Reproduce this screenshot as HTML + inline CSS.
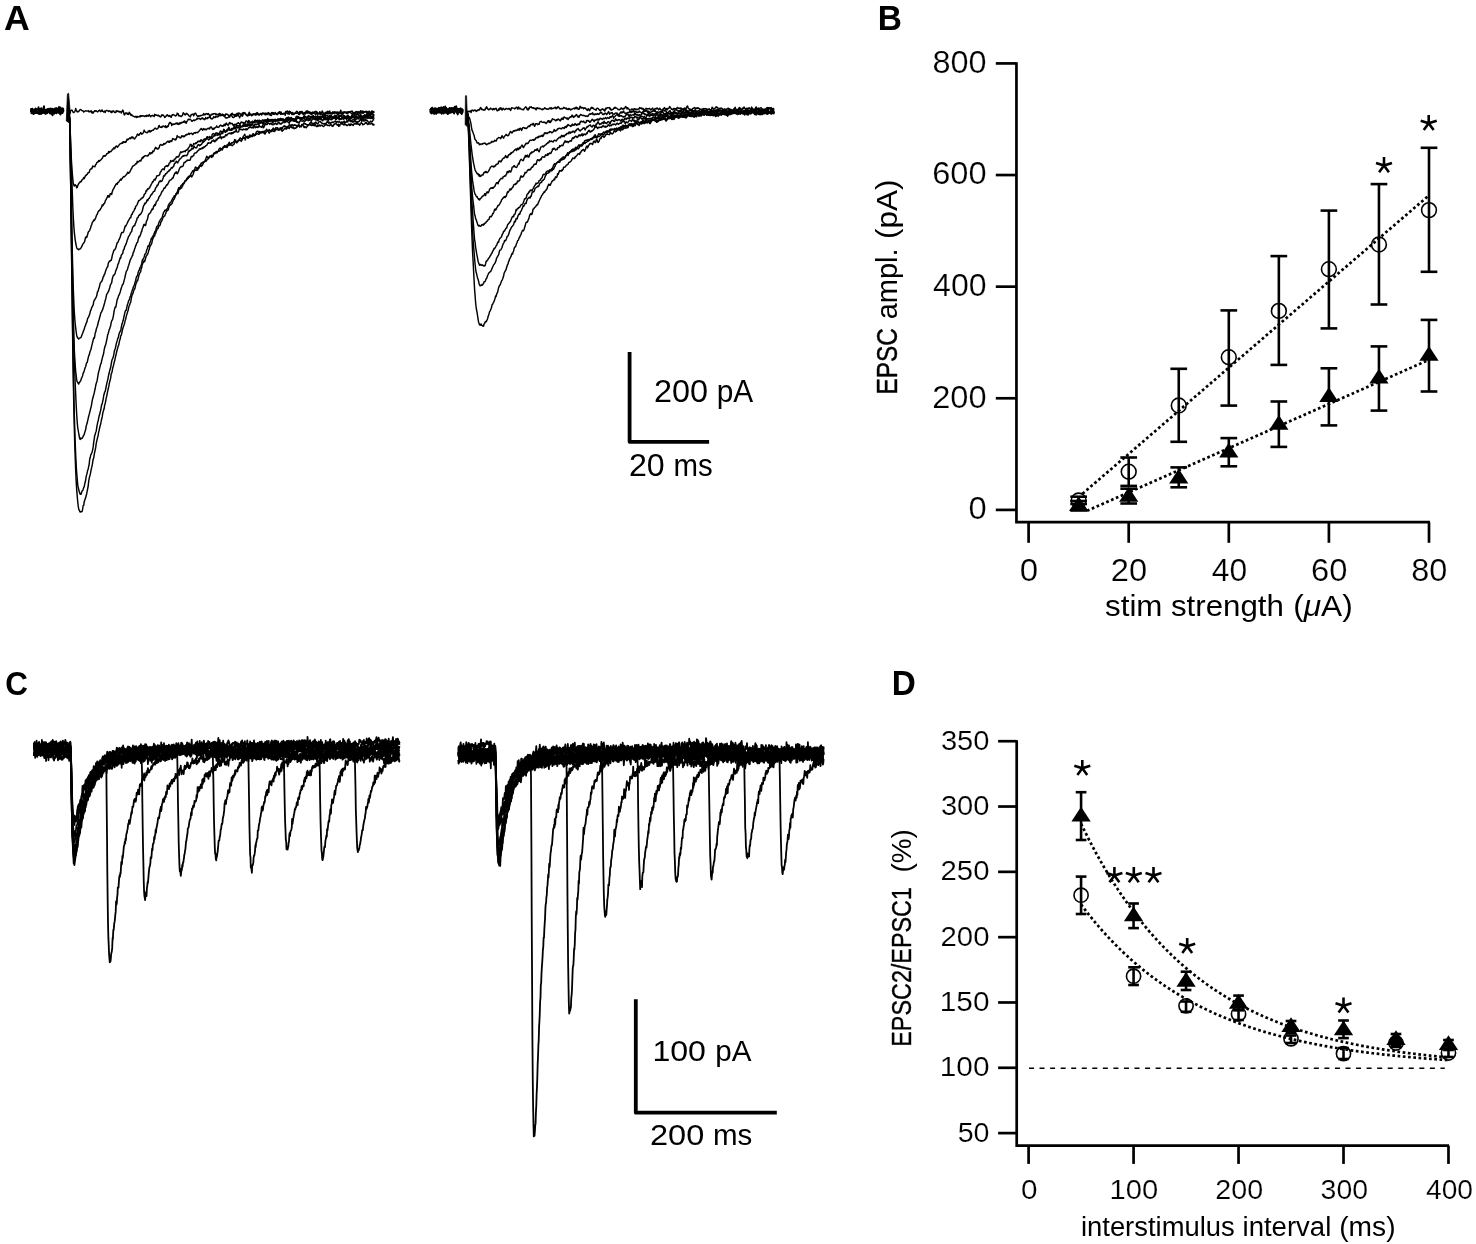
<!DOCTYPE html>
<html><head><meta charset="utf-8"><style>
html,body{margin:0;padding:0;background:#fff;}
svg{display:block;will-change:transform;}
text{font-family:"Liberation Sans",sans-serif;fill:#000;stroke:none;}.n{stroke:#fff;stroke-width:0.6px;stroke-linejoin:round;}.b{stroke:#000;stroke-width:1.4px;stroke-linejoin:round;}
</style></head><body>
<svg width="1476" height="1244" viewBox="0 0 1476 1244" stroke="#000" stroke-linecap="butt">
<text transform="matrix(0.35672,0,0,0.34909,4.108,29.900)" font-size="100" font-weight="bold">A</text>
<text transform="matrix(0.33443,0,0,0.34909,877.843,29.900)" font-size="100" font-weight="bold">B</text>
<text transform="matrix(0.31450,0,0,0.34064,5.142,694.659)" font-size="100" font-weight="bold">C</text>
<text transform="matrix(0.33306,0,0,0.34327,891.852,694.700)" font-size="100" font-weight="bold">D</text>
<path d="M629.6,351.9V441.8H709.1" fill="none" stroke-width="3.8" stroke-linejoin="round"/>
<text transform="matrix(0.32405,0,0,0.31378,653.980,402.086)" font-size="100">200</text>
<text transform="matrix(0.29870,0,0,0.31378,716.658,402.086)" font-size="100">pA</text>
<text transform="matrix(0.32176,0,0,0.31095,628.891,475.589)" font-size="100">20</text>
<text transform="matrix(0.29431,0,0,0.31095,673.613,475.589)" font-size="100">ms</text>
<path d="M635.8,999.3V1112.7H776.8" fill="none" stroke-width="3.8" stroke-linejoin="round"/>
<text transform="matrix(0.32090,0,0,0.30247,652.393,1060.598)" font-size="100">100</text>
<text transform="matrix(0.29610,0,0,0.30247,715.175,1060.598)" font-size="100">pA</text>
<text transform="matrix(0.32532,0,0,0.29399,649.973,1144.806)" font-size="100">200</text>
<text transform="matrix(0.29512,0,0,0.29399,713.008,1144.806)" font-size="100">ms</text>
<path d="M1016.45,62.3V522.2H1430.0" fill="none" stroke-width="2.7" stroke-linejoin="miter"/>
<line x1="995.80" y1="509.90" x2="1016.45" y2="509.90" stroke-width="2.7"/>
<text transform="matrix(0.32670,0,0,0.30671,968.393,519.143)" font-size="100" class="n">0</text>
<line x1="995.80" y1="398.28" x2="1016.45" y2="398.28" stroke-width="2.7"/>
<text transform="matrix(0.32595,0,0,0.30671,932.170,407.523)" font-size="100" class="n">200</text>
<line x1="995.80" y1="286.66" x2="1016.45" y2="286.66" stroke-width="2.7"/>
<text transform="matrix(0.32037,0,0,0.30671,933.079,295.903)" font-size="100" class="n">400</text>
<line x1="995.80" y1="175.04" x2="1016.45" y2="175.04" stroke-width="2.7"/>
<text transform="matrix(0.32595,0,0,0.30671,932.170,184.283)" font-size="100" class="n">600</text>
<line x1="995.80" y1="63.42" x2="1016.45" y2="63.42" stroke-width="2.7"/>
<text transform="matrix(0.32441,0,0,0.30671,932.421,72.663)" font-size="100" class="n">800</text>
<line x1="1028.60" y1="522.20" x2="1028.60" y2="542.80" stroke-width="2.7"/>
<text transform="matrix(0.33089,0,0,0.30954,1019.776,581.390)" font-size="100" class="n">0</text>
<line x1="1128.70" y1="522.20" x2="1128.70" y2="542.80" stroke-width="2.7"/>
<text transform="matrix(0.32665,0,0,0.30954,1110.767,581.390)" font-size="100" class="n">20</text>
<line x1="1228.80" y1="522.20" x2="1228.80" y2="542.80" stroke-width="2.7"/>
<text transform="matrix(0.31810,0,0,0.30954,1211.784,581.390)" font-size="100" class="n">40</text>
<line x1="1328.90" y1="522.20" x2="1328.90" y2="542.80" stroke-width="2.7"/>
<text transform="matrix(0.32665,0,0,0.30954,1310.967,581.390)" font-size="100" class="n">60</text>
<line x1="1429.00" y1="522.20" x2="1429.00" y2="542.80" stroke-width="2.7"/>
<text transform="matrix(0.32427,0,0,0.30954,1411.322,581.390)" font-size="100" class="n">80</text>
<text transform="matrix(0.31322,0,0,0.29763,1105.039,616.300)" font-size="100">stim</text>
<text transform="matrix(0.31278,0,0,0.29763,1170.940,616.300)" font-size="100">strength</text>
<text transform="matrix(0.31641,0,0,0.29763,1293.222,616.300)" font-size="100">(<tspan font-style="italic">μ</tspan>A)</text>
<text transform="matrix(0,-0.24385,0.29673,0,896.900,394.612)" font-size="100" class="b">EPSC</text>
<text transform="matrix(0,-0.29016,0.29673,0,896.900,319.333)" font-size="100">ampl.</text>
<text transform="matrix(0,-0.31489,0.29673,0,896.900,239.068)" font-size="100">(pA)</text>
<line x1="1082.5" y1="493.7" x2="1427.6" y2="196.5" stroke-width="2.7" stroke-dasharray="2.7 2.56"/>
<line x1="1087.0" y1="510.8" x2="1429.0" y2="359.8" stroke-width="2.7" stroke-dasharray="2.7 2.56"/>
<line x1="1078.65" y1="496.70" x2="1078.65" y2="504.00" stroke-width="2.6"/>
<line x1="1070.30" y1="496.70" x2="1087.00" y2="496.70" stroke-width="2.6"/>
<line x1="1070.30" y1="504.00" x2="1087.00" y2="504.00" stroke-width="2.6"/>
<circle cx="1078.65" cy="500.50" r="7.4" fill="none" stroke-width="1.6"/>
<line x1="1128.70" y1="457.50" x2="1128.70" y2="485.90" stroke-width="2.6"/>
<line x1="1120.35" y1="457.50" x2="1137.05" y2="457.50" stroke-width="2.6"/>
<line x1="1120.35" y1="485.90" x2="1137.05" y2="485.90" stroke-width="2.6"/>
<circle cx="1128.70" cy="471.70" r="7.4" fill="none" stroke-width="1.6"/>
<line x1="1178.75" y1="368.80" x2="1178.75" y2="441.80" stroke-width="2.6"/>
<line x1="1170.40" y1="368.80" x2="1187.10" y2="368.80" stroke-width="2.6"/>
<line x1="1170.40" y1="441.80" x2="1187.10" y2="441.80" stroke-width="2.6"/>
<circle cx="1178.75" cy="405.50" r="7.4" fill="none" stroke-width="1.6"/>
<line x1="1228.80" y1="310.40" x2="1228.80" y2="405.60" stroke-width="2.6"/>
<line x1="1220.45" y1="310.40" x2="1237.15" y2="310.40" stroke-width="2.6"/>
<line x1="1220.45" y1="405.60" x2="1237.15" y2="405.60" stroke-width="2.6"/>
<circle cx="1228.80" cy="357.20" r="7.4" fill="none" stroke-width="1.6"/>
<line x1="1278.85" y1="256.10" x2="1278.85" y2="364.90" stroke-width="2.6"/>
<line x1="1270.50" y1="256.10" x2="1287.20" y2="256.10" stroke-width="2.6"/>
<line x1="1270.50" y1="364.90" x2="1287.20" y2="364.90" stroke-width="2.6"/>
<circle cx="1278.85" cy="310.90" r="7.4" fill="none" stroke-width="1.6"/>
<line x1="1328.90" y1="210.60" x2="1328.90" y2="328.40" stroke-width="2.6"/>
<line x1="1320.55" y1="210.60" x2="1337.25" y2="210.60" stroke-width="2.6"/>
<line x1="1320.55" y1="328.40" x2="1337.25" y2="328.40" stroke-width="2.6"/>
<circle cx="1328.90" cy="269.20" r="7.4" fill="none" stroke-width="1.6"/>
<line x1="1378.95" y1="184.10" x2="1378.95" y2="304.50" stroke-width="2.6"/>
<line x1="1370.60" y1="184.10" x2="1387.30" y2="184.10" stroke-width="2.6"/>
<line x1="1370.60" y1="304.50" x2="1387.30" y2="304.50" stroke-width="2.6"/>
<circle cx="1378.95" cy="244.50" r="7.4" fill="none" stroke-width="1.6"/>
<line x1="1429.00" y1="147.80" x2="1429.00" y2="271.80" stroke-width="2.6"/>
<line x1="1420.65" y1="147.80" x2="1437.35" y2="147.80" stroke-width="2.6"/>
<line x1="1420.65" y1="271.80" x2="1437.35" y2="271.80" stroke-width="2.6"/>
<circle cx="1429.00" cy="210.10" r="7.4" fill="none" stroke-width="1.6"/>
<line x1="1078.65" y1="501.00" x2="1078.65" y2="510.50" stroke-width="2.6"/>
<line x1="1070.30" y1="501.00" x2="1087.00" y2="501.00" stroke-width="2.6"/>
<line x1="1070.30" y1="510.50" x2="1087.00" y2="510.50" stroke-width="2.6"/>
<path d="M1078.65,496.13L1088.25,510.93L1069.05,510.93Z" fill="#000" stroke="none"/>
<line x1="1128.70" y1="488.70" x2="1128.70" y2="503.50" stroke-width="2.6"/>
<line x1="1120.35" y1="488.70" x2="1137.05" y2="488.70" stroke-width="2.6"/>
<line x1="1120.35" y1="503.50" x2="1137.05" y2="503.50" stroke-width="2.6"/>
<path d="M1128.70,486.93L1138.30,501.73L1119.10,501.73Z" fill="#000" stroke="none"/>
<line x1="1178.75" y1="467.40" x2="1178.75" y2="487.30" stroke-width="2.6"/>
<line x1="1170.40" y1="467.40" x2="1187.10" y2="467.40" stroke-width="2.6"/>
<line x1="1170.40" y1="487.30" x2="1187.10" y2="487.30" stroke-width="2.6"/>
<path d="M1178.75,468.63L1188.35,483.43L1169.15,483.43Z" fill="#000" stroke="none"/>
<line x1="1228.80" y1="438.10" x2="1228.80" y2="466.30" stroke-width="2.6"/>
<line x1="1220.45" y1="438.10" x2="1237.15" y2="438.10" stroke-width="2.6"/>
<line x1="1220.45" y1="466.30" x2="1237.15" y2="466.30" stroke-width="2.6"/>
<path d="M1228.80,442.63L1238.40,457.43L1219.20,457.43Z" fill="#000" stroke="none"/>
<line x1="1278.85" y1="401.50" x2="1278.85" y2="446.90" stroke-width="2.6"/>
<line x1="1270.50" y1="401.50" x2="1287.20" y2="401.50" stroke-width="2.6"/>
<line x1="1270.50" y1="446.90" x2="1287.20" y2="446.90" stroke-width="2.6"/>
<path d="M1278.85,415.03L1288.45,429.83L1269.25,429.83Z" fill="#000" stroke="none"/>
<line x1="1328.90" y1="368.30" x2="1328.90" y2="425.40" stroke-width="2.6"/>
<line x1="1320.55" y1="368.30" x2="1337.25" y2="368.30" stroke-width="2.6"/>
<line x1="1320.55" y1="425.40" x2="1337.25" y2="425.40" stroke-width="2.6"/>
<path d="M1328.90,387.13L1338.50,401.93L1319.30,401.93Z" fill="#000" stroke="none"/>
<line x1="1378.95" y1="346.40" x2="1378.95" y2="410.60" stroke-width="2.6"/>
<line x1="1370.60" y1="346.40" x2="1387.30" y2="346.40" stroke-width="2.6"/>
<line x1="1370.60" y1="410.60" x2="1387.30" y2="410.60" stroke-width="2.6"/>
<path d="M1378.95,368.63L1388.55,383.43L1369.35,383.43Z" fill="#000" stroke="none"/>
<line x1="1429.00" y1="319.90" x2="1429.00" y2="391.50" stroke-width="2.6"/>
<line x1="1420.65" y1="319.90" x2="1437.35" y2="319.90" stroke-width="2.6"/>
<line x1="1420.65" y1="391.50" x2="1437.35" y2="391.50" stroke-width="2.6"/>
<path d="M1429.00,345.93L1438.60,360.73L1419.40,360.73Z" fill="#000" stroke="none"/>
<path d="M1384.00,165.50L1384.00,157.10M1384.00,165.50L1376.01,162.90M1384.00,165.50L1379.06,172.30M1384.00,165.50L1388.94,172.30M1384.00,165.50L1391.99,162.90" stroke-width="2.6" fill="none"/>
<path d="M1428.70,123.30L1428.70,114.90M1428.70,123.30L1420.71,120.70M1428.70,123.30L1423.76,130.10M1428.70,123.30L1433.64,130.10M1428.70,123.30L1436.69,120.70" stroke-width="2.6" fill="none"/>
<path d="M1016.7,740.2V1145.6H1449.0" fill="none" stroke-width="2.7"/>
<line x1="998.10" y1="1133.11" x2="1016.70" y2="1133.11" stroke-width="2.7"/>
<text transform="matrix(0.28668,0,0,0.27986,957.653,1141.628)" font-size="100" class="n">50</text>
<line x1="998.10" y1="1067.79" x2="1016.70" y2="1067.79" stroke-width="2.7"/>
<text transform="matrix(0.29839,0,0,0.27986,939.762,1076.312)" font-size="100" class="n">100</text>
<line x1="998.10" y1="1002.48" x2="1016.70" y2="1002.48" stroke-width="2.7"/>
<text transform="matrix(0.29839,0,0,0.27986,939.762,1010.996)" font-size="100" class="n">150</text>
<line x1="998.10" y1="937.16" x2="1016.70" y2="937.16" stroke-width="2.7"/>
<text transform="matrix(0.29367,0,0,0.27986,940.532,945.680)" font-size="100" class="n">200</text>
<line x1="998.10" y1="871.84" x2="1016.70" y2="871.84" stroke-width="2.7"/>
<text transform="matrix(0.29367,0,0,0.27986,940.532,880.364)" font-size="100" class="n">250</text>
<line x1="998.10" y1="806.53" x2="1016.70" y2="806.53" stroke-width="2.7"/>
<text transform="matrix(0.29137,0,0,0.27986,940.907,815.048)" font-size="100" class="n">300</text>
<line x1="998.10" y1="741.21" x2="1016.70" y2="741.21" stroke-width="2.7"/>
<text transform="matrix(0.29137,0,0,0.27986,940.907,749.732)" font-size="100" class="n">350</text>
<line x1="1028.60" y1="1145.60" x2="1028.60" y2="1163.90" stroke-width="2.7"/>
<text transform="matrix(0.29738,0,0,0.28127,1021.110,1199.319)" font-size="100" class="n">0</text>
<line x1="1133.57" y1="1145.60" x2="1133.57" y2="1163.90" stroke-width="2.7"/>
<text transform="matrix(0.29132,0,0,0.28127,1109.535,1199.319)" font-size="100" class="n">100</text>
<line x1="1238.54" y1="1145.60" x2="1238.54" y2="1163.90" stroke-width="2.7"/>
<text transform="matrix(0.28671,0,0,0.28127,1215.256,1199.319)" font-size="100" class="n">200</text>
<line x1="1343.51" y1="1145.60" x2="1343.51" y2="1163.90" stroke-width="2.7"/>
<text transform="matrix(0.28446,0,0,0.28127,1320.593,1199.319)" font-size="100" class="n">300</text>
<line x1="1448.48" y1="1145.60" x2="1448.48" y2="1163.90" stroke-width="2.7"/>
<text transform="matrix(0.28180,0,0,0.28127,1425.996,1199.319)" font-size="100" class="n">400</text>
<text transform="matrix(0.27405,0,0,0.26919,1080.950,1235.500)" font-size="100">interstimulus</text>
<text transform="matrix(0.27540,0,0,0.26919,1242.541,1235.500)" font-size="100">interval</text>
<text transform="matrix(0.28198,0,0,0.26919,1339.238,1235.500)" font-size="100">(ms)</text>
<text transform="matrix(0,-0.23371,0.27345,0,910.900,1046.728)" font-size="100" class="b">EPSC2/EPSC1</text>
<text transform="matrix(0,-0.27902,0.27345,0,910.900,872.544)" font-size="100">(%)</text>
<line x1="1029.0" y1="1068.2" x2="1444.8" y2="1068.2" stroke-width="1.5" stroke-dasharray="5.0 5.55"/>
<polyline points="1081.08,823.79 1082.92,827.58 1084.76,831.31 1086.60,834.98 1088.43,838.59 1090.27,842.15 1092.11,845.65 1093.94,849.10 1095.78,852.50 1097.62,855.84 1099.45,859.13 1101.29,862.37 1103.13,865.56 1104.97,868.70 1106.80,871.80 1108.64,874.84 1110.48,877.84 1112.31,880.79 1114.15,883.69 1115.99,886.55 1117.82,889.37 1119.66,892.14 1121.50,894.87 1123.34,897.55 1125.17,900.20 1127.01,902.80 1128.85,905.37 1130.68,907.89 1132.52,910.38 1134.36,912.82 1136.19,915.23 1138.03,917.60 1139.87,919.94 1141.71,922.23 1143.54,924.50 1145.38,926.72 1147.22,928.92 1149.05,931.07 1150.89,933.20 1152.73,935.29 1154.56,937.35 1156.40,939.38 1158.24,941.38 1160.07,943.34 1161.91,945.28 1163.75,947.18 1165.59,949.06 1167.42,950.90 1169.26,952.72 1171.10,954.51 1172.93,956.27 1174.77,958.01 1176.61,959.72 1178.44,961.40 1180.28,963.05 1182.12,964.68 1183.96,966.29 1185.79,967.87 1187.63,969.42 1189.47,970.95 1191.30,972.46 1193.14,973.94 1194.98,975.41 1196.81,976.84 1198.65,978.26 1200.49,979.65 1202.33,981.03 1204.16,982.38 1206.00,983.71 1207.84,985.02 1209.67,986.31 1211.51,987.58 1213.35,988.83 1215.18,990.06 1217.02,991.27 1218.86,992.46 1220.70,993.63 1222.53,994.79 1224.37,995.93 1226.21,997.05 1228.04,998.15 1229.88,999.24 1231.72,1000.30 1233.55,1001.36 1235.39,1002.39 1237.23,1003.41 1239.06,1004.42 1240.90,1005.41 1242.74,1006.38 1244.58,1007.34 1246.41,1008.28 1248.25,1009.21 1250.09,1010.12 1251.92,1011.02 1253.76,1011.91 1255.60,1012.78 1257.43,1013.64 1259.27,1014.49 1261.11,1015.32 1262.95,1016.14 1264.78,1016.95 1266.62,1017.74 1268.46,1018.52 1270.29,1019.29 1272.13,1020.05 1273.97,1020.80 1275.80,1021.53 1277.64,1022.25 1279.48,1022.97 1281.32,1023.67 1283.15,1024.36 1284.99,1025.04 1286.83,1025.71 1288.66,1026.36 1290.50,1027.01 1292.34,1027.65 1294.17,1028.28 1296.01,1028.90 1297.85,1029.51 1299.69,1030.11 1301.52,1030.70 1303.36,1031.28 1305.20,1031.85 1307.03,1032.41 1308.87,1032.97 1310.71,1033.52 1312.54,1034.05 1314.38,1034.58 1316.22,1035.10 1318.05,1035.62 1319.89,1036.12 1321.73,1036.62 1323.57,1037.11 1325.40,1037.59 1327.24,1038.06 1329.08,1038.53 1330.91,1038.99 1332.75,1039.44 1334.59,1039.89 1336.42,1040.33 1338.26,1040.76 1340.10,1041.19 1341.94,1041.60 1343.77,1042.02 1345.61,1042.42 1347.45,1042.82 1349.28,1043.22 1351.12,1043.60 1352.96,1043.98 1354.79,1044.36 1356.63,1044.73 1358.47,1045.09 1360.31,1045.45 1362.14,1045.80 1363.98,1046.15 1365.82,1046.49 1367.65,1046.83 1369.49,1047.16 1371.33,1047.49 1373.16,1047.81 1375.00,1048.12 1376.84,1048.43 1378.67,1048.74 1380.51,1049.04 1382.35,1049.34 1384.19,1049.63 1386.02,1049.92 1387.86,1050.20 1389.70,1050.48 1391.53,1050.76 1393.37,1051.03 1395.21,1051.29 1397.04,1051.55 1398.88,1051.81 1400.72,1052.07 1402.56,1052.32 1404.39,1052.56 1406.23,1052.81 1408.07,1053.04 1409.90,1053.28 1411.74,1053.51 1413.58,1053.74 1415.41,1053.96 1417.25,1054.18 1419.09,1054.40 1420.93,1054.61 1422.76,1054.82 1424.60,1055.03 1426.44,1055.24 1428.27,1055.44 1430.11,1055.63 1431.95,1055.83 1433.78,1056.02 1435.62,1056.21 1437.46,1056.40 1439.30,1056.58 1441.13,1056.76 1442.97,1056.94 1444.81,1057.11 1446.64,1057.28 1448.48,1057.45" fill="none" stroke-width="2.7" stroke-dasharray="2.7 2.56"/>
<polyline points="1081.08,904.50 1082.92,906.95 1084.76,909.36 1086.60,911.73 1088.43,914.07 1090.27,916.37 1092.11,918.64 1093.94,920.88 1095.78,923.08 1097.62,925.25 1099.45,927.38 1101.29,929.49 1103.13,931.56 1104.97,933.60 1106.80,935.61 1108.64,937.60 1110.48,939.55 1112.31,941.47 1114.15,943.36 1115.99,945.23 1117.82,947.07 1119.66,948.88 1121.50,950.66 1123.34,952.42 1125.17,954.15 1127.01,955.85 1128.85,957.53 1130.68,959.18 1132.52,960.81 1134.36,962.42 1136.19,964.00 1138.03,965.56 1139.87,967.09 1141.71,968.60 1143.54,970.09 1145.38,971.56 1147.22,973.00 1149.05,974.42 1150.89,975.82 1152.73,977.21 1154.56,978.56 1156.40,979.90 1158.24,981.22 1160.07,982.52 1161.91,983.80 1163.75,985.07 1165.59,986.31 1167.42,987.53 1169.26,988.74 1171.10,989.92 1172.93,991.09 1174.77,992.25 1176.61,993.38 1178.44,994.50 1180.28,995.60 1182.12,996.69 1183.96,997.76 1185.79,998.81 1187.63,999.84 1189.47,1000.87 1191.30,1001.87 1193.14,1002.86 1194.98,1003.84 1196.81,1004.80 1198.65,1005.75 1200.49,1006.68 1202.33,1007.60 1204.16,1008.51 1206.00,1009.40 1207.84,1010.28 1209.67,1011.14 1211.51,1012.00 1213.35,1012.84 1215.18,1013.66 1217.02,1014.48 1218.86,1015.28 1220.70,1016.07 1222.53,1016.85 1224.37,1017.62 1226.21,1018.38 1228.04,1019.12 1229.88,1019.85 1231.72,1020.58 1233.55,1021.29 1235.39,1021.99 1237.23,1022.68 1239.06,1023.36 1240.90,1024.03 1242.74,1024.69 1244.58,1025.34 1246.41,1025.98 1248.25,1026.61 1250.09,1027.23 1251.92,1027.84 1253.76,1028.45 1255.60,1029.04 1257.43,1029.63 1259.27,1030.20 1261.11,1030.77 1262.95,1031.33 1264.78,1031.88 1266.62,1032.42 1268.46,1032.96 1270.29,1033.49 1272.13,1034.00 1273.97,1034.52 1275.80,1035.02 1277.64,1035.52 1279.48,1036.00 1281.32,1036.48 1283.15,1036.96 1284.99,1037.43 1286.83,1037.89 1288.66,1038.34 1290.50,1038.78 1292.34,1039.22 1294.17,1039.66 1296.01,1040.08 1297.85,1040.50 1299.69,1040.92 1301.52,1041.33 1303.36,1041.73 1305.20,1042.12 1307.03,1042.51 1308.87,1042.90 1310.71,1043.27 1312.54,1043.65 1314.38,1044.01 1316.22,1044.38 1318.05,1044.73 1319.89,1045.08 1321.73,1045.43 1323.57,1045.77 1325.40,1046.10 1327.24,1046.43 1329.08,1046.76 1330.91,1047.08 1332.75,1047.39 1334.59,1047.71 1336.42,1048.01 1338.26,1048.31 1340.10,1048.61 1341.94,1048.90 1343.77,1049.19 1345.61,1049.48 1347.45,1049.76 1349.28,1050.03 1351.12,1050.30 1352.96,1050.57 1354.79,1050.83 1356.63,1051.09 1358.47,1051.35 1360.31,1051.60 1362.14,1051.85 1363.98,1052.09 1365.82,1052.33 1367.65,1052.57 1369.49,1052.80 1371.33,1053.03 1373.16,1053.26 1375.00,1053.48 1376.84,1053.70 1378.67,1053.92 1380.51,1054.13 1382.35,1054.34 1384.19,1054.55 1386.02,1054.76 1387.86,1054.96 1389.70,1055.15 1391.53,1055.35 1393.37,1055.54 1395.21,1055.73 1397.04,1055.92 1398.88,1056.10 1400.72,1056.28 1402.56,1056.46 1404.39,1056.64 1406.23,1056.81 1408.07,1056.98 1409.90,1057.15 1411.74,1057.31 1413.58,1057.47 1415.41,1057.63 1417.25,1057.79 1419.09,1057.95 1420.93,1058.10 1422.76,1058.25 1424.60,1058.40 1426.44,1058.55 1428.27,1058.69 1430.11,1058.83 1431.95,1058.97 1433.78,1059.11 1435.62,1059.25 1437.46,1059.38 1439.30,1059.51 1441.13,1059.64 1442.97,1059.77 1444.81,1059.90 1446.64,1060.02 1448.48,1060.14" fill="none" stroke-width="2.7" stroke-dasharray="2.7 2.56"/>
<line x1="1081.08" y1="876.60" x2="1081.08" y2="914.00" stroke-width="2.6"/>
<line x1="1075.73" y1="876.60" x2="1086.43" y2="876.60" stroke-width="2.6"/>
<line x1="1075.73" y1="914.00" x2="1086.43" y2="914.00" stroke-width="2.6"/>
<circle cx="1081.08" cy="895.20" r="7.1" fill="none" stroke-width="1.6"/>
<line x1="1133.57" y1="967.30" x2="1133.57" y2="985.00" stroke-width="2.6"/>
<line x1="1128.22" y1="967.30" x2="1138.92" y2="967.30" stroke-width="2.6"/>
<line x1="1128.22" y1="985.00" x2="1138.92" y2="985.00" stroke-width="2.6"/>
<circle cx="1133.57" cy="976.20" r="7.1" fill="none" stroke-width="1.6"/>
<line x1="1186.05" y1="1001.50" x2="1186.05" y2="1011.80" stroke-width="2.6"/>
<line x1="1180.70" y1="1001.50" x2="1191.40" y2="1001.50" stroke-width="2.6"/>
<line x1="1180.70" y1="1011.80" x2="1191.40" y2="1011.80" stroke-width="2.6"/>
<circle cx="1186.05" cy="1005.90" r="7.1" fill="none" stroke-width="1.6"/>
<line x1="1238.54" y1="1010.20" x2="1238.54" y2="1020.00" stroke-width="2.6"/>
<line x1="1233.19" y1="1010.20" x2="1243.89" y2="1010.20" stroke-width="2.6"/>
<line x1="1233.19" y1="1020.00" x2="1243.89" y2="1020.00" stroke-width="2.6"/>
<circle cx="1238.54" cy="1014.00" r="7.1" fill="none" stroke-width="1.6"/>
<line x1="1291.02" y1="1035.50" x2="1291.02" y2="1043.00" stroke-width="2.6"/>
<line x1="1285.67" y1="1035.50" x2="1296.37" y2="1035.50" stroke-width="2.6"/>
<line x1="1285.67" y1="1043.00" x2="1296.37" y2="1043.00" stroke-width="2.6"/>
<circle cx="1291.02" cy="1038.80" r="7.1" fill="none" stroke-width="1.6"/>
<line x1="1343.51" y1="1048.00" x2="1343.51" y2="1059.00" stroke-width="2.6"/>
<line x1="1338.16" y1="1048.00" x2="1348.86" y2="1048.00" stroke-width="2.6"/>
<line x1="1338.16" y1="1059.00" x2="1348.86" y2="1059.00" stroke-width="2.6"/>
<circle cx="1343.51" cy="1053.70" r="7.1" fill="none" stroke-width="1.6"/>
<line x1="1395.99" y1="1039.00" x2="1395.99" y2="1047.00" stroke-width="2.6"/>
<line x1="1390.64" y1="1039.00" x2="1401.34" y2="1039.00" stroke-width="2.6"/>
<line x1="1390.64" y1="1047.00" x2="1401.34" y2="1047.00" stroke-width="2.6"/>
<circle cx="1395.99" cy="1043.00" r="7.1" fill="none" stroke-width="1.6"/>
<line x1="1448.48" y1="1049.00" x2="1448.48" y2="1057.00" stroke-width="2.6"/>
<line x1="1443.13" y1="1049.00" x2="1453.83" y2="1049.00" stroke-width="2.6"/>
<line x1="1443.13" y1="1057.00" x2="1453.83" y2="1057.00" stroke-width="2.6"/>
<circle cx="1448.48" cy="1053.00" r="7.1" fill="none" stroke-width="1.6"/>
<line x1="1081.08" y1="792.20" x2="1081.08" y2="840.00" stroke-width="2.6"/>
<line x1="1075.73" y1="792.20" x2="1086.43" y2="792.20" stroke-width="2.6"/>
<line x1="1075.73" y1="840.00" x2="1086.43" y2="840.00" stroke-width="2.6"/>
<path d="M1081.08,806.80L1090.73,821.50L1071.43,821.50Z" fill="#000" stroke="none"/>
<line x1="1133.57" y1="903.50" x2="1133.57" y2="928.10" stroke-width="2.6"/>
<line x1="1128.22" y1="903.50" x2="1138.92" y2="903.50" stroke-width="2.6"/>
<line x1="1128.22" y1="928.10" x2="1138.92" y2="928.10" stroke-width="2.6"/>
<path d="M1133.57,906.60L1143.22,921.30L1123.92,921.30Z" fill="#000" stroke="none"/>
<line x1="1186.05" y1="971.70" x2="1186.05" y2="990.00" stroke-width="2.6"/>
<line x1="1180.70" y1="971.70" x2="1191.40" y2="971.70" stroke-width="2.6"/>
<line x1="1180.70" y1="990.00" x2="1191.40" y2="990.00" stroke-width="2.6"/>
<path d="M1186.05,972.10L1195.70,986.80L1176.40,986.80Z" fill="#000" stroke="none"/>
<line x1="1238.54" y1="995.60" x2="1238.54" y2="1010.00" stroke-width="2.6"/>
<line x1="1233.19" y1="995.60" x2="1243.89" y2="995.60" stroke-width="2.6"/>
<line x1="1233.19" y1="1010.00" x2="1243.89" y2="1010.00" stroke-width="2.6"/>
<path d="M1238.54,994.10L1248.19,1008.80L1228.89,1008.80Z" fill="#000" stroke="none"/>
<line x1="1291.02" y1="1021.00" x2="1291.02" y2="1033.00" stroke-width="2.6"/>
<line x1="1285.67" y1="1021.00" x2="1296.37" y2="1021.00" stroke-width="2.6"/>
<line x1="1285.67" y1="1033.00" x2="1296.37" y2="1033.00" stroke-width="2.6"/>
<path d="M1291.02,1017.20L1300.67,1031.90L1281.37,1031.90Z" fill="#000" stroke="none"/>
<line x1="1343.51" y1="1020.50" x2="1343.51" y2="1038.10" stroke-width="2.6"/>
<line x1="1338.16" y1="1020.50" x2="1348.86" y2="1020.50" stroke-width="2.6"/>
<line x1="1338.16" y1="1038.10" x2="1348.86" y2="1038.10" stroke-width="2.6"/>
<path d="M1343.51,1020.60L1353.16,1035.30L1333.86,1035.30Z" fill="#000" stroke="none"/>
<line x1="1395.99" y1="1034.00" x2="1395.99" y2="1046.00" stroke-width="2.6"/>
<line x1="1390.64" y1="1034.00" x2="1401.34" y2="1034.00" stroke-width="2.6"/>
<line x1="1390.64" y1="1046.00" x2="1401.34" y2="1046.00" stroke-width="2.6"/>
<path d="M1395.99,1030.20L1405.64,1044.90L1386.34,1044.90Z" fill="#000" stroke="none"/>
<line x1="1448.48" y1="1040.00" x2="1448.48" y2="1050.00" stroke-width="2.6"/>
<line x1="1443.13" y1="1040.00" x2="1453.83" y2="1040.00" stroke-width="2.6"/>
<line x1="1443.13" y1="1050.00" x2="1453.83" y2="1050.00" stroke-width="2.6"/>
<path d="M1448.48,1035.20L1458.13,1049.90L1438.83,1049.90Z" fill="#000" stroke="none"/>
<path d="M1082.30,768.30L1082.30,759.90M1082.30,768.30L1074.31,765.70M1082.30,768.30L1077.36,775.10M1082.30,768.30L1087.24,775.10M1082.30,768.30L1090.29,765.70" stroke-width="2.6" fill="none"/>
<path d="M1114.40,875.50L1114.40,867.10M1114.40,875.50L1106.41,872.90M1114.40,875.50L1109.46,882.30M1114.40,875.50L1119.34,882.30M1114.40,875.50L1122.39,872.90" stroke-width="2.6" fill="none"/>
<path d="M1133.80,875.50L1133.80,867.10M1133.80,875.50L1125.81,872.90M1133.80,875.50L1128.86,882.30M1133.80,875.50L1138.74,882.30M1133.80,875.50L1141.79,872.90" stroke-width="2.6" fill="none"/>
<path d="M1153.50,875.50L1153.50,867.10M1153.50,875.50L1145.51,872.90M1153.50,875.50L1148.56,882.30M1153.50,875.50L1158.44,882.30M1153.50,875.50L1161.49,872.90" stroke-width="2.6" fill="none"/>
<path d="M1187.20,946.30L1187.20,937.90M1187.20,946.30L1179.21,943.70M1187.20,946.30L1182.26,953.10M1187.20,946.30L1192.14,953.10M1187.20,946.30L1195.19,943.70" stroke-width="2.6" fill="none"/>
<path d="M1343.50,1005.80L1343.50,997.40M1343.50,1005.80L1335.51,1003.20M1343.50,1005.80L1338.56,1012.60M1343.50,1005.80L1348.44,1012.60M1343.50,1005.80L1351.49,1003.20" stroke-width="2.6" fill="none"/>
<path d="M31.0,108.2l.5,3.1 .5,-1.9 .5,.9 .5,.5 .5,-.5 .5,-.5 .5,2 .5,-.6 .5,-2.8 .5,4.5 .5,-1.8 .5,-1.9 .5,2.1 .5,-1.3 .5,.7 .5,1.3 .5,-1.7 .5,2.3 .5,1 .5,-.2 .5,-1.8 .5,1.5 .5,-2.9 .5,1.2 .5,.1 .5,-2.5 .5,1.1 .5,2 .5,1 .5,-2.2 .5,.1 .5,-1.7 .5,0 .5,-.4 .5,2 .5,.5 .5,-1 .5,-.2 .5,2.1 .5,.6 .5,-.4 .5,1.3 .5,-1.7 .5,.1 .5,-1 .5,1.3 .5,.9 .5,-2 .5,-.6 .5,.4 .5,.2 .5,.7 .5,.1 .5,-.1 .5,-1.7 .5,.9 .5,-2.6 .5,1.4 .5,-2 .5,1.6 .5,1.2 .5,-.5 .5,.6 .5,-2.3 .5,.7" fill="none" stroke-width="1.8" stroke-linejoin="round"/>
<path d="M68.9,115.0l.8,-2.6 .5,.7 .5,-2.4 .5,-.4 .5,-.1 .5,.1 .5,1 .5,1.3 .5,0 .5,-.4 .5,-.6 .5,-.7 .5,-2.4 .5,1.6 .5,.8 .5,1 .5,-.3 .5,.1 .5,-.1 .5,-.9 .5,-.6 .5,-.5 .5,-.1 .5,.4 .5,.5 .5,.4 .5,-.1 .5,.3 .5,1.1 .5,-.5 .5,-.4 .5,-.1 .5,-.4 .5,.2 .5,.2 .5,0 .5,-.2 .5,-.3 .5,1.2 .5,0 .5,-.1 .5,-.7 .5,.7 .5,-.9 .5,1.8 .5,.4 .5,-1.2 .5,1.2 .5,-1 .5,-.4 .5,-.9 .5,.5 .5,-.3 .5,-.2 .5,.5 .5,.4 .5,.3 .5,-.6 .5,-.7 .5,.1 .5,-.6 .5,.8 .5,.8 .5,-.4 .5,-1 .5,-.4 .5,1.5 .5,.1 .5,.5 .5,-.5 .5,-.4 .5,1.4 .5,-1.4 .5,-.7 .5,.1 .5,0 .5,.3 .5,.2 .5,.6 .5,-.8 .5,.3 .5,-.1 .5,.9 .5,.8 .5,-1.4 .5,.9 .5,-1.3 .5,.4 .5,-.4 .5,1.1 .5,.4 .5,.2 .5,-.1 .5,-1.8 .5,.9 .5,-.6 .5,-.1 .5,.5 .5,-.2 .5,1 .5,-.7 .5,0 .5,.3 .5,1.3 .5,-1 .5,-.9 .5,-1.1 .5,.6 .5,2.2 .5,1.8 .5,.3 .5,-1.9 .5,-.2 .5,0 .5,.1 .5,1.3 .5,-1 .5,1 .5,.1 .5,-2.1 .5,.8 .5,.3 .5,1.5 .5,.6 .5,-.9 .5,.9 .5,.4 .5,.2 .5,.4 .5,.2 .5,.2 .5,-.3 .5,-.3 .5,1.2 .5,.1 .5,-1.3 .5,.7 .5,-.2 .5,0 .5,-.1 .5,-.6 .5,.7 .5,-1.3 .5,.1 .5,.6 .5,-.5 .5,.3 .5,-.2 .5,.1 .5,.2 .5,.5 .5,-.7 .5,-.2 .5,.8 .5,-1.2 .5,0 .5,.7 .5,.2 .5,-.5 .5,-1.2 .5,1 .5,.7 .5,.5 .5,-.9 .5,0 .5,-.3 .5,-.2 .5,.7 .5,0 .5,.6 .5,-2.3 .5,.7 .5,-.3 .5,.5 .5,-.1 .5,.2 .5,.5 .5,-.7 .5,.7 .5,.4 .5,-.2 .5,1 .5,-.1 .5,-.8 .5,-1.2 .5,.7 .5,-.8 .5,.3 .5,.4 .5,.9 .5,1.1 .5,-.3 .5,-1 .5,-.2 .5,-.7 .5,-.5 .5,.2 .5,1.2 .5,-.2 .5,.4 .5,-1 .5,.6 .5,1 .5,.3 .5,-1.4 .5,-1.2 .5,.4 .5,-.6 .5,.3 .5,.2 .5,.1 .5,.6 .5,.4 .5,-.6 .5,-.4 .5,-2 .5,1 .5,-.4 .5,2.1 .5,-.4 .5,.6 .5,-.1 .5,.4 .5,.2 .5,-.5 .5,-.4 .5,-1 .5,-1.8 .5,.4 .5,.5 .5,.9 .5,.5 .5,-.8 .5,-.8 .5,-.2 .5,.9 .5,.1 .5,.4 .5,.9 .5,.5 .5,.2 .5,.6 .5,-.9 .5,-1.4 .5,.1 .5,-.4 .5,-.1 .5,-.1 .5,1.7 .5,-1.6 .5,-.7 .5,-.2 .5,0 .5,1.3 .5,.8 .5,.3 .5,1.1 .5,-.6 .5,-.4 .5,.1 .5,.3 .5,-.2 .5,-.5 .5,.1 .5,-.1 .5,-.3 .5,-.2 .5,-.2 .5,-1.4 .5,1.5 .5,-.4 .5,.2 .5,-.5 .5,-.7 .5,.4 .5,-.1 .5,.6 .5,-.8 .5,.5 .5,.6 .5,1.1 .5,.5 .5,-1.1 .5,-.8 .5,.3 .5,-.7 .5,.5 .5,-.8 .5,.2 .5,-.3 .5,0 .5,-.1 .5,1.2 .5,.1 .5,-.9 .5,1.1 .5,-.4 .5,-.1 .5,.7 .5,-1.7 .5,0 .5,.1 .5,2.1 .5,-.3 .5,-.1 .5,-1.2 .5,1.3 .5,-.8 .5,1.4 .5,.2 .5,-.5 .5,-.2 .5,-1.5 .5,.5 .5,-.4 .5,.1 .5,.6 .5,.2 .5,.2 .5,1 .5,.9 .5,-1.9 .5,-.3 .5,-1.2 .5,.6 .5,-1.1 .5,1.1 .5,.3 .5,0 .5,1 .5,-.3 .5,-1 .5,1.9 .5,-1.3 .5,-1 .5,-.7 .5,.6 .5,.5 .5,-1.3 .5,.7 .5,-.4 .5,.7 .5,0 .5,1.1 .5,-.3 .5,-1.5 .5,.5 .5,-1.2 .5,.2 .5,.8 .5,-.6 .5,1 .5,.4 .5,.5 .5,.7 .5,-.1 .5,.4 .5,-.2 .5,-1.8 .5,-1.7 .5,1.5 .5,.5 .5,0 .5,.2 .5,.3 .5,.1 .5,.2 .5,-.4 .5,-.5 .5,-.1 .5,.7 .5,.3 .5,.2 .5,-.5 .5,-.1 .5,-1 .5,.9 .5,.1 .5,-.3 .5,.6 .5,-.5 .5,-.1 .5,-.2 .5,-.2 .5,-.5 .5,.3 .5,-.7 .5,.1 .5,.5 .5,.3 .5,.2 .5,.8 .5,-.6 .5,-.7 .5,-.3 .5,.9 .5,-.8 .5,-.1 .5,-.2 .5,.5 .5,.6 .5,.3 .5,1 .5,.1 .5,-.8 .5,-1.7 .5,-.2 .5,-.1 .5,.5 .5,.3 .5,-.2 .5,-1 .5,.7 .5,.6 .5,-.1 .5,1.2 .5,-1.7 .5,.2 .5,.3 .5,-1.3 .5,.8 .5,.4 .5,.9 .5,-2.3 .5,1.7 .5,.4 .5,-.2 .5,-.5 .5,-.1 .5,.2 .5,.2 .5,1.5 .5,-1.8 .5,-.3 .5,-.3 .5,.3 .5,.6 .5,0 .5,.1 .5,.4 .5,-1 .5,-1.1 .5,.6 .5,-.3 .5,.7 .5,-.7 .5,.2 .5,.3 .5,1.3 .5,-.6 .5,-.3 .5,-.3 .5,.3 .5,0 .5,-.1 .5,-.3 .5,-.1 .5,.5 .5,1.1 .5,.1 .5,-.3 .5,-1.5 .5,.4 .5,-1.3 .5,-.5 .5,.3 .5,.8 .5,2 .5,.2 .5,-1.9 .5,-.3 .5,.1 .5,.3 .5,-2 .5,1.7 .5,.8 .5,-1.1 .5,-.3 .5,.9 .5,.6 .5,-.4 .5,-.3 .5,-.4 .5,0 .5,1.1 .5,.2 .5,.1 .5,-.4 .5,-.1 .5,-.5 .5,-.4 .5,1.9 .5,-.7 .5,.4 .5,-.6 .5,.5 .5,-.3 .5,0 .5,.4 .5,-1 .5,.7 .5,.7 .5,0 .5,-1.7 .5,.1 .5,-1.8 .5,.9 .5,1 .5,1.2 .5,.9 .5,.1 .5,-.7 .5,-1.1 .5,.5 .5,-.7 .5,0 .5,-1.9 .5,.7 .5,.4 .5,0 .5,-1.3 .5,1.6 .5,.6 .5,.7 .5,-.3 .5,.5 .5,-1.8 .5,.3 .5,.1 .5,.9 .5,.1 .5,-1 .5,-.4 .5,.3 .5,.6 .5,-.1 .5,-.2 .5,0 .5,1 .5,-.9 .5,-.7 .5,-.6 .5,-1.4 .5,1 .5,.9 .5,.1 .5,.6 .5,.6 .5,-.9 .5,-.3 .5,.5 .5,-.6 .5,0 .5,1.1 .5,.3 .5,-1.7 .5,.7 .5,-.1 .5,.1 .5,-.6 .5,0 .5,.6 .5,.1 .5,.5 .5,0 .5,1.5 .5,0 .5,-1 .5,-1.2 .5,1.6 .5,1.1 .5,-2.1 .5,-1.2 .5,.8 .5,-1.2 .5,.8 .5,.3 .5,-1 .5,1.2 .5,.7 .5,-1.4 .5,-.7 .5,-.7 .5,.7 .5,1.2 .5,-.3 .5,1 .5,.1 .5,-1 .5,-.4 .5,-.2 .5,-.3 .5,0 .5,.9 .5,.7 .5,.7 .5,.5 .5,.1 .5,-1.7 .5,.3 .5,.3 .5,.2 .5,-1.3 .5,.9 .5,-2 .5,0 .5,.3 .5,.5 .5,-.3 .5,.4" fill="none" stroke-width="1.45" stroke-linejoin="round"/>
<path d="M31.0,112.6l.5,.6 .5,-2.3 .5,2 .5,0 .5,1.2 .5,-.5 .5,-2.3 .5,-1 .5,-.9 .5,1.4 .5,1.4 .5,-1.4 .5,-.8 .5,.6 .5,.7 .5,-.9 .5,3.5 .5,-1.9 .5,-.6 .5,2.7 .5,-2.2 .5,1.5 .5,-1.5 .5,.5 .5,-1.5 .5,-.5 .5,.9 .5,0 .5,0 .5,-.8 .5,0 .5,.3 .5,.8 .5,-.9 .5,.4 .5,1.1 .5,-.2 .5,0 .5,-.8 .5,-.2 .5,1.6 .5,-1 .5,-1.5 .5,.1 .5,.8 .5,-.6 .5,1.2 .5,-1.6 .5,.8 .5,-.3 .5,-.1 .5,2.2 .5,-3.9 .5,2.7 .5,.6 .5,-.6 .5,-2 .5,2.4 .5,-2 .5,1 .5,2.2 .5,-2 .5,.7 .5,-2.6 .5,-.9" fill="none" stroke-width="1.8" stroke-linejoin="round"/>
<path d="M68.9,115.0l.8,2.8 .5,14.3 .5,13.3 .5,10.9 .5,9.1 .5,7 .5,5.7 .5,4.8 .5,1.6 .5,1.6 .5,-.8 .5,-.6 .5,.7 .5,.3 .5,2 .5,-.2 .5,-1.6 .5,-1.3 .5,-1 .5,-.7 .5,-.1 .5,-1.3 .5,.2 .5,.1 .5,-1.3 .5,-.8 .5,-.4 .5,-.4 .5,-1.4 .5,1.1 .5,-1.1 .5,-1.1 .5,-1.1 .5,.2 .5,-1 .5,0 .5,-1.3 .5,-.6 .5,.1 .5,-.5 .5,-1.6 .5,-1.3 .5,-.3 .5,-.5 .5,.4 .5,-1 .5,-2 .5,.6 .5,-.1 .5,.1 .5,.3 .5,-.8 .5,-1.5 .5,-.3 .5,-1.4 .5,-.5 .5,-.4 .5,.2 .5,-1.5 .5,.8 .5,-1 .5,.2 .5,-.5 .5,-.6 .5,-.7 .5,-.4 .5,-.8 .5,-1.5 .5,.1 .5,-.7 .5,.6 .5,.2 .5,-1 .5,-.3 .5,-1.2 .5,-.1 .5,-.4 .5,-.1 .5,-1.7 .5,1 .5,-.8 .5,-.3 .5,.4 .5,-.6 .5,-.6 .5,-1.1 .5,.2 .5,-1 .5,-.9 .5,.4 .5,.5 .5,-1.5 .5,-.8 .5,.2 .5,-.6 .5,1.3 .5,-.3 .5,-.9 .5,-.4 .5,-1 .5,-.5 .5,-.3 .5,-.2 .5,-.2 .5,-.3 .5,-.6 .5,.7 .5,-1.7 .5,.1 .5,.5 .5,.1 .5,-.7 .5,.8 .5,-.8 .5,-1.6 .5,-.9 .5,.8 .5,-.4 .5,-.4 .5,-.7 .5,-.5 .5,.1 .5,.7 .5,-1.2 .5,-.6 .5,1 .5,-1 .5,1 .5,.1 .5,1 .5,-.1 .5,-.9 .5,-.6 .5,-.8 .5,-.8 .5,-1.3 .5,-.5 .5,1 .5,.3 .5,-.2 .5,-1.3 .5,0 .5,-1.2 .5,.6 .5,1 .5,-.8 .5,.3 .5,-1 .5,-1.2 .5,-1.4 .5,1.6 .5,.2 .5,.4 .5,.2 .5,0 .5,.3 .5,-.2 .5,-1.6 .5,.5 .5,.1 .5,-1.2 .5,1.5 .5,-.9 .5,.3 .5,-.7 .5,-.3 .5,-.2 .5,.1 .5,-.6 .5,-.6 .5,-.7 .5,-.1 .5,.1 .5,.7 .5,-.1 .5,0 .5,-.2 .5,-.8 .5,-1.9 .5,-.6 .5,1.3 .5,.6 .5,-.1 .5,-.2 .5,.5 .5,-1.3 .5,.5 .5,-.6 .5,-.1 .5,.3 .5,.5 .5,.6 .5,-1.7 .5,1.1 .5,.7 .5,-.7 .5,-.8 .5,.4 .5,-2.1 .5,-.8 .5,-1.1 .5,0 .5,.8 .5,0 .5,2.3 .5,-1.4 .5,.5 .5,-.5 .5,.4 .5,-.5 .5,.2 .5,-.1 .5,-.5 .5,-.5 .5,.6 .5,-.8 .5,1.4 .5,.1 .5,-.5 .5,-1 .5,1.2 .5,-1.2 .5,.3 .5,-.9 .5,.7 .5,-.4 .5,-.4 .5,-.4 .5,.5 .5,-1.4 .5,.1 .5,1.6 .5,-.7 .5,1.4 .5,-1.4 .5,-.8 .5,-.8 .5,-1.1 .5,.2 .5,.3 .5,-.4 .5,0 .5,.5 .5,.4 .5,1 .5,0 .5,-.6 .5,-.2 .5,-.4 .5,.7 .5,-.6 .5,-.2 .5,0 .5,-.3 .5,-.8 .5,-.5 .5,.7 .5,-.3 .5,-.3 .5,.1 .5,0 .5,.9 .5,.1 .5,-1 .5,0 .5,-.7 .5,1 .5,-.1 .5,-.2 .5,1 .5,.2 .5,-.7 .5,-1.5 .5,1 .5,0 .5,.2 .5,-1.1 .5,.4 .5,-.5 .5,-.4 .5,-.7 .5,.8 .5,1.4 .5,.1 .5,-.3 .5,.5 .5,-.4 .5,-.7 .5,-1.2 .5,.8 .5,-.2 .5,.4 .5,-1.2 .5,.1 .5,.4 .5,.1 .5,-.1 .5,-.4 .5,-.2 .5,-.9 .5,-.1 .5,0 .5,0 .5,.3 .5,-.2 .5,-.1 .5,-.8 .5,.1 .5,.3 .5,.1 .5,.8 .5,1.8 .5,.2 .5,.3 .5,-.4 .5,.1 .5,0 .5,-.5 .5,-.2 .5,-1 .5,-.1 .5,-.7 .5,-.1 .5,.3 .5,0 .5,1.2 .5,.7 .5,.1 .5,-.2 .5,-.2 .5,-.8 .5,-.4 .5,-.4 .5,.5 .5,.2 .5,-1.2 .5,-.7 .5,.8 .5,1 .5,0 .5,1.7 .5,-1.9 .5,0 .5,-1.1 .5,.5 .5,1 .5,-.5 .5,-1.8 .5,-.4 .5,-.7 .5,-.3 .5,.7 .5,.4 .5,1 .5,.7 .5,.3 .5,-.3 .5,-1.2 .5,-.2 .5,.6 .5,.6 .5,-.5 .5,-.4 .5,.7 .5,.8 .5,-1.2 .5,.4 .5,-1.2 .5,.4 .5,-.2 .5,.2 .5,.1 .5,-.8 .5,.4 .5,-1 .5,-.3 .5,.5 .5,1.1 .5,.7 .5,-.2 .5,-.1 .5,-1.1 .5,.1 .5,0 .5,1.4 .5,-1.4 .5,-.2 .5,.2 .5,-.1 .5,.5 .5,-.6 .5,-.4 .5,1.1 .5,.3 .5,.3 .5,-.3 .5,-.7 .5,-1.1 .5,.4 .5,1.9 .5,-.3 .5,-.6 .5,0 .5,-.9 .5,-.6 .5,.4 .5,-.4 .5,1.7 .5,-.1 .5,.2 .5,-.9 .5,.2 .5,.1 .5,.4 .5,.4 .5,-.1 .5,-.2 .5,-.9 .5,-.6 .5,-.9 .5,.1 .5,0 .5,1.2 .5,0 .5,.9 .5,-.2 .5,-.1 .5,.1 .5,.2 .5,-.9 .5,0 .5,.4 .5,-1.9 .5,.3 .5,-.1 .5,-.9 .5,.7 .5,.9 .5,.5 .5,-1.7 .5,0 .5,.4 .5,.9 .5,.7 .5,.9 .5,.4 .5,-.8 .5,-.1 .5,.9 .5,-.7 .5,-.2 .5,-.8 .5,-.6 .5,0 .5,-1 .5,.1 .5,1 .5,.6 .5,-.2 .5,.1 .5,-1.3 .5,-.1 .5,.7 .5,-.1 .5,.4 .5,1.1 .5,-.7 .5,.7 .5,-.2 .5,.1 .5,.4 .5,.2 .5,-1 .5,-1.2 .5,-.4 .5,-.3 .5,-.3 .5,.6 .5,.4 .5,.7 .5,-.8 .5,.8 .5,1 .5,1.2 .5,-.5 .5,-1.1 .5,-1.3 .5,.4 .5,.1 .5,-.2 .5,-.2 .5,-.4 .5,-.3 .5,1.1 .5,-.8 .5,.7 .5,1.7 .5,-.6 .5,.1 .5,-.7 .5,-1.1 .5,.4 .5,.4 .5,.6 .5,.9 .5,.7 .5,-.4 .5,.2 .5,-.5 .5,-.5 .5,-.6 .5,.6 .5,-.8 .5,-.8 .5,1.1 .5,-.7 .5,1.6 .5,-.1 .5,-.1 .5,-.9 .5,-.6 .5,1.5 .5,0 .5,.1 .5,-1 .5,.1 .5,-1 .5,1.3 .5,-1.1 .5,.3 .5,-.6 .5,.8 .5,-.2 .5,-.4 .5,1.3 .5,-.5 .5,-.9 .5,.8 .5,-.5 .5,.9 .5,-.1 .5,-.4 .5,.8 .5,.1 .5,-.6 .5,.6 .5,-.8 .5,-.6 .5,.6 .5,-.9 .5,.4 .5,0 .5,.1 .5,.1 .5,-.3 .5,1.4 .5,-.1 .5,-.6 .5,-1.2 .5,0 .5,.3 .5,.5 .5,-.9 .5,-.3 .5,.1 .5,-.3 .5,1.3 .5,.3 .5,.2 .5,-.2 .5,.5 .5,-.3 .5,-.9 .5,.3 .5,-.3 .5,.7 .5,.9 .5,-.4 .5,-.8 .5,-.3 .5,.3 .5,.5 .5,0 .5,.3 .5,-.4 .5,-1.6 .5,.2 .5,0 .5,.2 .5,.9 .5,-.2 .5,-.6 .5,.1 .5,-.4 .5,.4 .5,1.1 .5,-1.2 .5,1 .5,-1.1 .5,-.3 .5,.2 .5,1.5 .5,.1 .5,.5 .5,0 .5,-1.6 .5,1.7 .5,-1.8 .5,.3 .5,.7" fill="none" stroke-width="1.45" stroke-linejoin="round"/>
<path d="M31.0,112.2l.5,-1.6 .5,-1.6 .5,.8 .5,.6 .5,.8 .5,-1 .5,-.3 .5,1.6 .5,-.4 .5,-.7 .5,-.7 .5,1.1 .5,1.2 .5,-2.1 .5,-.6 .5,2.3 .5,-2.6 .5,-.3 .5,1 .5,0 .5,.4 .5,-.1 .5,.1 .5,-.9 .5,-1 .5,-2 .5,5.3 .5,1 .5,.9 .5,-.8 .5,-1.7 .5,.8 .5,-.8 .5,-1.4 .5,2.5 .5,-2.8 .5,1.1 .5,2.7 .5,-2.4 .5,1.3 .5,.8 .5,-1.6 .5,-1.8 .5,.9 .5,.6 .5,-1.4 .5,3.5 .5,-1.1 .5,.4 .5,-.7 .5,0 .5,-1 .5,-1.6 .5,2.1 .5,-.6 .5,2.1 .5,-2.6 .5,1.4 .5,1.9 .5,-4.2 .5,.2 .5,1.9 .5,2.1 .5,-3 .5,1.4" fill="none" stroke-width="1.8" stroke-linejoin="round"/>
<path d="M68.9,115.0l.8,3.1 .5,11.7 .5,14.9 .5,15.2 .5,14.7 .5,14.6 .5,15.1 .5,11.2 .5,8.6 .5,6.9 .5,4.8 .5,4 .5,3.2 .5,2.5 .5,2.2 .5,1 .5,.4 .5,-.1 .5,.8 .5,-.7 .5,-.1 .5,-.1 .5,-.5 .5,-.7 .5,-1.2 .5,-.8 .5,-1.5 .5,-.6 .5,-.6 .5,-.6 .5,-1.1 .5,-2.6 .5,-1.4 .5,-.4 .5,.6 .5,-1.7 .5,-1.6 .5,-1.9 .5,-.9 .5,-.3 .5,-.8 .5,-1.5 .5,-1 .5,-2.4 .5,-.5 .5,-2.3 .5,-.5 .5,-.7 .5,-1.4 .5,.4 .5,-.5 .5,-1.2 .5,-.9 .5,-1.5 .5,-1.5 .5,-.2 .5,-1.8 .5,-1 .5,-1 .5,0 .5,-.8 .5,-.2 .5,-1.3 .5,-.7 .5,-.9 .5,-2 .5,.9 .5,-.7 .5,-1.3 .5,-.1 .5,-.6 .5,-2 .5,-1.1 .5,-.4 .5,-1.5 .5,-.6 .5,-1.8 .5,-.1 .5,1.5 .5,-.1 .5,-1.1 .5,-2.2 .5,.2 .5,-.4 .5,.9 .5,-2.5 .5,-1.5 .5,-1.2 .5,-.5 .5,-1.1 .5,-1 .5,-.9 .5,-.7 .5,-1.1 .5,-.1 .5,.5 .5,-1.8 .5,.1 .5,-.6 .5,-.7 .5,-1.1 .5,.1 .5,-1.2 .5,1 .5,-1.2 .5,-.4 .5,-.8 .5,-.7 .5,-.4 .5,.1 .5,0 .5,-.8 .5,-.7 .5,-.4 .5,-.2 .5,-1.3 .5,-1.1 .5,.3 .5,.8 .5,-.9 .5,-.2 .5,-1.1 .5,-1.1 .5,-1.1 .5,-.3 .5,-1.5 .5,-.9 .5,-.2 .5,-.4 .5,-.3 .5,-.2 .5,-.7 .5,-.6 .5,-.1 .5,0 .5,-2.5 .5,1.2 .5,-.6 .5,0 .5,-.7 .5,-.5 .5,-.2 .5,.7 .5,-1.2 .5,-.8 .5,-1.6 .5,.7 .5,-.6 .5,-1.2 .5,.3 .5,-.7 .5,-.4 .5,.3 .5,0 .5,0 .5,-.5 .5,.7 .5,-.5 .5,-.9 .5,-.6 .5,-1.4 .5,.3 .5,.9 .5,-1.1 .5,0 .5,.3 .5,-2 .5,.6 .5,-.1 .5,-1.4 .5,-1.1 .5,-.9 .5,-.9 .5,1.2 .5,-.5 .5,.8 .5,.3 .5,-.1 .5,-1 .5,-.1 .5,-2.4 .5,-.6 .5,-.5 .5,.4 .5,.4 .5,.1 .5,-.5 .5,.1 .5,-1.4 .5,0 .5,.7 .5,-.6 .5,-.2 .5,-.6 .5,-.4 .5,-.8 .5,-.4 .5,0 .5,1.1 .5,-1.2 .5,1.2 .5,-1.2 .5,0 .5,-.4 .5,.7 .5,-1.4 .5,-1.4 .5,.6 .5,-.2 .5,.1 .5,.6 .5,-.6 .5,.8 .5,-.7 .5,-1.4 .5,-2.2 .5,1.2 .5,0 .5,.3 .5,-.1 .5,.5 .5,.5 .5,-.1 .5,-1 .5,-1.2 .5,1 .5,-.8 .5,.3 .5,.5 .5,-.8 .5,.5 .5,-.8 .5,-.8 .5,.3 .5,-.8 .5,.5 .5,-.4 .5,-.2 .5,-1 .5,1.2 .5,-.9 .5,.1 .5,0 .5,-.4 .5,.1 .5,.6 .5,.7 .5,-.6 .5,-.8 .5,-.4 .5,0 .5,.5 .5,-.8 .5,0 .5,0 .5,0 .5,.2 .5,-.9 .5,-.3 .5,-.6 .5,-.5 .5,-.9 .5,-.2 .5,-.9 .5,1 .5,.2 .5,.6 .5,-1.4 .5,-.2 .5,.8 .5,.3 .5,-.7 .5,.7 .5,.2 .5,-.8 .5,-.2 .5,-.4 .5,-.3 .5,.5 .5,-.2 .5,.4 .5,-1.6 .5,-.1 .5,-.2 .5,.8 .5,1 .5,.6 .5,-1.2 .5,1.1 .5,-.8 .5,-.4 .5,-.6 .5,0 .5,-.5 .5,-1.1 .5,.7 .5,.6 .5,.1 .5,-.3 .5,-.1 .5,-1.2 .5,-.1 .5,-.5 .5,.4 .5,.6 .5,-.3 .5,.5 .5,-.7 .5,.3 .5,-1.6 .5,1.2 .5,.1 .5,-1.6 .5,-.9 .5,.3 .5,1.3 .5,0 .5,.6 .5,-.9 .5,-1.2 .5,-.8 .5,.6 .5,.8 .5,-.4 .5,.1 .5,0 .5,.8 .5,1.2 .5,-.7 .5,.4 .5,-.9 .5,.5 .5,-.5 .5,1.2 .5,-1.4 .5,-.8 .5,-.1 .5,-.5 .5,.3 .5,.6 .5,.1 .5,.4 .5,-1.1 .5,-1.1 .5,.7 .5,-.1 .5,-.2 .5,1 .5,-.8 .5,.9 .5,-.5 .5,-.1 .5,-1.7 .5,-.1 .5,0 .5,.3 .5,1.7 .5,.1 .5,-2.7 .5,.5 .5,1.4 .5,-.2 .5,.5 .5,.3 .5,-.6 .5,-1 .5,-.1 .5,1.6 .5,-1.1 .5,1 .5,-.6 .5,.3 .5,-.6 .5,-.2 .5,-.5 .5,1 .5,-1.8 .5,.3 .5,.4 .5,-.9 .5,.6 .5,.3 .5,1.8 .5,-.8 .5,-.7 .5,-1.3 .5,0 .5,-.1 .5,1.4 .5,-1.4 .5,.5 .5,-.7 .5,.8 .5,.1 .5,-.9 .5,0 .5,-1.2 .5,2.1 .5,.4 .5,-.1 .5,-.4 .5,.2 .5,-1.1 .5,1.4 .5,-1.5 .5,.5 .5,-.6 .5,1.3 .5,-1 .5,.9 .5,-.8 .5,-.6 .5,.6 .5,-.1 .5,.4 .5,.9 .5,-.5 .5,-.3 .5,0 .5,.4 .5,-.9 .5,-.4 .5,1 .5,-.6 .5,-.4 .5,-.2 .5,1 .5,-1.1 .5,.9 .5,-.5 .5,.5 .5,1.3 .5,-1.4 .5,-.3 .5,-.6 .5,-1.2 .5,.5 .5,-1.1 .5,1 .5,-.5 .5,2.3 .5,-.3 .5,.5 .5,-1.5 .5,.8 .5,-.4 .5,0 .5,.1 .5,1 .5,-.3 .5,-.3 .5,-.1 .5,-.1 .5,-.2 .5,-.2 .5,-.8 .5,-.3 .5,-1.1 .5,.8 .5,.6 .5,-.1 .5,1.5 .5,-.4 .5,.3 .5,.1 .5,-.5 .5,-.6 .5,.1 .5,-.9 .5,.7 .5,.9 .5,.6 .5,.6 .5,-.2 .5,-1.2 .5,-.4 .5,-.1 .5,-.1 .5,-.2 .5,.9 .5,-.7 .5,.6 .5,-.1 .5,-2.2 .5,.5 .5,-.5 .5,.9 .5,.5 .5,-.6 .5,.3 .5,.5 .5,0 .5,-.3 .5,.5 .5,1.5 .5,-1 .5,-1.1 .5,.2 .5,1.1 .5,-1.1 .5,-.2 .5,-1 .5,-.3 .5,-.4 .5,.8 .5,-.3 .5,-.1 .5,.8 .5,-.8 .5,1.6 .5,-.5 .5,-.4 .5,.7 .5,-.1 .5,-.3 .5,-.5 .5,1.4 .5,.3 .5,.5 .5,-1.1 .5,-.2 .5,-.1 .5,-.7 .5,0 .5,.7 .5,1.1 .5,-1.3 .5,0 .5,-1 .5,.3 .5,-1.2 .5,1.7 .5,2.2 .5,-.6 .5,-.4 .5,-.6 .5,.1 .5,.4 .5,-1.5 .5,.6 .5,.9 .5,.8 .5,-.7 .5,.6 .5,-.7 .5,-.3 .5,-1.2 .5,-.3 .5,.8 .5,.1 .5,-.3 .5,-.6 .5,1.8 .5,-.2 .5,1.5 .5,-1.6 .5,0 .5,-.4 .5,-1 .5,-.3 .5,.2 .5,.2 .5,-.1 .5,1.3 .5,-1.1 .5,.6 .5,-.1 .5,-.3 .5,-.5 .5,.5 .5,-.3 .5,-.1 .5,.5 .5,-1.1 .5,.3 .5,1 .5,1 .5,.5 .5,-.9 .5,-.4 .5,-1 .5,.7 .5,.7 .5,.2 .5,0 .5,-1.3 .5,-.3 .5,.5 .5,1.7 .5,-1.5 .5,.1 .5,-.8 .5,.1 .5,-.6 .5,1 .5,-.1 .5,-.2 .5,0 .5,.3 .5,.8 .5,-1 .5,.9 .5,-.8 .5,.8 .5,-.6 .5,1.3 .5,-1.1 .5,-.2 .5,-1.7 .5,.1" fill="none" stroke-width="1.45" stroke-linejoin="round"/>
<path d="M31.0,109.8l.5,2.5 .5,-1.3 .5,-2.3 .5,2.2 .5,.8 .5,.3 .5,-2.1 .5,.7 .5,2.6 .5,-2.2 .5,-1 .5,-.6 .5,1.3 .5,1.3 .5,-1 .5,3.1 .5,-2.6 .5,-2.1 .5,2 .5,-1.2 .5,-.2 .5,2 .5,-1.6 .5,1.7 .5,-1.4 .5,2.1 .5,-2.2 .5,-.3 .5,.7 .5,-.6 .5,.5 .5,-1.2 .5,.5 .5,-.6 .5,-.3 .5,1.8 .5,.6 .5,-1.1 .5,1 .5,-1.4 .5,2.3 .5,1.1 .5,1.7 .5,-2.7 .5,.3 .5,0 .5,-1.3 .5,-3.2 .5,1.2 .5,.6 .5,0 .5,.1 .5,-.7 .5,-.6 .5,2.8 .5,1.2 .5,-1.5 .5,1.3 .5,-1.2 .5,.3 .5,-.7 .5,1.4 .5,-2 .5,1.2 .5,.6" fill="none" stroke-width="1.8" stroke-linejoin="round"/>
<path d="M68.9,115.0l.8,4.5 .5,22.5 .5,26.7 .5,29.8 .5,25.9 .5,24.3 .5,19.8 .5,17.7 .5,12.5 .5,11.7 .5,7.4 .5,6 .5,4 .5,4.2 .5,3.4 .5,1.5 .5,1 .5,.5 .5,.6 .5,-.8 .5,-.1 .5,-.2 .5,-.4 .5,-.3 .5,-1.6 .5,-1.3 .5,-1.1 .5,-1.7 .5,-1.1 .5,-1.1 .5,-2 .5,-1.4 .5,-1 .5,-1.9 .5,-.5 .5,-2.1 .5,-2 .5,-.9 .5,-.6 .5,-1.7 .5,-.8 .5,-2.7 .5,-1.4 .5,-.9 .5,-2.1 .5,-.3 .5,-1.4 .5,-.7 .5,-3 .5,-1.6 .5,-.4 .5,-1.1 .5,-.8 .5,-.9 .5,-1.3 .5,-2.5 .5,-2 .5,-.2 .5,-2.5 .5,-.9 .5,-2.3 .5,-2.3 .5,-.4 .5,-1.1 .5,-.2 .5,-1 .5,-1.6 .5,-2.1 .5,-.2 .5,-2 .5,-.2 .5,-2.1 .5,-1.4 .5,-1.4 .5,-1.1 .5,-1.2 .5,-.2 .5,-3 .5,-1.8 .5,-.2 .5,-1 .5,.2 .5,-.9 .5,.1 .5,-1.8 .5,-2.6 .5,-2 .5,-1.4 .5,-1.8 .5,-.7 .5,-.2 .5,-.8 .5,-.9 .5,-1.9 .5,-1.6 .5,-1.9 .5,-.2 .5,-.6 .5,-1.8 .5,-.5 .5,-1.4 .5,-1.2 .5,-1.8 .5,-1.5 .5,-1.2 .5,-.1 .5,.1 .5,0 .5,-1.2 .5,-1.7 .5,-1.8 .5,-1.8 .5,.2 .5,-1.1 .5,-.8 .5,-1 .5,-1.2 .5,-1.1 .5,-.5 .5,-1.2 .5,-1 .5,-.5 .5,0 .5,-2.3 .5,-1.3 .5,0 .5,-1.8 .5,-.4 .5,-.8 .5,-1 .5,-1.6 .5,.1 .5,-2.4 .5,-.3 .5,-.8 .5,-.6 .5,-1.5 .5,-1.4 .5,-1.2 .5,.1 .5,-.4 .5,-.5 .5,-.7 .5,-.1 .5,-.1 .5,-1.3 .5,.3 .5,-.7 .5,-.7 .5,-1.9 .5,-.7 .5,-.2 .5,-1.1 .5,-2.1 .5,.7 .5,-1.4 .5,-.7 .5,-.5 .5,.4 .5,-.9 .5,-.3 .5,-1.5 .5,-.3 .5,-1.6 .5,-.7 .5,-.9 .5,-1.2 .5,.2 .5,-1.1 .5,-1.2 .5,-.1 .5,.6 .5,-1.4 .5,-.6 .5,-2 .5,-.1 .5,-.1 .5,-.1 .5,-.1 .5,-.4 .5,-.6 .5,-2.2 .5,-.4 .5,-.8 .5,-1.2 .5,-.2 .5,-.8 .5,0 .5,.2 .5,.7 .5,-2.4 .5,-.9 .5,-.3 .5,.1 .5,-.6 .5,-.2 .5,.9 .5,-.8 .5,-.6 .5,-1.8 .5,-.1 .5,-1 .5,-1.5 .5,.6 .5,.4 .5,-.6 .5,-.5 .5,.7 .5,0 .5,-1.9 .5,.3 .5,-1 .5,0 .5,-1.6 .5,.1 .5,-.6 .5,.5 .5,0 .5,-.2 .5,-1.6 .5,-1.1 .5,-1.3 .5,-1.1 .5,.8 .5,0 .5,-.3 .5,-.6 .5,.2 .5,-.3 .5,-.5 .5,.3 .5,.5 .5,-1.4 .5,-.1 .5,-.1 .5,-1 .5,.5 .5,-1.3 .5,-.8 .5,-.7 .5,-.2 .5,-2.4 .5,.6 .5,-.5 .5,2.1 .5,0 .5,-.9 .5,-.5 .5,-1.6 .5,.5 .5,-.1 .5,0 .5,-1.1 .5,.7 .5,-1 .5,.1 .5,-1 .5,-.6 .5,.5 .5,.1 .5,-.5 .5,.6 .5,-1.8 .5,-.1 .5,.7 .5,.8 .5,-.7 .5,-.6 .5,-.5 .5,-.4 .5,.2 .5,-.4 .5,.5 .5,-.6 .5,-1.5 .5,0 .5,-.6 .5,.4 .5,.2 .5,.5 .5,-1.3 .5,.6 .5,.4 .5,-.4 .5,-.5 .5,-2.2 .5,-.4 .5,-.5 .5,.4 .5,.1 .5,1.4 .5,-1.2 .5,-1.3 .5,.4 .5,-.4 .5,.3 .5,.4 .5,-.2 .5,.3 .5,-.1 .5,-.7 .5,-1.6 .5,-.4 .5,.8 .5,0 .5,.5 .5,-.7 .5,-.5 .5,-1.7 .5,.5 .5,.6 .5,.6 .5,.5 .5,-.5 .5,-.3 .5,-1.4 .5,0 .5,-.6 .5,-1.5 .5,.7 .5,.9 .5,1 .5,.1 .5,.4 .5,-1.8 .5,.4 .5,-.4 .5,-.5 .5,-.6 .5,-1.1 .5,1.3 .5,-.1 .5,-.7 .5,.3 .5,-1.7 .5,.4 .5,-.3 .5,.1 .5,.8 .5,-.1 .5,-1.6 .5,.4 .5,1 .5,.5 .5,-.3 .5,-.2 .5,.3 .5,-1.7 .5,-.3 .5,1.4 .5,-.6 .5,-.4 .5,-.9 .5,1.4 .5,.4 .5,-1.6 .5,.5 .5,0 .5,.8 .5,.5 .5,-.5 .5,-1.4 .5,-.1 .5,1.4 .5,-1 .5,-.3 .5,-.8 .5,-.6 .5,-.5 .5,-.4 .5,-1.3 .5,-.3 .5,.1 .5,1.2 .5,-.6 .5,1.2 .5,-.9 .5,2.4 .5,-1.4 .5,.1 .5,.2 .5,-1.4 .5,-.2 .5,.3 .5,.7 .5,.1 .5,1.3 .5,-.6 .5,-.9 .5,.6 .5,-.4 .5,-.3 .5,.1 .5,.3 .5,-.8 .5,.2 .5,-.6 .5,-1.4 .5,.6 .5,-.4 .5,.8 .5,-.1 .5,.3 .5,-.3 .5,-.3 .5,-.1 .5,2.9 .5,-2.5 .5,0 .5,-.7 .5,1.5 .5,.1 .5,.2 .5,-1.3 .5,.4 .5,-1 .5,1.2 .5,-.3 .5,-1.2 .5,.5 .5,-.9 .5,1.3 .5,-1.6 .5,.5 .5,.2 .5,-.1 .5,0 .5,.3 .5,.6 .5,.4 .5,.4 .5,-.4 .5,-1.6 .5,-.7 .5,-.4 .5,.5 .5,.3 .5,.5 .5,.6 .5,-.7 .5,.6 .5,-1.3 .5,-.4 .5,-.4 .5,1 .5,.1 .5,.8 .5,-.4 .5,-.2 .5,.5 .5,-.2 .5,.9 .5,-2 .5,-1.4 .5,.2 .5,-.5 .5,2.1 .5,.1 .5,0 .5,-.2 .5,-.8 .5,.9 .5,-.5 .5,0 .5,0 .5,.1 .5,.2 .5,-.6 .5,-1 .5,-.9 .5,.4 .5,1.2 .5,-.6 .5,.5 .5,.7 .5,.1 .5,.1 .5,-1.1 .5,-.3 .5,-.5 .5,.2 .5,.3 .5,.4 .5,.4 .5,-.9 .5,.5 .5,-1.1 .5,-.4 .5,.8 .5,.3 .5,.1 .5,.4 .5,-1.2 .5,1.3 .5,-.5 .5,-.1 .5,-.9 .5,1.3 .5,-.1 .5,-.1 .5,-.1 .5,-.7 .5,1.3 .5,-.1 .5,-.2 .5,-.2 .5,-2.3 .5,.2 .5,.5 .5,.2 .5,.9 .5,.4 .5,-1.6 .5,.8 .5,-.2 .5,-.2 .5,.1 .5,.9 .5,.1 .5,.4 .5,.6 .5,-1.5 .5,-.4 .5,-.3 .5,1.9 .5,.5 .5,-.2 .5,.6 .5,-1.5 .5,1.5 .5,-1.6 .5,-.6 .5,-.7 .5,1.4 .5,-.7 .5,-1.1 .5,-.4 .5,-.9 .5,1.4 .5,1.1 .5,.1 .5,.3 .5,-1.1 .5,.4 .5,-.8 .5,-.5 .5,.4 .5,0 .5,.5 .5,.8 .5,-.4 .5,1.9 .5,-.3 .5,-.3 .5,-.6 .5,-1 .5,.8 .5,.1 .5,1.2 .5,-.1 .5,.3 .5,-.4 .5,.2 .5,-.4 .5,-1.7 .5,0 .5,1.7 .5,-.2 .5,-.4 .5,-1.7 .5,.2 .5,-.3 .5,-.1 .5,.4 .5,-1.1 .5,-.7 .5,1.6 .5,0 .5,-.1 .5,1.4 .5,-.9 .5,-.2 .5,-1.2 .5,2.2 .5,-.1 .5,.9 .5,.5 .5,-1.8 .5,.7 .5,-.7 .5,.2 .5,-.6 .5,1.8 .5,-1.7 .5,-1 .5,-1.3 .5,1.2 .5,.6 .5,.8 .5,-1 .5,-.5 .5,.5 .5,-.5 .5,.7 .5,0 .5,0 .5,.1 .5,.1 .5,-.4 .5,-.4" fill="none" stroke-width="1.45" stroke-linejoin="round"/>
<path d="M31.0,111.1l.5,.4 .5,-1.2 .5,0 .5,2.2 .5,-1.7 .5,2.9 .5,-4.2 .5,.9 .5,-.3 .5,.7 .5,-1.1 .5,1.1 .5,1.5 .5,-3.1 .5,-2 .5,2.9 .5,-.3 .5,.4 .5,-1.5 .5,1.3 .5,.5 .5,-1.1 .5,1.2 .5,1.1 .5,.7 .5,-1 .5,.4 .5,1.6 .5,-.3 .5,-3.5 .5,3.7 .5,-2.6 .5,1.6 .5,-2.4 .5,1.4 .5,-.3 .5,1.5 .5,-1.1 .5,0 .5,0 .5,.2 .5,1 .5,-1.2 .5,-.7 .5,-.9 .5,-.3 .5,.4 .5,1 .5,.8 .5,-.9 .5,2.6 .5,-1 .5,-2 .5,-.5 .5,-1 .5,-2.1 .5,3.1 .5,-.7 .5,-1.9 .5,3.1 .5,-1.2 .5,.6 .5,-1.5 .5,1.9 .5,.6" fill="none" stroke-width="1.8" stroke-linejoin="round"/>
<path d="M68.9,115.0l.8,6.2 .5,27.8 .5,33.7 .5,33.3 .5,30.1 .5,27.6 .5,24 .5,20.1 .5,17.3 .5,12.3 .5,9.9 .5,7.7 .5,6.6 .5,4.1 .5,4.4 .5,1.6 .5,.7 .5,1 .5,.7 .5,-1.5 .5,-.3 .5,-1.1 .5,-.5 .5,-1.6 .5,-1.3 .5,-1.1 .5,-1.3 .5,-2.6 .5,-.3 .5,-1.6 .5,-1.9 .5,-1.5 .5,-1 .5,-2.4 .5,-1.3 .5,-.3 .5,-2.4 .5,-2.2 .5,-2.2 .5,-.7 .5,-2.2 .5,-1.7 .5,-1.1 .5,-1.4 .5,-2.7 .5,-1.8 .5,-2.3 .5,-1.7 .5,-2.1 .5,.3 .5,-1.8 .5,-3.5 .5,-.9 .5,-2.6 .5,-1.6 .5,-1.3 .5,-1.5 .5,-2.4 .5,-1.9 .5,-1.6 .5,-2 .5,-1.4 .5,-2.5 .5,-.9 .5,-.6 .5,-1.5 .5,-.8 .5,-1.9 .5,-1.4 .5,-2 .5,-1.5 .5,-2.3 .5,-1.5 .5,-2.3 .5,-2.4 .5,-.5 .5,-.8 .5,-1.2 .5,-.7 .5,-1.8 .5,-1.2 .5,-2.4 .5,-1.3 .5,-.7 .5,-1 .5,-3.4 .5,-1.8 .5,-1.6 .5,-.8 .5,.1 .5,-.8 .5,-1.4 .5,-2.1 .5,-.8 .5,-1.8 .5,-.4 .5,-2.7 .5,-1.3 .5,-.9 .5,-2 .5,-1.5 .5,-1.6 .5,.4 .5,-2.9 .5,-.5 .5,-.9 .5,-.2 .5,-3.1 .5,-.9 .5,-.7 .5,-2.7 .5,-.2 .5,-1.6 .5,-.8 .5,-1.6 .5,-2 .5,-.9 .5,-1.8 .5,-1 .5,-.7 .5,-1 .5,-1.3 .5,-.7 .5,-.8 .5,-.5 .5,-2.6 .5,-1.7 .5,-.4 .5,-.8 .5,-.3 .5,.2 .5,-2.1 .5,-.9 .5,-1.5 .5,-1.3 .5,-2 .5,-.2 .5,-.5 .5,-1.7 .5,-.3 .5,-.8 .5,.2 .5,-.7 .5,-.8 .5,-1 .5,-1 .5,-2 .5,-2.2 .5,-1.6 .5,-.2 .5,-2 .5,.6 .5,-.8 .5,-.5 .5,-1.4 .5,-1.4 .5,1.1 .5,-1.4 .5,-.9 .5,0 .5,-1.2 .5,-.7 .5,-1.4 .5,-.3 .5,-.3 .5,-1.2 .5,-.4 .5,-1.1 .5,-.5 .5,-.1 .5,-.3 .5,-1.9 .5,-1.2 .5,-.7 .5,-.3 .5,-1.9 .5,.5 .5,-1 .5,-1.7 .5,-1 .5,-.1 .5,-1.1 .5,.9 .5,-.5 .5,.4 .5,-.9 .5,-1.2 .5,-1.5 .5,-2 .5,-.3 .5,.4 .5,-1.4 .5,-.8 .5,0 .5,-.2 .5,-1.3 .5,-.6 .5,-.1 .5,0 .5,-1.4 .5,.3 .5,-.8 .5,-.8 .5,-.9 .5,-.5 .5,.7 .5,-.8 .5,-.6 .5,-.4 .5,-2 .5,-1.2 .5,0 .5,-.3 .5,-1.6 .5,.8 .5,.2 .5,.7 .5,-1.4 .5,-.5 .5,-1.1 .5,-.4 .5,-.8 .5,-.3 .5,-.4 .5,-1 .5,0 .5,-1 .5,-.3 .5,.5 .5,-.9 .5,.4 .5,-.1 .5,-.2 .5,0 .5,.4 .5,-1.1 .5,-.6 .5,-1.9 .5,-1.3 .5,.6 .5,-1 .5,-.4 .5,.3 .5,-.9 .5,-1.2 .5,.8 .5,-.8 .5,.4 .5,-1.7 .5,-.8 .5,.9 .5,.6 .5,.2 .5,-.2 .5,.1 .5,-1.5 .5,-1 .5,-.6 .5,-.1 .5,.6 .5,.5 .5,-.9 .5,.3 .5,-.5 .5,-.6 .5,-.9 .5,-1 .5,.3 .5,-1.1 .5,.1 .5,-.5 .5,-.8 .5,0 .5,-1.4 .5,-.5 .5,-1.4 .5,2.3 .5,.1 .5,.8 .5,-.8 .5,-.1 .5,-.8 .5,.1 .5,.3 .5,-1 .5,.5 .5,-.8 .5,-1 .5,-.6 .5,-.2 .5,.4 .5,-.8 .5,-.2 .5,-.1 .5,.2 .5,-.3 .5,.6 .5,-.8 .5,.1 .5,-.2 .5,.4 .5,.3 .5,-1.4 .5,.1 .5,-1.3 .5,.6 .5,.4 .5,-1.9 .5,-.1 .5,-1.5 .5,1.5 .5,.8 .5,-1.3 .5,.4 .5,.2 .5,-1.4 .5,.3 .5,-.7 .5,-.5 .5,0 .5,.8 .5,.1 .5,-.4 .5,-.5 .5,.5 .5,-.1 .5,0 .5,-1.4 .5,0 .5,-1 .5,1.3 .5,-.3 .5,.3 .5,-1.4 .5,-.7 .5,.4 .5,.9 .5,-.7 .5,.5 .5,.5 .5,-.6 .5,.3 .5,-1.8 .5,.4 .5,.4 .5,0 .5,-.8 .5,.1 .5,.2 .5,-.3 .5,-.3 .5,-.6 .5,1.2 .5,-.2 .5,-.6 .5,.8 .5,-.9 .5,-.2 .5,-1 .5,-.6 .5,.9 .5,1.4 .5,-.6 .5,-.3 .5,-.4 .5,.1 .5,.3 .5,-.1 .5,.7 .5,.2 .5,-1.5 .5,-.1 .5,-.3 .5,.9 .5,-.7 .5,-.2 .5,.1 .5,.5 .5,.2 .5,-1.4 .5,-.6 .5,-.8 .5,1.3 .5,-.9 .5,0 .5,.2 .5,.9 .5,1.1 .5,-.9 .5,.4 .5,-.2 .5,-.1 .5,-.1 .5,-.8 .5,-1 .5,.5 .5,-.6 .5,.1 .5,-1.2 .5,-.4 .5,1.1 .5,-.6 .5,0 .5,.1 .5,-.6 .5,.3 .5,.8 .5,.6 .5,-1.1 .5,0 .5,-.2 .5,-.2 .5,.8 .5,-.6 .5,-.3 .5,.2 .5,-1.6 .5,-.1 .5,1.2 .5,.4 .5,.1 .5,-.1 .5,-2 .5,1.1 .5,.4 .5,.8 .5,-.5 .5,.2 .5,-.3 .5,-.3 .5,0 .5,1.6 .5,0 .5,-.4 .5,-.6 .5,-.1 .5,-1.2 .5,.9 .5,.5 .5,-.7 .5,-.5 .5,0 .5,.4 .5,-.5 .5,0 .5,.7 .5,-.1 .5,.2 .5,.7 .5,-1 .5,0 .5,1 .5,-.3 .5,.3 .5,-2.3 .5,-.7 .5,-.1 .5,.1 .5,-.8 .5,1.4 .5,-.1 .5,.2 .5,.4 .5,0 .5,-.5 .5,.3 .5,-.5 .5,.8 .5,-1.4 .5,-.1 .5,.2 .5,.1 .5,0 .5,.2 .5,-.5 .5,.2 .5,-1.1 .5,-.8 .5,0 .5,.9 .5,.3 .5,-.3 .5,-.1 .5,.8 .5,.5 .5,-.8 .5,.2 .5,.7 .5,.9 .5,.2 .5,.4 .5,-.1 .5,-1.1 .5,-.7 .5,-.6 .5,-.1 .5,.6 .5,1.1 .5,-.4 .5,-.3 .5,-.5 .5,1.1 .5,-.8 .5,.6 .5,-.8 .5,.1 .5,-1.1 .5,.4 .5,.2 .5,.6 .5,1.7 .5,-.7 .5,.9 .5,-.6 .5,0 .5,-.3 .5,0 .5,-2 .5,-.4 .5,.5 .5,-1.5 .5,1.2 .5,-.2 .5,-.2 .5,1.5 .5,-.4 .5,.6 .5,-1.5 .5,1.3 .5,.6 .5,-1.8 .5,.8 .5,-.1 .5,-.2 .5,.6 .5,-.3 .5,-.3 .5,.1 .5,-.4 .5,-.1 .5,-1.2 .5,.5 .5,-.5 .5,.7 .5,.5 .5,.7 .5,.4 .5,-.7 .5,.1 .5,.6 .5,-.1 .5,0 .5,.4 .5,-.3 .5,.1 .5,-1.1 .5,-.5 .5,-.8 .5,1.4 .5,1.3 .5,-.2 .5,1.2 .5,-.4 .5,-1 .5,0 .5,-1 .5,-.6 .5,.5 .5,-.3 .5,.3 .5,1.8 .5,-.6 .5,-.1 .5,-1.4 .5,.1 .5,.4 .5,.7 .5,-.3 .5,0 .5,-.6 .5,.5 .5,.1 .5,-.6 .5,-.3 .5,.4 .5,1.2 .5,.7 .5,-2.3 .5,1.3 .5,-1.3 .5,-1.5 .5,.8 .5,.1 .5,1.1 .5,.2 .5,-1.9 .5,.5 .5,1 .5,.5 .5,-.8 .5,-.9 .5,.5 .5,-.1 .5,2 .5,-.3 .5,-.6 .5,-.6 .5,-.5 .5,-.5 .5,.3" fill="none" stroke-width="1.45" stroke-linejoin="round"/>
<path d="M31.0,110.1l.5,-.7 .5,1.3 .5,.6 .5,1.3 .5,-.8 .5,.5 .5,-.1 .5,-.1 .5,-.2 .5,-2.1 .5,2.3 .5,.9 .5,-.6 .5,1 .5,-1.2 .5,-1.1 .5,.9 .5,-1.4 .5,-.5 .5,2.1 .5,-2.2 .5,2.9 .5,-1.6 .5,-1.2 .5,2.6 .5,-1.1 .5,-.5 .5,-.6 .5,.4 .5,-.7 .5,-.4 .5,.5 .5,.8 .5,-.8 .5,1.2 .5,-2.8 .5,2.2 .5,.7 .5,1.8 .5,-1.4 .5,.8 .5,.1 .5,2 .5,-3.5 .5,.2 .5,-1.3 .5,3.1 .5,-2.9 .5,-.6 .5,-.1 .5,-1.7 .5,.7 .5,1.5 .5,0 .5,1.8 .5,-2.1 .5,2.8 .5,-1.9 .5,-1 .5,.7 .5,.3 .5,-.7 .5,1 .5,-.1 .5,-.4" fill="none" stroke-width="1.8" stroke-linejoin="round"/>
<path d="M68.9,115.0l.8,4 .5,19.7 .5,27.3 .5,28.7 .5,31.9 .5,31.1 .5,28.7 .5,26.3 .5,23.2 .5,19 .5,15.2 .5,13.5 .5,11.2 .5,10.7 .5,9 .5,7.5 .5,5.5 .5,3 .5,2.8 .5,2.7 .5,2.6 .5,.8 .5,-1.3 .5,.6 .5,-.2 .5,-.4 .5,-.7 .5,-1.2 .5,-.7 .5,-.9 .5,-2.2 .5,-1.4 .5,-1.4 .5,-3.7 .5,-1.4 .5,-1.7 .5,-2.2 .5,-2.2 .5,-2.2 .5,-1.8 .5,-2.1 .5,-1.7 .5,-2.4 .5,-1.6 .5,-2.8 .5,-3.2 .5,-2.1 .5,-1.4 .5,-2.4 .5,-1.5 .5,-2.6 .5,-2.1 .5,-2.9 .5,-2.1 .5,-1.5 .5,-1.8 .5,-3.1 .5,-3.1 .5,-2.4 .5,-1.6 .5,-2 .5,-2.1 .5,-2 .5,-.6 .5,-2.9 .5,-1.8 .5,-2.1 .5,-1.4 .5,-2.1 .5,-3.5 .5,-1.9 .5,-1.8 .5,-1.2 .5,-2.3 .5,-2.3 .5,-2.4 .5,-3 .5,-1.1 .5,-1.7 .5,-2.3 .5,-.6 .5,-2 .5,-1.2 .5,-3.2 .5,-1.6 .5,-.7 .5,-1.2 .5,-2.2 .5,-3 .5,-3.2 .5,-2 .5,-1.6 .5,.3 .5,-2.2 .5,-2.7 .5,-2.8 .5,-.9 .5,-1.6 .5,-1.5 .5,-1 .5,-1.2 .5,-1.5 .5,-1.7 .5,-2 .5,-1.3 .5,-1.6 .5,-.9 .5,-.4 .5,-1.9 .5,-2 .5,-1.7 .5,-2.4 .5,-2.2 .5,-2.1 .5,-1 .5,-.6 .5,-1.5 .5,-2 .5,-1.4 .5,-1.6 .5,-1.5 .5,-2 .5,-1.1 .5,-.8 .5,-.9 .5,-1.5 .5,-.4 .5,-3 .5,-.3 .5,-1.8 .5,-1.7 .5,-1.1 .5,-1.9 .5,-.5 .5,-2.2 .5,-.2 .5,-.6 .5,-2.8 .5,-1.2 .5,-1.9 .5,.6 .5,-1.5 .5,-1 .5,-2.3 .5,-.2 .5,-2.8 .5,-1 .5,-1.1 .5,-2.2 .5,-.4 .5,.5 .5,.9 .5,-.7 .5,-2.7 .5,-1.6 .5,-.9 .5,-1.5 .5,-2.8 .5,-1.3 .5,-.3 .5,-.3 .5,-1 .5,-.2 .5,-1.8 .5,-.4 .5,-1.4 .5,.7 .5,-1.3 .5,-2.3 .5,.1 .5,-1.5 .5,1.1 .5,-1.6 .5,-2 .5,-.6 .5,-.7 .5,-.1 .5,-1.4 .5,-1.1 .5,-1.6 .5,-.4 .5,-.8 .5,-.7 .5,-1.3 .5,-1.2 .5,-1.1 .5,0 .5,-1 .5,-1.2 .5,-.9 .5,.3 .5,-.6 .5,-1.1 .5,-.8 .5,-1 .5,.3 .5,-.7 .5,-1.2 .5,-.7 .5,-1.5 .5,-.3 .5,-.5 .5,-.1 .5,-.3 .5,-.5 .5,-1.1 .5,.2 .5,-.6 .5,-2 .5,-.7 .5,-1.7 .5,.1 .5,-.8 .5,-.8 .5,1.6 .5,.3 .5,-.6 .5,-1.2 .5,-.9 .5,-1.7 .5,-1.1 .5,-1 .5,.1 .5,-1 .5,.4 .5,-.1 .5,-.2 .5,-.7 .5,-2 .5,-1.4 .5,.2 .5,0 .5,-.9 .5,-.4 .5,-.2 .5,-.9 .5,.3 .5,-.2 .5,0 .5,.1 .5,0 .5,-.3 .5,-1.8 .5,-1.6 .5,0 .5,.2 .5,-.6 .5,-.6 .5,0 .5,-1.9 .5,-.5 .5,-.2 .5,-.2 .5,0 .5,-.3 .5,-1.2 .5,-.1 .5,-.7 .5,-.1 .5,-1.3 .5,-.3 .5,-.2 .5,.6 .5,-.3 .5,-.5 .5,-.6 .5,.8 .5,-1.3 .5,.4 .5,-.9 .5,.2 .5,-.5 .5,-.9 .5,-.1 .5,-.2 .5,-.9 .5,-1.1 .5,-.5 .5,.4 .5,-.3 .5,.1 .5,.2 .5,-.6 .5,.2 .5,-1.5 .5,-.6 .5,.4 .5,0 .5,-1.2 .5,1 .5,.9 .5,-.8 .5,.1 .5,-2 .5,1 .5,-.8 .5,-.5 .5,-1 .5,.5 .5,-.6 .5,-.2 .5,-1.3 .5,.4 .5,2.1 .5,-.6 .5,-1 .5,.5 .5,-.1 .5,-.8 .5,.3 .5,.1 .5,-1.4 .5,-1 .5,.1 .5,.9 .5,-1.3 .5,0 .5,-.7 .5,-.3 .5,0 .5,-.3 .5,.7 .5,-.4 .5,-.8 .5,1.3 .5,-1 .5,-.3 .5,.6 .5,-.8 .5,-1 .5,.8 .5,-.8 .5,.1 .5,-2.2 .5,2.3 .5,.4 .5,.1 .5,-.1 .5,-.3 .5,-2.4 .5,0 .5,0 .5,.2 .5,-.2 .5,.3 .5,.3 .5,.1 .5,-1 .5,.5 .5,0 .5,-.2 .5,-.2 .5,.7 .5,-1.1 .5,1.1 .5,-.2 .5,-.8 .5,-.3 .5,-1 .5,.2 .5,-.3 .5,-.6 .5,.3 .5,.7 .5,0 .5,-.9 .5,.6 .5,.6 .5,-1.5 .5,0 .5,-.5 .5,1.7 .5,-.9 .5,.2 .5,.2 .5,-.8 .5,1 .5,-.8 .5,.4 .5,-1.9 .5,1.3 .5,0 .5,.1 .5,.6 .5,0 .5,-.9 .5,-.9 .5,2.4 .5,-.3 .5,-1.1 .5,-1.2 .5,-.9 .5,.1 .5,.2 .5,-.1 .5,0 .5,-1.4 .5,.2 .5,0 .5,.4 .5,.7 .5,-1 .5,-.2 .5,-.1 .5,1.3 .5,-.2 .5,.6 .5,-1 .5,.9 .5,-.6 .5,-.7 .5,.3 .5,-.6 .5,.9 .5,.4 .5,-.4 .5,.1 .5,-2.1 .5,.7 .5,-.1 .5,.9 .5,.6 .5,-.7 .5,.5 .5,-.8 .5,-.2 .5,.1 .5,-1.1 .5,-.6 .5,.3 .5,1.1 .5,-.6 .5,0 .5,-.5 .5,-.2 .5,.3 .5,0 .5,.5 .5,.3 .5,.8 .5,-1.7 .5,0 .5,-.5 .5,-.9 .5,.3 .5,-.2 .5,.1 .5,.6 .5,-.1 .5,.3 .5,0 .5,-1.1 .5,1 .5,.7 .5,.4 .5,-.7 .5,1.1 .5,-.6 .5,.8 .5,.3 .5,-1.5 .5,-.8 .5,-.4 .5,.5 .5,.1 .5,-.1 .5,.4 .5,-.6 .5,0 .5,.5 .5,.3 .5,-.7 .5,-.8 .5,-.7 .5,-.5 .5,1.1 .5,.3 .5,.5 .5,-.8 .5,-.3 .5,.7 .5,-.5 .5,.1 .5,.4 .5,.1 .5,-.9 .5,-.3 .5,-.9 .5,.1 .5,.6 .5,.3 .5,-.7 .5,1.3 .5,-1.6 .5,.7 .5,.5 .5,1.2 .5,-.2 .5,-.9 .5,-1.7 .5,.9 .5,.5 .5,-.8 .5,1.2 .5,-.4 .5,1.2 .5,.3 .5,-.9 .5,-1.1 .5,.1 .5,.8 .5,-.4 .5,.3 .5,-1 .5,1.2 .5,-.1 .5,-.2 .5,1.5 .5,-1 .5,-.6 .5,-1.1 .5,.6 .5,.7 .5,.2 .5,-.2 .5,-.8 .5,-.7 .5,-.4 .5,.9 .5,-.2 .5,-.2 .5,-.8 .5,1.6 .5,.2 .5,-.6 .5,-.7 .5,-.3 .5,.5 .5,.5 .5,1.3 .5,-.8 .5,-.3 .5,0 .5,-.6 .5,-.3 .5,.7 .5,.3 .5,.1 .5,.3 .5,-.9 .5,0 .5,-.8 .5,.4 .5,.2 .5,.5 .5,-.4 .5,0 .5,-1 .5,1.6 .5,1.1 .5,-.2 .5,.2 .5,.1 .5,.7 .5,-.2 .5,-.6 .5,-.2 .5,-.1 .5,0 .5,-1.1 .5,0 .5,.3 .5,.9 .5,-.6 .5,-.6 .5,-.1 .5,-.5 .5,.2 .5,-.4 .5,.2 .5,-.7 .5,.2 .5,.5 .5,1 .5,.4 .5,.3 .5,-1 .5,0 .5,-.2 .5,1.2 .5,.3 .5,.2 .5,-.7 .5,-1.9 .5,0 .5,-.3 .5,1.2 .5,-.4 .5,-.4 .5,0 .5,-.2 .5,1.1 .5,-.9 .5,.5 .5,.1 .5,-.6 .5,-.4 .5,.5 .5,0 .5,1.1" fill="none" stroke-width="1.45" stroke-linejoin="round"/>
<path d="M31.0,110.9l.5,.8 .5,-1 .5,-.4 .5,.1 .5,1.1 .5,-1.7 .5,1.6 .5,1.2 .5,.1 .5,-.3 .5,-2.3 .5,2.5 .5,-.9 .5,1 .5,-2.1 .5,.3 .5,2 .5,-2.8 .5,1.8 .5,-.9 .5,-2.8 .5,2.6 .5,.1 .5,-.9 .5,-.4 .5,2.6 .5,-1 .5,.3 .5,-.5 .5,.6 .5,1 .5,.6 .5,-.4 .5,-1.2 .5,-.2 .5,.3 .5,.3 .5,-1.9 .5,-1.7 .5,1.5 .5,.1 .5,-1.3 .5,1.9 .5,-1.2 .5,1.3 .5,1.1 .5,1.7 .5,-3 .5,1.5 .5,-.1 .5,-1.1 .5,1.2 .5,-1.5 .5,.1 .5,.7 .5,.9 .5,-.7 .5,1.3 .5,-.8 .5,-1.9 .5,2.9 .5,-1.9 .5,-2.2 .5,-.3 .5,2.2" fill="none" stroke-width="1.8" stroke-linejoin="round"/>
<path d="M68.9,115.0l.8,5.9 .5,27.4 .5,35.2 .5,37.9 .5,38.6 .5,37.8 .5,35.1 .5,30.5 .5,25.7 .5,21.9 .5,17.1 .5,15.5 .5,11.1 .5,10.8 .5,7.5 .5,5.8 .5,5.7 .5,3.3 .5,1.5 .5,2.2 .5,1.5 .5,1.3 .5,-.7 .5,.4 .5,-2.1 .5,-1.1 .5,-.2 .5,-1.4 .5,-1.7 .5,-.6 .5,-2.8 .5,-2.1 .5,-2 .5,-3.6 .5,-1.7 .5,-2.1 .5,-2.4 .5,-1.3 .5,-2.5 .5,-2.3 .5,-5.1 .5,-1.2 .5,-2.7 .5,-1 .5,-1.2 .5,-1.2 .5,-2.1 .5,-2.7 .5,-4.6 .5,-3 .5,-3.9 .5,-.8 .5,-2.4 .5,-1 .5,-3.3 .5,-3 .5,-2.6 .5,-1.7 .5,-2.4 .5,-2.6 .5,-1.2 .5,-2.5 .5,-1.6 .5,-3.2 .5,-2.7 .5,-.5 .5,-2.6 .5,-2.4 .5,-3.2 .5,-1.9 .5,-1.8 .5,-.7 .5,-2.3 .5,-2.5 .5,-2.6 .5,-2.3 .5,-1.6 .5,-2.7 .5,-2.6 .5,-1.9 .5,-2.2 .5,-1.9 .5,-1.4 .5,-3.3 .5,-2.7 .5,-1.9 .5,-.8 .5,-1.6 .5,-1.7 .5,-3.3 .5,-2 .5,-1.2 .5,-2 .5,-2.7 .5,-1.9 .5,-1.5 .5,-2.1 .5,-.5 .5,-2.6 .5,-2.2 .5,-.8 .5,-1.6 .5,.2 .5,-3.3 .5,-2.7 .5,-1.5 .5,-1.7 .5,-1.6 .5,-2.3 .5,-2.4 .5,-2.2 .5,-2.1 .5,-.8 .5,-.2 .5,-2.3 .5,-2.6 .5,-1.4 .5,-1.7 .5,-1.7 .5,-.5 .5,-1.7 .5,-1.7 .5,-.8 .5,-2.6 .5,-1.1 .5,-1.8 .5,-1.4 .5,-1.6 .5,-1.3 .5,-.6 .5,-1.4 .5,-2.2 .5,-1.7 .5,-2.4 .5,-1.3 .5,-.6 .5,-1.1 .5,-2.6 .5,-1.4 .5,-.6 .5,-1.6 .5,-1.2 .5,-.9 .5,-1.1 .5,-1.9 .5,-2.7 .5,-1.5 .5,-.2 .5,-1 .5,-1.4 .5,-1.8 .5,-1 .5,-.4 .5,-1.3 .5,-2.3 .5,-.9 .5,-1.9 .5,-1.4 .5,.6 .5,-1.1 .5,-2 .5,-1.1 .5,-1.1 .5,-2.4 .5,.5 .5,-2 .5,-.4 .5,-1.3 .5,-.4 .5,-1.4 .5,-1.5 .5,-.9 .5,-.3 .5,-2.4 .5,-1.9 .5,-.3 .5,-.7 .5,-.4 .5,-2 .5,-1.4 .5,-.6 .5,-1.3 .5,-.2 .5,-1.2 .5,-.5 .5,-.6 .5,-2.1 .5,-1.7 .5,-1.5 .5,-.4 .5,-1.1 .5,-.5 .5,.5 .5,-.1 .5,-1.1 .5,-.9 .5,-.3 .5,-2.6 .5,-.5 .5,-1.5 .5,-.1 .5,-1.2 .5,.2 .5,-1 .5,-1.2 .5,-.6 .5,-1.4 .5,-.4 .5,-.8 .5,-1.3 .5,.5 .5,-.5 .5,-.8 .5,-1.2 .5,-.9 .5,-.7 .5,-1.5 .5,-1.4 .5,-1.5 .5,.9 .5,-1.1 .5,.3 .5,-1.7 .5,-.7 .5,-.6 .5,-.4 .5,-.6 .5,-.6 .5,.1 .5,-.4 .5,-1.5 .5,-.8 .5,-.2 .5,-.3 .5,-1.6 .5,-.7 .5,0 .5,-1.2 .5,-.4 .5,.6 .5,-.8 .5,-.3 .5,-1.5 .5,-.9 .5,-.7 .5,-1 .5,-.9 .5,.4 .5,-1 .5,-.1 .5,-.6 .5,-1.9 .5,-.5 .5,.4 .5,.9 .5,.7 .5,-1.3 .5,-.3 .5,0 .5,-1.6 .5,-.5 .5,.5 .5,-1.7 .5,-1.1 .5,.6 .5,-1.1 .5,-.4 .5,.1 .5,.1 .5,-.7 .5,-.6 .5,-.7 .5,-1.3 .5,-1.3 .5,-1.5 .5,.9 .5,-.1 .5,.9 .5,.1 .5,-1.1 .5,-.7 .5,-.5 .5,.3 .5,.7 .5,-1.5 .5,1 .5,.3 .5,-1.6 .5,-1 .5,-.6 .5,.4 .5,-.7 .5,-.6 .5,-.7 .5,-.4 .5,.8 .5,-.8 .5,0 .5,-1.3 .5,-1.3 .5,-.5 .5,-.3 .5,.5 .5,.8 .5,-.2 .5,-.8 .5,-.1 .5,-1.3 .5,-.2 .5,.1 .5,.4 .5,-.4 .5,-.3 .5,-1.1 .5,1.2 .5,-1.7 .5,.4 .5,-1.1 .5,-.7 .5,-1.3 .5,1.6 .5,.2 .5,-.4 .5,-.3 .5,-.6 .5,.3 .5,-.2 .5,-.6 .5,-.1 .5,-1.1 .5,-1.4 .5,.8 .5,-.4 .5,2.3 .5,.1 .5,-.8 .5,.4 .5,-1 .5,-.4 .5,-1 .5,-1 .5,-.8 .5,1 .5,-.1 .5,0 .5,1.1 .5,-1.3 .5,-2.1 .5,-.5 .5,-.6 .5,-1.1 .5,1.3 .5,.9 .5,0 .5,.9 .5,.6 .5,-1 .5,1.3 .5,-1.2 .5,-.9 .5,-1.2 .5,.3 .5,1.5 .5,-.6 .5,-.8 .5,-.3 .5,-1 .5,-.1 .5,-.2 .5,1.3 .5,.1 .5,.2 .5,-1.1 .5,-1.9 .5,-.6 .5,-.5 .5,-.1 .5,.3 .5,1.3 .5,-.8 .5,-.3 .5,1.4 .5,-.2 .5,0 .5,-.8 .5,-.6 .5,.4 .5,-.3 .5,.8 .5,-1.1 .5,.7 .5,-1.1 .5,-.2 .5,-.6 .5,-.8 .5,1 .5,.2 .5,.2 .5,.2 .5,-1.2 .5,.5 .5,.6 .5,.2 .5,0 .5,-1.1 .5,.7 .5,-1.4 .5,-1.1 .5,.8 .5,1.5 .5,-1.2 .5,.8 .5,-2.1 .5,.3 .5,-.3 .5,.1 .5,-.1 .5,1.7 .5,-.1 .5,-.2 .5,0 .5,-1.4 .5,.8 .5,-.4 .5,-.6 .5,1.2 .5,-1.4 .5,-.7 .5,-.3 .5,-.7 .5,.4 .5,.7 .5,-.5 .5,.4 .5,1 .5,-1 .5,.3 .5,-1 .5,.1 .5,-1.3 .5,-.2 .5,.4 .5,1.4 .5,-1 .5,-.7 .5,-.1 .5,.8 .5,.1 .5,-.5 .5,.3 .5,-.5 .5,.6 .5,-.4 .5,.3 .5,1.3 .5,-.2 .5,-1.1 .5,0 .5,-1 .5,.8 .5,1.9 .5,-.3 .5,.1 .5,.1 .5,-2.4 .5,.2 .5,.6 .5,-1.1 .5,-1 .5,-.3 .5,1 .5,-.2 .5,.7 .5,-.1 .5,.1 .5,.7 .5,-.2 .5,.3 .5,.2 .5,-.7 .5,-.9 .5,-1.4 .5,.4 .5,-1.2 .5,.6 .5,2.1 .5,.4 .5,-1 .5,-.4 .5,.8 .5,-1.4 .5,.1 .5,-.9 .5,.7 .5,.9 .5,0 .5,.6 .5,-.8 .5,-1.1 .5,-.8 .5,.1 .5,-.2 .5,.8 .5,.4 .5,.7 .5,-.1 .5,.2 .5,.6 .5,.1 .5,-.4 .5,-.2 .5,.2 .5,.7 .5,-1.2 .5,-1 .5,.3 .5,-1 .5,.9 .5,1 .5,-.7 .5,-.4 .5,1.1 .5,.7 .5,-1.2 .5,-.5 .5,.1 .5,-.3 .5,.4 .5,-.3 .5,-.5 .5,-.4 .5,-.3 .5,.8 .5,.1 .5,.6 .5,-1.1 .5,.3 .5,.2 .5,.3 .5,-.5 .5,.2 .5,.5 .5,.7 .5,-1.1 .5,.9 .5,-.9 .5,.7 .5,-.5 .5,-.4 .5,-.8 .5,2.2 .5,-.6 .5,-.3 .5,-.7 .5,.4 .5,-1.1 .5,1 .5,-1.4 .5,-.7 .5,.8 .5,.1 .5,.7 .5,.1 .5,.3 .5,-.8 .5,.2 .5,1.1 .5,-.2 .5,-.7 .5,-.3 .5,-1.1 .5,1.8 .5,-.6 .5,.6 .5,1.3 .5,-1.2 .5,-.4 .5,.5 .5,-.7 .5,.1 .5,-1.1 .5,-1.1 .5,1 .5,.2 .5,.9 .5,-.5 .5,-.7 .5,.3 .5,.7 .5,-.1 .5,-.1 .5,-.3 .5,-.9 .5,.5 .5,.6 .5,-.2 .5,.4 .5,1.1 .5,0 .5,.1 .5,.3 .5,-1 .5,-.4 .5,.8 .5,-.2 .5,-.2 .5,-.8 .5,-.9 .5,-.1 .5,-.1" fill="none" stroke-width="1.45" stroke-linejoin="round"/>
<path d="M31.0,109.1l.5,1.3 .5,.6 .5,1.4 .5,1 .5,-3.3 .5,1.1 .5,-.3 .5,.5 .5,-.2 .5,-.4 .5,-1 .5,-.3 .5,1 .5,1.5 .5,0 .5,1.1 .5,-1.5 .5,.1 .5,-2.9 .5,1.5 .5,-.5 .5,.4 .5,2.4 .5,-.9 .5,.6 .5,.6 .5,-1.5 .5,-.8 .5,3.3 .5,-2.4 .5,-.6 .5,-.3 .5,-1 .5,.6 .5,0 .5,1.9 .5,0 .5,1.4 .5,-.1 .5,-4.1 .5,1.4 .5,-1 .5,3.2 .5,-2.3 .5,.4 .5,-1.8 .5,2.3 .5,-1.7 .5,-.3 .5,-1.2 .5,2.7 .5,-.3 .5,.6 .5,-1.1 .5,1 .5,.2 .5,-1 .5,3.7 .5,.5 .5,-2.7 .5,-.9 .5,-.6 .5,.2 .5,-1 .5,1.8" fill="none" stroke-width="1.8" stroke-linejoin="round"/>
<path d="M68.9,115.0l.8,7.4 .5,28.5 .5,36 .5,40.4 .5,40.6 .5,37.7 .5,37.1 .5,30.7 .5,27.8 .5,21.6 .5,19.6 .5,15.2 .5,13 .5,11.2 .5,7.8 .5,6.4 .5,5.5 .5,4.4 .5,3.1 .5,1.2 .5,.9 .5,1 .5,-.4 .5,0 .5,0 .5,-.5 .5,-2.5 .5,-3.2 .5,-.1 .5,-3.6 .5,-1.2 .5,-2 .5,-.9 .5,-2.2 .5,-1.8 .5,-2.5 .5,-2.7 .5,-2.5 .5,-4.9 .5,-2.7 .5,-2.2 .5,-1.5 .5,-2.5 .5,-2.8 .5,-2 .5,-2.4 .5,-2.8 .5,-3.1 .5,-1.1 .5,-3.2 .5,-2.7 .5,-2 .5,-2.7 .5,-3.8 .5,-2.2 .5,-2.2 .5,-2.2 .5,-1.8 .5,-3.4 .5,-1.6 .5,-2.5 .5,-2.2 .5,-1.5 .5,-3 .5,-2 .5,-2.1 .5,-3.2 .5,-2.3 .5,-1.3 .5,-1.8 .5,-3.6 .5,-1.3 .5,-2.3 .5,-3.1 .5,-1.6 .5,-2.8 .5,-2.5 .5,-2.3 .5,-1.9 .5,-2.9 .5,-2.3 .5,-1.8 .5,-2 .5,-4 .5,-.8 .5,-2 .5,-3.2 .5,-1.5 .5,-1.9 .5,-2.4 .5,-1.3 .5,-2.7 .5,-2 .5,-2.3 .5,-2 .5,-2.1 .5,-1.5 .5,-2.1 .5,-1 .5,-2.5 .5,-2.6 .5,-.9 .5,-3.2 .5,-.6 .5,-1.7 .5,-2.5 .5,-2.2 .5,-1.6 .5,-1.5 .5,-1.3 .5,-1.8 .5,-2.4 .5,-1.1 .5,-2.6 .5,-1.8 .5,-1.5 .5,-1.8 .5,-1.2 .5,-2.9 .5,-1.6 .5,-.9 .5,-1.8 .5,-.9 .5,-3.1 .5,-2.4 .5,-2.2 .5,-.4 .5,-1.6 .5,-1.6 .5,-2.1 .5,.3 .5,-2.1 .5,-2.4 .5,-1.3 .5,-1.1 .5,-1.9 .5,.3 .5,-2.3 .5,-2.3 .5,-1.5 .5,-1.3 .5,-1 .5,-.5 .5,-3.3 .5,-.5 .5,-3.4 .5,-.7 .5,-2.1 .5,.6 .5,-1.9 .5,1.1 .5,-1.7 .5,-2 .5,-1.8 .5,-.3 .5,-1.3 .5,-.3 .5,-1.4 .5,-2.4 .5,-.8 .5,-2.5 .5,-.8 .5,-.8 .5,-1.2 .5,-.6 .5,-2.4 .5,-2.1 .5,-1.2 .5,-1 .5,-1 .5,0 .5,-2.3 .5,-.4 .5,-1.9 .5,-.9 .5,-1.4 .5,-1 .5,.4 .5,-1.8 .5,-.9 .5,-.1 .5,-.6 .5,-2.4 .5,-1 .5,-.6 .5,-1.2 .5,-1.4 .5,-1.6 .5,-.1 .5,-.5 .5,-.3 .5,-1.4 .5,-1.1 .5,-1.5 .5,-.6 .5,-.8 .5,-.6 .5,.1 .5,-1.9 .5,-1.5 .5,-1.1 .5,-.1 .5,-1 .5,.2 .5,-.7 .5,-.7 .5,-1.6 .5,-1.3 .5,-.8 .5,-.3 .5,-1.5 .5,-.8 .5,-1.6 .5,-1.9 .5,.3 .5,-.3 .5,.4 .5,-.9 .5,-2.6 .5,-1.7 .5,.7 .5,-.4 .5,-.5 .5,-.1 .5,-.4 .5,-2.2 .5,.3 .5,-2.5 .5,.5 .5,-1.2 .5,-.8 .5,-1 .5,-.2 .5,-.1 .5,-1.4 .5,.1 .5,-1 .5,0 .5,-.7 .5,-.8 .5,-.2 .5,-1.1 .5,0 .5,.1 .5,1.3 .5,-1 .5,-.8 .5,-.9 .5,-1.9 .5,-1 .5,-1.7 .5,.7 .5,-.3 .5,.2 .5,.1 .5,-1.1 .5,.8 .5,-1.5 .5,0 .5,-1.5 .5,-.7 .5,-1.5 .5,.3 .5,1.3 .5,-.9 .5,-.1 .5,-.7 .5,-1.5 .5,-.9 .5,-.9 .5,.2 .5,-.4 .5,-.2 .5,.1 .5,-.9 .5,-.9 .5,-.4 .5,0 .5,-1.4 .5,.2 .5,-1 .5,-.5 .5,.3 .5,.1 .5,.7 .5,-.6 .5,-.4 .5,-1.4 .5,-1.4 .5,-.8 .5,.7 .5,-.5 .5,-.8 .5,.5 .5,.4 .5,-.6 .5,-.8 .5,-.6 .5,0 .5,.1 .5,-.4 .5,-.3 .5,-.8 .5,.1 .5,-.2 .5,.4 .5,-1 .5,-1.2 .5,-1.2 .5,.4 .5,-1.4 .5,1.1 .5,-.1 .5,.7 .5,.1 .5,0 .5,-1.6 .5,-.7 .5,.3 .5,-.5 .5,-1.4 .5,1.7 .5,-1.3 .5,1 .5,.2 .5,.6 .5,-.4 .5,-.5 .5,-.4 .5,-.2 .5,-2.2 .5,-.3 .5,-.1 .5,.4 .5,.9 .5,-1.1 .5,-.5 .5,-1.1 .5,0 .5,.2 .5,-.4 .5,.3 .5,.1 .5,1 .5,-.9 .5,-1.2 .5,-.8 .5,-.8 .5,.6 .5,-.6 .5,-.1 .5,2.5 .5,-2.2 .5,-.2 .5,-.8 .5,0 .5,-.7 .5,0 .5,1 .5,.4 .5,-.7 .5,-1.2 .5,.4 .5,-.3 .5,.8 .5,0 .5,-1.2 .5,.5 .5,-.2 .5,.2 .5,-.8 .5,.2 .5,-1.1 .5,.2 .5,-.8 .5,-.2 .5,.5 .5,.3 .5,.1 .5,-.2 .5,-.9 .5,-1.2 .5,0 .5,.8 .5,-.6 .5,-.2 .5,.5 .5,.4 .5,-.8 .5,.7 .5,1.3 .5,-.3 .5,-1.4 .5,-.4 .5,-.6 .5,-.6 .5,.1 .5,.6 .5,1 .5,.7 .5,-.9 .5,-.8 .5,-.7 .5,.7 .5,.1 .5,-.9 .5,-.3 .5,.5 .5,.4 .5,.3 .5,-.2 .5,-1.1 .5,-.2 .5,-.7 .5,.1 .5,-.6 .5,.2 .5,1.1 .5,-.3 .5,0 .5,.2 .5,-.6 .5,.1 .5,-.2 .5,1 .5,.9 .5,-1.1 .5,.1 .5,-.6 .5,-.8 .5,-.5 .5,-.4 .5,.7 .5,.5 .5,-.3 .5,-.8 .5,-1.3 .5,1 .5,.3 .5,.4 .5,-1.6 .5,-.3 .5,-.4 .5,1.3 .5,-.6 .5,1.1 .5,-.8 .5,-.3 .5,1.3 .5,.5 .5,-.7 .5,0 .5,.3 .5,-.7 .5,-.3 .5,-.7 .5,.1 .5,-1.1 .5,.3 .5,.2 .5,.4 .5,-.3 .5,-.1 .5,.2 .5,-1.3 .5,-.6 .5,.6 .5,.8 .5,1.1 .5,.7 .5,-1 .5,.4 .5,0 .5,.8 .5,-.7 .5,-.5 .5,-1.7 .5,.5 .5,-.8 .5,-.3 .5,.2 .5,-.4 .5,1.1 .5,.3 .5,-.7 .5,.7 .5,-.9 .5,.1 .5,.7 .5,.4 .5,-.9 .5,-.9 .5,1.2 .5,1.3 .5,-.3 .5,.4 .5,-1.1 .5,.7 .5,-.2 .5,-1.1 .5,0 .5,1.2 .5,-.2 .5,-.6 .5,0 .5,0 .5,.8 .5,.2 .5,.2 .5,-.7 .5,-1 .5,.1 .5,.1 .5,0 .5,-.4 .5,.3 .5,.6 .5,-.1 .5,-.1 .5,.5 .5,-.2 .5,-.9 .5,.2 .5,0 .5,.3 .5,1.2 .5,-.8 .5,.5 .5,-1.2 .5,-1 .5,.3 .5,-.3 .5,-.6 .5,.5 .5,.4 .5,.9 .5,.1 .5,-1 .5,2.1 .5,-1.3 .5,.9 .5,-1.6 .5,-.3 .5,-.5 .5,.2 .5,.6 .5,-.7 .5,.2 .5,1.1 .5,0 .5,-1 .5,.6 .5,.3 .5,-.1 .5,.8 .5,.1 .5,-.4 .5,-.3 .5,-.8 .5,.2 .5,1.2 .5,-1.5 .5,1.3 .5,-1.2 .5,.1 .5,.5 .5,.1 .5,.7 .5,-1.1 .5,-.8 .5,-.2 .5,.6 .5,-.5 .5,.4 .5,.3 .5,-1.5 .5,.8 .5,.9 .5,-.5 .5,0 .5,1.4 .5,-1.1 .5,-.6 .5,-1 .5,.4 .5,.3 .5,1.5 .5,-.2 .5,-.3 .5,-.1 .5,-.3 .5,-.8 .5,-.5 .5,-.2 .5,1 .5,.4 .5,.8 .5,-.2 .5,-1.1 .5,.6 .5,.1 .5,.1 .5,-.4 .5,0 .5,-.5 .5,.2 .5,1.4 .5,-.7 .5,1 .5,-1.1" fill="none" stroke-width="1.45" stroke-linejoin="round"/>
<path d="M66.3,121.0L67.4,94.0L68.6,93.2L70.2,112.0L69.5,123.0Z" fill="#000" stroke-width="0.8"/>
<path d="M430.2,110.7l.5,-1.3 .5,1.7 .5,.1 .5,-.1 .5,1.5 .5,-.1 .5,1.2 .5,-1.8 .5,1.7 .5,-.7 .5,-3.2 .5,4.2 .5,-1.8 .5,-.5 .5,-.2 .5,.5 .5,-.3 .5,-.3 .5,-2.7 .5,0 .5,3.2 .5,-2.1 .5,4.2 .5,-2.1 .5,-1.1 .5,.6 .5,2.2 .5,-2.5 .5,-2.1 .5,2.5 .5,-.4 .5,-.9 .5,0 .5,0 .5,2.1 .5,.4 .5,.6 .5,-.2 .5,-.6 .5,-2.8 .5,.8 .5,1.1 .5,-.7 .5,.4 .5,-1 .5,.3 .5,1.1 .5,-.6 .5,-2.2 .5,1.1 .5,-.6 .5,-.3 .5,3.1 .5,-.8 .5,3.2 .5,-1.6 .5,-.2 .5,-1.6 .5,-.9 .5,1.1 .5,-1.8 .5,2.3 .5,-.5 .5,.1 .5,-1.1" fill="none" stroke-width="1.8" stroke-linejoin="round"/>
<path d="M466.8,114.5l.8,-3.1 .5,-.2 .5,0 .5,.5 .5,-.5 .5,.3 .5,-.7 .5,1.7 .5,-2.1 .5,-.5 .5,.6 .5,-.1 .5,.6 .5,-.8 .5,0 .5,-.2 .5,.4 .5,1.1 .5,-.6 .5,-.4 .5,.2 .5,-1.1 .5,.5 .5,-.1 .5,-.2 .5,-1.7 .5,-.6 .5,.8 .5,1.2 .5,-.4 .5,.6 .5,.3 .5,-.2 .5,.5 .5,-.7 .5,.1 .5,-1.7 .5,.2 .5,-1.4 .5,.9 .5,1.2 .5,.4 .5,.5 .5,-.7 .5,.5 .5,-.8 .5,-.7 .5,.6 .5,.4 .5,-.2 .5,1 .5,-.9 .5,-.5 .5,1 .5,0 .5,-.8 .5,-.3 .5,-.1 .5,1.6 .5,.8 .5,.1 .5,-.7 .5,-1.2 .5,1.2 .5,-.7 .5,-1.6 .5,1.2 .5,-1.1 .5,1.4 .5,.8 .5,-1.2 .5,-.6 .5,.6 .5,.4 .5,.4 .5,-.4 .5,0 .5,-1 .5,.4 .5,0 .5,.4 .5,0 .5,-.6 .5,.5 .5,-.5 .5,1.1 .5,.9 .5,-1.3 .5,-1.5 .5,.1 .5,.3 .5,0 .5,0 .5,.1 .5,.7 .5,-.3 .5,-.3 .5,-1 .5,.3 .5,-.3 .5,1.7 .5,-.6 .5,-1.5 .5,1.9 .5,-.6 .5,-.1 .5,.8 .5,.2 .5,.1 .5,.3 .5,.2 .5,-.2 .5,.3 .5,-1.2 .5,-.6 .5,-.5 .5,-.7 .5,.3 .5,.6 .5,1.8 .5,-.3 .5,.9 .5,-1.9 .5,.7 .5,-1.8 .5,.2 .5,.1 .5,-.7 .5,.9 .5,.2 .5,-.1 .5,.6 .5,-.6 .5,.9 .5,-.3 .5,-.1 .5,.9 .5,.8 .5,-2 .5,.8 .5,-.9 .5,.4 .5,0 .5,.5 .5,-.5 .5,.3 .5,.3 .5,.4 .5,0 .5,.5 .5,-.8 .5,.6 .5,-.3 .5,-.4 .5,-1.1 .5,.5 .5,.2 .5,.5 .5,-.1 .5,.3 .5,-.1 .5,.4 .5,-.6 .5,-.3 .5,-.6 .5,.9 .5,-.3 .5,-.9 .5,1.3 .5,-.6 .5,.3 .5,-.1 .5,-.4 .5,-.1 .5,0 .5,-.9 .5,0 .5,1.6 .5,-.2 .5,-1 .5,.3 .5,-1.2 .5,.6 .5,.6 .5,.5 .5,.7 .5,-.1 .5,-.5 .5,.2 .5,.4 .5,-.3 .5,-.6 .5,-.8 .5,.7 .5,-.2 .5,.6 .5,0 .5,-.5 .5,1.2 .5,.1 .5,.2 .5,-.9 .5,1 .5,-1 .5,.3 .5,.6 .5,.6 .5,-.8 .5,.2 .5,-.2 .5,-.3 .5,-.2 .5,-.4 .5,.3 .5,.3 .5,-1.2 .5,-.2 .5,1.3 .5,-1.5 .5,.4 .5,.3 .5,1.3 .5,.1 .5,-.1 .5,-1.6 .5,-1.4 .5,1.4 .5,-.4 .5,.8 .5,-.6 .5,.1 .5,.3 .5,.9 .5,-1 .5,.4 .5,-.2 .5,.1 .5,1.1 .5,.7 .5,.1 .5,.5 .5,-1.7 .5,.5 .5,.2 .5,1.2 .5,-1.5 .5,-.3 .5,-1.3 .5,-.3 .5,1 .5,-.7 .5,.5 .5,.6 .5,.5 .5,.3 .5,0 .5,.2 .5,.6 .5,-1.6 .5,-.5 .5,0 .5,.3 .5,.5 .5,.6 .5,.8 .5,-.5 .5,.3 .5,-.1 .5,-.5 .5,-.5 .5,-.3 .5,.7 .5,-.1 .5,1.1 .5,.6 .5,-.6 .5,-2.3 .5,.8 .5,-.5 .5,-.8 .5,.1 .5,-.1 .5,0 .5,.1 .5,-.3 .5,1.7 .5,-.6 .5,1.6 .5,-.3 .5,-.1 .5,-.3 .5,-.1 .5,-.9 .5,-.7 .5,.5 .5,-1.1 .5,.8 .5,-.1 .5,.2 .5,.5 .5,.2 .5,.9 .5,-.1 .5,-.1 .5,.3 .5,-.6 .5,-.3 .5,-1 .5,.3 .5,.7 .5,.3 .5,-.7 .5,.5 .5,-.8 .5,.4 .5,-1.2 .5,-.9 .5,.4 .5,.5 .5,1.7 .5,-1.3 .5,.8 .5,-.1 .5,1 .5,.7 .5,-.1 .5,-.1 .5,-.4 .5,-.5 .5,.3 .5,-.2 .5,-.2 .5,1.4 .5,-1.4 .5,-.3 .5,.2 .5,.7 .5,-.5 .5,.6 .5,-.5 .5,.4 .5,-.5 .5,-.2 .5,.2 .5,-1.5 .5,.8 .5,-.1 .5,-.5 .5,.9 .5,.4 .5,-.8 .5,.2 .5,1.6 .5,.7 .5,-.9 .5,-.8 .5,-.3 .5,-.6 .5,.8 .5,-.3 .5,.4 .5,-.3 .5,-.1 .5,0 .5,-.4 .5,1.1 .5,.7 .5,-.3 .5,-.8 .5,-.3 .5,-.6 .5,1.1 .5,.3 .5,.3 .5,-.7 .5,-.7 .5,.5 .5,-.2 .5,.3 .5,-1.2 .5,.7 .5,.5 .5,.9 .5,-.6 .5,-1 .5,.1 .5,1.3 .5,.3 .5,.1 .5,-.2 .5,.2 .5,-1.4 .5,0 .5,-.7 .5,-.4 .5,1.6 .5,.8 .5,-1.1 .5,-.3 .5,1.3 .5,-1 .5,-.6 .5,.2 .5,-.5 .5,-1.4 .5,.4 .5,.9 .5,.6 .5,.8 .5,-.2 .5,.7 .5,0 .5,-1.3 .5,.5 .5,-.4 .5,.4 .5,-.2 .5,.4 .5,-.3 .5,-1.4 .5,0 .5,.6 .5,.3 .5,-.1 .5,.1 .5,-.5 .5,.7 .5,-.6 .5,.8 .5,0 .5,.5 .5,-.4 .5,.4 .5,-.8 .5,-.5 .5,.5 .5,.6 .5,-.6 .5,-1.2 .5,-1.1 .5,-.2 .5,2 .5,.6 .5,.2 .5,.3 .5,.4 .5,-.2 .5,.1 .5,.5 .5,-.2 .5,-1.1 .5,-.3 .5,0 .5,-.4 .5,-.4 .5,.4 .5,1.3 .5,-1 .5,.2 .5,-.7 .5,.8 .5,-.3 .5,-.3 .5,.7 .5,0 .5,.9 .5,-.1 .5,-.2 .5,.2 .5,-.1 .5,-.3 .5,-.4 .5,1 .5,-1 .5,.2 .5,0 .5,-.2 .5,.1 .5,.9 .5,-.3 .5,-.1 .5,.1 .5,.5 .5,-1.1 .5,.7 .5,.4 .5,0 .5,.1 .5,-.7 .5,-2 .5,.4 .5,1.3 .5,.6 .5,-.6 .5,-.3 .5,-.5 .5,-.2 .5,-1.2 .5,.8 .5,-.3 .5,.9 .5,0 .5,0 .5,.7 .5,-.3 .5,-.2 .5,.2 .5,-.6 .5,.5 .5,.1 .5,1.7 .5,-.9 .5,.7 .5,-.8 .5,-.3 .5,0 .5,1 .5,.7 .5,-1 .5,-.9 .5,.3 .5,-.9 .5,.6 .5,.4 .5,-.1 .5,.6 .5,.2 .5,-.4 .5,.9 .5,-.2 .5,.1 .5,-.5 .5,0 .5,-1 .5,-.4 .5,-1.1 .5,1.8 .5,.4 .5,1.2 .5,-.5 .5,-.1 .5,0 .5,-1.7 .5,.2 .5,-1 .5,.9 .5,-.2 .5,1 .5,.2 .5,0 .5,-1.3 .5,.8 .5,-.9 .5,-1.1 .5,1.3 .5,.6 .5,.9 .5,-1.2 .5,-.2 .5,.1 .5,-.1 .5,.8 .5,-.7 .5,-.7 .5,.8 .5,.4 .5,1.2 .5,-1.7 .5,-1.3 .5,1.4 .5,-.2 .5,1.3 .5,-.2 .5,-.2 .5,.4 .5,-.6 .5,-1.1 .5,-1 .5,1.4 .5,.8 .5,-.2 .5,-.9 .5,1.7 .5,-1.2 .5,-.1 .5,-.3 .5,-.1 .5,-.3 .5,.5 .5,.7 .5,.3 .5,.4 .5,-.1 .5,-.3 .5,-.1 .5,.4 .5,-.5 .5,-.3 .5,-.9 .5,.3 .5,-.6 .5,.3 .5,-.1 .5,.8 .5,-.8 .5,.6 .5,-.3 .5,-.5 .5,1.2 .5,.8 .5,0 .5,-1.2 .5,.5 .5,.9" fill="none" stroke-width="1.45" stroke-linejoin="round"/>
<path d="M430.2,108.7l.5,.6 .5,-.1 .5,-.9 .5,-.7 .5,1.8 .5,1.5 .5,-2 .5,.6 .5,2.2 .5,-1.1 .5,-2.2 .5,3.8 .5,-1.7 .5,-.6 .5,.2 .5,.8 .5,-1.1 .5,2.5 .5,-1.6 .5,.1 .5,-.2 .5,-.5 .5,1 .5,1.7 .5,-2.5 .5,.4 .5,.1 .5,-2.2 .5,.8 .5,-2.9 .5,2 .5,-.4 .5,2.2 .5,.7 .5,3.1 .5,-4.3 .5,.9 .5,-1.2 .5,-1.5 .5,2.2 .5,-.3 .5,-1.2 .5,-.2 .5,1.6 .5,-.2 .5,-1.8 .5,2.1 .5,-.6 .5,.6 .5,-1.4 .5,1 .5,-.2 .5,.7 .5,.8 .5,1.7 .5,-3.2 .5,2.2 .5,-1.5 .5,-.5 .5,-.7 .5,1.2 .5,.2 .5,-1 .5,0 .5,0" fill="none" stroke-width="1.8" stroke-linejoin="round"/>
<path d="M466.8,114.5l.8,-1 .5,1.4 .5,1.9 .5,.6 .5,.9 .5,1.9 .5,2 .5,2.5 .5,3.2 .5,2.6 .5,.6 .5,1.7 .5,1.4 .5,1 .5,2.9 .5,1.4 .5,.5 .5,.5 .5,1.1 .5,1.3 .5,0 .5,.1 .5,-.2 .5,1.4 .5,.6 .5,-.9 .5,.5 .5,-.2 .5,-.3 .5,.4 .5,-.7 .5,.2 .5,-.4 .5,-.1 .5,-.3 .5,.2 .5,.9 .5,0 .5,.6 .5,-.5 .5,-.3 .5,0 .5,-.6 .5,-.1 .5,.4 .5,-.6 .5,-.1 .5,-.3 .5,-1.2 .5,.6 .5,-.5 .5,.1 .5,.2 .5,-.5 .5,-1.1 .5,.7 .5,-.2 .5,.4 .5,-.9 .5,-1.5 .5,-.3 .5,-.3 .5,-.5 .5,0 .5,.1 .5,.1 .5,.9 .5,-.8 .5,-1.4 .5,-.8 .5,1.2 .5,.5 .5,.8 .5,-1.4 .5,-.4 .5,-.9 .5,-.3 .5,-.9 .5,1 .5,-.1 .5,.6 .5,-.6 .5,.2 .5,-1.4 .5,-.9 .5,-1.2 .5,-.5 .5,.6 .5,.9 .5,.1 .5,-1 .5,-.5 .5,-.8 .5,.5 .5,-.5 .5,-.3 .5,.3 .5,-.6 .5,.5 .5,-.2 .5,-.8 .5,-.6 .5,.6 .5,.7 .5,-1.9 .5,.5 .5,-.6 .5,.6 .5,1.5 .5,-.9 .5,-1.4 .5,-.5 .5,-.1 .5,.2 .5,.7 .5,-.3 .5,-.1 .5,.6 .5,-.1 .5,-.9 .5,-.1 .5,-1.2 .5,-.2 .5,-.4 .5,.9 .5,-1 .5,-1 .5,-.2 .5,-.1 .5,.6 .5,-.8 .5,-.8 .5,.5 .5,1.8 .5,.7 .5,-.9 .5,-1.7 .5,.2 .5,-.2 .5,.1 .5,.9 .5,-.5 .5,-.1 .5,.1 .5,-1.8 .5,-.8 .5,0 .5,-.4 .5,.7 .5,.3 .5,.2 .5,.1 .5,-.4 .5,-.2 .5,.7 .5,-.2 .5,.2 .5,1 .5,-.7 .5,-.5 .5,-1.1 .5,-.6 .5,0 .5,1.5 .5,-1.2 .5,1.5 .5,-.1 .5,-1.7 .5,.2 .5,-1.7 .5,-.5 .5,.5 .5,.3 .5,0 .5,.1 .5,.7 .5,.6 .5,-.3 .5,-1 .5,.3 .5,.1 .5,-1.1 .5,.4 .5,.3 .5,.6 .5,.7 .5,-.5 .5,-1.4 .5,.4 .5,-1.5 .5,1.2 .5,.3 .5,-1.4 .5,-1.1 .5,.7 .5,-.1 .5,.3 .5,.2 .5,.8 .5,-.9 .5,1 .5,.7 .5,-1.4 .5,.1 .5,-1.1 .5,.2 .5,-.6 .5,.2 .5,-.8 .5,-1.1 .5,1.5 .5,-.3 .5,1.2 .5,-1.3 .5,.5 .5,-.5 .5,-1.1 .5,-.2 .5,-.3 .5,1.3 .5,.3 .5,1 .5,-1.1 .5,1.1 .5,-1.5 .5,-.5 .5,-.8 .5,.2 .5,.4 .5,.4 .5,.1 .5,-.2 .5,.1 .5,.4 .5,-.2 .5,.2 .5,.6 .5,-.2 .5,-.3 .5,.6 .5,-.6 .5,.3 .5,-1.1 .5,-.6 .5,-.6 .5,-.2 .5,.5 .5,-.2 .5,-.4 .5,.2 .5,-1 .5,1.8 .5,-.3 .5,-.1 .5,.5 .5,-.7 .5,-.1 .5,.5 .5,-.5 .5,0 .5,-.3 .5,.7 .5,-.2 .5,.2 .5,-1 .5,-.2 .5,-1.2 .5,.9 .5,-.4 .5,1.1 .5,.9 .5,.2 .5,-.6 .5,.4 .5,-1 .5,-.3 .5,.1 .5,.4 .5,1.1 .5,-.9 .5,-.2 .5,-1.4 .5,-.6 .5,1 .5,1.7 .5,-1 .5,-.3 .5,0 .5,.1 .5,-.5 .5,1.5 .5,0 .5,-.1 .5,.3 .5,-.6 .5,-.4 .5,-.3 .5,.1 .5,.1 .5,-.2 .5,1 .5,1.3 .5,-.8 .5,0 .5,-.8 .5,-.7 .5,-.6 .5,-.6 .5,1.1 .5,-.4 .5,.2 .5,-1.3 .5,-.4 .5,1.3 .5,.7 .5,-.1 .5,.9 .5,-.5 .5,-.4 .5,.3 .5,-.7 .5,.2 .5,0 .5,-.3 .5,-1 .5,.5 .5,-.3 .5,1 .5,-.6 .5,-1.2 .5,1.2 .5,0 .5,-.9 .5,0 .5,1.1 .5,-.2 .5,-.7 .5,.3 .5,.7 .5,-.2 .5,.4 .5,-.3 .5,.2 .5,-1.4 .5,.4 .5,.5 .5,.4 .5,.1 .5,1 .5,-.5 .5,-.6 .5,-1 .5,0 .5,-.2 .5,.3 .5,-.6 .5,.4 .5,-.2 .5,-.8 .5,1.6 .5,.6 .5,-1.4 .5,1.4 .5,-.8 .5,.6 .5,.3 .5,.3 .5,-.9 .5,-.3 .5,.2 .5,-.5 .5,-1.1 .5,.4 .5,.8 .5,-.3 .5,-.7 .5,1 .5,.2 .5,2.1 .5,-.9 .5,-1.1 .5,.4 .5,.3 .5,0 .5,-.6 .5,-.2 .5,-.1 .5,.7 .5,-.4 .5,-1.3 .5,-.4 .5,0 .5,0 .5,.4 .5,.5 .5,-.2 .5,.1 .5,0 .5,1.5 .5,-.1 .5,1.1 .5,-.9 .5,-.2 .5,-1 .5,-.4 .5,-.3 .5,1.4 .5,.1 .5,2 .5,-.3 .5,-.2 .5,-.9 .5,-.4 .5,-1.2 .5,-.8 .5,-.3 .5,-.7 .5,.7 .5,-.4 .5,.8 .5,.4 .5,.6 .5,-.2 .5,-.7 .5,.6 .5,-.7 .5,-.3 .5,-.5 .5,.9 .5,1 .5,-.2 .5,.1 .5,-1.8 .5,.4 .5,-.6 .5,1 .5,0 .5,-.6 .5,.2 .5,.8 .5,.2 .5,0 .5,1.2 .5,-1.1 .5,-1.8 .5,1.2 .5,-.1 .5,.6 .5,-.6 .5,.1 .5,.7 .5,-.6 .5,.6 .5,.1 .5,-.2 .5,-.1 .5,-.3 .5,0 .5,.9 .5,-.3 .5,-.1 .5,-.6 .5,.4 .5,.1 .5,-1 .5,2.2 .5,-.3 .5,-.7 .5,-.7 .5,2 .5,-.9 .5,-1 .5,-.8 .5,1.1 .5,-.7 .5,1.3 .5,-.5 .5,-1.3 .5,-.1 .5,.3 .5,1.3 .5,.3 .5,.4 .5,-1 .5,1.4 .5,-1.1 .5,-.7 .5,-1.1 .5,.8 .5,.1 .5,1.3 .5,-.8 .5,-.5 .5,.4 .5,.2 .5,-1.1 .5,.7 .5,-.6 .5,.4 .5,.5 .5,1.1 .5,-1.3 .5,-1.1 .5,1 .5,-.4 .5,0 .5,-.2 .5,.6 .5,.4 .5,-.5 .5,-.9 .5,.9 .5,.7 .5,-1.5 .5,1 .5,1.6 .5,-1.6 .5,.1 .5,-.1 .5,1.2 .5,-.7 .5,-.8 .5,-.2 .5,-.8 .5,-.4 .5,1.5 .5,-.4 .5,1.6 .5,0 .5,-.4 .5,.3 .5,-1 .5,-1.4 .5,-.1 .5,1 .5,0 .5,.9 .5,.1 .5,1 .5,-.5 .5,-.5 .5,-1.6 .5,-.1 .5,.7 .5,-.5 .5,0 .5,1 .5,.2 .5,-.5 .5,1.1 .5,.3 .5,-.5 .5,-.1 .5,0 .5,.3 .5,-1 .5,0 .5,-.8 .5,1.7 .5,-.1 .5,-1.7 .5,.8 .5,.4 .5,.6 .5,-.6 .5,-.6 .5,.7 .5,-.5 .5,-.9 .5,.2 .5,1.3 .5,-.2 .5,-.8 .5,0 .5,1.3 .5,-1.9 .5,.6 .5,.4 .5,-.5 .5,-.5 .5,-.6 .5,2 .5,.7 .5,.2 .5,-.5 .5,-.9 .5,.5 .5,-.5 .5,.2 .5,-.8 .5,.9 .5,-.1 .5,.3 .5,-.9 .5,.7 .5,.5 .5,.3 .5,-1.1 .5,.5 .5,1 .5,-.8 .5,-.5 .5,-1.5 .5,-.7 .5,.4 .5,.5 .5,.7 .5,.8 .5,-1 .5,.7 .5,.9 .5,-.2 .5,-.4 .5,-.4" fill="none" stroke-width="1.45" stroke-linejoin="round"/>
<path d="M430.2,110.8l.5,.1 .5,0 .5,.2 .5,-1.1 .5,1.5 .5,-.6 .5,.1 .5,.3 .5,2.2 .5,-1.9 .5,-2.4 .5,-.4 .5,2.3 .5,-1.1 .5,2.9 .5,-2.2 .5,1.4 .5,.5 .5,-3 .5,.9 .5,0 .5,1.7 .5,-.1 .5,-3.5 .5,2.7 .5,.1 .5,-.5 .5,.6 .5,-1.5 .5,.2 .5,.7 .5,-1.5 .5,1.7 .5,-.4 .5,1.4 .5,-3.3 .5,2.2 .5,-1.5 .5,-.2 .5,-.6 .5,0 .5,-.6 .5,.3 .5,3.1 .5,-3.4 .5,3.8 .5,-.9 .5,-.4 .5,.8 .5,-1 .5,.4 .5,.7 .5,-.6 .5,1.4 .5,.1 .5,-1 .5,.1 .5,-2 .5,.8 .5,-.5 .5,-1.4 .5,2.4 .5,1.1 .5,-1.7 .5,-.5" fill="none" stroke-width="1.8" stroke-linejoin="round"/>
<path d="M466.8,114.5l.8,-.4 .5,3.7 .5,3.9 .5,2.8 .5,6.2 .5,4.8 .5,5.6 .5,4.6 .5,4 .5,4.4 .5,3.3 .5,3.2 .5,2.8 .5,2.3 .5,2.3 .5,1.9 .5,1.3 .5,.7 .5,.7 .5,1.2 .5,-.3 .5,1.2 .5,-.6 .5,2 .5,-1.3 .5,1.7 .5,-.4 .5,0 .5,-.5 .5,-.8 .5,-.1 .5,.2 .5,-2 .5,-.2 .5,0 .5,-1.3 .5,1 .5,-.9 .5,.8 .5,.5 .5,-.7 .5,-.4 .5,-.6 .5,-1 .5,-1 .5,-1.1 .5,-.8 .5,-.5 .5,-.5 .5,.1 .5,0 .5,.3 .5,.5 .5,-1.2 .5,.8 .5,-.7 .5,-.4 .5,-1.2 .5,-.1 .5,-.1 .5,-.3 .5,-.1 .5,-2 .5,-.9 .5,.5 .5,.3 .5,-.6 .5,.6 .5,-1 .5,-.7 .5,-1.1 .5,-.4 .5,-.5 .5,.2 .5,-.9 .5,-.4 .5,-1.4 .5,1 .5,1.1 .5,-1 .5,1 .5,-1.7 .5,-1.1 .5,-.1 .5,-.6 .5,.5 .5,-.6 .5,-1.4 .5,.7 .5,-1 .5,-.2 .5,0 .5,-1.1 .5,-.3 .5,-.5 .5,-.7 .5,.1 .5,-.7 .5,1.6 .5,-.9 .5,-1.3 .5,.3 .5,1 .5,-1.2 .5,-1.1 .5,1 .5,-.8 .5,-1.3 .5,-.4 .5,-.8 .5,1.1 .5,1.1 .5,.4 .5,-1.4 .5,-.5 .5,-.7 .5,-1.1 .5,-.6 .5,-.1 .5,.5 .5,-.7 .5,.3 .5,-.7 .5,-1.1 .5,-.7 .5,-.7 .5,0 .5,.2 .5,.1 .5,-.2 .5,-.6 .5,0 .5,.6 .5,-.8 .5,.5 .5,-.4 .5,-1.6 .5,.2 .5,-.6 .5,.1 .5,.2 .5,-1.4 .5,1.2 .5,-1.4 .5,.3 .5,.2 .5,-.8 .5,.2 .5,-.5 .5,.9 .5,-1.4 .5,1.1 .5,-1 .5,-1.3 .5,-1.1 .5,.2 .5,.4 .5,-.6 .5,.7 .5,.1 .5,-.4 .5,-.8 .5,.2 .5,0 .5,-1 .5,.4 .5,-.3 .5,.3 .5,.8 .5,-.2 .5,-.1 .5,-.9 .5,-.3 .5,-1.7 .5,.3 .5,1.3 .5,-.5 .5,.1 .5,-.5 .5,-.4 .5,-1.1 .5,.2 .5,-.7 .5,.2 .5,-.3 .5,0 .5,.4 .5,.2 .5,.1 .5,-.9 .5,-.4 .5,.1 .5,.3 .5,.6 .5,-.7 .5,-1.5 .5,.7 .5,.5 .5,-1.6 .5,.5 .5,-1.5 .5,-.5 .5,.6 .5,.5 .5,-.2 .5,.3 .5,.7 .5,-.7 .5,.2 .5,-1.6 .5,-.3 .5,1.3 .5,-.3 .5,0 .5,.1 .5,-1.5 .5,.4 .5,.7 .5,.6 .5,-.8 .5,.3 .5,-.8 .5,.6 .5,-.9 .5,.5 .5,-2.1 .5,.2 .5,-1.2 .5,.5 .5,-.2 .5,.5 .5,.1 .5,-.9 .5,.7 .5,.9 .5,-.1 .5,.2 .5,-.4 .5,-1.9 .5,0 .5,.3 .5,-.4 .5,.8 .5,-.2 .5,1.3 .5,-.2 .5,-.3 .5,-1.3 .5,.1 .5,-1.4 .5,.9 .5,-.2 .5,.8 .5,1 .5,-1.6 .5,.5 .5,-.3 .5,-.7 .5,.1 .5,-.6 .5,.9 .5,-.9 .5,1 .5,-.3 .5,-.9 .5,-.7 .5,.5 .5,-.2 .5,.5 .5,.2 .5,.2 .5,-1.2 .5,.4 .5,-.4 .5,.6 .5,-.5 .5,-.7 .5,.7 .5,.4 .5,-.6 .5,-.6 .5,.2 .5,.5 .5,.1 .5,-.3 .5,-1.6 .5,.9 .5,.1 .5,-.9 .5,-.2 .5,-1 .5,.9 .5,2 .5,-.8 .5,-.6 .5,-.3 .5,-1 .5,-.3 .5,-.4 .5,-.4 .5,.6 .5,1 .5,-.6 .5,.8 .5,.2 .5,-.9 .5,.1 .5,.4 .5,-.3 .5,.4 .5,.3 .5,.8 .5,-.2 .5,-.7 .5,.5 .5,-.3 .5,-.6 .5,-1.1 .5,-.2 .5,-.7 .5,.9 .5,-.4 .5,.6 .5,2 .5,-.9 .5,-1.6 .5,1.2 .5,-.3 .5,-.3 .5,0 .5,-.2 .5,-.3 .5,-.1 .5,.9 .5,-2.1 .5,0 .5,1.1 .5,-.3 .5,1 .5,-.1 .5,-.4 .5,1.2 .5,-.2 .5,-.9 .5,.1 .5,.6 .5,-.2 .5,0 .5,-1 .5,-.5 .5,-.8 .5,-.4 .5,1.2 .5,-.4 .5,1.4 .5,0 .5,-.6 .5,.4 .5,.9 .5,.1 .5,-.9 .5,-.4 .5,-1.4 .5,.2 .5,.6 .5,.8 .5,.4 .5,-.5 .5,.6 .5,-1.2 .5,.6 .5,-.5 .5,.7 .5,.2 .5,-.3 .5,-1 .5,-.1 .5,-.2 .5,-.2 .5,.7 .5,.4 .5,0 .5,-.1 .5,.1 .5,-.1 .5,0 .5,-.6 .5,-.8 .5,-.4 .5,-.1 .5,-.7 .5,.9 .5,1.9 .5,-.1 .5,.3 .5,-1.1 .5,.9 .5,-.5 .5,.4 .5,-.2 .5,-.4 .5,-.7 .5,.4 .5,1.1 .5,-.8 .5,.2 .5,-1.2 .5,.8 .5,-.2 .5,.7 .5,-1.3 .5,-.3 .5,-.4 .5,-.1 .5,1.3 .5,.5 .5,.4 .5,-.5 .5,-.3 .5,.6 .5,-.1 .5,-.3 .5,-1.3 .5,-.2 .5,-.9 .5,.3 .5,.8 .5,.3 .5,-.3 .5,1.5 .5,-.6 .5,.2 .5,-1.8 .5,1.2 .5,.3 .5,-.4 .5,-.7 .5,-.9 .5,.1 .5,.7 .5,-.1 .5,.7 .5,.2 .5,.1 .5,.7 .5,-.2 .5,0 .5,-.3 .5,-1.3 .5,0 .5,1.9 .5,-.6 .5,-.6 .5,-.5 .5,-1.4 .5,1.8 .5,.6 .5,.8 .5,.4 .5,0 .5,-.2 .5,-.6 .5,0 .5,-.2 .5,-.2 .5,-.8 .5,1.6 .5,-.8 .5,.4 .5,-.6 .5,-1 .5,-1.3 .5,.8 .5,.8 .5,1.3 .5,0 .5,.8 .5,-.9 .5,-.5 .5,0 .5,.3 .5,0 .5,.1 .5,-.9 .5,-.6 .5,.3 .5,.9 .5,-.6 .5,-.4 .5,.6 .5,-.5 .5,.8 .5,-.1 .5,.6 .5,-.6 .5,-.3 .5,.3 .5,-1 .5,-1.3 .5,-.1 .5,0 .5,.7 .5,-.7 .5,-.1 .5,.5 .5,.9 .5,-.4 .5,-.1 .5,.3 .5,1.3 .5,-.2 .5,1.7 .5,-.2 .5,-.5 .5,.7 .5,-.1 .5,-1 .5,.5 .5,-1.7 .5,.1 .5,1.2 .5,.2 .5,.5 .5,-.3 .5,-.5 .5,-1.5 .5,-.4 .5,.6 .5,-.4 .5,.2 .5,0 .5,.7 .5,-.9 .5,.5 .5,.2 .5,-1.1 .5,-.2 .5,0 .5,-.9 .5,1.2 .5,-.2 .5,.8 .5,-.3 .5,.6 .5,.7 .5,.9 .5,-.5 .5,-.2 .5,-.9 .5,0 .5,-.4 .5,.5 .5,0 .5,-.9 .5,-.1 .5,.7 .5,.1 .5,.7 .5,.6 .5,-.8 .5,.9 .5,-.7 .5,.2 .5,0 .5,-.3 .5,-.6 .5,.7 .5,-.7 .5,.2 .5,-.2 .5,.6 .5,.1 .5,-.9 .5,-.3 .5,-.3 .5,-.4 .5,0 .5,-.1 .5,1 .5,0 .5,1.4 .5,-.8 .5,-.2 .5,.3 .5,.4 .5,.3 .5,-.9 .5,.5 .5,-.5 .5,.3 .5,-.3 .5,.5 .5,-.8 .5,-.8 .5,-.4 .5,.4 .5,-.2 .5,.4 .5,-.1 .5,-2.1 .5,.5 .5,1.3 .5,1 .5,.3 .5,.4 .5,.9 .5,-.6 .5,-.4 .5,.6 .5,-1.6 .5,.6 .5,-.5 .5,-1 .5,-.3" fill="none" stroke-width="1.45" stroke-linejoin="round"/>
<path d="M430.2,111.1l.5,-.2 .5,.3 .5,-.8 .5,.1 .5,1.2 .5,-1.9 .5,2.7 .5,-1.2 .5,-.9 .5,1.5 .5,-2 .5,.8 .5,-1.5 .5,2.8 .5,-.8 .5,-.2 .5,.9 .5,-1.5 .5,-1.6 .5,1.5 .5,2 .5,.8 .5,-3.3 .5,1.6 .5,-.7 .5,-2.9 .5,-.9 .5,3.7 .5,-1.3 .5,-.4 .5,1.2 .5,-2.3 .5,2.5 .5,-.1 .5,.1 .5,1.6 .5,-1.8 .5,-.8 .5,-.8 .5,0 .5,1.4 .5,2.1 .5,-3.8 .5,1.1 .5,.6 .5,1.4 .5,-1.9 .5,.8 .5,-3.6 .5,1.1 .5,2 .5,-3.5 .5,2.4 .5,1.1 .5,-.1 .5,1 .5,-1.4 .5,.2 .5,1.6 .5,-.7 .5,1.7 .5,-1.6 .5,-.4 .5,.3 .5,2.6" fill="none" stroke-width="1.8" stroke-linejoin="round"/>
<path d="M466.8,114.5l.8,-.7 .5,6.4 .5,7 .5,6.8 .5,6.7 .5,8.2 .5,7.8 .5,8.2 .5,6.4 .5,5.1 .5,4.5 .5,3.3 .5,2.8 .5,3.9 .5,1.8 .5,1.5 .5,.6 .5,1.2 .5,1 .5,-.4 .5,1.2 .5,.7 .5,1 .5,-.7 .5,1.2 .5,-1.1 .5,-.5 .5,-.4 .5,-.4 .5,-1 .5,-.7 .5,.1 .5,-.1 .5,-.6 .5,-1.5 .5,.1 .5,1.6 .5,-2.1 .5,-.4 .5,-1.3 .5,1.1 .5,0 .5,-.8 .5,-1 .5,-1.9 .5,-.3 .5,-.7 .5,-.4 .5,.6 .5,0 .5,-.8 .5,.8 .5,-1.1 .5,.1 .5,-1 .5,-.2 .5,-1.9 .5,-.5 .5,-1.1 .5,0 .5,.4 .5,.8 .5,-2.5 .5,0 .5,-.9 .5,-1 .5,-.2 .5,-.9 .5,.1 .5,.2 .5,0 .5,-1.8 .5,-.3 .5,-.2 .5,.1 .5,-.8 .5,.5 .5,-1.4 .5,-.7 .5,-2.3 .5,.7 .5,-1.1 .5,1.2 .5,-1.2 .5,-.5 .5,.5 .5,.8 .5,-1.1 .5,-1 .5,-2.6 .5,-.2 .5,-.6 .5,.1 .5,-1.1 .5,.3 .5,1.1 .5,.2 .5,.3 .5,-.1 .5,-.9 .5,-1.3 .5,-.6 .5,-1.3 .5,.8 .5,-2.2 .5,-1.3 .5,-.7 .5,-.6 .5,.3 .5,.4 .5,.3 .5,.4 .5,-.8 .5,-1.7 .5,-.7 .5,-1.3 .5,-.8 .5,1.5 .5,-.8 .5,-.8 .5,-.2 .5,2.1 .5,-.5 .5,.1 .5,-1.9 .5,-1.3 .5,-.6 .5,.5 .5,-1.5 .5,.6 .5,-.7 .5,0 .5,-.5 .5,.1 .5,-1 .5,-.8 .5,.4 .5,.3 .5,-.5 .5,-1.2 .5,.3 .5,1.6 .5,.5 .5,.7 .5,-1.4 .5,-.9 .5,-2.3 .5,-.1 .5,-.2 .5,-.3 .5,-.7 .5,.6 .5,.4 .5,-.8 .5,-.5 .5,-.5 .5,-.1 .5,-.4 .5,-.9 .5,-.2 .5,-.4 .5,-.8 .5,.4 .5,-.7 .5,-1.3 .5,.8 .5,0 .5,-.2 .5,-.4 .5,.7 .5,0 .5,.5 .5,-.9 .5,-.7 .5,-.3 .5,.3 .5,.1 .5,.5 .5,-.6 .5,-1 .5,-.6 .5,-.2 .5,-.5 .5,-.8 .5,.2 .5,-.5 .5,.6 .5,-1.4 .5,-1 .5,.3 .5,1 .5,-1.1 .5,.1 .5,1.2 .5,-1.2 .5,-.6 .5,-.5 .5,.4 .5,-1.1 .5,-.5 .5,.3 .5,.2 .5,-.9 .5,-1 .5,0 .5,1.5 .5,-1.3 .5,.5 .5,-.6 .5,.2 .5,-.6 .5,-.5 .5,.3 .5,.5 .5,.8 .5,-1.5 .5,-.7 .5,.3 .5,-1.3 .5,-.3 .5,-.2 .5,-.6 .5,1.3 .5,.1 .5,.9 .5,.3 .5,-.5 .5,-.7 .5,-.3 .5,-.2 .5,-.6 .5,-.7 .5,.2 .5,-.4 .5,1 .5,1.2 .5,-1.2 .5,-.8 .5,-.3 .5,-1.2 .5,.5 .5,-.4 .5,-.7 .5,-.4 .5,-.1 .5,-.5 .5,.3 .5,1.4 .5,0 .5,.5 .5,-.9 .5,-.8 .5,-.1 .5,.5 .5,.8 .5,-1.2 .5,1.5 .5,-3 .5,.4 .5,-.6 .5,-1.3 .5,-.6 .5,1.1 .5,.6 .5,1.1 .5,-.4 .5,-.2 .5,-.4 .5,.3 .5,-1.4 .5,0 .5,0 .5,1.1 .5,-2.4 .5,1 .5,.8 .5,-.3 .5,.6 .5,.3 .5,-.6 .5,-1 .5,-.4 .5,.2 .5,.1 .5,1.9 .5,-.1 .5,-1.5 .5,-.7 .5,-1.1 .5,.1 .5,.1 .5,-.4 .5,1.1 .5,.1 .5,.1 .5,-1.9 .5,-.8 .5,.6 .5,1 .5,.2 .5,0 .5,-1 .5,.1 .5,0 .5,-.1 .5,.6 .5,.9 .5,-.1 .5,-1.3 .5,-.3 .5,-.1 .5,1.2 .5,.1 .5,-.5 .5,-1.7 .5,-.1 .5,-.1 .5,1.4 .5,-.5 .5,-1.1 .5,.5 .5,-.4 .5,-.1 .5,.9 .5,-1.2 .5,.1 .5,0 .5,-.6 .5,0 .5,0 .5,1.6 .5,-.9 .5,-.2 .5,.2 .5,-1.3 .5,0 .5,-.2 .5,1.1 .5,.4 .5,-.8 .5,.8 .5,.1 .5,-.1 .5,-.2 .5,-.1 .5,-1.2 .5,-.3 .5,.6 .5,0 .5,-.4 .5,.2 .5,.5 .5,.4 .5,-.7 .5,.1 .5,1.1 .5,-.5 .5,.1 .5,-1 .5,-1.4 .5,-.1 .5,-.8 .5,1.1 .5,1 .5,-1.1 .5,.8 .5,-.4 .5,-.6 .5,-.4 .5,.7 .5,.4 .5,-.3 .5,-1.1 .5,.4 .5,.7 .5,-.8 .5,1.8 .5,-1.5 .5,-.3 .5,.1 .5,.5 .5,.5 .5,.8 .5,-.8 .5,-.3 .5,-1 .5,.7 .5,-.9 .5,0 .5,1.5 .5,-.9 .5,.6 .5,0 .5,-.2 .5,-1.3 .5,.3 .5,1.1 .5,0 .5,-.4 .5,-.1 .5,-.9 .5,-.2 .5,-.2 .5,.3 .5,-.1 .5,-.5 .5,1.1 .5,-.2 .5,.4 .5,.4 .5,-.9 .5,.2 .5,-1 .5,.1 .5,-.4 .5,-1 .5,.6 .5,0 .5,.8 .5,.8 .5,.2 .5,-.9 .5,-.9 .5,.1 .5,.6 .5,.1 .5,.8 .5,-.9 .5,1.2 .5,-.8 .5,0 .5,.4 .5,.1 .5,-.1 .5,.3 .5,-1.2 .5,.1 .5,-.8 .5,-.6 .5,1.1 .5,-.3 .5,.6 .5,-.8 .5,1.3 .5,-.1 .5,-.6 .5,.7 .5,-.1 .5,.5 .5,-1 .5,-1.9 .5,.2 .5,.6 .5,1 .5,.6 .5,.3 .5,-.5 .5,-.5 .5,-.6 .5,.1 .5,-.7 .5,.5 .5,0 .5,1 .5,.2 .5,.1 .5,-.3 .5,0 .5,-.9 .5,.6 .5,-.8 .5,.6 .5,-.4 .5,-.6 .5,.3 .5,.1 .5,-.1 .5,-.7 .5,-.5 .5,.3 .5,.3 .5,1.8 .5,-.7 .5,.6 .5,.4 .5,-1.7 .5,1.9 .5,.3 .5,-.4 .5,-.5 .5,-1.3 .5,.4 .5,-.6 .5,.4 .5,.2 .5,-.9 .5,-.8 .5,.4 .5,.9 .5,-.8 .5,-.1 .5,.2 .5,-.2 .5,.6 .5,-.6 .5,-.3 .5,.3 .5,0 .5,.6 .5,.4 .5,.7 .5,-.7 .5,-.3 .5,.7 .5,-.3 .5,-.7 .5,.2 .5,.6 .5,.8 .5,-1 .5,-.3 .5,.6 .5,.1 .5,-1.5 .5,-.1 .5,.5 .5,.4 .5,.1 .5,-.4 .5,1.2 .5,-1.1 .5,.3 .5,-.5 .5,.1 .5,-.7 .5,1.1 .5,-.4 .5,-.1 .5,0 .5,.2 .5,1 .5,.6 .5,-.2 .5,-.8 .5,-1 .5,.4 .5,-.4 .5,.1 .5,.3 .5,1.1 .5,-.5 .5,.1 .5,-.3 .5,-.9 .5,.4 .5,-.4 .5,.3 .5,-.8 .5,-.2 .5,1.5 .5,-1.1 .5,2.5 .5,.2 .5,0 .5,0 .5,0 .5,.2 .5,-1.7 .5,.1 .5,-.9 .5,-.3 .5,.4 .5,.2 .5,.3 .5,-.3 .5,-.1 .5,.8 .5,-.6 .5,-.4 .5,.3 .5,.4 .5,.2 .5,-1.2 .5,-.7 .5,.1 .5,-.5 .5,1.3 .5,.1 .5,-.1 .5,.6 .5,.1 .5,-.8 .5,-.4 .5,.7 .5,-.8 .5,-.6 .5,.6 .5,.4 .5,-.5 .5,-.9 .5,.9 .5,.3 .5,1.8 .5,-.9 .5,.9 .5,-1.2 .5,-.4 .5,.4 .5,1.3 .5,-.4 .5,1 .5,.4 .5,-.4 .5,-1.6" fill="none" stroke-width="1.45" stroke-linejoin="round"/>
<path d="M430.2,110.5l.5,-1 .5,-1.1 .5,1.1 .5,-.1 .5,1.9 .5,1.4 .5,-4 .5,.3 .5,3 .5,-.1 .5,-1.5 .5,1.2 .5,.3 .5,-1.8 .5,1.4 .5,-2.1 .5,.3 .5,.9 .5,-2.8 .5,2 .5,-.1 .5,1 .5,-2.6 .5,1.5 .5,-1.9 .5,2.1 .5,2 .5,.7 .5,-1.4 .5,-1.5 .5,-.2 .5,2.4 .5,-1.2 .5,1.1 .5,-.6 .5,-.3 .5,1.3 .5,-3.6 .5,1.6 .5,1.5 .5,1.1 .5,-2.8 .5,0 .5,1.1 .5,-1.1 .5,.5 .5,2.5 .5,-3.3 .5,-1.2 .5,.5 .5,.4 .5,-.9 .5,1.3 .5,1.4 .5,-.2 .5,-1.5 .5,1.2 .5,.6 .5,-.6 .5,-2.1 .5,3.5 .5,-1.6 .5,1.2 .5,-2.1 .5,-.6" fill="none" stroke-width="1.8" stroke-linejoin="round"/>
<path d="M466.8,114.5l.8,-1.4 .5,6.1 .5,8 .5,8.8 .5,10.2 .5,10.2 .5,10.3 .5,9 .5,8.5 .5,7.6 .5,5.3 .5,4.4 .5,3.8 .5,4.9 .5,4.4 .5,1.1 .5,3 .5,.8 .5,1.5 .5,1.4 .5,2 .5,.9 .5,.7 .5,-.7 .5,.6 .5,.4 .5,-.1 .5,-.2 .5,-1.1 .5,-.3 .5,.3 .5,.4 .5,-1.3 .5,.5 .5,-.9 .5,-.5 .5,0 .5,-.9 .5,-1 .5,.1 .5,-.7 .5,-1 .5,-.1 .5,-.1 .5,-2.3 .5,-.7 .5,.3 .5,.1 .5,-.9 .5,-.5 .5,-1.8 .5,.1 .5,-1.1 .5,-1.4 .5,-1.8 .5,-.5 .5,1.2 .5,-.5 .5,-1.5 .5,-.7 .5,-1 .5,-1.1 .5,.2 .5,-.5 .5,-1 .5,-.7 .5,-1.2 .5,-.6 .5,-1.7 .5,-.4 .5,-.7 .5,-.7 .5,-.2 .5,-1.1 .5,-.1 .5,1 .5,-1.3 .5,.1 .5,-1.4 .5,-2 .5,-1.3 .5,.8 .5,-.9 .5,-.8 .5,-1.1 .5,-1 .5,1.3 .5,-.5 .5,-.6 .5,-1 .5,-.6 .5,-.1 .5,-2.3 .5,-.1 .5,-.4 .5,-.5 .5,.5 .5,-1.2 .5,.3 .5,-.8 .5,-1.8 .5,.5 .5,-.4 .5,-.2 .5,-.2 .5,-2.3 .5,-1.4 .5,-1.1 .5,1.1 .5,-.5 .5,.7 .5,-.8 .5,0 .5,-1.5 .5,-.8 .5,-1.7 .5,.7 .5,-.4 .5,-.3 .5,-1 .5,-1.2 .5,.2 .5,-.8 .5,0 .5,.6 .5,-.8 .5,.2 .5,-1.2 .5,-.9 .5,-.5 .5,.3 .5,-1.1 .5,-.5 .5,-1.3 .5,.3 .5,-.7 .5,.3 .5,0 .5,-1.6 .5,-2.2 .5,-.6 .5,-.1 .5,.7 .5,-.3 .5,.6 .5,-.9 .5,-.9 .5,.8 .5,-1.6 .5,-1 .5,-.4 .5,.2 .5,.1 .5,.3 .5,-.3 .5,-1.2 .5,-1 .5,.7 .5,-.3 .5,.2 .5,-1.6 .5,1.2 .5,-1.2 .5,.2 .5,-1.1 .5,.3 .5,.2 .5,-.5 .5,-1.3 .5,-.8 .5,-2 .5,.3 .5,.1 .5,-1.1 .5,.6 .5,.7 .5,.6 .5,-.7 .5,.2 .5,.1 .5,-1.8 .5,0 .5,-.3 .5,0 .5,-1.9 .5,.9 .5,-.4 .5,-.5 .5,-.4 .5,.1 .5,.5 .5,-.6 .5,-1.6 .5,-.9 .5,-.5 .5,-1.5 .5,1 .5,.5 .5,-.7 .5,-.1 .5,.3 .5,1 .5,-.7 .5,-.6 .5,0 .5,-.7 .5,0 .5,.6 .5,-1.2 .5,-1.3 .5,-.8 .5,-.4 .5,.9 .5,-.6 .5,-1.2 .5,.1 .5,-.7 .5,.3 .5,.3 .5,.8 .5,-.3 .5,-.9 .5,-.8 .5,-.7 .5,.4 .5,.8 .5,-1 .5,.4 .5,-1.4 .5,0 .5,1.8 .5,-1.7 .5,1.1 .5,-1.2 .5,.1 .5,.1 .5,.5 .5,-.5 .5,-1.1 .5,.4 .5,-1.4 .5,-.5 .5,-1 .5,-.4 .5,1 .5,1 .5,-.6 .5,-.5 .5,.5 .5,-1 .5,.1 .5,-.8 .5,0 .5,-1.2 .5,-.7 .5,-1.2 .5,-.5 .5,-.3 .5,1.2 .5,.5 .5,.9 .5,-1.2 .5,-.2 .5,.5 .5,-.2 .5,-.3 .5,.1 .5,-.2 .5,.5 .5,-1.2 .5,-.3 .5,-.5 .5,1 .5,-.1 .5,.4 .5,-.8 .5,1.2 .5,-.8 .5,.2 .5,-.3 .5,-.1 .5,-1.6 .5,.3 .5,.3 .5,.6 .5,-.7 .5,.3 .5,.3 .5,-.9 .5,-.5 .5,-.2 .5,.6 .5,-.7 .5,.2 .5,-.2 .5,.3 .5,.6 .5,-.7 .5,-.4 .5,-.7 .5,.1 .5,.9 .5,.3 .5,-.9 .5,-.2 .5,-.4 .5,.1 .5,.3 .5,-1.5 .5,.1 .5,-.2 .5,-1 .5,.9 .5,0 .5,.1 .5,1.7 .5,-.4 .5,-1.1 .5,0 .5,.5 .5,.2 .5,-.6 .5,-.7 .5,-.9 .5,-.4 .5,.6 .5,.2 .5,.3 .5,.2 .5,-1.3 .5,-.6 .5,.7 .5,.1 .5,1.3 .5,-1.3 .5,1.1 .5,-.6 .5,.2 .5,.4 .5,-.9 .5,-1.6 .5,.1 .5,1 .5,-.9 .5,-.7 .5,-.8 .5,.3 .5,.3 .5,.3 .5,.8 .5,-.4 .5,-.5 .5,.7 .5,-.8 .5,.3 .5,.6 .5,.2 .5,-1 .5,.3 .5,.1 .5,-.1 .5,.3 .5,-.5 .5,-.1 .5,.3 .5,-.3 .5,0 .5,-.1 .5,.6 .5,-1 .5,-.5 .5,.3 .5,-.9 .5,.3 .5,.1 .5,-.1 .5,.3 .5,.6 .5,.5 .5,-.6 .5,-.4 .5,-.9 .5,.6 .5,.1 .5,-.1 .5,-1.1 .5,-.4 .5,.4 .5,.2 .5,.3 .5,.3 .5,.2 .5,-.3 .5,-.6 .5,.2 .5,-.6 .5,.5 .5,-.7 .5,.1 .5,-.7 .5,.1 .5,.4 .5,1.5 .5,-.2 .5,.5 .5,-1 .5,-.6 .5,-.8 .5,.2 .5,.3 .5,.6 .5,-.9 .5,1.1 .5,-1.4 .5,2.9 .5,-1.8 .5,0 .5,-.8 .5,.3 .5,-.4 .5,-.6 .5,.6 .5,.4 .5,1 .5,-1 .5,-.5 .5,0 .5,.6 .5,.8 .5,-.4 .5,-.8 .5,.4 .5,.3 .5,.4 .5,0 .5,-.9 .5,-.6 .5,.7 .5,-1.3 .5,.7 .5,-1.9 .5,1.3 .5,.6 .5,.2 .5,-.3 .5,-.6 .5,-1 .5,.5 .5,1 .5,-1.4 .5,.7 .5,-.3 .5,.2 .5,.5 .5,-.8 .5,.5 .5,-1.6 .5,-.4 .5,1.8 .5,.4 .5,.4 .5,.3 .5,.5 .5,-.2 .5,-1.1 .5,.7 .5,-.3 .5,-.8 .5,-.5 .5,-.1 .5,1 .5,.2 .5,-.3 .5,.6 .5,-1 .5,-.1 .5,0 .5,-1.1 .5,.8 .5,.3 .5,.9 .5,.3 .5,-.5 .5,.3 .5,-.6 .5,.5 .5,.1 .5,.2 .5,.4 .5,-.2 .5,-.6 .5,0 .5,-.6 .5,.6 .5,0 .5,0 .5,.5 .5,-1.6 .5,-.9 .5,-.1 .5,1.5 .5,-.2 .5,.8 .5,-.8 .5,.6 .5,-.3 .5,-.1 .5,-.7 .5,.1 .5,-.6 .5,-1.1 .5,-1.1 .5,1.9 .5,.3 .5,.1 .5,.3 .5,-1.1 .5,1.1 .5,-1.1 .5,.6 .5,-.1 .5,.1 .5,.9 .5,.2 .5,0 .5,.3 .5,-.2 .5,-.7 .5,-.1 .5,.8 .5,-.2 .5,.1 .5,-.3 .5,-.5 .5,.1 .5,.8 .5,-.7 .5,-1.3 .5,-.2 .5,-.3 .5,.4 .5,-.1 .5,1.1 .5,.1 .5,.8 .5,-.5 .5,0 .5,-1.1 .5,-.1 .5,.4 .5,.5 .5,.6 .5,-1.3 .5,.9 .5,-.2 .5,-.7 .5,.2 .5,-1 .5,-.4 .5,1.4 .5,0 .5,-.9 .5,1.2 .5,-.2 .5,.9 .5,.6 .5,-1.1 .5,.1 .5,.4 .5,-.6 .5,-.3 .5,-.1 .5,-.7 .5,.1 .5,1.6 .5,-.9 .5,0 .5,-.1 .5,-.6 .5,.7 .5,.7 .5,1.4 .5,.1 .5,-.9 .5,1.1 .5,-1.1 .5,-2.4 .5,-.8 .5,-.3 .5,.7 .5,.9 .5,.5 .5,.5 .5,.2 .5,.2 .5,-.6 .5,.4 .5,-.1 .5,1 .5,-.2 .5,-.4 .5,-1.3 .5,0 .5,1.4 .5,-.7 .5,-.6 .5,1.1 .5,1.3 .5,-.5 .5,-1.4 .5,-.4 .5,-.7 .5,.5 .5,1.3" fill="none" stroke-width="1.45" stroke-linejoin="round"/>
<path d="M430.2,112.7l.5,-2.2 .5,2.6 .5,-1.5 .5,.1 .5,-1.4 .5,-.8 .5,.2 .5,1.7 .5,-1 .5,-.1 .5,.2 .5,-1.3 .5,3.1 .5,-1.7 .5,-2 .5,1.3 .5,.7 .5,-.9 .5,-.1 .5,-.5 .5,0 .5,-.5 .5,1.2 .5,.4 .5,-.6 .5,.2 .5,-.4 .5,1.6 .5,1.3 .5,-1.2 .5,.7 .5,1.3 .5,-1.4 .5,.9 .5,.7 .5,-1.6 .5,.1 .5,-1.4 .5,2.2 .5,-.9 .5,-1.2 .5,-1 .5,2 .5,-1.9 .5,-.2 .5,-.6 .5,-.5 .5,3.1 .5,-1.5 .5,.5 .5,-1.1 .5,0 .5,1 .5,-.1 .5,1.7 .5,-.4 .5,-.4 .5,1 .5,-1.9 .5,-1.3 .5,1.5 .5,.8 .5,-1.8 .5,2.5 .5,-.2" fill="none" stroke-width="1.8" stroke-linejoin="round"/>
<path d="M466.8,114.5l.8,-2.2 .5,7.4 .5,9.2 .5,9.9 .5,10.5 .5,11.3 .5,12.4 .5,13.6 .5,9.2 .5,9.3 .5,6.8 .5,8.3 .5,6.7 .5,7.2 .5,5.7 .5,2.6 .5,4.7 .5,3 .5,3.3 .5,2.5 .5,2.4 .5,3.1 .5,1.3 .5,1.6 .5,1 .5,-.6 .5,-.3 .5,.8 .5,.1 .5,-.3 .5,-.2 .5,.8 .5,.3 .5,-.3 .5,.4 .5,-.4 .5,-1.7 .5,-2.6 .5,.2 .5,-1.1 .5,-.2 .5,-1.1 .5,-.9 .5,-.3 .5,-.7 .5,-1.3 .5,-.4 .5,-1.3 .5,-.7 .5,-.5 .5,-1.8 .5,-.5 .5,-1.2 .5,-1.2 .5,.4 .5,-1 .5,-.6 .5,-1.3 .5,-.4 .5,-1.3 .5,-1.3 .5,-1.1 .5,.5 .5,-2.2 .5,-1 .5,-.9 .5,-.3 .5,-.6 .5,-.6 .5,-1.9 .5,-.9 .5,-.7 .5,-1.9 .5,0 .5,-.1 .5,-1.4 .5,-.7 .5,-.9 .5,0 .5,-1.6 .5,-1.7 .5,-.6 .5,-.7 .5,-.3 .5,-1.3 .5,.1 .5,-.9 .5,-1.4 .5,-1.3 .5,-1.1 .5,-.8 .5,-.2 .5,.4 .5,-2.2 .5,.1 .5,-.8 .5,-1.7 .5,-2.5 .5,.8 .5,-1.3 .5,-.7 .5,.1 .5,-.8 .5,-.3 .5,.1 .5,-1 .5,-.9 .5,-.7 .5,-.4 .5,-.1 .5,-.4 .5,-.6 .5,-1.7 .5,-1.4 .5,-1.6 .5,.1 .5,-.1 .5,-.7 .5,-1.8 .5,-2 .5,-.4 .5,0 .5,-1.3 .5,-.8 .5,.2 .5,-1.7 .5,-.1 .5,.3 .5,-.3 .5,.7 .5,-1.3 .5,-.9 .5,-1 .5,-1.1 .5,-.7 .5,-.8 .5,-.4 .5,-1.5 .5,.7 .5,-.6 .5,.1 .5,-.3 .5,-.9 .5,-1.5 .5,0 .5,-.2 .5,-1.5 .5,0 .5,-.9 .5,-.3 .5,-1.6 .5,-1.5 .5,-.4 .5,.4 .5,-.2 .5,-.4 .5,-.6 .5,-1.1 .5,-.6 .5,-.6 .5,-.2 .5,0 .5,.5 .5,-.6 .5,-.9 .5,.5 .5,.1 .5,-.7 .5,-1 .5,-.1 .5,-1.1 .5,-1.1 .5,-1.5 .5,-.2 .5,-1.2 .5,.6 .5,0 .5,-.2 .5,-1.1 .5,-.4 .5,-.6 .5,-.1 .5,-.3 .5,-.6 .5,-1 .5,.2 .5,-.1 .5,-1.4 .5,0 .5,-.5 .5,-.7 .5,-.4 .5,0 .5,.7 .5,-.5 .5,-.3 .5,-.5 .5,-.9 .5,-.7 .5,-.6 .5,-1.4 .5,.7 .5,-.3 .5,-.9 .5,.3 .5,-1.2 .5,-.1 .5,-.5 .5,-.5 .5,-.8 .5,.1 .5,-.5 .5,.5 .5,-.5 .5,1.8 .5,-.9 .5,-.8 .5,.6 .5,-1.7 .5,.1 .5,-1.4 .5,-.6 .5,-1.1 .5,-.4 .5,.9 .5,-.1 .5,-.1 .5,.1 .5,.6 .5,-.4 .5,-1 .5,-.1 .5,-1.8 .5,-.6 .5,-1.5 .5,.1 .5,-.3 .5,-.6 .5,.5 .5,.2 .5,-.5 .5,-.7 .5,1.5 .5,-.5 .5,-.5 .5,-.7 .5,.3 .5,-.8 .5,.7 .5,-.9 .5,.5 .5,-1.4 .5,-.3 .5,.4 .5,-.6 .5,-.1 .5,0 .5,.9 .5,-1.5 .5,.2 .5,0 .5,-.2 .5,.3 .5,-.1 .5,-.4 .5,-.3 .5,-1.4 .5,.3 .5,-.6 .5,.5 .5,-.8 .5,.5 .5,.6 .5,-.6 .5,-1.4 .5,-.5 .5,-.4 .5,-.8 .5,-.4 .5,.5 .5,-.6 .5,-.1 .5,.8 .5,.2 .5,.6 .5,-1.4 .5,-.6 .5,-1.2 .5,.5 .5,-.6 .5,.3 .5,0 .5,.5 .5,-.7 .5,-.7 .5,.7 .5,.1 .5,-.3 .5,1 .5,-1.5 .5,.1 .5,1.2 .5,-.2 .5,-.2 .5,-1.3 .5,.4 .5,-.1 .5,.1 .5,-.8 .5,-.1 .5,-1 .5,.2 .5,.5 .5,-.9 .5,-.6 .5,.2 .5,-.9 .5,1.4 .5,-.2 .5,.1 .5,-.5 .5,.2 .5,-.4 .5,-1.3 .5,.1 .5,.3 .5,.6 .5,-.6 .5,-1.1 .5,1.3 .5,.1 .5,.2 .5,-.8 .5,-1.1 .5,-.3 .5,.1 .5,-.4 .5,.6 .5,-.1 .5,0 .5,0 .5,-.3 .5,0 .5,.1 .5,-.5 .5,-.3 .5,-.3 .5,1.2 .5,-.4 .5,0 .5,-2 .5,1.2 .5,.9 .5,.9 .5,-.6 .5,-1.2 .5,-1.2 .5,-1.2 .5,1.5 .5,.1 .5,.5 .5,.4 .5,-.4 .5,.6 .5,1.3 .5,0 .5,-.6 .5,-1.9 .5,-1.5 .5,.1 .5,-.6 .5,1.3 .5,-.2 .5,.1 .5,-1.3 .5,.9 .5,-.7 .5,.7 .5,1.6 .5,0 .5,-1.3 .5,0 .5,-.2 .5,-.3 .5,.1 .5,-1.3 .5,-.2 .5,-.9 .5,1.4 .5,-.1 .5,.5 .5,0 .5,-.6 .5,0 .5,-.1 .5,.8 .5,-1.1 .5,1.4 .5,.2 .5,-.9 .5,0 .5,-1.5 .5,.4 .5,-.9 .5,-.5 .5,0 .5,.8 .5,.5 .5,-.1 .5,-.2 .5,.3 .5,-.1 .5,.3 .5,1.5 .5,-1.3 .5,-.5 .5,-.9 .5,-.3 .5,.9 .5,.2 .5,-.3 .5,.7 .5,.5 .5,-.3 .5,-.7 .5,.1 .5,-.8 .5,-.6 .5,.6 .5,.2 .5,-.3 .5,-.9 .5,0 .5,-.8 .5,1.1 .5,.2 .5,0 .5,.1 .5,-.8 .5,-.4 .5,-.3 .5,.8 .5,.3 .5,.1 .5,.4 .5,-.7 .5,.5 .5,-1.2 .5,.3 .5,.4 .5,.2 .5,.1 .5,-.7 .5,-.3 .5,1.4 .5,.4 .5,-.8 .5,.3 .5,-.6 .5,-1 .5,-.3 .5,-1 .5,.1 .5,.2 .5,2.1 .5,-.2 .5,-.3 .5,-.7 .5,0 .5,-.4 .5,-.2 .5,-.2 .5,-.1 .5,-1 .5,-.5 .5,1.3 .5,-.1 .5,.3 .5,-.4 .5,.2 .5,.4 .5,.6 .5,.9 .5,-.8 .5,-.3 .5,1.4 .5,-.2 .5,0 .5,-.3 .5,-.5 .5,.6 .5,-.2 .5,-.6 .5,.8 .5,-.3 .5,.8 .5,.8 .5,-.1 .5,-.7 .5,-.6 .5,.6 .5,.5 .5,-.4 .5,-.6 .5,-.3 .5,-.6 .5,-.5 .5,1.5 .5,-.5 .5,-1.2 .5,.8 .5,.1 .5,-.5 .5,-.9 .5,-.5 .5,.7 .5,.1 .5,1.7 .5,.2 .5,-.4 .5,1.3 .5,-.8 .5,-.4 .5,-1 .5,0 .5,-.4 .5,-.7 .5,0 .5,-1 .5,.3 .5,.9 .5,0 .5,-.2 .5,.2 .5,-1.3 .5,.1 .5,1.1 .5,0 .5,.5 .5,-1.2 .5,.2 .5,.1 .5,.4 .5,1.1 .5,-.7 .5,-.3 .5,-.6 .5,.1 .5,.6 .5,.1 .5,-.8 .5,.2 .5,.4 .5,.6 .5,1.3 .5,-.6 .5,-.6 .5,-.8 .5,1.1 .5,-.1 .5,-.6 .5,-.4 .5,-.3 .5,-.2 .5,1.1 .5,-.1 .5,-.2 .5,.1 .5,-1.5 .5,-.1 .5,.2 .5,.2 .5,.7 .5,-.6 .5,1 .5,.3 .5,.3 .5,-.8 .5,-.7 .5,-.3 .5,1 .5,-.4 .5,-.9 .5,1.2 .5,-.9 .5,.2 .5,-.2 .5,1.4 .5,.3 .5,.9 .5,-1.8 .5,1 .5,-.8 .5,.4 .5,-.5 .5,-.8 .5,1.3 .5,-.7 .5,.6 .5,-.8 .5,.7 .5,.2 .5,-.4 .5,-.4 .5,-.7 .5,.8 .5,-.4 .5,.3 .5,-1.3 .5,1.8 .5,-.5 .5,.8 .5,-.8 .5,1.6" fill="none" stroke-width="1.45" stroke-linejoin="round"/>
<path d="M430.2,110.5l.5,.8 .5,-.4 .5,2.6 .5,-1.7 .5,-1.5 .5,0 .5,-.5 .5,1.7 .5,-2.7 .5,.8 .5,.2 .5,.3 .5,-1.1 .5,-.1 .5,1.8 .5,.5 .5,-3.3 .5,.4 .5,.1 .5,.1 .5,2.1 .5,-3.4 .5,1 .5,1.4 .5,1.1 .5,.3 .5,.4 .5,.3 .5,-.6 .5,0 .5,.1 .5,-.1 .5,-.5 .5,-1.3 .5,0 .5,1.9 .5,-1 .5,1 .5,-1.1 .5,.1 .5,1.4 .5,-2.1 .5,2.5 .5,-1.8 .5,-.4 .5,.4 .5,-1.4 .5,.5 .5,2 .5,-3 .5,1.8 .5,-.5 .5,2.8 .5,.8 .5,-4.5 .5,2.2 .5,-.3 .5,.8 .5,.9 .5,-.1 .5,.8 .5,-1.4 .5,2.5 .5,-1.9 .5,-2.7" fill="none" stroke-width="1.8" stroke-linejoin="round"/>
<path d="M466.8,114.5l.8,-.3 .5,8.4 .5,9.9 .5,11.8 .5,14.6 .5,13.5 .5,14.2 .5,13.3 .5,11.3 .5,11.5 .5,8.4 .5,8.7 .5,6.7 .5,5.9 .5,6.6 .5,5.2 .5,4.5 .5,3.6 .5,1.3 .5,2.4 .5,2 .5,1.5 .5,1.7 .5,2.7 .5,1 .5,1 .5,-.4 .5,-.3 .5,.2 .5,-1.1 .5,.6 .5,-.7 .5,-.9 .5,-1.5 .5,-.1 .5,-.2 .5,-1.2 .5,-1.7 .5,0 .5,-1.6 .5,-1.5 .5,-1 .5,-1.2 .5,-.4 .5,-.8 .5,-.3 .5,-.2 .5,-.9 .5,-1.3 .5,-1 .5,-1.3 .5,-1 .5,-1.3 .5,-.3 .5,-1 .5,-.5 .5,-1.4 .5,-1.2 .5,-2.5 .5,-.5 .5,-1 .5,-.6 .5,-1 .5,-2.2 .5,-2.3 .5,-.2 .5,-.1 .5,-.6 .5,-1.2 .5,-.9 .5,-1.9 .5,-1.4 .5,-.8 .5,-.9 .5,-1.8 .5,.1 .5,.2 .5,-1.4 .5,-.9 .5,-2 .5,-.2 .5,-.7 .5,-1 .5,-1.8 .5,-1.5 .5,-1.5 .5,-.5 .5,-1.4 .5,-.8 .5,-.5 .5,-.7 .5,-.6 .5,-.6 .5,-2.1 .5,-1.4 .5,.8 .5,-1.2 .5,-2.3 .5,.2 .5,.3 .5,-1.8 .5,-1.7 .5,-.9 .5,-.8 .5,.6 .5,-1.5 .5,-1.6 .5,-.2 .5,-1 .5,-1.5 .5,-1 .5,-1.8 .5,.5 .5,-.8 .5,-.9 .5,-1.3 .5,-.3 .5,.5 .5,-2.4 .5,-1.2 .5,-1 .5,-.6 .5,0 .5,-1 .5,.5 .5,.2 .5,-1.7 .5,.1 .5,-2 .5,-1.7 .5,-.8 .5,-.2 .5,.3 .5,-.6 .5,-1.5 .5,-1.6 .5,-.4 .5,-.2 .5,-.3 .5,-.6 .5,-.7 .5,.2 .5,.3 .5,-1.4 .5,-1.3 .5,-.8 .5,-.7 .5,.2 .5,-.4 .5,-1.5 .5,-.5 .5,.3 .5,-.9 .5,-.2 .5,-1.2 .5,-1.5 .5,-1.4 .5,-.4 .5,-1.2 .5,-.6 .5,.1 .5,-.1 .5,-.3 .5,-.9 .5,.3 .5,-1.9 .5,-.6 .5,1 .5,.2 .5,-.4 .5,-.6 .5,-1.4 .5,.7 .5,-1.2 .5,-1.2 .5,-.6 .5,-1.8 .5,-.7 .5,-.5 .5,-.5 .5,-.6 .5,-.2 .5,.4 .5,0 .5,-.1 .5,-.5 .5,-2.3 .5,.8 .5,-1.1 .5,.8 .5,-.7 .5,-.5 .5,.6 .5,-.3 .5,-1.1 .5,.2 .5,-1.7 .5,-.9 .5,-.5 .5,-.3 .5,.1 .5,.7 .5,-1.7 .5,-.2 .5,-.8 .5,-.6 .5,-.4 .5,-.6 .5,.6 .5,-1.1 .5,.7 .5,0 .5,-1.3 .5,.5 .5,-1.5 .5,-.8 .5,-1.1 .5,.7 .5,-.5 .5,.5 .5,.5 .5,.6 .5,-.8 .5,-.2 .5,-1.7 .5,.1 .5,-1.3 .5,-.4 .5,.8 .5,-1.2 .5,-.9 .5,-.7 .5,.3 .5,.2 .5,-.3 .5,.6 .5,-1.1 .5,-.1 .5,-.1 .5,-.6 .5,-1 .5,.3 .5,-.6 .5,0 .5,-.9 .5,.1 .5,-.4 .5,-.2 .5,-.5 .5,-.4 .5,-.6 .5,.1 .5,-.6 .5,-1 .5,.3 .5,-1.6 .5,1.1 .5,1.3 .5,-.1 .5,.8 .5,-1.9 .5,-.7 .5,-1.3 .5,.4 .5,-.2 .5,.3 .5,.3 .5,-.9 .5,.5 .5,-.1 .5,-.8 .5,-.7 .5,-.6 .5,.3 .5,0 .5,.5 .5,0 .5,-.6 .5,-.4 .5,.6 .5,-.6 .5,.3 .5,-.6 .5,-.7 .5,-1.2 .5,-.4 .5,.5 .5,-.3 .5,.7 .5,-.5 .5,.1 .5,-.3 .5,.1 .5,.4 .5,-.5 .5,.5 .5,-.7 .5,-.6 .5,-.5 .5,.6 .5,.9 .5,.4 .5,-1.3 .5,-1.3 .5,.2 .5,-.1 .5,-.7 .5,-.2 .5,.4 .5,-1 .5,.4 .5,-1.3 .5,1 .5,.5 .5,-.2 .5,0 .5,-1.1 .5,.8 .5,-.3 .5,.9 .5,-1 .5,-.5 .5,-.8 .5,-.3 .5,-.4 .5,.4 .5,-.2 .5,.4 .5,.3 .5,-.8 .5,.3 .5,.2 .5,1.3 .5,-1.8 .5,-.1 .5,-1 .5,-.3 .5,-.5 .5,.6 .5,-1.1 .5,0 .5,.3 .5,.3 .5,.6 .5,.6 .5,-.3 .5,.2 .5,-.7 .5,-.7 .5,.5 .5,-1.7 .5,.4 .5,-.1 .5,1 .5,.3 .5,-.3 .5,-2.5 .5,-.8 .5,.6 .5,.8 .5,.1 .5,0 .5,.4 .5,-.3 .5,-.1 .5,.2 .5,-.3 .5,-.3 .5,-.9 .5,.4 .5,-.5 .5,1.4 .5,.2 .5,-.2 .5,-.1 .5,-.7 .5,-.3 .5,-.8 .5,.6 .5,-.8 .5,.6 .5,.2 .5,0 .5,-.7 .5,.2 .5,1.1 .5,.1 .5,-.8 .5,.2 .5,-.8 .5,0 .5,1.3 .5,0 .5,-1.5 .5,-1 .5,.2 .5,-.6 .5,-.1 .5,.2 .5,-.2 .5,.7 .5,0 .5,1.1 .5,.6 .5,-.8 .5,-1.8 .5,.9 .5,-.8 .5,.4 .5,-.8 .5,1.7 .5,-.2 .5,-.5 .5,-.2 .5,.6 .5,-1.2 .5,1 .5,-.4 .5,-.7 .5,1 .5,-.1 .5,-.6 .5,-.5 .5,-.4 .5,-.3 .5,.2 .5,0 .5,.9 .5,-.3 .5,.4 .5,1 .5,-.6 .5,-2 .5,-.1 .5,.5 .5,.7 .5,-.5 .5,-.5 .5,0 .5,-.4 .5,1.8 .5,-1.4 .5,-.3 .5,-1.1 .5,.3 .5,.5 .5,1.2 .5,.6 .5,.6 .5,-.8 .5,-1.1 .5,1.3 .5,-.3 .5,1.6 .5,-1.6 .5,-1.2 .5,-.5 .5,1.3 .5,1.6 .5,-1.5 .5,-.7 .5,-.8 .5,-1 .5,-.1 .5,.2 .5,.1 .5,1 .5,-.1 .5,-.5 .5,.1 .5,-.4 .5,0 .5,1.9 .5,-1.8 .5,.8 .5,.3 .5,-.7 .5,0 .5,1.4 .5,.3 .5,-.6 .5,-2.3 .5,.8 .5,1.1 .5,.8 .5,-.6 .5,-1.4 .5,0 .5,-.5 .5,.5 .5,1.2 .5,1.5 .5,-.5 .5,.3 .5,-1 .5,-.4 .5,-.4 .5,-.5 .5,.5 .5,-.1 .5,-1.8 .5,1.1 .5,.6 .5,.2 .5,.1 .5,-.8 .5,.5 .5,-.4 .5,1.5 .5,-.5 .5,-1.1 .5,-.9 .5,.5 .5,1.1 .5,-.6 .5,.5 .5,-.1 .5,-.5 .5,.9 .5,-.8 .5,0 .5,-.5 .5,.8 .5,.8 .5,-.7 .5,.9 .5,-.5 .5,-1.9 .5,1.8 .5,-.6 .5,-1.2 .5,1.2 .5,.1 .5,-.5 .5,-.2 .5,.2 .5,.4 .5,.2 .5,.3 .5,.3 .5,.4 .5,-.5 .5,-.6 .5,-1.1 .5,-.3 .5,-.6 .5,1.3 .5,.2 .5,-.7 .5,.1 .5,1.2 .5,-.3 .5,.5 .5,.5 .5,-1.2 .5,-.8 .5,.5 .5,-.4 .5,-.2 .5,.1 .5,.1 .5,.5 .5,-.6 .5,.9 .5,-.1 .5,.1 .5,-1.2 .5,1.2 .5,0 .5,-.9 .5,.1 .5,-.8 .5,.5 .5,-.9 .5,.7 .5,.6 .5,-.1 .5,.5 .5,.2 .5,-.1 .5,.8 .5,.3 .5,-.7 .5,.4 .5,-.3 .5,.5 .5,.3 .5,-.9 .5,.3 .5,-1.5 .5,.3 .5,.8 .5,.3 .5,.2 .5,-.5 .5,0 .5,-1.2 .5,.7 .5,-1.2 .5,-.1 .5,.6 .5,.2 .5,.7 .5,-.6 .5,-.3 .5,.6 .5,.1 .5,-.7 .5,-1.1 .5,.6 .5,-.1 .5,.4 .5,.1 .5,.5" fill="none" stroke-width="1.45" stroke-linejoin="round"/>
<path d="M430.2,112.6l.5,0 .5,-2.1 .5,0 .5,1.6 .5,-1.2 .5,-.6 .5,.5 .5,-.9 .5,-1.7 .5,1.9 .5,-1.5 .5,1.9 .5,-.9 .5,-.5 .5,-.2 .5,1.8 .5,.8 .5,-1.1 .5,1.8 .5,.4 .5,-1.2 .5,-2.3 .5,.5 .5,-1.4 .5,2 .5,-.6 .5,.6 .5,-1.1 .5,-.9 .5,2.1 .5,-1.2 .5,.9 .5,1.9 .5,-1.2 .5,3.5 .5,-1.4 .5,-.2 .5,0 .5,-4.2 .5,2.4 .5,-.2 .5,.7 .5,1.1 .5,-.8 .5,-.5 .5,.8 .5,.1 .5,1.6 .5,-2.8 .5,.8 .5,-.6 .5,-.1 .5,-1.3 .5,.5 .5,-1.2 .5,1.9 .5,-1.9 .5,1.7 .5,0 .5,.4 .5,.4 .5,1.2 .5,.9 .5,-1.7 .5,-2.6" fill="none" stroke-width="1.8" stroke-linejoin="round"/>
<path d="M466.8,114.5l.8,-.4 .5,8.9 .5,12.2 .5,13.6 .5,16.2 .5,15.8 .5,16.3 .5,16 .5,13.8 .5,13.3 .5,12.4 .5,8.7 .5,9.8 .5,9.5 .5,8.9 .5,6.1 .5,6.9 .5,4.4 .5,3.2 .5,2.5 .5,3.4 .5,3.3 .5,2.9 .5,1.3 .5,1.4 .5,-.6 .5,.9 .5,-1.2 .5,1.3 .5,.1 .5,.7 .5,-.6 .5,.7 .5,-2.3 .5,-.3 .5,-1.5 .5,-.7 .5,.4 .5,-.7 .5,-1.3 .5,-1.1 .5,-2.2 .5,-1.1 .5,-1.8 .5,-2 .5,-.6 .5,-1.2 .5,-1.2 .5,-1.3 .5,-2.6 .5,-.3 .5,-1.3 .5,-.8 .5,-.9 .5,-1.6 .5,-1.6 .5,-2.3 .5,.5 .5,-2.1 .5,-1.3 .5,-.7 .5,-2.5 .5,-2.1 .5,-1.3 .5,-1 .5,-.5 .5,-1.4 .5,-1.2 .5,-1.5 .5,-.7 .5,-1.1 .5,-1.5 .5,-1.4 .5,-2.8 .5,-1.1 .5,-1.1 .5,-.6 .5,-1.1 .5,-1.9 .5,-1.5 .5,-1.4 .5,-.8 .5,-2.4 .5,-.6 .5,-2 .5,-.7 .5,-1 .5,-.9 .5,-1.8 .5,-1 .5,.7 .5,-2.3 .5,-.7 .5,-2.6 .5,-1.3 .5,-.2 .5,-.1 .5,-2.1 .5,-1.3 .5,-.9 .5,-2 .5,-.2 .5,-.8 .5,-1.8 .5,-.4 .5,-1.5 .5,-.6 .5,-1 .5,-2 .5,-1 .5,-1.1 .5,.7 .5,-.3 .5,-1.3 .5,-1.8 .5,-1.4 .5,-2.1 .5,-1.6 .5,-.2 .5,.1 .5,-.8 .5,-1.3 .5,-1.3 .5,-1.2 .5,-2.2 .5,-1.3 .5,0 .5,-.8 .5,1.2 .5,-.5 .5,-2.5 .5,-2.5 .5,0 .5,-.7 .5,-1 .5,-.2 .5,-.4 .5,-.9 .5,-1 .5,-.1 .5,.1 .5,-1.6 .5,-1.2 .5,-1.1 .5,-1 .5,-1.2 .5,-.9 .5,-.8 .5,-1.6 .5,-.3 .5,-.8 .5,-1 .5,-.4 .5,-1.2 .5,.5 .5,-1.1 .5,-1 .5,.1 .5,-1.1 .5,-.3 .5,-2.4 .5,-.6 .5,-1.6 .5,.9 .5,-.8 .5,1 .5,-.9 .5,-1.4 .5,-.8 .5,-1.3 .5,.1 .5,-.7 .5,-.2 .5,-1.2 .5,.7 .5,-1.8 .5,-1.1 .5,.8 .5,-.2 .5,-1.1 .5,-2.6 .5,.7 .5,-1.3 .5,-1.2 .5,-1.3 .5,.2 .5,-.1 .5,.5 .5,-1.1 .5,.6 .5,-.9 .5,-.6 .5,-2 .5,.1 .5,-.2 .5,0 .5,-.7 .5,-.9 .5,-.5 .5,-.1 .5,-.5 .5,-.1 .5,-1.6 .5,-.4 .5,-.1 .5,-.1 .5,-.7 .5,-.5 .5,-.6 .5,-1.1 .5,-1.1 .5,.5 .5,-.4 .5,0 .5,.4 .5,-1.8 .5,.2 .5,-.8 .5,-.3 .5,-.6 .5,-1 .5,-.5 .5,.3 .5,-.3 .5,.7 .5,-2.1 .5,.4 .5,-1.4 .5,-.8 .5,.2 .5,-1 .5,0 .5,-.4 .5,1.1 .5,.8 .5,-1.1 .5,-.9 .5,-2.1 .5,-1 .5,-.1 .5,1.8 .5,-1.3 .5,-1.2 .5,-.4 .5,-1.1 .5,-.6 .5,.4 .5,-.1 .5,-.1 .5,.7 .5,.4 .5,-1.8 .5,-1.5 .5,-.3 .5,.6 .5,1 .5,-.1 .5,-2.3 .5,-1.1 .5,.8 .5,1.8 .5,.8 .5,-.7 .5,-.6 .5,-1.8 .5,-.6 .5,-.9 .5,.5 .5,-1.5 .5,-.8 .5,-.1 .5,.5 .5,.5 .5,.4 .5,-.9 .5,-.4 .5,-1.2 .5,-.4 .5,0 .5,-1 .5,.6 .5,.3 .5,0 .5,.3 .5,-.3 .5,-.7 .5,-1.2 .5,.9 .5,.1 .5,.5 .5,-.4 .5,-.4 .5,-1.2 .5,-.4 .5,-.8 .5,.7 .5,.4 .5,-1 .5,.4 .5,-1.4 .5,-.9 .5,-.3 .5,-.6 .5,1 .5,1.2 .5,0 .5,.6 .5,-2 .5,.3 .5,.4 .5,.1 .5,-1.7 .5,.9 .5,-.9 .5,0 .5,.2 .5,-.6 .5,.4 .5,0 .5,-.1 .5,-.8 .5,.4 .5,-2.3 .5,-.2 .5,.4 .5,-.9 .5,1.3 .5,0 .5,-.3 .5,0 .5,1.1 .5,-.9 .5,.5 .5,-1.1 .5,.4 .5,.2 .5,-1.2 .5,-.3 .5,-1.8 .5,1.2 .5,.7 .5,.5 .5,0 .5,.8 .5,-1.3 .5,-.3 .5,-1 .5,1 .5,0 .5,-.3 .5,-.7 .5,-.2 .5,-.2 .5,-.8 .5,-.5 .5,1.4 .5,-.9 .5,1.1 .5,-1.1 .5,.7 .5,.4 .5,-1.7 .5,-.3 .5,.4 .5,1 .5,-1.7 .5,1.4 .5,-.3 .5,-.4 .5,-.8 .5,-.8 .5,.2 .5,0 .5,-.1 .5,-1.2 .5,2.6 .5,.1 .5,.1 .5,.9 .5,-.5 .5,.3 .5,-1.7 .5,.8 .5,-1.1 .5,.3 .5,0 .5,-.1 .5,-.8 .5,-.5 .5,.9 .5,-1.9 .5,.2 .5,-.9 .5,1.4 .5,.4 .5,.7 .5,.3 .5,1.1 .5,-.8 .5,-.7 .5,-.1 .5,-1.4 .5,-.1 .5,-.7 .5,.4 .5,.7 .5,-.7 .5,-.1 .5,1.7 .5,-.9 .5,.6 .5,.4 .5,-.5 .5,-.6 .5,-.4 .5,-.6 .5,-.2 .5,-.9 .5,.2 .5,-1 .5,.6 .5,.2 .5,1.4 .5,-1.6 .5,1.2 .5,-.8 .5,.1 .5,-.6 .5,.9 .5,-.9 .5,.9 .5,.3 .5,0 .5,-1.2 .5,1 .5,.7 .5,-.9 .5,1.1 .5,-.4 .5,-1.8 .5,.2 .5,-.7 .5,-.5 .5,.6 .5,.2 .5,.9 .5,-.5 .5,-.6 .5,-.7 .5,1.1 .5,-.1 .5,1.1 .5,-.9 .5,-.5 .5,-.2 .5,-.1 .5,-.2 .5,-.4 .5,0 .5,.7 .5,.1 .5,.7 .5,-1 .5,1.2 .5,-1.2 .5,.2 .5,.8 .5,.1 .5,-.7 .5,-.2 .5,-.4 .5,-1 .5,.2 .5,1 .5,.3 .5,-.9 .5,-.4 .5,0 .5,1.1 .5,-1.2 .5,.2 .5,-.8 .5,0 .5,.6 .5,-.1 .5,.5 .5,.2 .5,-.3 .5,.1 .5,-.5 .5,-.8 .5,-.4 .5,.2 .5,.8 .5,.4 .5,1.1 .5,.5 .5,-.5 .5,.1 .5,-1.1 .5,-.3 .5,-.1 .5,.1 .5,-.7 .5,.4 .5,-.4 .5,-.3 .5,.4 .5,-.5 .5,-.9 .5,.8 .5,-.1 .5,1 .5,.5 .5,.7 .5,.3 .5,-1 .5,-.5 .5,-.4 .5,1.2 .5,-.2 .5,.5 .5,-1.5 .5,1.4 .5,-.5 .5,.7 .5,-.2 .5,-.7 .5,.3 .5,-.3 .5,-.3 .5,-.4 .5,.2 .5,-.6 .5,-.8 .5,.7 .5,.5 .5,.7 .5,-.2 .5,-.2 .5,.1 .5,.8 .5,-1 .5,-.1 .5,.4 .5,-.5 .5,1.2 .5,-1.4 .5,.4 .5,-.7 .5,1.3 .5,-.3 .5,-.2 .5,.1 .5,-.5 .5,-1.1 .5,1 .5,.4 .5,1.3 .5,.2 .5,-.4 .5,.8 .5,-1.3 .5,-.8 .5,-.3 .5,.9 .5,-.5 .5,.5 .5,-.2 .5,-1.4 .5,-.1 .5,-.7 .5,1.3 .5,.9 .5,.9 .5,.2 .5,.1 .5,.5 .5,-2.3 .5,-.6 .5,.1 .5,1 .5,-1.4 .5,1 .5,1.2 .5,-.4 .5,1 .5,-1.4 .5,.1 .5,-.4 .5,0 .5,-1.6 .5,.4 .5,-.2 .5,.1 .5,1.1 .5,0 .5,-.3 .5,1.3 .5,.2 .5,.2 .5,-.6 .5,-.8 .5,.1 .5,-1.1 .5,-.3 .5,1.5 .5,-.1 .5,-.8 .5,.3 .5,-.3 .5,.2 .5,.1 .5,-.6" fill="none" stroke-width="1.45" stroke-linejoin="round"/>
<path d="M465.1,124.5L465.4,95.7L466.6,95.7L467.3,114.5L466.9,126.5Z" fill="#000" stroke-width="0.6"/>
<path d="M33.8,742.5l.4,3.6 .3,-1.8 .3,-2.3 .4,2.2 .4,1 .3,.1 .4,1 .3,-2 .4,0 .3,1.6 .4,-.1 .3,-1.6 .4,1.1 .3,2.2 .4,-.8 .3,-1.9 .4,1.4 .3,-.1 .4,-1.6 .3,2.2 .4,-3 .3,2.8 .4,-1.2 .3,-3.1 .4,2.1 .3,-2.4 .4,.8 .3,3.2 .4,-.7 .3,.2 .4,-.2 .3,1.2 .4,-3.5 .3,2.6 .4,-3.2 .3,3 .4,1.1 .3,-1.7 .4,-.8 .3,0 .4,1.3 .3,-1.7 .4,.4 .3,.9 .4,-.4 .3,.4 .4,-1.9 .3,1 .4,-.5 .3,-1.9 .4,.2 .3,-.4 .4,1.6 .3,-2.2 .4,.7 .3,2.2 .4,.6 .3,-.1 .4,.3 .3,-2.8 .4,1.3 .3,-.4 .4,1 .3,-2.4 .4,2.1 .3,2.6 .4,.6 .3,-.7 .4,.3 .3,-2.8 .4,.2 .3,1.7 .4,-2.8 .3,1.5 .4,0 .3,4.1 .4,-6.5 .3,1.4 .4,3.5 .3,-1 .4,-.8 .3,1.5 .4,2.1 .3,-2.4 .4,-1.9 .3,-1.1 .4,-.5 .3,-.2 .4,1.4 .3,-3.6 .4,1.6 .3,2.6 .4,1.2 .3,-1.2 .4,-1.4 .3,2.5 .4,1 .3,-.6 .4,-1 .3,.3 .4,0 .3,-.4 .4,-.9 .3,-1.9 .4,1.2 .3,9.2 .4,26.8 .3,19.4 .4,19 .3,17.3 .4,8.8 .3,7.5 .4,6.8 .3,5.9 .4,-1.9 .3,3.6 .4,-3.3 .3,-1.8 .4,-3.2 .3,-1.6 .4,-5.1 .3,1.7 .4,-3 .3,-5.6 .4,4 .3,-5.3 .4,-1.4 .3,-3.9 .4,-2.6 .3,1.7 .4,-4.4 .3,1.9 .4,-4.7 .3,-2.7 .4,-3.6 .3,.2 .4,-5.2 .3,-.9 .4,2.8 .3,-4.6 .4,-4.2 .3,4.2 .4,-3.2 .3,-2.8 .4,1.7 .3,-1.7 .4,-4 .3,-1.8 .4,-.8 .3,-2 .4,-1.5 .3,-3.2 .4,-2.4 .3,4.9 .4,-2.1 .3,-.3 .4,-5.1 .3,-.4 .4,-5.8 .3,1.8 .4,-2.9 .3,.9 .4,1.3 .3,.9 .4,1 .3,-2.8 .4,-3.6 .3,1.5 .4,-3.1 .3,-1.6 .4,-3.9 .3,0 .4,-3.9 .3,6.7 .4,-1.6 .3,-2.4 .4,2.4 .3,-1.6 .4,1.9 .3,-3.4 .4,-.1 .3,-2 .4,1.2 .3,0 .4,-6.7 .3,.2 .4,-.5 .3,-.1 .4,.9 .3,1.6 .4,-1 .3,3.4 .4,-2.8 .3,0 .4,-1.6 .3,-2.6 .4,-.5 .3,-1.2 .4,3.4 .3,-5 .4,2.8 .3,-3.8 .4,-.1 .3,3.4 .4,1.7 .3,-2.6 .4,3.4 .3,33.9 .4,37.5 .3,35.9 .4,31.6 .3,20.9 .4,15.5 .3,6 .4,10.1 .3,3.5 .4,4.4 .3,-1.2 .4,.2 .3,-2.8 .4,-4.9 .3,-.8 .4,-2.1 .3,-2.9 .4,-9.9 .3,1.1 .4,-9.1 .3,.3 .4,-3.6 .3,-3.8 .4,-1.5 .3,-3.2 .4,-4.4 .3,-1.9 .4,-10.7 .3,3.6 .4,-1.6 .3,-5.8 .4,-2.8 .3,-7.2 .4,.1 .3,.1 .4,-6 .3,-4 .4,-2.2 .3,1.4 .4,-4 .3,1.2 .4,-6.9 .3,-5.1 .4,2.7 .3,-1.6 .4,-7.3 .3,2.4 .4,-3.6 .3,-2.9 .4,-4.7 .3,-1.6 .4,-.8 .3,-2.9 .4,1.6 .3,-4.7 .4,1.5 .3,-4.8 .4,-2.1 .3,-.3 .4,-2.9 .3,-.8 .4,-3.8 .3,-1.7 .4,.2 .3,-3.7 .4,1.5 .3,2.2 .4,-2.8 .3,-2.1 .4,-2.6 .3,-1.9 .4,-2.5 .3,1.6 .4,-4.4 .3,-2.6 .4,0 .3,.1 .4,-2.9 .3,-2.8 .4,-1.3 .3,-.7 .4,2.7 .3,-2.8 .4,2.6 .3,-1.3 .4,-4.4 .3,-3.2 .4,1.4 .3,.6 .4,-1.4 .3,-3.5 .4,1.3 .3,-.8 .4,4.2 .3,-5.9 .4,-4.1 .3,-.1 .4,1.9 .3,-1.3 .4,-1.7 .3,2.2 .4,-6.1 .3,0 .4,.5 .3,-3.8 .4,1.6 .3,1.1 .4,-5.2 .3,7 .4,-4.3 .3,.8 .4,.3 .3,-1 .4,-3.6 .3,-.6 .4,2.9 .3,-4.3 .4,-.1 .3,-2.4 .4,2.3 .3,2 .4,-.9 .3,.7 .4,-1.9 .3,-.4 .4,-.5 .3,.4 .4,-2.7 .3,-1 .4,2.7 .3,-2 .4,-1.6 .3,.6 .4,-2.2 .3,.2 .4,.3 .3,-1.5 .4,1.9 .3,-2.5 .4,2.4 .3,-3.6 .4,1.3 .3,.8 .4,-4.3 .3,4.3 .4,-1.1 .3,-2.3 .4,1.3 .3,1.4 .4,-2.3 .3,-.7 .4,-1 .3,-.1 .4,.9 .3,2.3 .4,-.4 .3,-6.1 .4,3.9 .3,-2.8 .4,3.7 .3,-2.7 .4,1.6 .3,-4 .4,.9 .3,.8 .4,.3 .3,-1.3 .4,5.7 .3,-4.6 .4,-2.8 .3,-.2 .4,2.5 .3,4.2 .4,-3.1 .3,-2.8 .4,.9 .3,2.5 .4,-2.8 .3,-1.6 .4,.4 .3,-.9 .4,-.9 .3,3.8 .4,-1.1 .3,-.4 .4,-2.8 .3,-.6 .4,5.7 .3,-3.4 .4,-4.6 .3,-3 .4,5.2 .3,-1.5 .4,2.2 .3,-1 .4,-2 .3,2.7 .4,-2.1 .3,2.6 .4,2.3 .3,-1.3 .4,-5.1 .3,3.7 .4,-.8 .3,3.9 .4,-4.8 .3,2.6 .4,.4 .3,-2.5 .4,1.1 .3,-2 .4,.9 .3,2.6 .4,-1.8 .3,-2 .4,-3.2 .3,2.4 .4,.9 .3,-.7 .4,2.7 .3,-3.5 .4,6.2 .3,-4.4 .4,2 .3,.7 .4,-5.7 .3,1 .4,-.6 .3,.6 .4,-1.2 .3,2.6 .4,-.9 .3,-4.2 .4,3.8 .3,2.6 .4,-2.9 .3,-.2 .4,2.2 .3,-1.6 .4,1.7 .3,-1.3 .4,-1.4 .3,1.8 .4,.8 .3,.7 .4,-2.9 .3,.4 .4,3.1 .3,-4.2 .4,2 .3,-1.5 .4,-1.5 .3,4.2 .4,-1.8 .3,-3.4 .4,3.7 .3,-3.8 .4,5.5 .3,-1.7 .4,1.4 .3,1.1 .4,-2.5 .3,.2 .4,-.3 .3,-3.3 .4,-.2 .3,2.3 .4,-.4 .3,-1.2 .4,.4 .3,2.7 .4,-1 .3,-1.2 .4,1.7 .3,-.9 .4,.1 .3,-3.4 .4,.2 .3,-2.8 .4,4.9 .3,-.5 .4,-.1 .3,3.3 .4,-1.4 .3,-1.2 .4,.6 .3,3.8 .4,-6 .3,1.9 .4,-.7 .3,-4.2 .4,1.5 .3,1.6 .4,-2.3 .3,.2 .4,5 .3,-3.3 .4,.6 .3,1.9 .4,-.8 .3,-2.4 .4,1.3 .3,2.9 .4,-3.1 .3,.3 .4,-1.8 .3,-.6 .4,1.9 .3,-.5 .4,-1.7 .3,2.8 .4,1.9 .3,-4.1 .4,3 .3,-1.8 .4,1.4 .3,-2.6 .4,3.1 .3,-.6 .4,-6.8 .3,5.8 .4,-2.1 .3,5.6 .4,-7.2 .3,7.9 .4,-2.5 .3,-2.3 .4,1.9 .3,-.2 .4,-.7 .3,-1.6 .4,4.3 .3,-1.4 .4,-4.8 .3,3.6 .4,1.1 .3,1.4 .4,-1.2 .3,.6 .4,.2 .3,.5 .4,2.2 .3,-4.7 .4,4.6 .3,-4.3 .4,-2.3 .3,1.1 .4,-2.3 .3,-.9 .4,2.4 .3,-.9 .4,3.9 .3,-.3 .4,3.1 .3,-.7 .4,-2.9 .3,1.2 .4,-2 .3,-.4 .4,1.3 .3,-1.6 .4,-.5 .3,.4 .4,-.5 .3,.2 .4,-.3 .3,3.3 .4,-4.3 .3,3.5 .4,-1.9 .3,-.8 .4,1.5 .3,-1.5 .4,6.3 .3,-1.3 .4,-3.1 .3,.8 .4,-1.9 .3,.8 .4,6.6 .3,-3.8 .4,-1.8 .3,-1 .4,2.5 .3,-5 .4,2.6 .3,-1.2 .4,-2.7 .3,2.2 .4,.6 .3,.5 .4,0 .3,-.6 .4,1.5 .3,0 .4,-3.4 .3,5.8 .4,-3.3 .3,.6 .4,.3 .3,-.6 .4,-.8 .3,-2.8 .4,7.1 .3,-3.7 .4,1.2 .3,0 .4,-.5 .3,4.7 .4,.4 .3,-3.6 .4,.3 .3,.7 .4,2.2 .3,-6.1 .4,7.7 .3,-7.7 .4,1.1 .3,-.9 .4,-.1 .3,.2 .4,-2.9 .3,5.5 .4,3.6 .3,-.5 .4,1.4 .3,.5 .4,-1.6 .3,-2.3 .4,-.1 .3,-.7 .4,.7 .3,.8 .4,.2 .3,-3.1 .4,-.2 .3,1.1 .4,-.2 .3,.8 .4,1.8 .3,-2.2 .4,3 .3,-6.1 .4,1.2 .3,0 .4,1 .3,-.4 .4,.8 .3,-1.2 .4,2.3 .3,-.8 .4,-2.5 .3,1.1 .4,-2.4 .3,5.1 .4,-3.2 .3,2.9 .4,-.4 .3,-1.1 .4,.5 .3,-1.5 .4,3.4 .3,1.1 .4,.2 .3,-2.4 .4,-.3 .3,-.8 .4,-.4 .3,1.4 .4,-1.1 .3,-3.4 .4,3 .3,1.3 .4,-.5 .3,1.3 .4,-2.4 .3,-3.4 .4,3.7 .3,.1 .4,1 .3,.7 .4,-3.7 .3,.2 .4,-.3 .3,1.3 .4,1.9 .3,-5.1 .4,5.1 .3,.7 .4,-2.1 .3,1.4 .4,-.7 .3,1.1 .4,1.4 .3,-3.7 .4,.9 .3,3.4 .4,-2.3 .3,-2.7 .4,-1.4 .3,2.7 .4,-3.4 .3,2 .4,2.2 .3,-3 .4,3.1 .3,-1.7 .4,1.4 .3,-.4 .4,3.2 .3,-2.8 .4,-1.2 .3,1.3 .4,-.7 .3,1.7 .4,-5.6 .3,1.2 .4,2.9 .3,-4.2 .4,5.2 .3,-2 .4,0 .3,-.5 .4,2.5 .3,-3.5 .4,2.6 .3,-.2 .4,-4.2 .3,1.3 .4,2.1 .3,-1.7 .4,.7 .3,2.4 .4,-1.5 .3,-3.7 .4,4 .3,-3.2 .4,3.2 .3,-.6 .4,-1.9 .3,1.9 .4,0 .3,-.4 .4,1.9 .3,-4.2 .4,1.9 .3,-.5 .4,4.7 .3,-2.2 .4,-.4 .3,-4.1 .4,2.6 .3,-2.4 .4,2.6 .3,.6 .4,-.2 .3,-1.7 .4,-.1 .3,-1.6 .4,3.3 .3,.1 .4,-3.4 .3,5.3 .4,-3 .3,.2 .4,2.7 .3,-4.5 .4,1.8 .3,-1.9 .4,.5 .3,1.3 .4,.4 .3,-.5 .4,1.3 .3,-7 .4,4.1 .3,3.2 .4,.5 .3,-.8 .4,-1.5 .3,-.3 .4,-1.9 .3,1.1 .4,1.2 .3,1.9 .4,-.2 .3,-.9 .4,1.7 .3,-.5 .4,-2.9 .3,2 .4,4.2 .3,-3.7 .4,1.1 .3,-4.5 .4,-1.1 .3,5.9 .4,.2 .3,-4.2 .4,1.5 .3,.9 .4,1.6 .3,2 .4,.8 .3,-3.3 .4,-.6 .3,-2.9 .4,.6 .3,2.4 .4,0 .3,1.5 .4,-2.3 .3,-3.8 .4,3.8 .3,1.1 .4,-1.2 .3,-1.3 .4,3.5 .3,2.6 .4,-1.7 .3,-.6 .4,.5 .3,-2 .4,1 .3,-1.5 .4,3.5 .3,-6.9 .4,3.8 .3,1.8 .4,-2.1 .3,-1.1 .4,-.2 .3,-.7 .4,.1 .3,1.2 .4,-.1 .3,-.7 .4,3.1 .3,-5.9 .4,-.6 .3,5.1 .4,-.7 .3,1.9 .4,-3.1 .3,2.6 .4,-.2 .3,.8 .4,-4.4 .3,1.8 .4,.4 .3,-2.1 .4,3.7 .3,-.6 .4,.6 .3,2.5 .4,-.7 .3,.1 .4,3 .3,-6.2 .4,.6 .3,-1.4 .4,3.7 .3,-1.2 .4,-3.3 .3,-.4 .4,1.2 .3,2.9 .4,-4.8 .3,2.9 .4,.8 .3,-.3 .4,2.5 .3,-4 .4,3.2 .3,-2 .4,-1.7 .3,-3.5 .4,1.9 .3,1 .4,-1.1 .3,1.5 .4,.7 .3,-.6 .4,3.3 .3,-.4 .4,-.7 .3,.8 .4,1.5 .3,-3.5 .4,-3.1 .3,1.9 .4,2.4 .3,-5.3 .4,2.6 .3,2.7 .4,-3 .3,6.1 .4,-4 .3,.4 .4,.1 .3,1 .4,-.3 .3,-1.3 .4,.4 .3,1.8 .4,-1.4 .3,-2 .4,1.6 .3,.7 .4,-1.2 .3,-2.2 .4,1.2 .3,2 .4,.3 .3,.6 .4,-1.4 .3,.7 .4,-.4 .3,.1 .4,.4 .3,-.2 .4,-1.5 .3,-3.3 .4,.5 .3,-.2 .4,1.7 .3,-1 .4,1.8 .3,0 .4,.7 .3,.4 .4,.8 .3,-3.2 .4,1.8 .3,-.6 .4,-2.6 .3,7.4 .4,-3.5 .3,-2 .4,1.4 .3,-1 .4,.1 .3,1.3 .4,-5.1 .3,1.8 .4,1.3 .3,.1 .4,4.1 .3,-1.9 .4,-4.9 .3,-.7 .4,2 .3,-.9 .4,7.3 .3,-1.1 .4,-5.3 .3,.9 .4,5.1 .3,-4.6 .4,.4 .3,.7 .4,.8 .3,.5 .4,-.1 .3,-2.6 .4,.7 .3,-1.3 .4,.3 .3,1.6 .4,-3 .3,-.5 .4,-1.9 .3,2.8 .4,4.6 .3,-4 .4,1 .3,-2 .4,-1.9 .3,3 .4,-1.3 .3,.3 .4,1 .3,3.5 .4,-.2 .3,-2.4 .4,1.2 .3,4 .4,-7 .3,2 .4,-.5 .3,2.4 .4,-2.6 .3,-.8 .4,1.5 .3,0 .4,3 .3,-5.7 .4,2.9 .3,-2.6 .4,3.2 .3,1 .4,.3 .3,.8 .4,-1.6 .3,-2.5 .4,1.9 .3,-3.8 .4,4.8 .3,-1.5 .4,4 .3,-4.1 .4,-.4 .3,-.2 .4,4.3 .3,-2.2 .4,-1.1 .3,-1.9 .4,.3 .3,-3.5 .4,3.8 .3,1.7 .4,1.8 .3,-.3 .4,1.2 .3,-4.5 .4,3.3 .3,-3.3 .4,-2 .3,2.3 .4,.2 .3,.2 .4,-.9 .3,-2 .4,2 .3,1 .4,-.2 .3,2.4 .4,1" fill="none" stroke-width="1.8" stroke-linejoin="round"/>
<path d="M33.8,749.0l.4,-2.1 .3,2.4 .3,-.9 .4,2 .4,0 .3,-.9 .4,.6 .3,-1.1 .4,3.3 .3,-.8 .4,-.6 .3,-1.2 .4,-.2 .3,-1.3 .4,1.4 .3,2.7 .4,-2.9 .3,.2 .4,-2 .3,4.3 .4,-3.1 .3,.7 .4,-3.7 .3,4.6 .4,.7 .3,-1.4 .4,0 .3,2.5 .4,-1.3 .3,2.8 .4,-4.5 .3,-.5 .4,.5 .3,.8 .4,-1.6 .3,1.1 .4,-1.3 .3,1.4 .4,-.1 .3,.8 .4,1.2 .3,1.8 .4,-2.1 .3,-.2 .4,-.6 .3,-.2 .4,-3.5 .3,3.6 .4,-2.2 .3,2.8 .4,1.3 .3,-1.7 .4,2.4 .3,-.1 .4,3 .3,-3.1 .4,-4 .3,4.2 .4,-.5 .3,2.1 .4,-1.5 .3,-1.1 .4,1.4 .3,-.7 .4,.4 .3,.5 .4,-.5 .3,2.8 .4,-3.3 .3,-.7 .4,-.6 .3,-.5 .4,-2.6 .3,1 .4,2.1 .3,4.7 .4,-4.6 .3,-.9 .4,3.9 .3,.5 .4,0 .3,-1.1 .4,-2.4 .3,3.2 .4,-.2 .3,2.8 .4,-3.8 .3,4.1 .4,-2.1 .3,.7 .4,-3.7 .3,.7 .4,-1.2 .3,-.3 .4,-.4 .3,1.7 .4,-2.1 .3,2.4 .4,-3.2 .3,2 .4,1.6 .3,3.2 .4,-.8 .3,-1.9 .4,-.7 .3,6.3 .4,17.2 .3,15.7 .4,17.7 .3,14.3 .4,7.9 .3,4.7 .4,2.4 .3,-.4 .4,2.4 .3,0 .4,1.2 .3,-5.6 .4,-1.6 .3,2.3 .4,-3.3 .3,.3 .4,-1.4 .3,-.7 .4,.7 .3,-6.2 .4,-.2 .3,-6.1 .4,1.2 .3,2.4 .4,-1.8 .3,-.9 .4,-3.8 .3,-4.8 .4,1.6 .3,-4 .4,3 .3,-.9 .4,-6.1 .3,3 .4,-4.2 .3,.7 .4,-1.1 .3,1.1 .4,-8 .3,2.4 .4,-1.1 .3,-1.7 .4,3.1 .3,-2.1 .4,-4.6 .3,2.1 .4,-.4 .3,-1.6 .4,5.3 .3,-7.4 .4,1.8 .3,-.8 .4,-2 .3,-3.9 .4,-2.5 .3,2.3 .4,-2.8 .3,-2.9 .4,1 .3,1 .4,-3.1 .3,1.3 .4,.1 .3,-3 .4,-.1 .3,.3 .4,-1.9 .3,-.1 .4,.4 .3,1.7 .4,-2.2 .3,1.4 .4,-1.1 .3,-1.9 .4,.6 .3,.5 .4,.2 .3,-3.2 .4,3.2 .3,-3.4 .4,1.9 .3,-3.2 .4,-2 .3,1.5 .4,4 .3,1 .4,-3.7 .3,-.6 .4,1.4 .3,-1.7 .4,-1.4 .3,1 .4,1.5 .3,-5.1 .4,2.8 .3,-2.2 .4,.3 .3,-.9 .4,1.3 .3,-1.2 .4,.7 .3,-2.7 .4,2.7 .3,-3.1 .4,-.8 .3,.3 .4,.4 .3,-1.6 .4,2.4 .3,2.6 .4,-2.7 .3,-3.9 .4,.5 .3,1.5 .4,-3 .3,.5 .4,-1 .3,-.8 .4,.3 .3,2.8 .4,.2 .3,2.3 .4,-.9 .3,-1.6 .4,4.3 .3,-5 .4,2 .3,1 .4,-1.8 .3,1.7 .4,-2.2 .3,-.6 .4,-.2 .3,-1.2 .4,2.4 .3,1.1 .4,-2.9 .3,-2.7 .4,3.3 .3,-.6 .4,2.1 .3,-5.2 .4,2 .3,0 .4,7.3 .3,-9.5 .4,1.2 .3,3.2 .4,.3 .3,1.2 .4,-6.5 .3,2.1 .4,.7 .3,-1.1 .4,1.4 .3,-2.4 .4,.7 .3,3.4 .4,-5 .3,1.9 .4,2 .3,.8 .4,-3.8 .3,-.2 .4,-1.1 .3,1.7 .4,.9 .3,.6 .4,-1.4 .3,-2.4 .4,1.3 .3,1.7 .4,-4.2 .3,5 .4,-2.4 .3,4.7 .4,-.8 .3,-5.6 .4,2.5 .3,3.1 .4,.3 .3,1.5 .4,-2.7 .3,.8 .4,-4.8 .3,-1.1 .4,-.5 .3,3.7 .4,-3.7 .3,2.9 .4,-2.5 .3,.3 .4,-2.7 .3,2.3 .4,2.9 .3,2.5 .4,-3.1 .3,.4 .4,.6 .3,4.2 .4,-8.9 .3,3.8 .4,12.4 .3,27.4 .4,28.6 .3,19.3 .4,18.1 .3,16 .4,11.9 .3,4.3 .4,1.8 .3,2.4 .4,-6.4 .3,0 .4,-2 .3,4.3 .4,-8.1 .3,-1.4 .4,-4.5 .3,1.1 .4,-4.3 .3,-3.9 .4,-4.1 .3,-2.8 .4,-1.8 .3,-.6 .4,-2.9 .3,-5.7 .4,.9 .3,0 .4,-5.8 .3,-3.6 .4,1.6 .3,-5 .4,-1.7 .3,0 .4,-2.1 .3,-4.6 .4,2.3 .3,-3.6 .4,-.8 .3,-4.7 .4,2.6 .3,-3.8 .4,-1.8 .3,-1.5 .4,-2 .3,-2.2 .4,-3.1 .3,-.8 .4,.6 .3,.4 .4,-3.4 .3,-1.9 .4,-3.8 .3,-.2 .4,-2.5 .3,4.4 .4,-2.7 .3,-3.6 .4,-1.3 .3,-.9 .4,-3.3 .3,.8 .4,.3 .3,1.5 .4,-4.5 .3,2 .4,-2.5 .3,-1.1 .4,1.4 .3,-5.2 .4,1 .3,1.3 .4,-4.6 .3,-4.3 .4,3.3 .3,-.9 .4,-.8 .3,2.3 .4,-2 .3,-3.5 .4,2.8 .3,-.5 .4,-3.7 .3,-.4 .4,.1 .3,-2 .4,3.7 .3,-1 .4,-1 .3,-1.3 .4,-1.6 .3,1.9 .4,.4 .3,-2 .4,-2.3 .3,1.5 .4,-4.4 .3,4.2 .4,-.8 .3,-.5 .4,-.6 .3,-2.2 .4,-1.2 .3,-.8 .4,.5 .3,-2.4 .4,5.1 .3,-5.5 .4,-.6 .3,-.8 .4,-.5 .3,-2.1 .4,5.6 .3,3 .4,-2.8 .3,.4 .4,-1.5 .3,.5 .4,1.1 .3,2.1 .4,-3 .3,-3.1 .4,-2.3 .3,1.3 .4,2 .3,-1.1 .4,0 .3,-2.5 .4,1.7 .3,-4.8 .4,0 .3,.8 .4,2.6 .3,1.2 .4,1.3 .3,-2.4 .4,2.5 .3,-2.9 .4,1.5 .3,-2 .4,-1.9 .3,-.5 .4,.9 .3,-1.6 .4,-3.4 .3,4.4 .4,-2.5 .3,3.2 .4,-2.3 .3,0 .4,2 .3,-2.5 .4,-1 .3,.5 .4,-1.7 .3,2.6 .4,3.3 .3,-3.6 .4,.8 .3,1.7 .4,-2.8 .3,1.2 .4,-2.7 .3,2.9 .4,-1.8 .3,-2.2 .4,.7 .3,-.4 .4,-3.9 .3,4.2 .4,-2.8 .3,1.1 .4,.5 .3,2 .4,-2.3 .3,4.6 .4,-5.9 .3,3.7 .4,3 .3,-3.7 .4,.9 .3,1.1 .4,-1.4 .3,.6 .4,-2.6 .3,-.2 .4,3.1 .3,-3.5 .4,-3.2 .3,5.9 .4,-3.5 .3,2.1 .4,.1 .3,.5 .4,-1.4 .3,-.9 .4,-2.2 .3,1 .4,.1 .3,-1.9 .4,2.6 .3,-2 .4,1.3 .3,-1.8 .4,2.4 .3,-1.9 .4,-1.3 .3,4.5 .4,-2.1 .3,1.2 .4,1.3 .3,-.4 .4,.9 .3,2.9 .4,-3.5 .3,.4 .4,.2 .3,-1.9 .4,7.1 .3,-5.7 .4,-3.7 .3,-.4 .4,3.8 .3,-2.4 .4,-1.4 .3,-.1 .4,.5 .3,5.2 .4,-1.6 .3,-2.6 .4,1.9 .3,-6 .4,2.7 .3,2.1 .4,-2.5 .3,6 .4,.1 .3,-2.9 .4,-.4 .3,-.8 .4,1.5 .3,-2.3 .4,2 .3,-5.8 .4,2.7 .3,2 .4,-1.2 .3,-3.8 .4,.7 .3,4.5 .4,0 .3,-1.3 .4,2.7 .3,.1 .4,-3.5 .3,.7 .4,-.9 .3,2.4 .4,-.4 .3,-.3 .4,-.3 .3,-1.3 .4,-1.8 .3,5.1 .4,-.7 .3,-.5 .4,.2 .3,-.5 .4,2.9 .3,-3.2 .4,-1.4 .3,-.1 .4,.1 .3,.7 .4,-.5 .3,3.7 .4,.9 .3,-5 .4,-.6 .3,-2.8 .4,4.7 .3,-2.2 .4,2.2 .3,-.9 .4,3.5 .3,-3.2 .4,2.5 .3,-.7 .4,-3.3 .3,2.2 .4,1 .3,-.8 .4,-.4 .3,-1.8 .4,2.1 .3,-1.4 .4,2.4 .3,1.2 .4,-2.9 .3,2.8 .4,-.9 .3,-2.5 .4,4.1 .3,1 .4,.5 .3,-.4 .4,-2.6 .3,1.9 .4,-4.1 .3,4.9 .4,-7.9 .3,6.5 .4,-1.1 .3,-3.4 .4,6 .3,-4.5 .4,0 .3,-1.6 .4,-1.4 .3,-2.1 .4,5.5 .3,-.4 .4,-.1 .3,-.6 .4,3.1 .3,-6.2 .4,2.1 .3,-1.3 .4,1.3 .3,1.8 .4,.4 .3,-2.2 .4,1.3 .3,0 .4,.2 .3,1.8 .4,-1.7 .3,-.9 .4,.8 .3,.9 .4,2.6 .3,-2.4 .4,-3.4 .3,1.9 .4,1.9 .3,-.8 .4,-3.7 .3,5.3 .4,-2.1 .3,-1 .4,1.1 .3,0 .4,-1 .3,2.8 .4,-3.3 .3,2.6 .4,-.8 .3,-1.5 .4,2.6 .3,-.3 .4,-.6 .3,2.6 .4,-3.6 .3,.7 .4,1.3 .3,.6 .4,-.1 .3,1.7 .4,-2.3 .3,1.5 .4,-3 .3,-.3 .4,-.7 .3,-2.8 .4,3.6 .3,-1.1 .4,.3 .3,-.2 .4,.9 .3,-.2 .4,-1.8 .3,-1.3 .4,-.1 .3,2.6 .4,-.5 .3,-2.4 .4,4.5 .3,1.6 .4,-2.8 .3,.8 .4,3.9 .3,-6 .4,.6 .3,.1 .4,2.2 .3,1.8 .4,-2.7 .3,-.3 .4,.1 .3,-3.4 .4,3.3 .3,-.6 .4,1.6 .3,3.2 .4,.9 .3,-2.9 .4,-3.1 .3,-.4 .4,1.2 .3,2.8 .4,-3.1 .3,1.2 .4,1.2 .3,1.3 .4,-1.3 .3,-.6 .4,-4 .3,2.3 .4,6.1 .3,-1.8 .4,-5.4 .3,1.8 .4,-1.3 .3,.8 .4,1.9 .3,-1.9 .4,-.2 .3,.2 .4,-3.1 .3,1.7 .4,4.5 .3,-5.3 .4,-2.8 .3,6.5 .4,-1.6 .3,.5 .4,.6 .3,1.3 .4,-2 .3,.8 .4,2.1 .3,-2.4 .4,-1.9 .3,-.8 .4,-1 .3,5.9 .4,.5 .3,2 .4,2.1 .3,-2.2 .4,-2 .3,-2.9 .4,2.6 .3,1.5 .4,4.4 .3,-8.7 .4,2 .3,-2.2 .4,-2 .3,-.2 .4,3.5 .3,-.6 .4,-1.4 .3,2.2 .4,-2.6 .3,3.5 .4,-3 .3,-1.1 .4,3.2 .3,1.4 .4,-2.1 .3,.1 .4,1.2 .3,2.9 .4,-3.9 .3,.9 .4,-1.2 .3,-3.1 .4,.6 .3,-.5 .4,1.7 .3,.4 .4,-.6 .3,1.1 .4,-1.4 .3,-4.1 .4,3.1 .3,2.4 .4,-.2 .3,-.5 .4,1.2 .3,-.6 .4,-.4 .3,-3.6 .4,3.3 .3,1 .4,-.1 .3,-.9 .4,-4 .3,-1.5 .4,0 .3,2.4 .4,.8 .3,1 .4,2.5 .3,-2.7 .4,.6 .3,2.9 .4,-2.3 .3,-1 .4,.4 .3,2.7 .4,-2.6 .3,3.2 .4,.8 .3,-3.8 .4,4.3 .3,-1.1 .4,-.8 .3,-1 .4,-.6 .3,-1.2 .4,4.2 .3,-2.7 .4,-1.2 .3,-.6 .4,-3.6 .3,2.8 .4,2.1 .3,-3 .4,4 .3,-4.3 .4,.3 .3,2.4 .4,-.5 .3,-2.6 .4,2.1 .3,-.7 .4,-1.4 .3,5.4 .4,-5.3 .3,2.8 .4,2.5 .3,-2.6 .4,.3 .3,-2.8 .4,2.6 .3,-3.1 .4,2.6 .3,1.4 .4,-.2 .3,1.7 .4,.3 .3,-.8 .4,-.8 .3,.8 .4,-1 .3,.8 .4,2.2 .3,-1.4 .4,-2.3 .3,1.8 .4,-3.6 .3,3.2 .4,1.5 .3,-.6 .4,2.2 .3,-9 .4,3.3 .3,.3 .4,-.7 .3,.8 .4,3.3 .3,-.6 .4,1.2 .3,.7 .4,-3 .3,3.4 .4,-6 .3,1.9 .4,2.7 .3,-4.5 .4,3 .3,-1.4 .4,-3.2 .3,2 .4,4.9 .3,-1.6 .4,-2.8 .3,2.9 .4,.2 .3,-2.6 .4,-1 .3,.4 .4,-2.5 .3,5.2 .4,2.4 .3,-.9 .4,.1 .3,-.8 .4,-.5 .3,2 .4,1.1 .3,-1.8 .4,-.9 .3,-1.2 .4,-1.6 .3,-1.3 .4,.9 .3,4.8 .4,-3.7 .3,2 .4,-3.2 .3,2.2 .4,-2.3 .3,3.8 .4,-6.1 .3,.6 .4,3.1 .3,5 .4,-4.9 .3,1.6 .4,-2.1 .3,.3 .4,-.7 .3,-2.8 .4,5.9 .3,-.4 .4,1 .3,-4.1 .4,1.8 .3,.4 .4,1.5 .3,-2.6 .4,1.1 .3,-3.4 .4,1.6 .3,-.5 .4,1.2 .3,.4 .4,-5 .3,-.8 .4,6.3 .3,-.8 .4,2.7 .3,-3.2 .4,1.6 .3,-4.1 .4,4.1 .3,.2 .4,.3 .3,-2.3 .4,.4 .3,.1 .4,.9 .3,-3.9 .4,1.6 .3,0 .4,.9 .3,.7 .4,-3.3 .3,2.1 .4,2.6 .3,-1 .4,-.4 .3,.5 .4,.7 .3,-2.8 .4,4.4 .3,-2 .4,.7 .3,1.5 .4,-3.4 .3,0 .4,-.7 .3,3.6 .4,-2.4 .3,-1.4 .4,.4 .3,-2.6 .4,.3 .3,-.3 .4,2.9 .3,.3 .4,1.6 .3,1.2 .4,-1.7 .3,-2 .4,2 .3,-2.4 .4,4 .3,-4.1 .4,3.1 .3,-4.2 .4,-1.3 .3,7 .4,-1.9 .3,.3 .4,-1.2 .3,1.5 .4,2.7 .3,-3 .4,1.5 .3,.2 .4,-3.6 .3,1.7 .4,2.1 .3,-.4 .4,-1.9 .3,1.7 .4,.4 .3,-3.6 .4,-.2 .3,-2.4 .4,1.5 .3,1.9 .4,-4 .3,1.9 .4,1.3 .3,-.5 .4,-1.2 .3,4.7 .4,-2 .3,.7 .4,1.7 .3,-3.2 .4,1.7 .3,.3 .4,-1.4 .3,3.9 .4,-1.5 .3,-.2 .4,1.4 .3,-2.8 .4,.3 .3,-.2 .4,-1.1" fill="none" stroke-width="1.8" stroke-linejoin="round"/>
<path d="M33.8,756.0l.4,-4 .3,2.7 .3,-1.3 .4,4.5 .4,-4 .3,-2.5 .4,5 .3,-5.5 .4,3.3 .3,2.6 .4,-3.6 .3,-1.1 .4,-.4 .3,.5 .4,-.3 .3,1.7 .4,.2 .3,.2 .4,2.2 .3,-2.2 .4,1.7 .3,-2.2 .4,-.6 .3,-3.6 .4,5.4 .3,1 .4,-.3 .3,-2.4 .4,2.5 .3,2.7 .4,-5.4 .3,.4 .4,2.7 .3,-1.6 .4,6.7 .3,-5 .4,-4.2 .3,2.6 .4,.7 .3,2 .4,-4.2 .3,7.4 .4,-6 .3,2 .4,-1.4 .3,1.9 .4,.3 .3,-.7 .4,1.1 .3,-4.3 .4,.8 .3,2.1 .4,.2 .3,-.8 .4,2.3 .3,1.3 .4,.8 .3,.6 .4,-3.3 .3,1.5 .4,-1 .3,-2 .4,-4 .3,5 .4,-.4 .3,.7 .4,-.4 .3,1 .4,2.8 .3,-4.2 .4,.7 .3,.8 .4,1.3 .3,-5.3 .4,.7 .3,-2.1 .4,2.9 .3,4.1 .4,.4 .3,-2.2 .4,-.4 .3,2.6 .4,-2 .3,-1.4 .4,2.1 .3,-.7 .4,-1.8 .3,-.4 .4,1.5 .3,-1.3 .4,.1 .3,-.7 .4,-2.9 .3,5.3 .4,-3 .3,2.5 .4,0 .3,1.6 .4,-2.5 .3,-.7 .4,5.5 .3,-3.3 .4,-.2 .3,-1.6 .4,-3.5 .3,13.9 .4,17 .3,15.2 .4,22.1 .3,13.2 .4,5.3 .3,6.6 .4,4.5 .3,-1.7 .4,5.5 .3,2.2 .4,-4.3 .3,.4 .4,-1.7 .3,-3.5 .4,-2.5 .3,.6 .4,-2.3 .3,-3.2 .4,-.5 .3,-3 .4,-.1 .3,-2.9 .4,-1.2 .3,-2.3 .4,-2.4 .3,-.6 .4,-2.9 .3,-4.4 .4,-.4 .3,1.2 .4,-1.8 .3,-3.6 .4,-.8 .3,3.8 .4,-6.3 .3,.2 .4,.2 .3,-2.5 .4,.9 .3,-1.5 .4,-2.4 .3,1 .4,-3.5 .3,-2.2 .4,-3.1 .3,1.6 .4,.2 .3,.2 .4,-5.7 .3,1.1 .4,-1 .3,1 .4,.5 .3,-6.3 .4,4.9 .3,-6.5 .4,-1 .3,-1.9 .4,-1.4 .3,-.6 .4,4.9 .3,-.4 .4,-1.5 .3,-3.7 .4,3.2 .3,-.6 .4,-3.6 .3,3.2 .4,-2.6 .3,-.5 .4,-.5 .3,-4.8 .4,.6 .3,-2.4 .4,4 .3,-2.9 .4,-.7 .3,-3.8 .4,1.3 .3,6.5 .4,-4.3 .3,-.4 .4,-.4 .3,1.1 .4,-.8 .3,-4.4 .4,7.4 .3,-6.4 .4,5.1 .3,-1.9 .4,-3.1 .3,-.2 .4,.1 .3,0 .4,-2.9 .3,-1 .4,3.6 .3,-2 .4,-.5 .3,2.7 .4,-6.5 .3,8.6 .4,-4.7 .3,-.7 .4,.1 .3,-1.6 .4,-.4 .3,1.4 .4,-.3 .3,-1.6 .4,.6 .3,-.6 .4,3.1 .3,-1.4 .4,.9 .3,.8 .4,.2 .3,-.3 .4,-3.7 .3,-.5 .4,-1.1 .3,1.8 .4,-.3 .3,-3.9 .4,1.9 .3,.7 .4,-2 .3,2.6 .4,-.1 .3,.6 .4,1.3 .3,-.4 .4,-.5 .3,-4.4 .4,3.3 .3,-1.5 .4,-2.7 .3,.6 .4,.9 .3,-2.1 .4,.9 .3,2.8 .4,-1.7 .3,.6 .4,1.2 .3,-1.1 .4,2.2 .3,-4.3 .4,.6 .3,-.9 .4,-1.4 .3,1.9 .4,.5 .3,1 .4,-1.3 .3,2.7 .4,-2.7 .3,-2.1 .4,4.8 .3,-.3 .4,-.9 .3,.8 .4,-.5 .3,-.8 .4,-.4 .3,-.4 .4,.2 .3,-.1 .4,.8 .3,-.5 .4,.4 .3,-1.2 .4,-1.5 .3,-.8 .4,.1 .3,.2 .4,-.8 .3,.2 .4,1.8 .3,3.3 .4,-7 .3,5.1 .4,-4.1 .3,5.1 .4,.1 .3,-4.2 .4,1 .3,1.1 .4,-.9 .3,-.4 .4,-.5 .3,2.3 .4,-2.9 .3,1.3 .4,1.8 .3,-4.6 .4,.7 .3,-.1 .4,.4 .3,3.1 .4,2.5 .3,-2.2 .4,-5.5 .3,5.6 .4,-1.4 .3,-.7 .4,3.8 .3,-3.3 .4,-.6 .3,-.4 .4,3.4 .3,-4.1 .4,-.9 .3,2.6 .4,-1.4 .3,1.5 .4,-.6 .3,.4 .4,-.8 .3,6.6 .4,-4.9 .3,2 .4,-1.3 .3,-1.4 .4,-.9 .3,-2.8 .4,0 .3,4.8 .4,1.5 .3,-4.5 .4,6 .3,-3.6 .4,.2 .3,-.4 .4,-1.5 .3,-5 .4,6.3 .3,-3.1 .4,3.1 .3,.4 .4,-.9 .3,3.6 .4,-1.2 .3,-4.4 .4,2.6 .3,-2.7 .4,2.1 .3,1.2 .4,-.3 .3,.2 .4,1 .3,-.9 .4,.9 .3,-5.4 .4,.6 .3,1.7 .4,-.3 .3,-1.1 .4,3.1 .3,-3.9 .4,-.7 .3,-.1 .4,-.8 .3,2.5 .4,4.1 .3,-5.5 .4,2.9 .3,.1 .4,-.6 .3,2.9 .4,-2.8 .3,1.1 .4,-1.4 .3,-.4 .4,-1 .3,2.3 .4,-2.3 .3,4.2 .4,-3.1 .3,2.5 .4,-1.4 .3,1.5 .4,-2 .3,-1 .4,-.1 .3,.7 .4,.3 .3,-.7 .4,3.1 .3,-2.7 .4,.4 .3,1.1 .4,-7.8 .3,.3 .4,2.3 .3,2.8 .4,2.2 .3,-.3 .4,-1.1 .3,-1.9 .4,1.5 .3,-1.3 .4,-2.8 .3,6.7 .4,22.7 .3,22.6 .4,20.2 .3,18.6 .4,12.1 .3,9.1 .4,7.3 .3,-3 .4,4.7 .3,2.9 .4,-4.1 .3,-2.6 .4,.7 .3,-5 .4,1.9 .3,-4.1 .4,.1 .3,-2.7 .4,-2.1 .3,-3.4 .4,-.6 .3,-3.1 .4,-1.6 .3,-3.8 .4,-4.3 .3,-.4 .4,-3.2 .3,-2.1 .4,-2 .3,-4.8 .4,-.8 .3,-.3 .4,-2.1 .3,-2.6 .4,-2 .3,-1.3 .4,-.5 .3,-1 .4,-4.9 .3,-1.1 .4,3 .3,-6.8 .4,1.2 .3,-1 .4,-2.9 .3,1.5 .4,-.1 .3,-1.5 .4,-4.7 .3,2 .4,-1.7 .3,.1 .4,.1 .3,-1.3 .4,-5 .3,2.9 .4,-3.6 .3,-7.1 .4,4.9 .3,-5 .4,2.8 .3,.9 .4,-.1 .3,-3.7 .4,-.4 .3,1.5 .4,-3.8 .3,.6 .4,-.1 .3,3.4 .4,-7.8 .3,-1.1 .4,4.6 .3,-5.2 .4,3 .3,-.6 .4,.5 .3,-6.6 .4,.1 .3,-.1 .4,-1.7 .3,.7 .4,2.7 .3,-.6 .4,-3.1 .3,1.4 .4,0 .3,2.9 .4,1.5 .3,-6.2 .4,-1.2 .3,1 .4,3.7 .3,-1.9 .4,-3.2 .3,1 .4,-1.1 .3,-3.1 .4,2.6 .3,-.7 .4,1.4 .3,1.9 .4,-2.6 .3,-.8 .4,.9 .3,-3.4 .4,.4 .3,2.3 .4,-4.5 .3,4.9 .4,-5.3 .3,-.6 .4,1.1 .3,1.7 .4,-3.1 .3,-.7 .4,-3.9 .3,.2 .4,-.9 .3,5.6 .4,1.8 .3,-5.3 .4,-.5 .3,2.7 .4,2.7 .3,-2.9 .4,-1.1 .3,.6 .4,-5.2 .3,2.5 .4,1.7 .3,.3 .4,-1.3 .3,-1.2 .4,4.2 .3,1.2 .4,.1 .3,-1.3 .4,-1.7 .3,3.3 .4,-2.6 .3,1 .4,-3 .3,-.8 .4,2.5 .3,3.8 .4,-4.1 .3,-1.3 .4,-.2 .3,-2.9 .4,1 .3,-.8 .4,-.2 .3,-.6 .4,.1 .3,.8 .4,-.9 .3,3.5 .4,-1.7 .3,.5 .4,-1.9 .3,1 .4,-4.1 .3,3.1 .4,2 .3,.3 .4,-3.2 .3,1.4 .4,-3.3 .3,3.1 .4,-.1 .3,-3.1 .4,5.2 .3,.1 .4,-2 .3,1.6 .4,-1 .3,-.3 .4,.2 .3,-2.3 .4,-.9 .3,1.7 .4,-1 .3,3.4 .4,-4.7 .3,5.7 .4,-.1 .3,-3 .4,4.2 .3,-4.8 .4,1.4 .3,2.5 .4,-2.3 .3,-2.8 .4,1.7 .3,-.9 .4,-1.7 .3,-.2 .4,1.3 .3,1.4 .4,-.9 .3,3.5 .4,2.3 .3,-5.3 .4,-1.4 .3,-.8 .4,3.4 .3,-1.1 .4,-2.4 .3,-.9 .4,4.4 .3,-.9 .4,-1.1 .3,5.7 .4,-1.2 .3,-4.1 .4,2.5 .3,-2.2 .4,2.3 .3,-4 .4,1.1 .3,2.5 .4,.9 .3,-2.8 .4,2.4 .3,1.4 .4,-.7 .3,-4.9 .4,2.3 .3,-4.6 .4,7.2 .3,-2.9 .4,.9 .3,1.1 .4,1 .3,.2 .4,-1.3 .3,-1.5 .4,1.2 .3,1.2 .4,-1.9 .3,-1.2 .4,.6 .3,-.9 .4,-.5 .3,.7 .4,-1.2 .3,4.8 .4,.6 .3,-6.4 .4,3.8 .3,-2.5 .4,.9 .3,-.5 .4,1.6 .3,-4.1 .4,4.8 .3,-.8 .4,-2.6 .3,4.5 .4,-.5 .3,-2.7 .4,-2.2 .3,1.4 .4,-3 .3,1.1 .4,4.1 .3,-.6 .4,3.2 .3,-5.1 .4,-.7 .3,2.6 .4,3.1 .3,-3.6 .4,2 .3,1.9 .4,-2.2 .3,.5 .4,-1.5 .3,2.2 .4,1 .3,-.5 .4,1.5 .3,-2.2 .4,1.3 .3,-5.1 .4,5.1 .3,-5.9 .4,5.3 .3,-5.4 .4,1.2 .3,1.2 .4,-1.3 .3,-2.7 .4,6.8 .3,-.2 .4,.1 .3,.1 .4,.3 .3,-1.1 .4,1.6 .3,-4.2 .4,.6 .3,-.4 .4,-1.8 .3,-1.4 .4,3.7 .3,-1.5 .4,1.5 .3,.6 .4,-5.6 .3,3.1 .4,3.1 .3,-3.2 .4,-.6 .3,2.4 .4,-3.8 .3,4.5 .4,-.1 .3,.3 .4,1.3 .3,-2.3 .4,2.2 .3,-1.1 .4,.3 .3,3.2 .4,-4.7 .3,-1.8 .4,.1 .3,4.8 .4,-.9 .3,-1.7 .4,1.6 .3,1 .4,-1.1 .3,-1.4 .4,0 .3,2 .4,-4.6 .3,3.3 .4,-1.4 .3,0 .4,0 .3,.3 .4,.7 .3,-1.5 .4,4.6 .3,-4.1 .4,4.8 .3,-2.6 .4,-1.6 .3,.9 .4,-1.1 .3,2.7 .4,0 .3,-1.2 .4,2 .3,-.6 .4,-3.7 .3,-3.3 .4,2.4 .3,.5 .4,3.7 .3,-.2 .4,-.2 .3,-.6 .4,.6 .3,1.4 .4,-2.5 .3,2.8 .4,.2 .3,-1 .4,-1.5 .3,-.7 .4,-1.6 .3,3 .4,-2.9 .3,4.6 .4,-5.9 .3,2.7 .4,-1.5 .3,3.3 .4,-1.7 .3,2.2 .4,-4.3 .3,3.2 .4,-1.3 .3,1.1 .4,1.5 .3,-4.2 .4,-3.2 .3,6.4 .4,-5.9 .3,5 .4,1.3 .3,-1.8 .4,2.1 .3,-3.9 .4,6.2 .3,.2 .4,-4.9 .3,.8 .4,-2 .3,2.1 .4,-2.2 .3,2.7 .4,-3.4 .3,3.2 .4,-.3 .3,5.7 .4,-9 .3,5.2 .4,-.7 .3,-3.6 .4,2.5 .3,-.6 .4,-2 .3,4.3 .4,3.7 .3,-5.9 .4,-.9 .3,-1.4 .4,-.4 .3,5 .4,-1.9 .3,1.5 .4,-5.1 .3,3.2 .4,-4.8 .3,3.7 .4,-3.4 .3,4.6 .4,-3.4 .3,2.5 .4,-1 .3,3.8 .4,-1.1 .3,-4.2 .4,.3 .3,-.7 .4,2.1 .3,1.4 .4,1 .3,-2.5 .4,-2.7 .3,6.1 .4,-5 .3,.4 .4,.4 .3,1.5 .4,-3.5 .3,6.8 .4,-1.3 .3,-3.7 .4,4.1 .3,-.3 .4,-3.7 .3,3.5 .4,-5.2 .3,2.5 .4,-.1 .3,.7 .4,.5 .3,-1.3 .4,.5 .3,2.6 .4,-1.1 .3,-.4 .4,.8 .3,.1 .4,-4.2 .3,6 .4,-1.2 .3,-4.8 .4,5.3 .3,-2.2 .4,1.4 .3,-2 .4,-2.8 .3,-1.5 .4,2.7 .3,1.8 .4,-.7 .3,2 .4,-1.7 .3,.5 .4,1.3 .3,-3 .4,3.3 .3,-2.5 .4,.7 .3,2.2 .4,-1.7 .3,2.5 .4,-.3 .3,-1.7 .4,1.1 .3,.4 .4,.3 .3,-.7 .4,-3.6 .3,4.6 .4,2.3 .3,-1.6 .4,-.9 .3,-.3 .4,-2.6 .3,3.3 .4,-3.7 .3,1.7 .4,4 .3,-2.5 .4,.5 .3,3 .4,-6 .3,2.8 .4,1.3 .3,-1 .4,-1.6 .3,-1.2 .4,0 .3,.5 .4,-3.1 .3,6.6 .4,-4 .3,.9 .4,1.1 .3,-.2 .4,-2.6 .3,4 .4,.4 .3,.4 .4,1.9 .3,-2.1 .4,-.3 .3,-3.6 .4,-3.1 .3,5.3 .4,-2.9 .3,2.5 .4,.3 .3,-2.1 .4,.7 .3,-.8 .4,1 .3,-1.9 .4,-.8 .3,1.5 .4,.1 .3,5.2 .4,-2.7 .3,-.8 .4,2.3 .3,-1.8 .4,-.7 .3,-1.5 .4,2 .3,-.8 .4,3.9 .3,-.7 .4,-3.5 .3,.6 .4,-3 .3,2.1 .4,-3.9 .3,3.4 .4,-.2 .3,.2 .4,2.2 .3,.8 .4,-1.8 .3,-2.3 .4,1.3 .3,-1.1 .4,.1 .3,-.5 .4,4.7 .3,-1.5 .4,-2 .3,1.3 .4,0 .3,-2.9 .4,4 .3,-3 .4,.1 .3,1.8 .4,1.4 .3,.6 .4,.3 .3,1 .4,2.9 .3,-5.7 .4,2.1 .3,-2.4 .4,-.3 .3,-1.3 .4,.7 .3,1.4 .4,2.1 .3,1.5 .4,-1.8 .3,-2.1 .4,.6 .3,-3.7 .4,1.5 .3,0 .4,2 .3,-1.6 .4,1 .3,1.5 .4,.8 .3,1.6 .4,-3.2 .3,.4 .4,-1.6 .3,-.3 .4,-3.1 .3,3.1 .4,.6 .3,-2.1 .4,-.3 .3,2.4 .4,.6 .3,-2 .4,4.3 .3,-2.1 .4,-.4 .3,-1 .4,-.7 .3,1.9 .4,-.6 .3,.1 .4,1.3 .3,2.5 .4,-1.5" fill="none" stroke-width="1.8" stroke-linejoin="round"/>
<path d="M33.8,745.8l.4,1.1 .3,2.6 .3,-2.9 .4,3.8 .4,-1.6 .3,0 .4,-2 .3,1 .4,-3.8 .3,.3 .4,2.5 .3,1.8 .4,1.6 .3,-.9 .4,2.8 .3,-5.5 .4,.9 .3,1.5 .4,-2.5 .3,.1 .4,.1 .3,.8 .4,-2.3 .3,2.3 .4,-.3 .3,.5 .4,-1 .3,-2.1 .4,3.9 .3,.3 .4,-.7 .3,-1.5 .4,-1.6 .3,-2.6 .4,10.2 .3,.5 .4,-1 .3,0 .4,-4 .3,-2.4 .4,.8 .3,-1.5 .4,5.1 .3,-1 .4,-1.2 .3,-2.6 .4,2.6 .3,-2.1 .4,1.9 .3,-.1 .4,-.7 .3,.2 .4,1.9 .3,-1.3 .4,2.6 .3,-1.3 .4,-1.5 .3,1 .4,1.4 .3,1.6 .4,-5.2 .3,2.2 .4,-.6 .3,-.7 .4,1.4 .3,.2 .4,1.1 .3,.6 .4,-2.1 .3,1.9 .4,-1.2 .3,.7 .4,2.7 .3,-1.5 .4,-2.8 .3,.4 .4,5 .3,-1.7 .4,.8 .3,.1 .4,-1.5 .3,-2.4 .4,.7 .3,-1.9 .4,2.8 .3,-1.6 .4,.9 .3,-1.9 .4,1.9 .3,-2.7 .4,3 .3,-.8 .4,3.9 .3,-1.4 .4,-1.9 .3,-1.2 .4,-5.9 .3,3.3 .4,4.6 .3,-3.4 .4,3.3 .3,-1.8 .4,2.5 .3,.4 .4,-4.9 .3,7.6 .4,12.6 .3,15.4 .4,15.8 .3,8.4 .4,7.2 .3,4.2 .4,3.4 .3,1.1 .4,1.5 .3,1 .4,-4.6 .3,-.4 .4,-.3 .3,2 .4,-5.4 .3,4.8 .4,-1.6 .3,-1.1 .4,-2.9 .3,-1.1 .4,-3.8 .3,-1.4 .4,-2.5 .3,-1.3 .4,-1.7 .3,1.1 .4,-4 .3,.2 .4,2.6 .3,-4.5 .4,-2.1 .3,-3.1 .4,2.7 .3,-4.2 .4,1.8 .3,-6.2 .4,-2.3 .3,-1 .4,1.6 .3,-.8 .4,4.1 .3,-7.3 .4,3.4 .3,.2 .4,-2.3 .3,-4.8 .4,2.7 .3,-.1 .4,-3.2 .3,.3 .4,-2.3 .3,.1 .4,-.8 .3,1.7 .4,-1.8 .3,-3.3 .4,3.5 .3,-1.7 .4,-2.6 .3,1.9 .4,-2.9 .3,2.4 .4,-.7 .3,-.4 .4,-5.4 .3,3 .4,.1 .3,-2.4 .4,-.3 .3,-.2 .4,.5 .3,-4 .4,.7 .3,3.3 .4,-3.3 .3,1.8 .4,-1.6 .3,.9 .4,-2.1 .3,-.1 .4,-1.2 .3,1.4 .4,-1.3 .3,-.2 .4,1.6 .3,-1.5 .4,.2 .3,.2 .4,2.2 .3,.4 .4,-8 .3,1.2 .4,-1.1 .3,2.7 .4,.3 .3,.6 .4,-1.7 .3,-1.4 .4,0 .3,-1.3 .4,3.6 .3,-4.2 .4,1 .3,-1.9 .4,1.2 .3,-1.3 .4,.1 .3,2.5 .4,-4.2 .3,-.4 .4,2.4 .3,-2.2 .4,.9 .3,-.3 .4,-.2 .3,1.6 .4,3.3 .3,-.3 .4,-6.4 .3,1.3 .4,-1.3 .3,1.7 .4,1.5 .3,-2.7 .4,2.6 .3,2.2 .4,-4.4 .3,1.6 .4,-2.4 .3,-.6 .4,-2.6 .3,4.1 .4,1 .3,-2.4 .4,-1.3 .3,3.2 .4,-1.2 .3,2.6 .4,-5.8 .3,.9 .4,-.2 .3,3.4 .4,-1.3 .3,2.2 .4,-5.4 .3,.4 .4,-.3 .3,-.3 .4,2.3 .3,-2.1 .4,4.1 .3,1 .4,-3.9 .3,.5 .4,3.4 .3,-2.4 .4,-.5 .3,.3 .4,1.4 .3,.8 .4,.6 .3,-1.4 .4,-.8 .3,-1.2 .4,-2.6 .3,5.6 .4,-5.3 .3,5.1 .4,-2.2 .3,-1.6 .4,3.3 .3,-1.5 .4,-.6 .3,-.4 .4,0 .3,.3 .4,-.4 .3,-2.5 .4,1.2 .3,1.8 .4,-3.3 .3,2.8 .4,1.4 .3,.6 .4,-.6 .3,-4 .4,-.2 .3,2.1 .4,.9 .3,1.2 .4,-.4 .3,-.1 .4,-2.9 .3,-.1 .4,1.1 .3,-2.1 .4,3 .3,-.2 .4,-1.2 .3,-3.5 .4,2.3 .3,3.3 .4,2.4 .3,-3.6 .4,1.7 .3,-.1 .4,1 .3,-1.8 .4,-1.3 .3,3.1 .4,-2.4 .3,2.7 .4,-3 .3,-.6 .4,-1.2 .3,2.4 .4,1.1 .3,.7 .4,-.1 .3,.6 .4,-1.9 .3,-1.5 .4,-.3 .3,2.9 .4,-3.2 .3,1.1 .4,4 .3,-3 .4,-.2 .3,.1 .4,-1.3 .3,-.9 .4,5.3 .3,-4.3 .4,4 .3,-2.3 .4,4.1 .3,-4.5 .4,-2.6 .3,-.3 .4,2.2 .3,.5 .4,.2 .3,4.9 .4,-2 .3,-.7 .4,-1.8 .3,1.2 .4,.2 .3,-2.1 .4,.8 .3,-2.5 .4,3.1 .3,1 .4,-1.2 .3,-1.7 .4,2.6 .3,-.4 .4,2.2 .3,-1.5 .4,-1.4 .3,1.2 .4,2.3 .3,-4.1 .4,.7 .3,-1.8 .4,3.2 .3,-1.4 .4,-2.5 .3,.1 .4,4.6 .3,-.8 .4,2.1 .3,.1 .4,-2.1 .3,-2.5 .4,2.1 .3,-4.1 .4,1.6 .3,1.1 .4,-1 .3,3.2 .4,-1.4 .3,-1.3 .4,-1.9 .3,5 .4,-6.5 .3,2.1 .4,-3.5 .3,2.7 .4,2 .3,-3 .4,.5 .3,-2.3 .4,1.1 .3,1 .4,1.2 .3,-.9 .4,3.3 .3,-3 .4,-4 .3,.6 .4,1.8 .3,3.3 .4,3.8 .3,-1.1 .4,-.9 .3,1.1 .4,-2.1 .3,1.9 .4,1.3 .3,-1.2 .4,-1.1 .3,-3.2 .4,0 .3,2 .4,-5.1 .3,-1.2 .4,2.9 .3,-1 .4,2.4 .3,-1.1 .4,2.5 .3,-.3 .4,-1.1 .3,-.7 .4,.8 .3,-2.1 .4,2.5 .3,.9 .4,-4 .3,-2.5 .4,3.4 .3,1.8 .4,-.7 .3,3 .4,-4.8 .3,3.6 .4,2.3 .3,1.1 .4,-7.2 .3,2.3 .4,-.9 .3,.2 .4,-6.8 .3,7.7 .4,1.3 .3,-.2 .4,-1.5 .3,.5 .4,-1.5 .3,-.6 .4,3 .3,0 .4,.7 .3,.2 .4,-1.7 .3,1.3 .4,-.6 .3,-.2 .4,-3.8 .3,5 .4,-1.3 .3,-2.4 .4,-1.8 .3,2.7 .4,.5 .3,-6 .4,6.5 .3,1.8 .4,-4.1 .3,3.2 .4,-4.8 .3,-1.4 .4,7.4 .3,-.3 .4,-4.8 .3,1.3 .4,.8 .3,2.4 .4,-1.1 .3,-3 .4,3.4 .3,-3.7 .4,3.6 .3,-1.9 .4,1.5 .3,-.9 .4,1.6 .3,2.4 .4,-2.3 .3,.5 .4,-.2 .3,-1.4 .4,-.7 .3,-.9 .4,.4 .3,2.6 .4,-3.7 .3,.6 .4,-1.1 .3,1.8 .4,-2.7 .3,3 .4,-1.4 .3,18.8 .4,17.4 .3,21.8 .4,20.8 .3,10.1 .4,12.9 .3,6.5 .4,-.2 .3,5.4 .4,1.6 .3,-3.1 .4,-.3 .3,-2.6 .4,-2.3 .3,-3 .4,-4.3 .3,-4.1 .4,-.3 .3,.1 .4,-3.6 .3,-.4 .4,-3.7 .3,-3.3 .4,-.3 .3,-3 .4,-2.5 .3,.5 .4,-1.8 .3,-3.8 .4,-1.8 .3,-1 .4,-3.1 .3,-2.3 .4,-7.2 .3,0 .4,-2.7 .3,2.5 .4,1 .3,-4.4 .4,-.2 .3,-2.2 .4,-.5 .3,-3.4 .4,-3.1 .3,3.1 .4,-2.6 .3,-.7 .4,2.3 .3,-6.1 .4,-3.4 .3,0 .4,.4 .3,2.4 .4,-8.1 .3,-.2 .4,3.5 .3,-1.5 .4,-3.6 .3,.7 .4,.8 .3,-1 .4,-2.2 .3,1.4 .4,-4.9 .3,3.3 .4,-3.6 .3,.6 .4,.3 .3,-.2 .4,-.9 .3,1.5 .4,-4.1 .3,1.2 .4,-2.4 .3,1.3 .4,-.6 .3,-4.1 .4,2.6 .3,-1.3 .4,-1.5 .3,3 .4,-3.2 .3,-2.6 .4,1.8 .3,-1.5 .4,1.4 .3,1.4 .4,-1.2 .3,-2.2 .4,2.1 .3,-5.9 .4,4.3 .3,-4.6 .4,3.1 .3,-1.2 .4,3.2 .3,-1.8 .4,-2.6 .3,-2.5 .4,3.2 .3,0 .4,-2.3 .3,0 .4,2.7 .3,-1.9 .4,-1.9 .3,1.5 .4,2.4 .3,-4.3 .4,2.7 .3,-1.4 .4,.3 .3,1.1 .4,-4.1 .3,1.7 .4,-.4 .3,1.7 .4,0 .3,-.8 .4,-.3 .3,-2.5 .4,.9 .3,.6 .4,.4 .3,-2.2 .4,3.8 .3,.8 .4,-3.1 .3,.3 .4,-.9 .3,.8 .4,1.8 .3,-2.9 .4,-5.2 .3,5.2 .4,-3.7 .3,.4 .4,1 .3,2.2 .4,-1.5 .3,2.7 .4,-4.4 .3,1.4 .4,-2 .3,-.6 .4,.1 .3,1.5 .4,3.3 .3,-4.5 .4,1.9 .3,.3 .4,0 .3,-.1 .4,-3.6 .3,1.4 .4,3.4 .3,-1.9 .4,3.8 .3,-3 .4,.2 .3,-2.4 .4,1.2 .3,3.1 .4,3.4 .3,-7.2 .4,-1.1 .3,2.8 .4,-.3 .3,-.1 .4,-7 .3,7 .4,.5 .3,.1 .4,-2.9 .3,-.5 .4,0 .3,1.3 .4,-2 .3,-.2 .4,4.3 .3,.3 .4,1.8 .3,-4.1 .4,-2.3 .3,5.1 .4,-4.3 .3,3.5 .4,-2.9 .3,.1 .4,-1.4 .3,2 .4,-2.4 .3,1 .4,3.1 .3,-2.3 .4,-3.5 .3,5.1 .4,-4.8 .3,6.6 .4,-2.2 .3,.3 .4,4.4 .3,-2.7 .4,-2.9 .3,3.4 .4,-1.7 .3,.8 .4,-2.4 .3,.8 .4,-.5 .3,4.3 .4,-2.9 .3,3.8 .4,-1 .3,-4.2 .4,0 .3,-1.2 .4,-.1 .3,2 .4,-3.3 .3,3 .4,-1.9 .3,4.1 .4,-6.9 .3,4.2 .4,1.4 .3,.6 .4,-.7 .3,-1.9 .4,-2.2 .3,2.2 .4,-2.8 .3,1.7 .4,2.8 .3,.9 .4,-1.1 .3,-1.5 .4,2 .3,-4.3 .4,2.3 .3,2.3 .4,-1.1 .3,.8 .4,-2.2 .3,-2.1 .4,4.2 .3,-5.3 .4,-.4 .3,-.5 .4,2.2 .3,4.8 .4,-1.5 .3,-2.3 .4,2.2 .3,.1 .4,-.9 .3,3.1 .4,-3.2 .3,1 .4,.2 .3,-4.4 .4,4.2 .3,1.7 .4,-.4 .3,-4.3 .4,1.2 .3,-2.4 .4,2.2 .3,-2.1 .4,2.8 .3,-1.5 .4,1.9 .3,3.4 .4,-1.6 .3,2.3 .4,-4 .3,-.4 .4,.9 .3,.5 .4,-.6 .3,1.1 .4,-4.9 .3,2.3 .4,3.7 .3,-3.5 .4,-2.2 .3,3.4 .4,-2.4 .3,1.3 .4,-3.7 .3,3.3 .4,1.2 .3,.9 .4,-1.2 .3,1.3 .4,-.2 .3,1.4 .4,-5.1 .3,3 .4,1.1 .3,-.1 .4,.2 .3,-2.5 .4,-2.9 .3,4.6 .4,-2.8 .3,1.1 .4,-.2 .3,2.9 .4,-1.6 .3,.1 .4,-3.9 .3,5.4 .4,1.6 .3,-.3 .4,-3.2 .3,-.6 .4,2.3 .3,-3.1 .4,1.2 .3,2.7 .4,-1.6 .3,0 .4,1.5 .3,-2.9 .4,1.3 .3,-3.1 .4,-.7 .3,2.1 .4,.7 .3,-1.4 .4,3.2 .3,-1.3 .4,1.4 .3,-2 .4,-3.2 .3,2 .4,1.6 .3,3.1 .4,-.8 .3,-3.8 .4,5.6 .3,-4.3 .4,1.9 .3,-1.5 .4,1.1 .3,1.1 .4,-6.7 .3,8.9 .4,-5 .3,.4 .4,-1 .3,.5 .4,3.5 .3,-6.7 .4,2 .3,4.5 .4,-1.8 .3,.6 .4,-2.4 .3,3.7 .4,-.1 .3,-1.4 .4,-.4 .3,-.2 .4,-.7 .3,-2.2 .4,1.9 .3,1 .4,-4.8 .3,.6 .4,-.9 .3,3.6 .4,.7 .3,2 .4,.1 .3,-1.1 .4,-1.6 .3,.5 .4,-1.3 .3,3.3 .4,.9 .3,-5.4 .4,1.2 .3,2.6 .4,2.8 .3,-.6 .4,-1.9 .3,-1.9 .4,-.8 .3,1.3 .4,4.6 .3,-4.3 .4,.4 .3,2.3 .4,0 .3,-.9 .4,2.4 .3,-7.4 .4,2.1 .3,.2 .4,.5 .3,-1.4 .4,2.2 .3,2.1 .4,1.6 .3,-4.4 .4,6.3 .3,-9.9 .4,1.4 .3,-1.7 .4,3.1 .3,0 .4,-.7 .3,3 .4,3.5 .3,.9 .4,-5.6 .3,1.6 .4,-.3 .3,1 .4,-1.4 .3,-1.5 .4,-2.4 .3,3.2 .4,2.5 .3,1.7 .4,-5.2 .3,4.9 .4,-4.3 .3,-.8 .4,1.3 .3,-1.5 .4,2.3 .3,-1.9 .4,-1.1 .3,3.9 .4,-1.5 .3,2.5 .4,-3.5 .3,-.3 .4,2.3 .3,-1.1 .4,1.4 .3,0 .4,.7 .3,1.9 .4,-3.1 .3,-.9 .4,.4 .3,-.1 .4,-2.9 .3,2.9 .4,2.1 .3,-1.5 .4,2.4 .3,-2.8 .4,2.7 .3,-4.1 .4,-1 .3,.4 .4,1.8 .3,-1.5 .4,-.4 .3,0 .4,-1.2 .3,-1.2 .4,4.1 .3,-3.1 .4,1.3 .3,-.9 .4,-.4 .3,2 .4,-.4 .3,1.5 .4,.3 .3,0 .4,2.7 .3,-4.8 .4,1.3 .3,-.1 .4,-5.4 .3,8 .4,-1 .3,-2.5 .4,-.6 .3,-.4 .4,-.3 .3,2.4 .4,-2.8 .3,.5 .4,-1.2 .3,.4 .4,-.2 .3,3.9 .4,.7 .3,-.8 .4,0 .3,-1.3 .4,1.6 .3,2.4 .4,-1.6 .3,-.7 .4,.5 .3,2.9 .4,-3.6 .3,-6 .4,2.4 .3,1.5 .4,1 .3,.4 .4,5.2 .3,-4.2 .4,-.1 .3,.5 .4,-3.4 .3,-1.7 .4,4.7 .3,-5.5 .4,-.7 .3,5.5 .4,.9 .3,2.6 .4,-6.7 .3,-.9 .4,.1 .3,1.8 .4,3.8 .3,-1.5 .4,-1.2 .3,.5 .4,1.6 .3,-1.4 .4,-1.2" fill="none" stroke-width="1.8" stroke-linejoin="round"/>
<path d="M33.8,753.0l.4,.5 .3,.8 .3,-2.1 .4,.2 .4,-2.3 .3,0 .4,1.3 .3,.2 .4,-.9 .3,1.4 .4,2.3 .3,-2.5 .4,-1.6 .3,3 .4,-2.1 .3,-1.4 .4,2.2 .3,2.4 .4,-3.8 .3,-1.8 .4,1.2 .3,2.6 .4,-3.2 .3,.2 .4,2.6 .3,-1.3 .4,-.1 .3,2.6 .4,-1.5 .3,-.2 .4,.1 .3,1 .4,-.8 .3,-.8 .4,1.5 .3,-2.5 .4,1.6 .3,-1.7 .4,2.9 .3,2.7 .4,-3.3 .3,-1.9 .4,1.7 .3,.9 .4,-3 .3,.8 .4,.3 .3,.2 .4,-1.5 .3,1 .4,1.4 .3,.9 .4,-.2 .3,-.4 .4,-4 .3,.2 .4,.7 .3,-.3 .4,-1.9 .3,4.2 .4,3.4 .3,0 .4,1 .3,-6.5 .4,1.4 .3,3.5 .4,-1.5 .3,.4 .4,2 .3,-1.5 .4,-1.4 .3,-3.3 .4,5.3 .3,.7 .4,-.7 .3,-4.3 .4,-2.1 .3,2 .4,.4 .3,2.8 .4,-2.7 .3,1 .4,.3 .3,2.2 .4,-1.2 .3,1.4 .4,-1.3 .3,-.2 .4,-5.3 .3,3.1 .4,.2 .3,1.1 .4,.9 .3,-1.3 .4,-3.6 .3,1.3 .4,1.8 .3,-2.5 .4,1.6 .3,5.2 .4,-4 .3,-1.5 .4,-.6 .3,4.4 .4,-2 .3,8.9 .4,18.7 .3,22.8 .4,17.2 .3,16.3 .4,4.2 .3,7.9 .4,6.3 .3,3.5 .4,.3 .3,.1 .4,.8 .3,-3.6 .4,-2.8 .3,3.6 .4,-2.6 .3,-2.6 .4,-2.1 .3,-1.8 .4,-2.7 .3,-1.5 .4,-5.2 .3,-2.5 .4,-4.7 .3,-.1 .4,1.5 .3,-6.3 .4,-.9 .3,4.1 .4,-2.8 .3,1.7 .4,-7.3 .3,.4 .4,-4 .3,2 .4,-3.5 .3,-3.3 .4,1.4 .3,-.9 .4,-5.4 .3,5.2 .4,-5.3 .3,-3.4 .4,1.2 .3,.6 .4,-3.9 .3,-.8 .4,-4.2 .3,2.1 .4,-2.3 .3,1.4 .4,-2.7 .3,.1 .4,-3.1 .3,1.6 .4,-2.9 .3,1.1 .4,-.2 .3,-4.6 .4,5.3 .3,-7.4 .4,1.4 .3,-2.2 .4,2.8 .3,-2.1 .4,3.3 .3,-3.2 .4,-1.3 .3,-2.1 .4,-4.2 .3,1.8 .4,-.3 .3,1.8 .4,.2 .3,-.1 .4,-.6 .3,-1.9 .4,-1.2 .3,1.7 .4,-2.6 .3,-3.4 .4,5.9 .3,-2.3 .4,-3.4 .3,-4.5 .4,-.5 .3,2.4 .4,1.5 .3,-4 .4,-1.8 .3,4.7 .4,-3.9 .3,1.3 .4,1.4 .3,1.8 .4,-.4 .3,-2.5 .4,-.7 .3,.3 .4,-.3 .3,-.3 .4,-1.2 .3,2.9 .4,-2.2 .3,.3 .4,-2.2 .3,3.8 .4,.3 .3,-2.7 .4,.7 .3,-.2 .4,-4.8 .3,3.9 .4,-1.4 .3,-3.1 .4,-1.1 .3,5.1 .4,-2.7 .3,1.7 .4,3 .3,-5.7 .4,-.9 .3,1.7 .4,-2.8 .3,1.9 .4,-.7 .3,.9 .4,-3.5 .3,1.6 .4,3.1 .3,-2 .4,.1 .3,.3 .4,1.2 .3,.3 .4,1 .3,-5.1 .4,2.1 .3,1.8 .4,-2.8 .3,-1 .4,-1 .3,.4 .4,-1.4 .3,4.9 .4,-2.1 .3,-.3 .4,.3 .3,-2.3 .4,-.7 .3,4 .4,-2.6 .3,1.7 .4,-2.7 .3,2.5 .4,.8 .3,-1.5 .4,-1.2 .3,.6 .4,-.4 .3,-.3 .4,3.8 .3,-3.9 .4,-3.7 .3,1.3 .4,-.5 .3,.2 .4,3.7 .3,-2 .4,-2 .3,-3.1 .4,4.3 .3,1.2 .4,-.4 .3,.5 .4,1.9 .3,-4.4 .4,4 .3,4.9 .4,-3.6 .3,-2.6 .4,1 .3,-2 .4,.5 .3,0 .4,-1.2 .3,0 .4,-3.4 .3,.5 .4,4.9 .3,-1.4 .4,-2.8 .3,5.6 .4,-1.1 .3,-4.1 .4,-1.3 .3,1 .4,-.3 .3,2.9 .4,.6 .3,-2.8 .4,-.7 .3,-.7 .4,-.1 .3,-2.6 .4,4.2 .3,-2 .4,3.4 .3,4.1 .4,-5.4 .3,3.3 .4,-4.2 .3,2.9 .4,-1 .3,-2.6 .4,-2.5 .3,1.9 .4,1.8 .3,-3.4 .4,1.2 .3,2.3 .4,-.5 .3,-.4 .4,-1.6 .3,3.8 .4,1.9 .3,-1.7 .4,-3.7 .3,.7 .4,3.1 .3,-2.9 .4,1 .3,-.8 .4,6.2 .3,-4.2 .4,-2.4 .3,-.1 .4,2.6 .3,-3.5 .4,2.6 .3,-.4 .4,-1.7 .3,2 .4,2.3 .3,-5.3 .4,-.3 .3,2 .4,-.7 .3,2.1 .4,-6.7 .3,2.9 .4,-1 .3,.9 .4,.8 .3,-.1 .4,2.1 .3,0 .4,-.2 .3,.6 .4,-4.6 .3,4.1 .4,-1.3 .3,3.2 .4,-6.1 .3,.8 .4,3.9 .3,-9.4 .4,7.9 .3,-2.1 .4,3.2 .3,-.4 .4,3.1 .3,-1.9 .4,0 .3,-.8 .4,2.5 .3,-1.8 .4,-1 .3,-1.4 .4,1.8 .3,-1.3 .4,1 .3,-2 .4,.4 .3,-.2 .4,-1.2 .3,2.5 .4,1.2 .3,-3.8 .4,2.6 .3,-3.2 .4,2 .3,2.4 .4,-1.5 .3,-3.1 .4,-.1 .3,-1.2 .4,2.3 .3,.8 .4,1.3 .3,-.1 .4,-.3 .3,-1.4 .4,.4 .3,2.5 .4,-3.8 .3,2.1 .4,-3.9 .3,1.4 .4,-.7 .3,3.3 .4,2.4 .3,-4.3 .4,2.1 .3,.1 .4,-.9 .3,1.4 .4,3.1 .3,-2.7 .4,1.9 .3,-2.7 .4,3 .3,-3.5 .4,.7 .3,-2.2 .4,3.7 .3,-.7 .4,3.5 .3,-5 .4,.3 .3,1.8 .4,-1.7 .3,1.5 .4,1.4 .3,-1.3 .4,2.1 .3,-1.6 .4,-2.8 .3,1.8 .4,1.1 .3,2.7 .4,-2.8 .3,3.8 .4,-.8 .3,-.3 .4,-1.2 .3,-1.2 .4,-2.2 .3,-.4 .4,1.3 .3,-.9 .4,1.6 .3,-.2 .4,.9 .3,-2.2 .4,-2 .3,5 .4,-3.4 .3,2.9 .4,-.6 .3,1.1 .4,.5 .3,1.1 .4,-6 .3,-.3 .4,3.3 .3,-5.8 .4,6.8 .3,.8 .4,-1.5 .3,1 .4,.6 .3,-2.5 .4,3.5 .3,-2.6 .4,1.3 .3,-3.8 .4,2.7 .3,.8 .4,-3.6 .3,-.1 .4,-1.6 .3,2 .4,-.7 .3,2.9 .4,.8 .3,-.2 .4,-.3 .3,-1 .4,-1.4 .3,.2 .4,1.8 .3,1.2 .4,-1.2 .3,.2 .4,3.5 .3,-4.8 .4,.9 .3,.5 .4,1.1 .3,1.6 .4,.9 .3,-2.3 .4,-2.9 .3,-1.3 .4,-1.9 .3,4.7 .4,.1 .3,.5 .4,-1.7 .3,1.8 .4,-.8 .3,-1.3 .4,2.6 .3,-3 .4,3.6 .3,1.4 .4,-1.3 .3,-2 .4,3.9 .3,-5.3 .4,.1 .3,4.2 .4,-5 .3,2.6 .4,-1.1 .3,-1.1 .4,.3 .3,-1.9 .4,3.6 .3,-3.3 .4,4.8 .3,-3.9 .4,-1 .3,.5 .4,1.7 .3,.4 .4,.1 .3,.7 .4,-3.1 .3,.8 .4,1.6 .3,1.5 .4,.5 .3,-5.2 .4,3.8 .3,.7 .4,.7 .3,1.2 .4,-5.8 .3,2.6 .4,.7 .3,.4 .4,2.8 .3,-3.5 .4,-1.4 .3,1.3 .4,.3 .3,2.2 .4,-2.5 .3,-2.4 .4,2 .3,-3.9 .4,4.4 .3,-1.5 .4,2.7 .3,-1.9 .4,-2.2 .3,4 .4,-2.9 .3,2.3 .4,-.8 .3,-1 .4,2.2 .3,-2.7 .4,-2.5 .3,1.1 .4,.5 .3,.8 .4,-1 .3,3.6 .4,2.1 .3,-3.7 .4,.9 .3,1.9 .4,-1.3 .3,-1.1 .4,.8 .3,-3.5 .4,2.3 .3,-1.6 .4,-.3 .3,2 .4,1.5 .3,.1 .4,3.4 .3,-1.4 .4,-3.8 .3,.7 .4,-1.1 .3,3.5 .4,-2.7 .3,1.4 .4,2.9 .3,-2 .4,-4.7 .3,-1.2 .4,9.6 .3,19.4 .4,24.8 .3,21 .4,17.6 .3,13 .4,3.4 .3,9.8 .4,-1.8 .3,3.2 .4,3.9 .3,-7.6 .4,.3 .3,-1.1 .4,-1.3 .3,-5.3 .4,-2.2 .3,.1 .4,-2.3 .3,-2.2 .4,-6 .3,1.9 .4,-4.7 .3,-.2 .4,-2.6 .3,-.9 .4,-.7 .3,-7.7 .4,.4 .3,-1.5 .4,-3.8 .3,-1.7 .4,-1.3 .3,-2.6 .4,-2.2 .3,-1 .4,-3.5 .3,-.5 .4,-5.1 .3,-.9 .4,.5 .3,3.5 .4,-2.1 .3,-3.2 .4,-1 .3,-2.4 .4,.7 .3,-.8 .4,-5.6 .3,1 .4,-2.4 .3,-3 .4,2.4 .3,-4 .4,4.8 .3,-5.4 .4,1.3 .3,1.1 .4,.3 .3,-6.6 .4,-2.6 .3,-1.6 .4,.6 .3,2.2 .4,.2 .3,-3.3 .4,4.1 .3,-2.9 .4,-1.7 .3,-.4 .4,-1.2 .3,-1 .4,3.5 .3,-6 .4,2.6 .3,-.7 .4,-4.2 .3,-.8 .4,3 .3,-3.7 .4,-.1 .3,-.8 .4,-4.3 .3,3.1 .4,-1.3 .3,.2 .4,2.5 .3,1.9 .4,1.7 .3,-2.5 .4,-3.2 .3,-.4 .4,3.1 .3,-4.1 .4,-3.4 .3,6.7 .4,-6.1 .3,-2.7 .4,.3 .3,2 .4,3.5 .3,-2 .4,2.4 .3,-6 .4,-1 .3,1.4 .4,-1.6 .3,1.1 .4,-1.2 .3,-1.8 .4,4.3 .3,-3.8 .4,6.7 .3,-3.7 .4,1.6 .3,-.6 .4,-5 .3,-1.8 .4,2.3 .3,-1.5 .4,4.4 .3,-3.9 .4,1.2 .3,.2 .4,-4.2 .3,1.6 .4,.7 .3,-1 .4,1.7 .3,-2.3 .4,1.7 .3,-.8 .4,-2.2 .3,4.8 .4,-2 .3,1.6 .4,-1.9 .3,.3 .4,-4.4 .3,.6 .4,8.4 .3,-4.8 .4,0 .3,1.6 .4,1.2 .3,-2 .4,-.1 .3,-.1 .4,-4.2 .3,2.6 .4,-1.8 .3,.7 .4,-.2 .3,-.4 .4,.2 .3,1.7 .4,-1.8 .3,2 .4,-3.4 .3,-1.6 .4,-1.8 .3,2.6 .4,-2.1 .3,4.3 .4,-.2 .3,-2 .4,2.3 .3,-5.8 .4,2.8 .3,1.1 .4,-2.5 .3,-.1 .4,1 .3,2.2 .4,-2.8 .3,2.9 .4,-.9 .3,2.3 .4,-3.5 .3,-.9 .4,-.4 .3,3.2 .4,-3.6 .3,-1.4 .4,1.5 .3,6.2 .4,-1 .3,-3.8 .4,1.2 .3,1.9 .4,-1.8 .3,-3.1 .4,.7 .3,2.2 .4,1.5 .3,1 .4,.3 .3,-3.2 .4,-.4 .3,2.6 .4,-1.8 .3,-.4 .4,-2.9 .3,.1 .4,2.7 .3,-2.2 .4,.4 .3,-1.8 .4,4.8 .3,5.2 .4,-3 .3,-6.7 .4,3 .3,-3.9 .4,2.7 .3,.9 .4,-.4 .3,1.4 .4,1.6 .3,-2.6 .4,1.1 .3,.8 .4,-.5 .3,1.1 .4,.6 .3,-.2 .4,-5.8 .3,1.4 .4,0 .3,-2.1 .4,.4 .3,3 .4,-3.1 .3,2.5 .4,-.9 .3,2 .4,-2.7 .3,1.5 .4,-.4 .3,1.3 .4,-1.5 .3,6.1 .4,-5.5 .3,.6 .4,2 .3,.1 .4,.5 .3,-2.2 .4,-2.9 .3,.9 .4,-.5 .3,4.5 .4,-1.4 .3,.1 .4,1.4 .3,-1.6 .4,1.8 .3,-1 .4,-.1 .3,3.1 .4,-3.6 .3,-1.8 .4,2.9 .3,-3.1 .4,-.6 .3,1.2 .4,.2 .3,-1.4 .4,2.9 .3,.4 .4,1.6 .3,1.3 .4,-6.9 .3,5.8 .4,-2.8 .3,.9 .4,-2.4 .3,.8 .4,-3.6 .3,1.5 .4,2.6 .3,-4.2 .4,1.5 .3,3.4 .4,-2.2 .3,3.3 .4,-2.6 .3,3 .4,.3 .3,-2.2 .4,5.4 .3,-4.1 .4,6.7 .3,-5 .4,-2.1 .3,.6 .4,.9 .3,-1.5 .4,1.4 .3,-2.4 .4,-1.9 .3,1.8 .4,1.1 .3,1 .4,-1.2 .3,-.6 .4,1.2 .3,3.7 .4,-6.5 .3,5.3 .4,-4.5 .3,.7 .4,2.3 .3,-1.1 .4,-3.7 .3,3.5 .4,0 .3,-2.6 .4,-2.4 .3,1.9 .4,.8 .3,-.1 .4,-.4 .3,1.4 .4,3.7 .3,-3.3 .4,2.3 .3,-2 .4,.4 .3,-4.6 .4,7.7 .3,-1.8 .4,-1.2 .3,-1.4 .4,2.5 .3,0 .4,.4 .3,-.4 .4,.6 .3,-.4 .4,-2.3 .3,-2.5 .4,1.1 .3,3.5 .4,2.2 .3,1.5 .4,-4.3 .3,-2.2 .4,3.9 .3,-4.1 .4,.9 .3,.8 .4,-1.5 .3,0 .4,2.2 .3,-1.8 .4,-1.4 .3,4.2 .4,-3.3 .3,-.3 .4,1.8 .3,-4.1 .4,4 .3,-.2 .4,1 .3,1.6 .4,-1.6 .3,6 .4,-5.3 .3,1.3 .4,-.2 .3,-3.3 .4,1.5 .3,1.2 .4,-2.7 .3,3.1 .4,-2.2 .3,-.8 .4,-.7 .3,.4 .4,3.9 .3,-6.1 .4,1.2 .3,-2.1 .4,5.5 .3,1.1 .4,-3.1 .3,4.1 .4,-3.4 .3,-.1 .4,-4.4 .3,6.1 .4,-1.7 .3,.4 .4,-2.8 .3,3 .4,.8 .3,1.4 .4,-1.5 .3,-.8 .4,.8 .3,-1.7 .4,-1.5 .3,.7 .4,-1.6 .3,.2 .4,2.3 .3,-3.2 .4,2.2 .3,-2.6 .4,.3 .3,2.9 .4,-1.5 .3,3.7 .4,-3.4 .3,-1.2 .4,1.3 .3,-.1 .4,.8 .3,.1 .4,2.3 .3,-3.1 .4,.2 .3,-.1 .4,.9 .3,2.6 .4,-3 .3,3 .4,-2.4 .3,-.7 .4,-1.3 .3,.3 .4,-.4" fill="none" stroke-width="1.8" stroke-linejoin="round"/>
<path d="M33.8,752.6l.4,2 .3,-1 .3,-3.4 .4,2.4 .4,-4.3 .3,.3 .4,2.1 .3,.2 .4,-.2 .3,3.7 .4,-3.9 .3,1 .4,.7 .3,-.8 .4,.6 .3,-3.8 .4,1 .3,1 .4,1.6 .3,2.4 .4,-.3 .3,-5 .4,1.3 .3,-2.5 .4,3.7 .3,-3.2 .4,-1.2 .3,-1.6 .4,-.8 .3,4 .4,2.8 .3,.4 .4,-1.1 .3,-2.1 .4,.1 .3,2.5 .4,-1.3 .3,1.7 .4,-3.6 .3,2 .4,-.8 .3,.5 .4,-.5 .3,1.5 .4,-1 .3,.2 .4,-.5 .3,1.2 .4,3.7 .3,-2.5 .4,.3 .3,1.2 .4,-.4 .3,-5 .4,3.8 .3,-2.1 .4,.7 .3,.1 .4,-.2 .3,1.1 .4,-.9 .3,-2.9 .4,.6 .3,3.1 .4,-2.3 .3,.1 .4,-3.3 .3,4.2 .4,1.1 .3,-1.5 .4,-2.4 .3,3.5 .4,-.2 .3,.3 .4,.6 .3,-2.6 .4,.2 .3,-.9 .4,.5 .3,-.8 .4,-1.6 .3,1.5 .4,.1 .3,3.6 .4,-1.1 .3,-1.3 .4,-1.3 .3,.3 .4,.4 .3,-2.4 .4,4.9 .3,2.6 .4,-6.6 .3,4.6 .4,-1.8 .3,-.7 .4,-1.8 .3,.3 .4,3.1 .3,-.3 .4,-3.5 .3,-1.7 .4,4.7 .3,-4.5 .4,2.6 .3,7.6 .4,15 .3,22.3 .4,10.2 .3,10.3 .4,8.9 .3,3.4 .4,3.3 .3,5.8 .4,-3.2 .3,2.2 .4,2.4 .3,-2.2 .4,-3.1 .3,1.2 .4,-4.2 .3,-2.5 .4,.1 .3,-.8 .4,-2 .3,0 .4,-4.2 .3,-1.4 .4,-7.6 .3,2.5 .4,-2.7 .3,1.4 .4,-5.6 .3,8.5 .4,-3.8 .3,1 .4,-7.5 .3,-.7 .4,1.1 .3,-2.7 .4,-1.2 .3,-3.1 .4,-2.8 .3,.8 .4,1.3 .3,1.5 .4,-2.4 .3,-1.7 .4,-3.1 .3,.8 .4,.6 .3,-4.9 .4,1.1 .3,-1.6 .4,-1.4 .3,2.4 .4,-3 .3,-1.1 .4,-1 .3,.4 .4,-.5 .3,-3.9 .4,-.2 .3,.8 .4,-.4 .3,.4 .4,-1 .3,-3.8 .4,1.9 .3,-2.3 .4,3.3 .3,-1.5 .4,-.3 .3,.8 .4,-2.9 .3,-.6 .4,-2 .3,-2.6 .4,2.5 .3,-1.6 .4,3.5 .3,1 .4,-4.1 .3,-.8 .4,1.7 .3,-5.9 .4,4 .3,-2.5 .4,1.8 .3,2 .4,-.7 .3,.9 .4,-4.6 .3,-1 .4,-.1 .3,.6 .4,-2.4 .3,2.7 .4,-3.2 .3,1.1 .4,-.2 .3,2.5 .4,-2.5 .3,0 .4,-.1 .3,-.8 .4,-1.8 .3,2.7 .4,.8 .3,-.3 .4,-2.5 .3,-1.1 .4,-1.2 .3,1.7 .4,4 .3,-2.6 .4,-6.5 .3,4.4 .4,1.2 .3,-2.9 .4,5.4 .3,-6.4 .4,-.8 .3,3.3 .4,0 .3,1.3 .4,-2.3 .3,2.5 .4,-3.1 .3,-.2 .4,-3.2 .3,3.1 .4,-1 .3,4.8 .4,-1.9 .3,1.7 .4,-6.5 .3,5.5 .4,-1 .3,-.2 .4,4.6 .3,-3 .4,-.3 .3,.3 .4,-4.5 .3,1.4 .4,-1.4 .3,6.3 .4,-5.8 .3,-.1 .4,6.5 .3,-1.9 .4,-1.7 .3,.9 .4,-4.4 .3,1.3 .4,-2 .3,3.7 .4,-4.6 .3,-4.1 .4,1.8 .3,3.8 .4,.8 .3,.8 .4,.3 .3,-1.4 .4,-.6 .3,-1 .4,-2 .3,.9 .4,-.6 .3,3.6 .4,-4.7 .3,4.7 .4,-1.5 .3,.5 .4,-2.7 .3,.5 .4,.1 .3,1.2 .4,6.3 .3,-9.7 .4,5.4 .3,-3.2 .4,-.3 .3,1.4 .4,1.3 .3,-.3 .4,1.8 .3,-3 .4,.7 .3,3.4 .4,-4.3 .3,2.8 .4,-5.5 .3,4.7 .4,-1.4 .3,1.3 .4,.1 .3,-1.2 .4,.2 .3,-1.9 .4,1.6 .3,.3 .4,-2.8 .3,1.9 .4,-.7 .3,1.8 .4,-2.3 .3,2.5 .4,-2.7 .3,1.7 .4,1.2 .3,1.6 .4,-.7 .3,-3.5 .4,2.6 .3,-.8 .4,-1.2 .3,.2 .4,.2 .3,2.8 .4,-4.8 .3,3.1 .4,3.3 .3,-2.5 .4,-2.2 .3,1.7 .4,-1.1 .3,.6 .4,-3.1 .3,-.3 .4,-1.5 .3,3 .4,3 .3,-2.9 .4,3.3 .3,-3.1 .4,5.1 .3,2.4 .4,-.7 .3,-4.4 .4,1.6 .3,-3.3 .4,1.1 .3,-2.9 .4,2.5 .3,-.8 .4,-1 .3,5.8 .4,.4 .3,-3.8 .4,1.7 .3,-3.3 .4,.8 .3,2 .4,-1.9 .3,2.8 .4,1.6 .3,-6.1 .4,4.7 .3,-2.3 .4,3.6 .3,-2.5 .4,-1.1 .3,1.5 .4,-2.6 .3,-2.2 .4,.9 .3,2.9 .4,-1.3 .3,-.8 .4,1.6 .3,-1.6 .4,-2.7 .3,.4 .4,.7 .3,1.1 .4,1.5 .3,.7 .4,-4.2 .3,2.2 .4,-3.5 .3,2.4 .4,2.7 .3,2.3 .4,-4.5 .3,-.1 .4,1.1 .3,-2.7 .4,-1.9 .3,3.8 .4,1.1 .3,-.6 .4,-4.7 .3,4.7 .4,-5.2 .3,2.7 .4,3.3 .3,-1.7 .4,1.6 .3,1.4 .4,-2.6 .3,-1.5 .4,-1.5 .3,5.2 .4,-2.3 .3,4.2 .4,-5 .3,1.8 .4,-1.1 .3,-.3 .4,-5.1 .3,2 .4,6.4 .3,-6.4 .4,1.1 .3,1.2 .4,.6 .3,3 .4,-3.4 .3,.3 .4,-2 .3,2.7 .4,-1.8 .3,-.5 .4,-.7 .3,.9 .4,1.3 .3,-5.8 .4,3.9 .3,3 .4,2.2 .3,-3.7 .4,4.4 .3,-1.4 .4,2.3 .3,-1.1 .4,-6.1 .3,3.4 .4,-3.8 .3,1.8 .4,-1.3 .3,-.6 .4,3.8 .3,-3.5 .4,1.2 .3,-.8 .4,-2.2 .3,3.1 .4,-.9 .3,2.1 .4,.4 .3,-1.4 .4,.7 .3,-.6 .4,2.8 .3,-1.7 .4,.3 .3,-.1 .4,-1.5 .3,.6 .4,.7 .3,.3 .4,1.7 .3,4.5 .4,-5.9 .3,3.3 .4,-6.1 .3,-1 .4,3.9 .3,-3.8 .4,3.9 .3,-1.2 .4,.9 .3,2.6 .4,-4.3 .3,2.3 .4,-.8 .3,1.5 .4,-3.5 .3,1.4 .4,1.8 .3,1.5 .4,-1.9 .3,-.6 .4,.6 .3,-2 .4,2 .3,-2.8 .4,5.1 .3,-3.3 .4,5.1 .3,-2 .4,-.9 .3,1.4 .4,.9 .3,.1 .4,-1.5 .3,3.2 .4,-3.5 .3,-2.8 .4,-.1 .3,3.8 .4,-3 .3,.9 .4,0 .3,-1.1 .4,-2.4 .3,1 .4,.5 .3,3.8 .4,-1 .3,-.5 .4,-1.2 .3,3.3 .4,-.7 .3,-3.5 .4,2.4 .3,.2 .4,-.9 .3,3.7 .4,-4.8 .3,-2.7 .4,-.1 .3,4.3 .4,-2.3 .3,.7 .4,2 .3,-1 .4,-2 .3,2.8 .4,-.1 .3,-1.8 .4,-1 .3,-.2 .4,3.6 .3,-.6 .4,-2.1 .3,.6 .4,3.8 .3,-4.9 .4,4.4 .3,-.9 .4,-6.2 .3,2.4 .4,-3.1 .3,7.3 .4,-3.6 .3,-.5 .4,5 .3,1.7 .4,-5.8 .3,-6.2 .4,4.1 .3,2.4 .4,0 .3,1.6 .4,-3.4 .3,-1.4 .4,6.1 .3,-.6 .4,-2.6 .3,2.3 .4,2.6 .3,-5.2 .4,.2 .3,1.1 .4,-1.8 .3,-.2 .4,-.6 .3,2.9 .4,-.6 .3,.1 .4,1 .3,-2.7 .4,1.6 .3,.8 .4,.2 .3,-1.2 .4,3.6 .3,-6.4 .4,2.2 .3,-1.3 .4,1.3 .3,2 .4,-.8 .3,-.4 .4,-1.2 .3,-.6 .4,-.6 .3,5.6 .4,-1.1 .3,-.3 .4,-2.6 .3,.1 .4,3.6 .3,-4.5 .4,1.1 .3,-2.4 .4,2.2 .3,.2 .4,1.9 .3,-1.8 .4,1.5 .3,-2.4 .4,2.5 .3,-2.1 .4,1.1 .3,2.2 .4,-4.1 .3,1 .4,1 .3,-.4 .4,-1.5 .3,-3.6 .4,-.3 .3,5.6 .4,2.8 .3,-.6 .4,-1.5 .3,-1.4 .4,.5 .3,-1.3 .4,2.4 .3,-3.2 .4,3.8 .3,-1.2 .4,0 .3,2 .4,-.7 .3,1.4 .4,-.4 .3,-1.5 .4,1.8 .3,.1 .4,-3.1 .3,.5 .4,2.5 .3,-1.1 .4,1.4 .3,-3.8 .4,1.4 .3,3.5 .4,-2.3 .3,2.9 .4,-1.2 .3,-1.9 .4,1.5 .3,.7 .4,-.4 .3,-3.4 .4,3.7 .3,-4.4 .4,3.6 .3,-3.7 .4,.4 .3,.3 .4,2 .3,-4.9 .4,2.9 .3,-.9 .4,2 .3,2.4 .4,.2 .3,-3.5 .4,-.5 .3,-2.4 .4,2.4 .3,3.7 .4,-3.3 .3,.7 .4,-1.7 .3,2.4 .4,4.1 .3,-7.8 .4,3.5 .3,.8 .4,-.2 .3,-1.6 .4,-1.9 .3,-3.6 .4,3.4 .3,.4 .4,2.3 .3,-.2 .4,1.7 .3,-.3 .4,.1 .3,0 .4,3.7 .3,-2.3 .4,-.2 .3,1.8 .4,-.8 .3,-1.1 .4,-2.5 .3,-1.6 .4,.8 .3,-.1 .4,2.3 .3,-.9 .4,-2.3 .3,3.1 .4,-.9 .3,-.9 .4,1.3 .3,.2 .4,1.8 .3,-2 .4,.9 .3,.2 .4,-.6 .3,1.4 .4,14.1 .3,17.7 .4,20 .3,13.1 .4,8.8 .3,9.6 .4,2.2 .3,7.3 .4,.2 .3,-2.3 .4,2.5 .3,-1.8 .4,-1.5 .3,-3.5 .4,-1.1 .3,-6.2 .4,-2.5 .3,3.1 .4,-4.1 .3,-1.1 .4,-.4 .3,-1.1 .4,-2.1 .3,-8.3 .4,5 .3,-2.5 .4,-2.6 .3,-1.5 .4,-2.8 .3,-.9 .4,-2.9 .3,-1.9 .4,.8 .3,-2.5 .4,.2 .3,-.9 .4,-3.6 .3,1.4 .4,-2.9 .3,3.7 .4,-7.1 .3,.2 .4,-1.1 .3,2 .4,-3.3 .3,-2.8 .4,.5 .3,-3.1 .4,-.4 .3,.4 .4,-4.2 .3,3.2 .4,-1.1 .3,-1.7 .4,-1.4 .3,.6 .4,.3 .3,-5.7 .4,-.1 .3,-2.4 .4,3.8 .3,-2.6 .4,-2.8 .3,.7 .4,1.2 .3,-6.3 .4,4.1 .3,-5.4 .4,2.9 .3,-1.6 .4,2.3 .3,.9 .4,-2.6 .3,.3 .4,2.5 .3,-4.8 .4,1.2 .3,3.7 .4,-5 .3,.9 .4,-4.1 .3,1.2 .4,-2.6 .3,1.2 .4,.5 .3,-1.2 .4,-.6 .3,1.2 .4,.4 .3,-1.1 .4,-2.6 .3,2.9 .4,-1.7 .3,-.2 .4,.2 .3,-2.7 .4,3.5 .3,-4.2 .4,4.1 .3,-2.1 .4,-2.6 .3,.5 .4,-2.2 .3,.3 .4,-2.3 .3,-.9 .4,3.3 .3,3.6 .4,-2.2 .3,.2 .4,.2 .3,-.5 .4,-.9 .3,-.4 .4,-4.1 .3,7.2 .4,-5.3 .3,2.6 .4,-5.7 .3,2.1 .4,3.7 .3,-2 .4,1.4 .3,1.7 .4,-2.9 .3,-1 .4,.3 .3,-6.1 .4,5.6 .3,-3.6 .4,2.8 .3,2.2 .4,-3.9 .3,3.5 .4,-1.3 .3,-.4 .4,-2 .3,-.3 .4,3 .3,-1.7 .4,1.8 .3,-1.5 .4,-4.2 .3,-.7 .4,1.9 .3,2.1 .4,-.8 .3,0 .4,3.2 .3,-4.4 .4,1.9 .3,-.2 .4,3.1 .3,.1 .4,-1.6 .3,.4 .4,1.4 .3,-1.8 .4,1.1 .3,-3.5 .4,1.6 .3,0 .4,-2.5 .3,-.3 .4,-1.8 .3,3.3 .4,-1.7 .3,-.4 .4,-.6 .3,.1 .4,3.1 .3,-1.6 .4,3.7 .3,-1.7 .4,3 .3,-2.5 .4,.4 .3,-3.2 .4,1 .3,-1 .4,-.8 .3,1.4 .4,.3 .3,-.6 .4,-1.7 .3,1.1 .4,2.3 .3,-.1 .4,.8 .3,1.8 .4,-2 .3,-1.2 .4,-1.1 .3,-4.8 .4,1.6 .3,1.7 .4,-.2 .3,2.5 .4,-1.9 .3,.4 .4,-2 .3,5.4 .4,.1 .3,-.5 .4,-4.1 .3,.1 .4,-.4 .3,-2.2 .4,4.8 .3,-.1 .4,-1.2 .3,-2.7 .4,4.5 .3,-6.6 .4,1.6 .3,.2 .4,1.5 .3,-1.2 .4,-.7 .3,2.5 .4,1.9 .3,5.2 .4,-7.4 .3,3.1 .4,-2.8 .3,3.2 .4,-3.5 .3,1.2 .4,1.2 .3,-2.7 .4,4.3 .3,-1 .4,-1.8 .3,2 .4,-.6 .3,.5 .4,-4.2 .3,6.4 .4,-7.4 .3,5.6 .4,-3.7 .3,.3 .4,2.6 .3,-1.8 .4,-3.5 .3,2.6 .4,-.8 .3,.4 .4,-.7 .3,3.4 .4,-2.1 .3,2.4 .4,1.3 .3,.9 .4,-1.7 .3,-4.9 .4,2.7 .3,-.2 .4,-1.9 .3,4.2 .4,-.6 .3,-1.4 .4,.6 .3,.2 .4,.4 .3,-.2 .4,1.9 .3,.5 .4,-1 .3,-2.3 .4,-2 .3,-1.6 .4,1.5 .3,3.5 .4,-4.3 .3,1.5 .4,-.5 .3,3 .4,.1 .3,1.6 .4,-2.2 .3,-1.4 .4,-1.5 .3,1.3 .4,-.4 .3,3.6 .4,-1.3 .3,2.6 .4,-2.4 .3,.3 .4,-2.2 .3,1.7 .4,.3 .3,-2.4 .4,1.9 .3,.8 .4,.3 .3,-3.9 .4,1 .3,1 .4,0 .3,-.4 .4,1.3 .3,-1.7 .4,1.1 .3,-2 .4,1.1 .3,.6 .4,-1.4 .3,2 .4,.1 .3,-1 .4,-.7 .3,-.3 .4,3.6 .3,-.7 .4,.3 .3,-2 .4,3.1 .3,-3.4 .4,-.2 .3,4.4 .4,-3.9 .3,-2.3 .4,.6 .3,1.5 .4,.4 .3,-1.2 .4,2.1 .3,.6 .4,.1" fill="none" stroke-width="1.8" stroke-linejoin="round"/>
<path d="M33.8,746.5l.4,-2.2 .3,-.1 .3,-.5 .4,-.3 .4,2.6 .3,-1.5 .4,-.9 .3,-2.9 .4,7 .3,-.5 .4,-2.4 .3,1.6 .4,-3.4 .3,1 .4,-2.1 .3,2.5 .4,-.1 .3,2.5 .4,-1.1 .3,1 .4,-1.8 .3,2.7 .4,-7.6 .3,4 .4,-.1 .3,-1 .4,3 .3,-1.3 .4,-1 .3,.4 .4,-1.9 .3,1.5 .4,3.7 .3,.2 .4,-3.7 .3,4.4 .4,-2 .3,-1.7 .4,6.4 .3,-4 .4,1.8 .3,-3 .4,1.3 .3,-1.2 .4,0 .3,-.4 .4,-3.1 .3,2.6 .4,1.6 .3,-2.1 .4,-2 .3,.7 .4,2.9 .3,-6 .4,3.8 .3,.3 .4,-.1 .3,3.7 .4,2.7 .3,-4.6 .4,-2 .3,2 .4,.1 .3,-.6 .4,-1.3 .3,4.3 .4,-.4 .3,-2.8 .4,3.2 .3,-3.4 .4,1.7 .3,-.6 .4,0 .3,-1.4 .4,2.6 .3,.7 .4,-1 .3,-1 .4,-1.2 .3,.1 .4,1 .3,-4.1 .4,-1.1 .3,5.3 .4,-3.8 .3,2.4 .4,-.3 .3,-.5 .4,.6 .3,.8 .4,-2.8 .3,.8 .4,2.5 .3,1.5 .4,.5 .3,-.4 .4,-.6 .3,0 .4,2.1 .3,-3.3 .4,3.8 .3,-6 .4,7.1 .3,-5.5 .4,1.6 .3,9.9 .4,12.9 .3,20.8 .4,17.8 .3,12.9 .4,8.7 .3,9.6 .4,3.1 .3,6.5 .4,.8 .3,-1.8 .4,2.5 .3,-5.3 .4,2.7 .3,-2.4 .4,-1.3 .3,-.8 .4,-2.9 .3,-3.6 .4,-1.6 .3,1.4 .4,-4.7 .3,-2.3 .4,-3.2 .3,-6 .4,3.1 .3,-1.5 .4,-2.9 .3,-5 .4,1.9 .3,5 .4,-9.2 .3,.7 .4,-3.2 .3,-2.2 .4,-3.9 .3,1 .4,-1.4 .3,-.9 .4,-4.6 .3,-.3 .4,-.5 .3,-1.2 .4,2.3 .3,-3.8 .4,3.7 .3,-5.3 .4,-.7 .3,-.8 .4,2.2 .3,-8.3 .4,3 .3,-3.5 .4,1.5 .3,-3.3 .4,2.6 .3,-4 .4,-5.9 .3,-1 .4,5.3 .3,0 .4,-.6 .3,-4.9 .4,-.6 .3,2.4 .4,-3.3 .3,2.9 .4,-3.1 .3,1.5 .4,-3.8 .3,2.2 .4,.6 .3,-.8 .4,-2.2 .3,.3 .4,-1.8 .3,-1.4 .4,-2.3 .3,3.1 .4,-1.3 .3,.3 .4,-1.3 .3,1.7 .4,-4.6 .3,1.2 .4,-.2 .3,.2 .4,-.3 .3,-.5 .4,-.3 .3,-3.6 .4,-1.4 .3,6.9 .4,-3 .3,-.8 .4,-.3 .3,.5 .4,-5.2 .3,5.8 .4,-2.2 .3,.9 .4,1.2 .3,-2.1 .4,-5.6 .3,-1.6 .4,4.4 .3,-2.8 .4,5.1 .3,-4.9 .4,1.3 .3,-.4 .4,-1.9 .3,2.9 .4,-3.2 .3,5.3 .4,-3.8 .3,-.4 .4,1.2 .3,.4 .4,-.8 .3,2.3 .4,-2.5 .3,-.9 .4,-1.4 .3,2.1 .4,-.1 .3,-.8 .4,2.3 .3,-3.2 .4,.2 .3,-1.1 .4,.4 .3,-1.5 .4,-1.4 .3,1.2 .4,-1.2 .3,4.7 .4,.3 .3,1.6 .4,-1.7 .3,.7 .4,1.6 .3,-3.6 .4,-.8 .3,-2.3 .4,2.2 .3,-3 .4,2.1 .3,-.2 .4,-4.6 .3,2.3 .4,2.8 .3,-1 .4,.6 .3,.8 .4,-.8 .3,-.8 .4,.4 .3,2.6 .4,-2.9 .3,-.1 .4,-1.6 .3,.1 .4,-1.4 .3,1.5 .4,3.4 .3,-1.1 .4,-3.2 .3,1.2 .4,3.4 .3,-2.1 .4,-1.3 .3,6.3 .4,-5.6 .3,2.8 .4,-2.1 .3,-1 .4,-3.1 .3,1.8 .4,.8 .3,.3 .4,2.3 .3,.6 .4,-1.8 .3,-3 .4,3.7 .3,-2.7 .4,3.1 .3,1.1 .4,-.3 .3,2.1 .4,-1.6 .3,-3.6 .4,1.9 .3,.9 .4,-4.6 .3,.5 .4,2.2 .3,-.2 .4,-.7 .3,-.7 .4,1.2 .3,.3 .4,-1.5 .3,2.5 .4,.2 .3,1.2 .4,-5.7 .3,3.9 .4,-1 .3,1.7 .4,-2.7 .3,-3.5 .4,2.5 .3,1.7 .4,-4 .3,1.4 .4,.6 .3,.2 .4,1.6 .3,.3 .4,-.3 .3,1.5 .4,-2.4 .3,.5 .4,.7 .3,2 .4,-1.5 .3,2.9 .4,.3 .3,-1 .4,2 .3,-3.5 .4,-1.8 .3,-1.3 .4,2.6 .3,-2.3 .4,-3.3 .3,5.4 .4,-4.3 .3,.4 .4,6.4 .3,-2.6 .4,-2.5 .3,1.9 .4,1.9 .3,-1.4 .4,-2.1 .3,-1.5 .4,4.7 .3,-3.3 .4,1.3 .3,-2.6 .4,3.5 .3,.2 .4,.9 .3,0 .4,-2.7 .3,-4.8 .4,4.9 .3,-2.8 .4,.5 .3,2.7 .4,-1.4 .3,2.5 .4,-.3 .3,-2 .4,4.4 .3,-5.5 .4,.6 .3,1.3 .4,.4 .3,-1.4 .4,2.2 .3,.9 .4,-3.5 .3,1 .4,-.9 .3,2.5 .4,.1 .3,-4 .4,1.7 .3,1.2 .4,3 .3,-3.4 .4,3.2 .3,-2 .4,-3.2 .3,1.6 .4,-.3 .3,-.3 .4,5.5 .3,-2.9 .4,-2.8 .3,7 .4,-1.7 .3,-.7 .4,-4.9 .3,3.3 .4,3.1 .3,-4.4 .4,-.6 .3,-2.2 .4,.8 .3,1.3 .4,.8 .3,-2.9 .4,-1.7 .3,2.2 .4,.5 .3,2.5 .4,.7 .3,-3 .4,-1 .3,3.6 .4,-6 .3,3.1 .4,-1.7 .3,6.1 .4,-.9 .3,-1.4 .4,1.4 .3,-2.6 .4,-.7 .3,1.2 .4,1.6 .3,.4 .4,.8 .3,-1.8 .4,-3 .3,.7 .4,1.5 .3,.7 .4,-2.4 .3,1.2 .4,-.5 .3,-2.4 .4,-.8 .3,3.8 .4,.1 .3,-2.3 .4,4.2 .3,0 .4,-.4 .3,-4.7 .4,3.5 .3,.2 .4,2.7 .3,-1.3 .4,-1.3 .3,-.2 .4,-1.9 .3,4 .4,-3.2 .3,0 .4,.4 .3,-.9 .4,-3.1 .3,6.3 .4,-3.9 .3,1.1 .4,-4.8 .3,3.1 .4,1.6 .3,-.9 .4,-.9 .3,3.6 .4,.3 .3,-3.8 .4,4.7 .3,-2.5 .4,1.8 .3,-.5 .4,-2.6 .3,1.4 .4,-1.6 .3,.7 .4,-1.8 .3,1 .4,.2 .3,-1 .4,1.9 .3,.5 .4,-2 .3,1.8 .4,-2.7 .3,.3 .4,2 .3,-2.9 .4,3.7 .3,.7 .4,-1.9 .3,.1 .4,-2.5 .3,3.2 .4,0 .3,-1.9 .4,3 .3,-1.2 .4,-.2 .3,1.4 .4,-.1 .3,.9 .4,.1 .3,-4.6 .4,3 .3,-4.6 .4,4.2 .3,-3.5 .4,5.2 .3,-1.3 .4,-2.5 .3,2.5 .4,4.3 .3,-.1 .4,-3.9 .3,1.9 .4,-2.4 .3,2.1 .4,-1.6 .3,-.9 .4,-.4 .3,4.3 .4,-4.1 .3,1.8 .4,2.3 .3,-3.6 .4,1.2 .3,-.7 .4,3.5 .3,-.3 .4,-4.3 .3,.3 .4,3.3 .3,-2.1 .4,1.3 .3,1.7 .4,-2.6 .3,.5 .4,-4.5 .3,2.2 .4,1.8 .3,0 .4,-.7 .3,-2 .4,2.2 .3,.8 .4,2.2 .3,-3.1 .4,1 .3,2 .4,-.8 .3,-2.7 .4,1.1 .3,-2.1 .4,.8 .3,2.1 .4,-2 .3,1.8 .4,-2.9 .3,1 .4,3.4 .3,-1 .4,2.5 .3,-.6 .4,-4.3 .3,.6 .4,1.1 .3,-1.5 .4,-.8 .3,-3.2 .4,1.4 .3,1.9 .4,0 .3,0 .4,.4 .3,-1.9 .4,.8 .3,2.3 .4,-1.9 .3,-.7 .4,2.3 .3,-.6 .4,1 .3,2 .4,-5.4 .3,1.8 .4,-.1 .3,-.4 .4,.3 .3,.9 .4,2.1 .3,-3.8 .4,1.3 .3,-3.8 .4,4.5 .3,-2.4 .4,-.5 .3,.7 .4,.9 .3,6.4 .4,-2.4 .3,-2 .4,2.1 .3,-1.9 .4,-.4 .3,-.1 .4,-1.7 .3,.1 .4,-1.8 .3,2.5 .4,-2.5 .3,-2.8 .4,2 .3,3 .4,-.6 .3,1.1 .4,-1.5 .3,-2 .4,6.5 .3,-3.5 .4,-.6 .3,1.3 .4,-.5 .3,-1.3 .4,-2.4 .3,2.4 .4,.8 .3,-1.6 .4,-.4 .3,2.9 .4,2.6 .3,-3 .4,-3.7 .3,3.3 .4,3.4 .3,-3.3 .4,-1.4 .3,-2.1 .4,-.3 .3,-.8 .4,.9 .3,1.4 .4,2.4 .3,4.3 .4,-9.3 .3,1.8 .4,3 .3,-2.7 .4,.3 .3,2.2 .4,-.2 .3,-1.5 .4,-.5 .3,3.7 .4,-3.5 .3,1.2 .4,-.5 .3,-1.6 .4,.9 .3,-3 .4,1.9 .3,-1.5 .4,.7 .3,1.4 .4,-2.5 .3,6.6 .4,-.1 .3,-2.1 .4,2.1 .3,-3 .4,1.1 .3,-1.9 .4,-.4 .3,-2.7 .4,4.7 .3,3.6 .4,-2 .3,2.9 .4,-3.4 .3,-.8 .4,1.2 .3,-.8 .4,-5.5 .3,4.4 .4,-1.1 .3,-2.8 .4,6.4 .3,1.1 .4,-.7 .3,-2 .4,-2.7 .3,-1.5 .4,6.4 .3,-4.7 .4,2.3 .3,1.1 .4,2.4 .3,-.7 .4,-2.2 .3,-2.2 .4,.9 .3,1.9 .4,2.2 .3,-.6 .4,-3.6 .3,.5 .4,-4.6 .3,2.9 .4,3.2 .3,-.7 .4,0 .3,-4 .4,2.9 .3,-.6 .4,-.1 .3,1.8 .4,-3 .3,2.6 .4,-.6 .3,2.9 .4,-2.8 .3,3.4 .4,-7.8 .3,2.8 .4,-.9 .3,.8 .4,3.2 .3,-2.8 .4,-.1 .3,.7 .4,-2.9 .3,3.5 .4,-3 .3,4.9 .4,-1.9 .3,-.7 .4,-.5 .3,1.2 .4,2.9 .3,-4.6 .4,2.4 .3,-1.8 .4,1.9 .3,1.9 .4,-2.7 .3,-1 .4,-1.4 .3,-.7 .4,4.1 .3,1.7 .4,-4.4 .3,3.5 .4,-1.3 .3,-3.2 .4,1.1 .3,-.9 .4,4.6 .3,-4.7 .4,-1.7 .3,3 .4,1.6 .3,4.1 .4,-1.9 .3,-3.5 .4,2.6 .3,1.9 .4,-5.8 .3,-2.5 .4,-.1 .3,3.4 .4,-2.7 .3,3.1 .4,-1 .3,-.5 .4,.2 .3,4.4 .4,-2.5 .3,-.6 .4,-1.6 .3,-.7 .4,2.6 .3,1.6 .4,-1.1 .3,1.7 .4,-3.4 .3,.9 .4,2.9 .3,2.6 .4,-3.6 .3,-1.8 .4,-1.6 .3,.3 .4,1.9 .3,-3 .4,-1 .3,4.6 .4,.1 .3,-.7 .4,-.6 .3,-1.2 .4,1.3 .3,-2 .4,1.3 .3,2.3 .4,-2.5 .3,.7 .4,.1 .3,-1.5 .4,2.2 .3,8.1 .4,20.2 .3,23.9 .4,21.9 .3,11.1 .4,11.7 .3,9 .4,2.6 .3,5.7 .4,1.3 .3,-1.7 .4,-1.5 .3,-3.1 .4,-3.7 .3,-3 .4,-1.1 .3,1 .4,-6.2 .3,-1.3 .4,-1.5 .3,-2.8 .4,1.5 .3,-7.8 .4,1.4 .3,-2.2 .4,-3.7 .3,-2.7 .4,-1.3 .3,1.3 .4,-6.7 .3,-.2 .4,-5.2 .3,-.7 .4,4.7 .3,-8.9 .4,-.5 .3,-4.8 .4,3.7 .3,-2.4 .4,2 .3,-3 .4,-1.6 .3,-2 .4,-4 .3,-1.6 .4,4.1 .3,-3.5 .4,-2.8 .3,-2.7 .4,0 .3,-.3 .4,-2.1 .3,-.2 .4,-2.4 .3,-2 .4,.6 .3,-3.2 .4,1.4 .3,4.4 .4,-2.5 .3,-7.1 .4,-1 .3,3.4 .4,-4.8 .3,3.5 .4,2.3 .3,-7.1 .4,2.6 .3,-.5 .4,-.6 .3,-1.1 .4,-1.1 .3,.9 .4,.7 .3,-4.1 .4,-4.9 .3,1.9 .4,-.7 .3,.8 .4,-.4 .3,3.1 .4,-.4 .3,-3.6 .4,-3.8 .3,2.9 .4,-2.9 .3,3 .4,-3.1 .3,1 .4,-2.1 .3,-1.8 .4,2.6 .3,2.6 .4,-3.1 .3,1.8 .4,-2.6 .3,3.6 .4,-1.5 .3,-2.5 .4,2.1 .3,-4.1 .4,2.1 .3,-3 .4,1.4 .3,1.7 .4,-3.7 .3,4.2 .4,-2.2 .3,-.4 .4,.1 .3,-3.9 .4,2.3 .3,-2 .4,2.8 .3,-1.9 .4,-.3 .3,-.6 .4,.3 .3,2.8 .4,-.8 .3,-.6 .4,-3.4 .3,2.3 .4,-1.6 .3,2.7 .4,2.3 .3,-7.6 .4,3.7 .3,1.7 .4,-.6 .3,1.6 .4,-4 .3,1.5 .4,-.8 .3,-3.8 .4,2.6 .3,1.2 .4,.1 .3,-3.9 .4,3.3 .3,.2 .4,1.3 .3,.3 .4,3.4 .3,-1.4 .4,-4.3 .3,.8 .4,-3.7 .3,2.5 .4,-.4 .3,2.3 .4,-.9 .3,-1.8 .4,1.2 .3,-4.6 .4,3.7 .3,-2.2 .4,3.6 .3,-1.2 .4,-.4 .3,1.7 .4,-1.6 .3,-.2 .4,2 .3,-2.5 .4,-.2 .3,-2.5 .4,4.5 .3,.9 .4,-1.8 .3,-2 .4,-2.3 .3,4.5 .4,.2 .3,-2.6 .4,1.5 .3,-2.7 .4,3.7 .3,-3.2 .4,3.2 .3,0 .4,-.2 .3,-.8 .4,1.2 .3,1.5 .4,-2.7 .3,-.1 .4,.3 .3,-.1 .4,-.7 .3,1.3 .4,-3.2 .3,4 .4,-4.3 .3,4.9 .4,-2.8 .3,-5 .4,4.7 .3,2.2 .4,-3.7 .3,3.1 .4,-4.9 .3,3.7 .4,-4.5 .3,.8 .4,1 .3,3.1 .4,-4.8 .3,.4 .4,-.5 .3,.9 .4,3 .3,-3.5 .4,6 .3,-6 .4,2.6 .3,-.9 .4,-1.2 .3,2.2 .4,-3.4 .3,3 .4,-1.8 .3,-.7 .4,-2.6 .3,5.3 .4,-4.4 .3,.3 .4,1.7 .3,1.1 .4,-1.6" fill="none" stroke-width="1.8" stroke-linejoin="round"/>
<path d="M33.8,746.2l.4,4.5 .3,1.5 .3,2.5 .4,-5.8 .4,2.7 .3,-2.8 .4,1.5 .3,1.6 .4,-1.4 .3,.1 .4,-.4 .3,3.2 .4,-2.3 .3,4.1 .4,-.2 .3,-2.9 .4,1.2 .3,-3.9 .4,-1 .3,1.8 .4,2.2 .3,.6 .4,-2 .3,-2.2 .4,2.1 .3,-.8 .4,1.7 .3,-5.7 .4,5.9 .3,-.8 .4,.4 .3,-5.5 .4,5 .3,1.4 .4,.6 .3,-.4 .4,.5 .3,-7 .4,7.8 .3,-2.4 .4,-1.2 .3,2.2 .4,-2.7 .3,1.9 .4,-5.2 .3,2.3 .4,1.8 .3,-2.3 .4,-1.2 .3,4.4 .4,-2.7 .3,6.2 .4,-2.9 .3,2.2 .4,-.4 .3,-1.6 .4,-4.6 .3,3.4 .4,-8.9 .3,8.2 .4,.8 .3,-2.2 .4,3.9 .3,-5.7 .4,2.5 .3,.8 .4,-1.1 .3,-3.9 .4,5.6 .3,1.7 .4,-.3 .3,-3.8 .4,-.5 .3,0 .4,3.8 .3,-1.9 .4,-.6 .3,-2.3 .4,.6 .3,1.3 .4,-1.6 .3,-.5 .4,1.4 .3,-1.7 .4,-.3 .3,1.1 .4,2.5 .3,.2 .4,-.3 .3,3.3 .4,-6.2 .3,1.5 .4,-1.4 .3,.3 .4,-.3 .3,-.2 .4,.5 .3,-1.1 .4,6.5 .3,0 .4,-5.1 .3,3 .4,-2.6 .3,-.7 .4,1.3 .3,4.2 .4,12.8 .3,16.2 .4,10.4 .3,9.4 .4,7.7 .3,3.3 .4,3.8 .3,.6 .4,-1.7 .3,1.1 .4,2.6 .3,1.2 .4,-2.1 .3,-1.8 .4,-.4 .3,.6 .4,-2.3 .3,-4 .4,-1.9 .3,-1.8 .4,-1.5 .3,1.6 .4,-2.5 .3,-.5 .4,1.4 .3,-1.9 .4,-3.7 .3,1.6 .4,-1.9 .3,-2.7 .4,-1.8 .3,-.2 .4,-8.6 .3,4.7 .4,.6 .3,-.1 .4,-2.8 .3,.4 .4,-.8 .3,.9 .4,-2.7 .3,-6.1 .4,3.7 .3,-2.6 .4,1.6 .3,.9 .4,-3.7 .3,-2.5 .4,5.4 .3,1.2 .4,-9 .3,5.1 .4,-3.9 .3,-.3 .4,.9 .3,-4.5 .4,4.1 .3,-3.1 .4,-.7 .3,-.7 .4,-1.7 .3,2.7 .4,-1.2 .3,1.9 .4,-.5 .3,-3.1 .4,3.3 .3,-5.7 .4,-.4 .3,3 .4,-5.8 .3,2 .4,.4 .3,-.7 .4,-4.9 .3,5.4 .4,-1.9 .3,3 .4,-1.5 .3,-3.2 .4,2.9 .3,-1.3 .4,-1.5 .3,-3.1 .4,4.6 .3,-2.7 .4,0 .3,3 .4,-1.4 .3,-4.1 .4,-2.6 .3,3.6 .4,-.4 .3,-.4 .4,1.1 .3,-4.4 .4,1.4 .3,-.9 .4,3.6 .3,-2.6 .4,2.4 .3,1.9 .4,-1.7 .3,-1.9 .4,3.1 .3,-.9 .4,-5.6 .3,1.7 .4,2.1 .3,1.3 .4,4.2 .3,-10.1 .4,5.7 .3,-4.6 .4,.4 .3,-2.3 .4,2.8 .3,-1.2 .4,2.6 .3,-1.4 .4,-1 .3,1.8 .4,-1 .3,3.3 .4,.4 .3,-3.2 .4,1.2 .3,-3.9 .4,1.7 .3,0 .4,-.9 .3,.3 .4,.3 .3,3 .4,-1.6 .3,-2.3 .4,-2.7 .3,1.8 .4,2.7 .3,-2.2 .4,-.3 .3,1.1 .4,-3.6 .3,-1.2 .4,1 .3,1.3 .4,-.8 .3,2.8 .4,-1.6 .3,-1.6 .4,1.6 .3,-.3 .4,1.4 .3,-1.3 .4,1 .3,.7 .4,-.8 .3,-.8 .4,4 .3,-.5 .4,-.8 .3,.2 .4,-.6 .3,-2.8 .4,-1.1 .3,.5 .4,-.8 .3,-1.6 .4,1.9 .3,1.5 .4,.2 .3,.8 .4,.8 .3,.3 .4,2.5 .3,-5.7 .4,-1.4 .3,2 .4,-1.8 .3,.2 .4,0 .3,1.9 .4,-4.9 .3,4.5 .4,-.8 .3,-.7 .4,1 .3,1.1 .4,.2 .3,2.1 .4,-3.4 .3,4.7 .4,-5.4 .3,-1.3 .4,-2.1 .3,2.4 .4,3.2 .3,0 .4,-.2 .3,-3.3 .4,1.2 .3,0 .4,.6 .3,.6 .4,-3 .3,-3.2 .4,3.5 .3,.1 .4,-1.6 .3,.1 .4,4.3 .3,.6 .4,.6 .3,2.7 .4,-4.6 .3,-1.7 .4,-2.5 .3,.2 .4,6.1 .3,-5.5 .4,3.3 .3,-3.9 .4,-.3 .3,2.6 .4,1.1 .3,-.9 .4,2.7 .3,-5.7 .4,.3 .3,2.2 .4,.4 .3,1.3 .4,1.7 .3,.5 .4,-1.1 .3,-5.3 .4,-.5 .3,1.7 .4,1.8 .3,-.6 .4,6.2 .3,-1.8 .4,-3.2 .3,-.1 .4,-.9 .3,1 .4,.7 .3,.1 .4,1 .3,-1.4 .4,-2 .3,3.3 .4,-.7 .3,-2.2 .4,1.2 .3,-.3 .4,.7 .3,-.5 .4,-2.8 .3,4.6 .4,-.7 .3,.4 .4,-3.8 .3,.5 .4,2.6 .3,-1.7 .4,-.8 .3,2.2 .4,-3 .3,2.9 .4,1.8 .3,-1 .4,-6 .3,3.9 .4,1.4 .3,.6 .4,-2.6 .3,2.1 .4,1.5 .3,1 .4,-1.6 .3,-2.6 .4,.9 .3,.7 .4,-2.5 .3,-.3 .4,2.5 .3,-2.7 .4,2.4 .3,2.3 .4,1.4 .3,-2.2 .4,-3 .3,5.6 .4,-4.8 .3,2.7 .4,-1.6 .3,1.1 .4,-2.3 .3,.7 .4,2.7 .3,-1.3 .4,.3 .3,-1.5 .4,-2.1 .3,-3.1 .4,3.5 .3,4.6 .4,-1.9 .3,.3 .4,1.8 .3,1.7 .4,-2.2 .3,-.9 .4,1.8 .3,-1.2 .4,-2.7 .3,2.2 .4,-3.9 .3,2.4 .4,.1 .3,1.6 .4,-.2 .3,-4.2 .4,2.4 .3,-.1 .4,-2.7 .3,1.5 .4,0 .3,.1 .4,-.5 .3,5.2 .4,-6.6 .3,3.2 .4,-.6 .3,-.7 .4,2.2 .3,-1.5 .4,.7 .3,.2 .4,-3.6 .3,5.9 .4,1.4 .3,-2.3 .4,-.8 .3,.7 .4,-1.6 .3,1.6 .4,-1.7 .3,-1 .4,1.7 .3,0 .4,-1.2 .3,2.7 .4,-5.4 .3,.6 .4,2.9 .3,-.5 .4,2.6 .3,-.8 .4,-1 .3,-.1 .4,.9 .3,-.1 .4,3.6 .3,-.2 .4,-.6 .3,-2.3 .4,-.6 .3,-3.2 .4,-.6 .3,-.9 .4,6 .3,-2.1 .4,1.6 .3,-1.9 .4,-2.3 .3,4.2 .4,-3.7 .3,2.2 .4,1.9 .3,-1.1 .4,1 .3,.3 .4,-1.5 .3,.1 .4,-2.5 .3,1.7 .4,.7 .3,-2.9 .4,3.4 .3,-.7 .4,-.4 .3,1.8 .4,1.5 .3,-3.2 .4,.7 .3,-.6 .4,3.5 .3,-5.5 .4,1.5 .3,-.9 .4,-.5 .3,3.5 .4,-3.4 .3,.6 .4,-2.4 .3,4.4 .4,-.8 .3,-2.3 .4,3.9 .3,-3.2 .4,-1.4 .3,3.3 .4,.5 .3,-8.3 .4,6.2 .3,.7 .4,-3.6 .3,5.3 .4,-1.1 .3,-2.4 .4,2.2 .3,-4.2 .4,3.9 .3,-2.8 .4,3.2 .3,3.4 .4,-2.7 .3,-2.4 .4,-1.5 .3,1.4 .4,3.8 .3,-3.9 .4,2.1 .3,-2.7 .4,.1 .3,6.5 .4,-5.6 .3,1.7 .4,-5.5 .3,5.4 .4,-1.6 .3,3.7 .4,-2.7 .3,.9 .4,-1.5 .3,.4 .4,.3 .3,-2.9 .4,-1.6 .3,3.4 .4,-2 .3,2.4 .4,2.1 .3,-.5 .4,-1.8 .3,-.5 .4,2.2 .3,-2.9 .4,4.1 .3,-3.4 .4,.1 .3,3.4 .4,-3.2 .3,.9 .4,.1 .3,-.9 .4,-1.8 .3,0 .4,.5 .3,1.9 .4,.4 .3,.3 .4,-2 .3,1.6 .4,-2.6 .3,-.9 .4,3.5 .3,-1 .4,-2.2 .3,1.5 .4,.7 .3,-4.1 .4,2.4 .3,2.6 .4,-1.9 .3,1.7 .4,-1.6 .3,1.2 .4,-.2 .3,-5.2 .4,3.5 .3,-.1 .4,-1.8 .3,6.4 .4,-5 .3,2.9 .4,-.5 .3,-1 .4,3.1 .3,.1 .4,-2.9 .3,1.8 .4,-2.8 .3,-.1 .4,1.1 .3,-.7 .4,0 .3,4 .4,-1.3 .3,-1.6 .4,2.4 .3,-3.2 .4,.9 .3,4.2 .4,-.9 .3,.8 .4,-3.5 .3,.1 .4,.4 .3,-2.3 .4,-.1 .3,-1.9 .4,3.1 .3,-1.9 .4,1.8 .3,1.7 .4,-1.3 .3,1 .4,-2.9 .3,-2.6 .4,2.8 .3,1.3 .4,.8 .3,-1.2 .4,-1.2 .3,.1 .4,4.1 .3,-3.9 .4,.8 .3,3.4 .4,-1.8 .3,.6 .4,-.6 .3,1.7 .4,-2.4 .3,-3.8 .4,4.9 .3,.8 .4,-.1 .3,-2.8 .4,-1.1 .3,3.6 .4,.7 .3,2.1 .4,-4.8 .3,.1 .4,.6 .3,-.2 .4,-1 .3,4.5 .4,-1.4 .3,3.7 .4,-3.7 .3,-3.4 .4,1.7 .3,1.3 .4,.3 .3,-1.8 .4,1.4 .3,-2.6 .4,2.8 .3,1.4 .4,-1 .3,-1.1 .4,2.2 .3,-1.6 .4,-2.7 .3,2.5 .4,-2.3 .3,2.1 .4,2.9 .3,.3 .4,-5 .3,-.8 .4,4.1 .3,-2 .4,1.1 .3,2.8 .4,-4.1 .3,-1.4 .4,3 .3,-2.9 .4,.6 .3,.5 .4,.4 .3,1.4 .4,-1.2 .3,-2.1 .4,5.8 .3,.2 .4,-3.6 .3,3.1 .4,-2 .3,-5.8 .4,4.1 .3,2.6 .4,.9 .3,-5.2 .4,5.2 .3,-4.1 .4,4 .3,-3.3 .4,-.2 .3,1.1 .4,-1.1 .3,.6 .4,.6 .3,-2.6 .4,1.6 .3,-1.1 .4,-.1 .3,3.5 .4,-2.6 .3,-4.4 .4,5.6 .3,-3.8 .4,3.2 .3,-1.2 .4,1.4 .3,.8 .4,-3.8 .3,-1.1 .4,2.4 .3,-2.3 .4,3.7 .3,1.5 .4,-.3 .3,1 .4,-.5 .3,-.8 .4,.2 .3,-1.6 .4,-.1 .3,-2.8 .4,5.3 .3,-2.8 .4,.3 .3,1.1 .4,-2.2 .3,2.4 .4,-5.7 .3,2.4 .4,2.3 .3,1.1 .4,-2.8 .3,1.5 .4,.9 .3,-1.3 .4,-.7 .3,3.1 .4,-3.4 .3,1.2 .4,-2.9 .3,1.5 .4,.8 .3,-.3 .4,.1 .3,-1.4 .4,2.9 .3,.2 .4,-2.5 .3,2 .4,-.2 .3,1.9 .4,-1.5 .3,-3.6 .4,2.2 .3,-.6 .4,-.8 .3,1.6 .4,2.4 .3,-1.7 .4,-.4 .3,2.1 .4,-1.2 .3,-1.6 .4,1.8 .3,-1.1 .4,-5.2 .3,4.2 .4,3 .3,-7.4 .4,3.6 .3,-4.5 .4,3 .3,-3 .4,3.4 .3,-.4 .4,1.5 .3,.1 .4,-1.4 .3,4 .4,-2.1 .3,1.6 .4,-.7 .3,.5 .4,-2.9 .3,1.8 .4,-.6 .3,-1.6 .4,1.9 .3,-.5 .4,-2.1 .3,-.5 .4,1.1 .3,2.6 .4,1.4 .3,-.7 .4,-.8 .3,-.5 .4,-3.4 .3,-.2 .4,4.5 .3,-.1 .4,-.2 .3,-2.8 .4,2.7 .3,1.4 .4,-2.4 .3,-.4 .4,-2.2 .3,.9 .4,-4 .3,4.3 .4,0 .3,4.4 .4,-5.8 .3,-.7 .4,5.7 .3,-4.2 .4,-.3 .3,-2.9 .4,4.5 .3,-.5 .4,-4.3 .3,3.1 .4,3.4 .3,-2.6 .4,-2.8 .3,5.9 .4,-2.7 .3,5 .4,-1.5 .3,-3.9 .4,.5 .3,1.7 .4,.2 .3,-3.4 .4,-.1 .3,-1.4 .4,-.6 .3,3.3 .4,-3 .3,1.9 .4,-1 .3,1.2 .4,-.6 .3,1.1 .4,1 .3,-3.5 .4,2.7 .3,1.4 .4,.6 .3,1.3 .4,-3.5 .3,1.3 .4,-.1 .3,-1.6 .4,.2 .3,-2.5 .4,4.2 .3,-.8 .4,-1.6 .3,-1.1 .4,1.7 .3,1.2 .4,1.5 .3,2 .4,-3.7 .3,5.5 .4,-3.1 .3,-3 .4,2.4 .3,-4.6 .4,4.7 .3,-2.5 .4,-.3 .3,-.5 .4,3.4 .3,.3 .4,2.7 .3,1.3 .4,-3.5 .3,-4.8 .4,2.8 .3,1.7 .4,-4.8 .3,2.6 .4,4.5 .3,17.9 .4,17.9 .3,21 .4,11.9 .3,9.5 .4,10.5 .3,7.3 .4,2.6 .3,1.6 .4,-2.7 .3,1.2 .4,-1.2 .3,-1 .4,-3.3 .3,0 .4,-3.2 .3,-1 .4,-3.9 .3,-.9 .4,-2.4 .3,-2.8 .4,-1.1 .3,.6 .4,-3.9 .3,-1.9 .4,-2.3 .3,-1.5 .4,-1.6 .3,-.8 .4,-4.2 .3,-.3 .4,-6.8 .3,2.6 .4,-1.8 .3,.2 .4,-1.7 .3,-2.4 .4,-1.9 .3,-3.2 .4,3.9 .3,-2.3 .4,-5 .3,2.8 .4,-2.2 .3,-2.1 .4,-3.1 .3,1 .4,-1.5 .3,-1.6 .4,-2.2 .3,.1 .4,-1.2 .3,-3.1 .4,1.1 .3,1 .4,-1 .3,-7.7 .4,6.9 .3,-5.2 .4,-1.4 .3,-.5 .4,3.7 .3,-2.6 .4,0 .3,-3.9 .4,1.5 .3,2.6 .4,-3.9 .3,.7 .4,-1.7 .3,-4.5 .4,4.3 .3,-1.9 .4,1.6 .3,-2.6 .4,4.8 .3,-3.7 .4,1.2 .3,.4 .4,-1.8 .3,-2.8 .4,-1.1 .3,0 .4,.3 .3,.8 .4,-.1 .3,-3.1 .4,3.3 .3,-9.7 .4,4.2 .3,1.9 .4,-4.4 .3,2.4 .4,-.8 .3,3.1 .4,-4.3 .3,-1.5 .4,5.6 .3,-2.5 .4,.1 .3,-1 .4,.5 .3,2.5 .4,-4.6 .3,-.8 .4,.6 .3,.4 .4,1.8 .3,.5 .4,-1 .3,-3.7 .4,0 .3,1.2 .4,3.9 .3,-.4 .4,-3.7 .3,.9 .4,-.3 .3,-2 .4,4.2 .3,-4.7 .4,1.2 .3,.5 .4,-1.7 .3,4.1 .4,-5.7 .3,1.1 .4,1.4" fill="none" stroke-width="1.8" stroke-linejoin="round"/>
<path d="M458.2,748.6l.4,1.5 .3,2.9 .4,1.3 .3,.9 .4,-2.1 .3,-3.1 .4,2.3 .3,2 .4,-1.9 .3,2.3 .4,-3.3 .3,1.2 .4,3.7 .3,-3 .4,-.1 .3,1.7 .4,-4 .3,2.1 .4,-1.1 .3,-1.1 .4,.8 .3,1.6 .4,1.3 .3,-2.9 .4,7.2 .3,-7.9 .4,7.2 .3,-4.4 .4,.1 .3,.6 .4,-1.2 .3,.7 .4,-.5 .3,2.2 .4,-2.9 .3,-.6 .4,-.8 .3,-.6 .4,7.1 .3,-6.2 .4,4.5 .3,-1.4 .4,-2.1 .3,-2.2 .4,3.7 .3,1.4 .4,-5.7 .3,5.6 .4,-2 .3,-.3 .4,.1 .3,-.3 .4,.3 .3,-.1 .4,-1.5 .3,1.7 .4,-.5 .3,.1 .4,1.7 .3,1.7 .4,-7.3 .3,5.1 .4,-.4 .3,.6 .4,-.6 .3,2.7 .4,-2.5 .3,-2 .4,-1.4 .3,2.5 .4,1.8 .3,-4.1 .4,1.5 .3,.2 .4,-.8 .3,-2.5 .4,.1 .3,5.6 .4,-4.7 .3,3.7 .4,.8 .3,-1.6 .4,-2.1 .3,3.4 .4,-1.8 .3,-.5 .4,-1.8 .3,2.1 .4,-.8 .3,.8 .4,1.3 .3,-2 .4,16.7 .3,-12.2 .4,-9 .3,5.2 .4,1.9 .3,-7.1 .4,3.6 .3,7.6 .4,-5.5 .3,.3 .4,2.7 .3,0 .4,-2.6 .3,-.9 .4,10.8 .3,24 .4,18.6 .3,24.7 .4,13.6 .3,11 .4,1 .3,6.7 .4,-.8 .3,1.7 .4,2.1 .3,-3.7 .4,.8 .3,3.2 .4,-8.9 .3,-3.1 .4,-2.3 .3,-2.7 .4,1 .3,-4.1 .4,-10.9 .3,.8 .4,.4 .3,-5.2 .4,1.5 .3,-.6 .4,-4.6 .3,-2.6 .4,-1.5 .3,-3.7 .4,-1 .3,-.3 .4,-.8 .3,-4.5 .4,-1 .3,-.4 .4,-2.6 .3,-4.2 .4,1.7 .3,0 .4,-1.7 .3,-3.9 .4,-4 .3,1.1 .4,-1.2 .3,-6 .4,1.8 .3,2.3 .4,-4.9 .3,4.1 .4,-3.4 .3,-3.1 .4,-3.7 .3,1.6 .4,1.6 .3,-4.3 .4,-3.3 .3,7.3 .4,-3.9 .3,-1 .4,3.2 .3,-6.1 .4,4.2 .3,-3 .4,-.5 .3,.2 .4,-.4 .3,-.6 .4,-.1 .3,-3.2 .4,2.5 .3,-4.4 .4,-3.7 .3,10.3 .4,-5.5 .3,-.2 .4,-1.9 .3,-3.2 .4,-2.7 .3,1.1 .4,-1.3 .3,3.7 .4,-3.4 .3,3.4 .4,-.8 .3,-1.3 .4,-2 .3,-3.4 .4,-4.2 .3,11.6 .4,-3.6 .3,-4.9 .4,3.6 .3,-1.1 .4,-.3 .3,1.2 .4,4 .3,-10 .4,5.4 .3,-4.2 .4,3.8 .3,12.5 .4,67.2 .3,69.4 .4,68.9 .3,56.2 .4,43.7 .3,23.5 .4,19.8 .3,11.2 .4,-4.6 .3,4.1 .4,-4.7 .3,-5.7 .4,-2.1 .3,-10.2 .4,-8 .3,-10.5 .4,-8.1 .3,-8.5 .4,-14.7 .3,-6.1 .4,-12.3 .3,-3.9 .4,-14.7 .3,-4.7 .4,-8.7 .3,-11 .4,-4.3 .3,-12.5 .4,-2.5 .3,-9.2 .4,-7 .3,-3.9 .4,-6.4 .3,-6.6 .4,-2.9 .3,-9 .4,0 .3,-7.6 .4,-6.8 .3,-3.8 .4,-10.9 .3,-4.2 .4,-1.6 .3,-5.6 .4,-2.1 .3,-7.3 .4,-2.4 .3,-4.4 .4,-6.4 .3,3.1 .4,-7.1 .3,-6.9 .4,3.6 .3,-3.8 .4,-7.3 .3,-3.4 .4,-2 .3,-3.6 .4,-2.3 .3,.2 .4,-6 .3,-3.4 .4,-6.1 .3,-1.5 .4,.5 .3,-3.9 .4,2.4 .3,-8.2 .4,5.7 .3,-5.8 .4,-1.9 .3,.6 .4,-6.9 .3,-1.3 .4,.4 .3,1.2 .4,1.3 .3,-7.4 .4,4.2 .3,-6.4 .4,-1.6 .3,-3.7 .4,-.2 .3,1.7 .4,-3.5 .3,-2.4 .4,1.2 .3,-.7 .4,-4.7 .3,-.5 .4,-3 .3,2.6 .4,-2.1 .3,.6 .4,1.1 .3,-7.4 .4,2.7 .3,-4.4 .4,1.8 .3,3 .4,.9 .3,-7.8 .4,1.5 .3,-2.5 .4,-.9 .3,-2.2 .4,3.8 .3,-1.7 .4,-2.1 .3,-3.7 .4,2.3 .3,2.4 .4,-1.8 .3,-.5 .4,-2.8 .3,2.1 .4,.2 .3,-2 .4,1 .3,-2.8 .4,.6 .3,-1.1 .4,.3 .3,.4 .4,-2.5 .3,2.4 .4,-.2 .3,-.8 .4,2 .3,.9 .4,-1.9 .3,-6.9 .4,5.1 .3,4.9 .4,-6 .3,-2.3 .4,-.2 .3,1 .4,4.2 .3,-8.2 .4,-1.9 .3,5.4 .4,-.5 .3,2.8 .4,-5.6 .3,1.6 .4,1.7 .3,-.8 .4,2.1 .3,-3.2 .4,2.2 .3,-1.2 .4,-1.4 .3,-.2 .4,3.2 .3,-3.6 .4,4.1 .3,.4 .4,-7.8 .3,8.5 .4,-5.3 .3,-6.1 .4,3.2 .3,1.2 .4,2.3 .3,-5.7 .4,6.3 .3,-2.8 .4,6 .3,-.9 .4,-3.2 .3,-.9 .4,-.3 .3,-2.3 .4,-3 .3,.9 .4,1.4 .3,-1.9 .4,-.8 .3,7.8 .4,-2.5 .3,-1.2 .4,.7 .3,3.1 .4,-6.5 .3,-.3 .4,5 .3,-2.2 .4,-.5 .3,1.9 .4,-2.6 .3,2.3 .4,-1.3 .3,-.6 .4,.2 .3,5.7 .4,-7.8 .3,-.2 .4,6.1 .3,-3.6 .4,-3.2 .3,.1 .4,4.6 .3,-2 .4,-4.9 .3,4.2 .4,2 .3,2.2 .4,-1.3 .3,-4.6 .4,.8 .3,-.8 .4,6.4 .3,-3.7 .4,-3.4 .3,4.2 .4,-2.2 .3,-.3 .4,1.3 .3,-1.8 .4,.8 .3,-4 .4,4.1 .3,-4.2 .4,.7 .3,6.4 .4,-2.9 .3,-4.5 .4,1.8 .3,2.7 .4,2.1 .3,-6.5 .4,3.5 .3,-1.5 .4,5.4 .3,4.4 .4,-7.1 .3,.3 .4,-2 .3,5.1 .4,-4.8 .3,1 .4,-1 .3,3.6 .4,-2.8 .3,-.1 .4,3.5 .3,1.4 .4,-6.3 .3,.7 .4,-3 .3,4.2 .4,-.8 .3,.3 .4,0 .3,-3.4 .4,3.9 .3,-4.1 .4,3.5 .3,2 .4,-1.3 .3,-.8 .4,1.6 .3,-6.9 .4,2.2 .3,4.1 .4,2 .3,3.1 .4,-.7 .3,-8 .4,.9 .3,1.7 .4,-1.7 .3,1.7 .4,.6 .3,-2.6 .4,-1.1 .3,4.9 .4,-2.6 .3,3.8 .4,-3.9 .3,-1.2 .4,3.5 .3,3.5 .4,-3.3 .3,.3 .4,-2 .3,-.2 .4,-1.4 .3,2.9 .4,-4.9 .3,1 .4,.5 .3,4.1 .4,-.5 .3,-.3 .4,1.8 .3,-.9 .4,.6 .3,-4.9 .4,5.9 .3,-1.4 .4,-2.4 .3,-2.3 .4,4.4 .3,-1.6 .4,-1.6 .3,.9 .4,-2.6 .3,5 .4,-6.9 .3,7.5 .4,.1 .3,-3.6 .4,-2.2 .3,5.9 .4,-4 .3,2.9 .4,-7 .3,5.3 .4,0 .3,-1.9 .4,1.8 .3,3.2 .4,-2.1 .3,-1 .4,.8 .3,-1.9 .4,-3.4 .3,3.7 .4,1.5 .3,-.1 .4,-2.7 .3,2.3 .4,-3.9 .3,-.9 .4,5.1 .3,-3.7 .4,-.1 .3,-1.7 .4,-.7 .3,.3 .4,6 .3,-1 .4,-.7 .3,2.3 .4,-.2 .3,-3.2 .4,-1.1 .3,-.3 .4,.5 .3,.6 .4,2.4 .3,2.1 .4,-4.6 .3,-.4 .4,3.5 .3,-2 .4,-.2 .3,1.8 .4,3.6 .3,.2 .4,-2 .3,-1.4 .4,-1.2 .3,1.4 .4,1 .3,.2 .4,-4.6 .3,1.4 .4,.5 .3,1.1 .4,-2.4 .3,.6 .4,1.1 .3,-1.1 .4,.8 .3,-2.2 .4,-.3 .3,-1 .4,1.5 .3,3.2 .4,.5 .3,-.1 .4,-2 .3,.3 .4,-1.8 .3,3.5 .4,-5.4 .3,3.2 .4,.7 .3,.6 .4,-2.3 .3,1.8 .4,-5 .3,.1 .4,1.1 .3,-1.4 .4,5.9 .3,-6.6 .4,6.3 .3,-4 .4,2.6 .3,2.3 .4,3.3 .3,-5.8 .4,-1.4 .3,2.9 .4,3.7 .3,-4.3 .4,-3.2 .3,2.4 .4,-1.1 .3,2.9 .4,-2.5 .3,-.1 .4,1.2 .3,-2.5 .4,1.8 .3,.6 .4,-1.1 .3,-.4 .4,-1.1 .3,.8 .4,5.7 .3,-4.7 .4,-.2 .3,3.9 .4,-3.1 .3,2.6 .4,-3.3 .3,2.2 .4,-3.2 .3,5.1 .4,-3.2 .3,1 .4,2.7 .3,.6 .4,-4.3 .3,-1.5 .4,4.3 .3,.8 .4,-4.6 .3,4.5 .4,-6.4 .3,3.8 .4,2.4 .3,-.7 .4,-3.4 .3,.6 .4,.2 .3,1 .4,4.1 .3,-3.9 .4,3.4 .3,-2.5 .4,.8 .3,-5.3 .4,5.8 .3,-1.9 .4,.3 .3,1.7 .4,.7 .3,-2.5 .4,-3.6 .3,-1.8 .4,7.4 .3,-7.6 .4,1.4 .3,8 .4,-4.6 .3,2.2 .4,-10 .3,5.1 .4,1.5 .3,.3 .4,-2.9 .3,7.5 .4,-5.1 .3,3 .4,-3.3 .3,-1.4 .4,.8 .3,3.5 .4,-3.7 .3,1.8 .4,-5.3 .3,6 .4,-4.3 .3,2.7 .4,1.3 .3,-1.9 .4,.8 .3,.2 .4,2 .3,-1.3 .4,-4.3 .3,2.2 .4,3.3 .3,-.8 .4,-2.6 .3,-1.4 .4,.6 .3,-.6 .4,.7 .3,3.7 .4,-5.9 .3,2.7 .4,1.6 .3,-3.6 .4,.8 .3,1.9 .4,.7 .3,-5.8 .4,5.1 .3,2.8 .4,-.4 .3,1.5 .4,-3 .3,.7 .4,.9 .3,-1.3 .4,.7 .3,-2.3 .4,1.8 .3,.3 .4,-1.3 .3,.9 .4,-.2 .3,-1.3 .4,3.1 .3,1.4 .4,-1.2 .3,3.5 .4,-7.7 .3,5.3 .4,-1.4 .3,2.6 .4,-10.2 .3,5.6 .4,-3.6 .3,3.8 .4,2.6 .3,1 .4,-5.1 .3,.3 .4,5.1 .3,-2.4 .4,.2 .3,-1.7 .4,8 .3,-5 .4,-2.5 .3,3.5 .4,.7 .3,-2.9 .4,-2.2 .3,-1.5 .4,5.4 .3,-4.6 .4,-1 .3,-2.7 .4,2 .3,4.6 .4,-3.1 .3,-.7 .4,.1 .3,-3 .4,2.7 .3,.9 .4,-3 .3,2.2 .4,-.7 .3,-.9 .4,1.1 .3,-5.2 .4,4.1 .3,2.5 .4,-2.2 .3,4.8 .4,-1 .3,-1.3 .4,3.3 .3,-4.8 .4,2.6 .3,-2.4 .4,.7 .3,3.5 .4,1.3 .3,-3 .4,.9 .3,-4.3 .4,3.2 .3,-1.2 .4,1.5 .3,-4.7 .4,4 .3,.3 .4,1.1 .3,-1.9 .4,-2.5 .3,-1.2 .4,3.5 .3,-1.4 .4,8.6 .3,-2.2 .4,-3.1 .3,3.7 .4,.5 .3,-2.7 .4,-.6 .3,-2.3 .4,2.9 .3,-1.1 .4,.4 .3,2.5 .4,-3.2 .3,-1.3 .4,.5 .3,0 .4,-3.6 .3,1.3 .4,3.1 .3,-1 .4,-1.6 .3,4 .4,-1.7 .3,3 .4,-2.1 .3,4.6 .4,-5.1 .3,1.5 .4,1.6 .3,-2.2 .4,2.6 .3,.9 .4,1.1 .3,-6.7 .4,.7 .3,2.5 .4,1.6 .3,-1.2 .4,.8 .3,1 .4,-2 .3,-3.6 .4,-.1 .3,1.8 .4,5.4 .3,-3.6 .4,3.4 .3,1.6 .4,-7.8 .3,3.1 .4,1.7 .3,-5.2 .4,2.2 .3,.8 .4,-3.5 .3,2.9 .4,4.7 .3,-7.9 .4,2.7 .3,-2.5 .4,2.3 .3,1.3 .4,-1 .3,3.4 .4,-1.7 .3,1.5 .4,-4.2 .3,-2 .4,2.1 .3,2.4 .4,-4.9 .3,2.1 .4,2.2 .3,2.2 .4,4.2 .3,-4.5 .4,-3.7 .3,0 .4,3.8 .3,-2.2 .4,1.9 .3,3.8 .4,-7.1 .3,2.1 .4,-2.3 .3,4.1 .4,.6 .3,-2.9 .4,-1.9 .3,3.5 .4,-1.5 .3,-1.3 .4,-.2 .3,.6 .4,-.8 .3,0 .4,.4 .3,-2.4 .4,1.3 .3,2 .4,-3.2 .3,6.9 .4,-7.8 .3,.9 .4,6.6 .3,-4.4 .4,3.7 .3,.2 .4,-1 .3,-3.1 .4,-.5 .3,3.8 .4,-2.8 .3,-1.1 .4,1.9 .3,-2.2 .4,6.6 .3,.3 .4,-5.4 .3,-3.9 .4,7 .3,-4 .4,-.5 .3,0 .4,.2 .3,2.8 .4,-1.6 .3,1.9 .4,-2.2 .3,-1.8 .4,5.8 .3,-3.4 .4,-.6 .3,.6 .4,-1.3 .3,6.6 .4,-10.4 .3,7.9 .4,-2.6 .3,.4 .4,.6 .3,-5.5 .4,1.4 .3,3.4 .4,-4.1 .3,1.3 .4,.3 .3,6.1 .4,-4.9 .3,-1.8 .4,3.3 .3,-2.8 .4,-.2 .3,7 .4,-2.1 .3,1.2 .4,-4.9 .3,4.7 .4,-4.7 .3,-.5 .4,2.6 .3,-4.3 .4,4 .3,-1.3 .4,-.1 .3,2.8 .4,-2 .3,.7 .4,4.7 .3,-3.9 .4,-3.5 .3,4.3 .4,-6.9 .3,10.3 .4,-6.7 .3,-1.6 .4,1.2 .3,1.9 .4,1.8 .3,1.8 .4,-4.5 .3,5.3 .4,.2 .3,-2.5 .4,.4 .3,-4.4 .4,.4 .3,4.8 .4,-4.1 .3,.5 .4,-.9 .3,-2.4 .4,5 .3,-.8 .4,-.2 .3,-1.4 .4,-1.4 .3,4.2 .4,2 .3,1 .4,-4.7 .3,.9 .4,-3.3 .3,2.8 .4,1.5 .3,-2.2 .4,-2 .3,.7 .4,1 .3,2.6 .4,-2.5 .3,-2 .4,-1.3 .3,1.7 .4,-1.6 .3,3 .4,1.3 .3,-1.4 .4,2.8 .3,-3.1 .4,-.9 .3,-.4 .4,-2.1 .3,-3 .4,8.3 .3,-.9 .4,1.8 .3,.2 .4,-4.1 .3,.5 .4,1.7 .3,-2" fill="none" stroke-width="1.8" stroke-linejoin="round"/>
<path d="M458.2,754.4l.4,-3.8 .3,2 .4,.5 .3,-2.9 .4,.7 .3,-3 .4,-1 .3,3.5 .4,.3 .3,-1.7 .4,2.9 .3,.8 .4,.3 .3,-4 .4,.6 .3,1.1 .4,-2.9 .3,1.1 .4,-.3 .3,2.5 .4,-3.2 .3,2.8 .4,2.5 .3,-.6 .4,2.7 .3,-5.4 .4,-3.8 .3,6.7 .4,-1.1 .3,-.6 .4,-1.3 .3,1.3 .4,1.8 .3,-.2 .4,.7 .3,-2.8 .4,-.5 .3,-1.3 .4,8.3 .3,-4.9 .4,-.3 .3,.6 .4,1.7 .3,-1.2 .4,-2.6 .3,3.8 .4,-3.6 .3,1.4 .4,3.2 .3,-1.6 .4,-2.7 .3,3.2 .4,-1.5 .3,-3.2 .4,-2.8 .3,8.3 .4,-4.2 .3,2.1 .4,2.3 .3,-4.5 .4,3.4 .3,-7.1 .4,.9 .3,1.5 .4,-.9 .3,1.6 .4,2.9 .3,.3 .4,-4.4 .3,2 .4,2.1 .3,-10.1 .4,7.8 .3,2.3 .4,-.4 .3,-.7 .4,4 .3,-4 .4,-2.8 .3,2.6 .4,-.2 .3,-.7 .4,3.5 .3,-2.2 .4,.9 .3,-2.6 .4,-1.5 .3,1.4 .4,-4.4 .3,4.4 .4,-4.2 .3,4.3 .4,.5 .3,-1.2 .4,.2 .3,-1.3 .4,7.5 .3,-3.7 .4,-2.6 .3,3.8 .4,-3.9 .3,-.9 .4,-1.6 .3,7.7 .4,-1.4 .3,3.8 .4,4.4 .3,20.6 .4,16.8 .3,17.6 .4,5.3 .3,6.7 .4,8.3 .3,4.5 .4,2.4 .3,1.7 .4,-1 .3,-3.1 .4,-1.6 .3,-3 .4,.7 .3,-3.5 .4,-2.2 .3,-2.4 .4,.9 .3,-11.2 .4,-.2 .3,3.4 .4,-4.2 .3,.1 .4,-.3 .3,-4.2 .4,-5.5 .3,-4.5 .4,3.8 .3,-3.1 .4,1.8 .3,-6.8 .4,-.8 .3,2.9 .4,-7.4 .3,5 .4,-5.9 .3,7.7 .4,-3.6 .3,-4 .4,-4.9 .3,.7 .4,-.2 .3,-3.4 .4,-.4 .3,-2.1 .4,-1.3 .3,1.4 .4,-4.9 .3,1.9 .4,1.9 .3,-3.5 .4,.3 .3,-2.9 .4,1.4 .3,-1.2 .4,1.5 .3,-4.9 .4,4.8 .3,-3.6 .4,2 .3,-2.2 .4,-.5 .3,1.9 .4,-5.2 .3,5.7 .4,-6.8 .3,2.4 .4,-2.7 .3,1.2 .4,-2.4 .3,3.2 .4,-6.2 .3,2.7 .4,4.8 .3,-6.1 .4,.5 .3,-.1 .4,.7 .3,-4.7 .4,.6 .3,.1 .4,-4.1 .3,.8 .4,4 .3,-3.7 .4,1.5 .3,-3.9 .4,5.9 .3,-1.6 .4,3 .3,-1.6 .4,-8.4 .3,9.6 .4,-3.7 .3,.6 .4,-2.4 .3,4.9 .4,.9 .3,-3.7 .4,-2.1 .3,.8 .4,3.7 .3,-2.5 .4,-1.5 .3,-.9 .4,-.7 .3,-3.9 .4,3.1 .3,1.8 .4,-3 .3,-2.1 .4,.1 .3,3 .4,-1.9 .3,2.2 .4,3.4 .3,-6.9 .4,-.6 .3,5 .4,-1.7 .3,-2.1 .4,5.3 .3,-9.4 .4,-1.1 .3,4.7 .4,1.9 .3,2.4 .4,-4.2 .3,2.6 .4,-2.9 .3,1.4 .4,-1.1 .3,2.1 .4,-6.9 .3,-1.8 .4,2 .3,7.8 .4,-3.6 .3,-2.3 .4,1.4 .3,1.6 .4,-3.1 .3,3.1 .4,-3.2 .3,.4 .4,-1.9 .3,1.4 .4,3.2 .3,2 .4,2.3 .3,-2.2 .4,-1 .3,2.5 .4,-1.1 .3,-3.5 .4,-.6 .3,1.7 .4,-4.2 .3,2.7 .4,-.9 .3,1.9 .4,2.6 .3,-1.1 .4,-4.7 .3,.5 .4,1.3 .3,-1.5 .4,3.3 .3,-2.1 .4,2.3 .3,-1.2 .4,.2 .3,-5.7 .4,5.6 .3,-2.3 .4,-.2 .3,-.4 .4,-.7 .3,.3 .4,-.4 .3,2 .4,-3.1 .3,0 .4,1.3 .3,-.1 .4,4.6 .3,-1.2 .4,-2.9 .3,1.6 .4,-3.2 .3,4.1 .4,-2.1 .3,4 .4,-5.3 .3,-.2 .4,2.1 .3,-3.8 .4,4.1 .3,2.4 .4,.2 .3,-1.2 .4,-1.2 .3,32.6 .4,52.3 .3,51.4 .4,44.3 .3,30.3 .4,23.3 .3,16.9 .4,11 .3,-1 .4,-3.6 .3,1.4 .4,-2.1 .3,-1.1 .4,-9.8 .3,-1.7 .4,-6.3 .3,-8.8 .4,-11.2 .3,-3.1 .4,-1.1 .3,-6.1 .4,-10.4 .3,1.1 .4,-6 .3,-10.5 .4,-3.8 .3,-12.3 .4,-5.6 .3,2.6 .4,-5.8 .3,-10.3 .4,1.7 .3,-4.5 .4,-4.4 .3,-9.9 .4,2.8 .3,-11.7 .4,-1.2 .3,-2.5 .4,-9.3 .3,-3.4 .4,4.1 .3,-3 .4,-3.4 .3,-.7 .4,-5.4 .3,-4.2 .4,-5.8 .3,-9.3 .4,6.5 .3,-2.8 .4,-4.1 .3,-2 .4,-.9 .3,-1.8 .4,-3.9 .3,-2.2 .4,-2.7 .3,-4.5 .4,5.3 .3,-7.3 .4,.2 .3,-.3 .4,-.7 .3,-4.7 .4,2.6 .3,-.8 .4,-4 .3,-.3 .4,-7.1 .3,2 .4,-1.8 .3,-4.8 .4,-1.6 .3,.4 .4,.9 .3,-.8 .4,1.9 .3,-3.2 .4,-4.4 .3,1.7 .4,-1.4 .3,-1.4 .4,-.2 .3,1.2 .4,.2 .3,-.2 .4,-3.7 .3,-2.5 .4,-2.3 .3,2.6 .4,-.6 .3,0 .4,-.3 .3,-2.9 .4,-1.2 .3,-4.3 .4,2.1 .3,3.9 .4,-7.1 .3,.6 .4,1.7 .3,2.6 .4,-1.7 .3,-1.6 .4,-1.2 .3,-2.2 .4,-3 .3,7 .4,-9.2 .3,6 .4,-1.6 .3,-1.1 .4,2.8 .3,-3.7 .4,3 .3,-3.7 .4,4.5 .3,-2.4 .4,4.2 .3,-8.2 .4,1.3 .3,-4.9 .4,2 .3,-1.6 .4,-2.6 .3,1.9 .4,.1 .3,5.5 .4,-.4 .3,1.2 .4,-5.6 .3,1.3 .4,-2.1 .3,4.3 .4,-3.6 .3,-.9 .4,-3.4 .3,7 .4,-4.4 .3,.6 .4,-5.6 .3,5.1 .4,-.2 .3,4.4 .4,-4.2 .3,2.3 .4,-1.8 .3,1.8 .4,-.6 .3,-2.7 .4,6.9 .3,-7.4 .4,3.7 .3,-1.3 .4,1.1 .3,-1.2 .4,-1.9 .3,-1.2 .4,2.5 .3,-6.8 .4,2.9 .3,3.2 .4,-1.1 .3,-2.8 .4,1.3 .3,.8 .4,4.2 .3,-5.6 .4,.7 .3,1.1 .4,8.1 .3,-6.1 .4,2 .3,-7.6 .4,7.6 .3,-3.2 .4,2.1 .3,-2.4 .4,.5 .3,-1.8 .4,4.6 .3,-6.1 .4,6.4 .3,-3 .4,-.8 .3,5.8 .4,-6.4 .3,.9 .4,-1.6 .3,-1.2 .4,7.3 .3,-3.8 .4,.1 .3,-.2 .4,-3.6 .3,1.1 .4,1.3 .3,1 .4,-2.9 .3,1.6 .4,2.1 .3,-2.4 .4,2 .3,2.8 .4,-4 .3,.5 .4,-2.8 .3,2.8 .4,-1.3 .3,.5 .4,-.6 .3,1.5 .4,-1.8 .3,-1.6 .4,.7 .3,1.6 .4,3.7 .3,-1.2 .4,-1.3 .3,.4 .4,.6 .3,-.2 .4,3 .3,-3.5 .4,3.7 .3,-4.5 .4,-.4 .3,-1.3 .4,6.7 .3,-3.9 .4,2.8 .3,-1.6 .4,-1.6 .3,.2 .4,-3.7 .3,-2.3 .4,3 .3,3 .4,-1.6 .3,-.7 .4,4.5 .3,-3.8 .4,-3.9 .3,9.4 .4,-3.9 .3,-4 .4,7.3 .3,-2.6 .4,2.5 .3,-.9 .4,-2.5 .3,-2.3 .4,1.6 .3,3.1 .4,-1.6 .3,1.2 .4,-2 .3,-2.2 .4,-2 .3,3 .4,-1.6 .3,2 .4,3.8 .3,-3.8 .4,7.5 .3,-5.9 .4,.1 .3,.4 .4,1.8 .3,-1.1 .4,1.9 .3,-2.7 .4,1.3 .3,1.2 .4,.3 .3,-3.8 .4,3.2 .3,-1.5 .4,-4.7 .3,-3.1 .4,6 .3,-.6 .4,.7 .3,-.4 .4,-4.8 .3,6.3 .4,.4 .3,-2 .4,.7 .3,-1.4 .4,1.9 .3,3.8 .4,-1.6 .3,-4.9 .4,-1.3 .3,3.4 .4,2 .3,-2.9 .4,1.1 .3,-2.4 .4,3.9 .3,-3.1 .4,.8 .3,2.9 .4,-5.4 .3,.3 .4,4.3 .3,-1.1 .4,-4.4 .3,1.8 .4,-.2 .3,-.3 .4,5.1 .3,-4.1 .4,.6 .3,-2.6 .4,-1.2 .3,.7 .4,2.6 .3,4.3 .4,-3.9 .3,2.2 .4,-1.1 .3,2.6 .4,-4.8 .3,6.8 .4,-5.2 .3,-.3 .4,-1.1 .3,1.1 .4,-1 .3,1.1 .4,-.2 .3,2.1 .4,-1.1 .3,-5.2 .4,5.6 .3,-2.6 .4,2.6 .3,-2.6 .4,-1.9 .3,-3.6 .4,2.7 .3,.5 .4,3.1 .3,-4.3 .4,-.4 .3,5.9 .4,-2 .3,.5 .4,-1.7 .3,.1 .4,3.6 .3,-5.7 .4,.1 .3,2.5 .4,2 .3,-2.9 .4,-1 .3,5.7 .4,-2.6 .3,-1.9 .4,4.9 .3,-2.7 .4,-.1 .3,1.5 .4,1.6 .3,-4.1 .4,-1.6 .3,4 .4,-3.3 .3,3.2 .4,-.6 .3,-6.1 .4,2.9 .3,1 .4,7.3 .3,-4.2 .4,-5.1 .3,-1.1 .4,8.8 .3,-5.7 .4,2.6 .3,-7.6 .4,6.6 .3,-.4 .4,-2.1 .3,-.3 .4,1 .3,-6.6 .4,2.1 .3,5.7 .4,-1.9 .3,-4.1 .4,5.3 .3,-2.6 .4,1.8 .3,-1.3 .4,2.2 .3,-3.5 .4,.6 .3,-.2 .4,2.3 .3,1.2 .4,-4.5 .3,9.1 .4,-6.3 .3,2.6 .4,-6.5 .3,-3 .4,6 .3,-.9 .4,.3 .3,.3 .4,-2.7 .3,2.7 .4,-.9 .3,3.1 .4,-.1 .3,-.8 .4,6 .3,-2.9 .4,-1.7 .3,-2.8 .4,-1.1 .3,6.5 .4,-7.1 .3,-.6 .4,-1 .3,3.2 .4,2.7 .3,3.3 .4,-3 .3,-1.1 .4,4.1 .3,-6.5 .4,.6 .3,-3.3 .4,5.6 .3,-.7 .4,2.6 .3,-5.2 .4,1.4 .3,2.8 .4,-4 .3,-1.9 .4,4.7 .3,.8 .4,-1.2 .3,-2.8 .4,-.3 .3,-.1 .4,3.6 .3,-4.7 .4,2.1 .3,-.5 .4,4.3 .3,-1.1 .4,-3.4 .3,4.1 .4,-.2 .3,.7 .4,2.3 .3,-2 .4,.7 .3,-2.7 .4,-3.1 .3,4.2 .4,-4.7 .3,-1.9 .4,3.6 .3,-.6 .4,-2.3 .3,4.5 .4,3.4 .3,-1.5 .4,-2.5 .3,3 .4,-2.8 .3,1.8 .4,-2.8 .3,1.1 .4,-3 .3,2.5 .4,-.1 .3,0 .4,3.9 .3,-3.2 .4,-2.5 .3,4.6 .4,-5.8 .3,2.2 .4,3.8 .3,-3.3 .4,5.5 .3,-5.5 .4,.3 .3,-.7 .4,1.8 .3,-.1 .4,.1 .3,.5 .4,2.1 .3,-1.7 .4,-.2 .3,.3 .4,.8 .3,-.6 .4,1.1 .3,-1.4 .4,-1.2 .3,-1.8 .4,-.5 .3,3 .4,-5.7 .3,4.6 .4,2.3 .3,-1 .4,4.4 .3,-2.6 .4,.1 .3,-3.5 .4,-.1 .3,1.6 .4,1.2 .3,-2.5 .4,4.1 .3,1.2 .4,-3 .3,-.6 .4,-1 .3,-2.4 .4,5.8 .3,-2.1 .4,2.5 .3,1.8 .4,-3.5 .3,-4.6 .4,-2.6 .3,7.3 .4,-6.2 .3,4.5 .4,-3.1 .3,7.1 .4,-2.6 .3,-1 .4,1.6 .3,.6 .4,-2.7 .3,2.2 .4,2.9 .3,-4.9 .4,-.2 .3,1.7 .4,3.2 .3,-8.7 .4,5.8 .3,-1.9 .4,-3.7 .3,5.8 .4,-4.8 .3,1.6 .4,1.1 .3,-.3 .4,1.1 .3,-2.1 .4,.8 .3,0 .4,-3.2 .3,5.6 .4,3.1 .3,-5 .4,1.1 .3,4.1 .4,-6.7 .3,3 .4,-3.6 .3,-1.7 .4,2.3 .3,.2 .4,1.9 .3,-2.9 .4,2.9 .3,1.9 .4,-6.1 .3,1.9 .4,1.2 .3,-2.2 .4,5.7 .3,-2.8 .4,-1.3 .3,1.6 .4,-.9 .3,1 .4,2.6 .3,-6.1 .4,2.4 .3,1.8 .4,1 .3,2.5 .4,-7.4 .3,2.8 .4,4.3 .3,-2.3 .4,-2.3 .3,.6 .4,4.3 .3,-1.8 .4,.2 .3,-3.2 .4,1 .3,2.4 .4,5.1 .3,-6.6 .4,6.1 .3,-5.5 .4,2.8 .3,-.9 .4,-2.1 .3,-3.2 .4,4.3 .3,-5.3 .4,7.9 .3,-3.7 .4,-.1 .3,4.1 .4,1.2 .3,-7.6 .4,-2.6 .3,3.7 .4,.5 .3,-.4 .4,-.3 .3,3.6 .4,-1.6 .3,-2.7 .4,.1 .3,1.1 .4,-.3 .3,-.5 .4,-1.9 .3,6.9 .4,-5.1 .3,.2 .4,4.9 .3,-2.4 .4,-1.8 .3,2.5 .4,1.2 .3,-4.7 .4,5 .3,.6 .4,-3.7 .3,5.4 .4,-.3 .3,-10.9 .4,3.5 .3,-3.1 .4,1.8 .3,-3.4 .4,8.7 .3,-8.5 .4,4.9 .3,-3.7 .4,-.8 .3,2.8 .4,6.2 .3,-3.6 .4,.1 .3,.2 .4,2.9 .3,1.8 .4,-1.8 .3,-3.3 .4,6.1 .3,-3.2 .4,-.7 .3,.8 .4,-.2 .3,-3.5 .4,2 .3,-2.7 .4,2.6 .3,.2 .4,-4.4 .3,4.9 .4,.5 .3,-3.9 .4,.5 .3,.7 .4,1.2 .3,-.3 .4,2.6 .3,-1.8 .4,1.5 .3,-.4 .4,-1.5 .3,-.3 .4,-.6 .3,-1.1 .4,1.3 .3,1.1 .4,-1.5 .3,-2 .4,10 .3,-4 .4,3.5 .3,-9.8 .4,6.6 .3,-5 .4,5.3 .3,-4.1 .4,1.9 .3,-4.7 .4,1.5 .3,.4 .4,-1.9 .3,3.7 .4,-3.1 .3,2 .4,2.2 .3,0 .4,-1.2 .3,-4 .4,-.9 .3,.3 .4,-1.2 .3,2.8 .4,1 .3,1.3 .4,1.7 .3,-3.2 .4,-.1 .3,-1.1" fill="none" stroke-width="1.8" stroke-linejoin="round"/>
<path d="M458.2,760.0l.4,3.6 .3,-.9 .4,-5.3 .3,4.6 .4,-5.6 .3,1.3 .4,.3 .3,2.4 .4,1.4 .3,-5.1 .4,4.8 .3,-3.2 .4,-2.5 .3,.1 .4,5.1 .3,-2.8 .4,1.1 .3,1 .4,-3.6 .3,-1.3 .4,-.4 .3,5 .4,-2.6 .3,-.9 .4,4.4 .3,2.2 .4,-2.9 .3,-2.1 .4,-1.7 .3,1.1 .4,.6 .3,2 .4,1.3 .3,-4 .4,.9 .3,2.4 .4,1.2 .3,-8.1 .4,3.4 .3,3.4 .4,-1.1 .3,-2.6 .4,1.7 .3,2.7 .4,-.1 .3,-1.6 .4,-5 .3,1.3 .4,3.5 .3,-3.5 .4,2.5 .3,5.5 .4,-7.1 .3,4 .4,-1 .3,2.3 .4,-.6 .3,.3 .4,-.6 .3,-1.1 .4,3.5 .3,-5.2 .4,-.3 .3,1.7 .4,3.8 .3,1.9 .4,-6.7 .3,2.2 .4,2.3 .3,-2.1 .4,-1.3 .3,-.6 .4,2.2 .3,-.9 .4,-1.6 .3,4.4 .4,-4.1 .3,1.3 .4,-.4 .3,3 .4,-1.8 .3,-3.1 .4,-.1 .3,-.8 .4,4.3 .3,-2 .4,-.3 .3,1.6 .4,-5.6 .3,4 .4,1.7 .3,-.9 .4,-.6 .3,1.3 .4,-4.5 .3,3.8 .4,-7.6 .3,2.3 .4,6 .3,-3.4 .4,1.8 .3,5.5 .4,-2.5 .3,-4.6 .4,1.1 .3,.7 .4,10 .3,20.1 .4,21.7 .3,13 .4,13.9 .3,7.1 .4,3.2 .3,6.8 .4,2.1 .3,-.7 .4,-1.6 .3,-4 .4,5.4 .3,-6.7 .4,-5.6 .3,4.2 .4,-8.1 .3,2.2 .4,-2.9 .3,-3.8 .4,-4.5 .3,-2.2 .4,1.5 .3,-2.3 .4,1.2 .3,-4.9 .4,-1.3 .3,-4.7 .4,1.9 .3,-.3 .4,-5.7 .3,1.5 .4,.9 .3,-9.7 .4,.9 .3,1.3 .4,-.2 .3,-4 .4,-3.4 .3,.5 .4,1.1 .3,-4.4 .4,-.5 .3,-.6 .4,-3.1 .3,.8 .4,-4 .3,-5.4 .4,-.1 .3,2 .4,.3 .3,-.7 .4,-.7 .3,-3.6 .4,-1.1 .3,4.5 .4,-1.7 .3,1.1 .4,-2 .3,-.3 .4,-1.1 .3,-1.1 .4,-6.3 .3,5.4 .4,-4.2 .3,4.6 .4,.1 .3,-2.8 .4,2.5 .3,-1.9 .4,-2 .3,.4 .4,.1 .3,-1.1 .4,-3.7 .3,1.6 .4,-.4 .3,-1.1 .4,2.4 .3,-3.1 .4,3.1 .3,-4.1 .4,-5 .3,5.1 .4,-1.3 .3,4.8 .4,-4.4 .3,5.4 .4,-5.1 .3,-1.2 .4,2.8 .3,-4.1 .4,2 .3,-2.5 .4,-2.3 .3,-2.1 .4,-.3 .3,4.3 .4,-4.5 .3,6.5 .4,.1 .3,-.5 .4,-.5 .3,-.2 .4,1.1 .3,-2.4 .4,1.8 .3,-2.7 .4,2.4 .3,-5.9 .4,5.9 .3,-5.2 .4,7.2 .3,-1.8 .4,-4.9 .3,1.9 .4,2.1 .3,-6.9 .4,3.4 .3,-.1 .4,-.9 .3,-1 .4,1.3 .3,-.7 .4,.5 .3,.3 .4,-1.3 .3,5.1 .4,-2 .3,-2.6 .4,1.1 .3,1.9 .4,2.1 .3,-3.5 .4,.8 .3,-3.4 .4,2 .3,-1.1 .4,-3.4 .3,8.5 .4,-5.1 .3,1.1 .4,.6 .3,2.7 .4,-3.1 .3,1.8 .4,.1 .3,-.6 .4,-2.5 .3,-1.8 .4,.4 .3,3.3 .4,4.5 .3,-6.8 .4,1.1 .3,-4.9 .4,6 .3,-1.5 .4,-5.3 .3,1.8 .4,1.4 .3,-1.1 .4,2.6 .3,-.1 .4,-.7 .3,.7 .4,2.4 .3,-3.3 .4,1 .3,-.5 .4,2.3 .3,-4.5 .4,1.2 .3,-4 .4,3.7 .3,3 .4,-5.1 .3,5.5 .4,-3.8 .3,.2 .4,1.1 .3,1.7 .4,.4 .3,-.5 .4,-3.1 .3,.8 .4,.7 .3,1.5 .4,.7 .3,-.4 .4,-3.8 .3,3.4 .4,1.9 .3,0 .4,1.9 .3,-1.2 .4,-6.4 .3,7.2 .4,-7.6 .3,3.9 .4,-2.4 .3,2.5 .4,-1 .3,-7.2 .4,5.3 .3,-2.1 .4,.6 .3,1.9 .4,2.7 .3,-5.7 .4,2.2 .3,-.2 .4,1.8 .3,.1 .4,2.6 .3,-5.2 .4,1.5 .3,-1.8 .4,2.3 .3,.9 .4,3.1 .3,-2.6 .4,2.5 .3,-1.1 .4,-2.8 .3,-2.1 .4,2.8 .3,.1 .4,1.2 .3,-1.6 .4,2.8 .3,.1 .4,-1.5 .3,-1.6 .4,2.7 .3,-2.8 .4,1.8 .3,.1 .4,-4.3 .3,-1.7 .4,-3.2 .3,5.9 .4,.8 .3,-.4 .4,1.2 .3,.3 .4,-4.6 .3,2.3 .4,1.4 .3,2.6 .4,-5 .3,-.3 .4,3 .3,-4.3 .4,3.9 .3,1.9 .4,-1.7 .3,-2.1 .4,-.5 .3,4.5 .4,-.6 .3,-1.5 .4,1.8 .3,-1.8 .4,-1.8 .3,5.6 .4,-2.3 .3,.1 .4,-.3 .3,-1.6 .4,-4.4 .3,4 .4,1.3 .3,-2.8 .4,.3 .3,4.8 .4,-4.2 .3,.2 .4,-1.5 .3,3.7 .4,-4 .3,-3.2 .4,6.6 .3,.2 .4,.8 .3,-5.9 .4,3.1 .3,1.2 .4,-1.6 .3,-5.9 .4,4.3 .3,2.6 .4,-1.1 .3,-3.6 .4,5.1 .3,-4 .4,2.9 .3,1.4 .4,-2.7 .3,.2 .4,-.7 .3,1.4 .4,-5.8 .3,2.1 .4,10.5 .3,26.1 .4,34.2 .3,28.1 .4,23.1 .3,16.2 .4,12.7 .3,4.7 .4,5 .3,1.5 .4,-3.5 .3,-1.9 .4,3.6 .3,-4.9 .4,-4.6 .3,-5.9 .4,-2.4 .3,-3 .4,-9.7 .3,.6 .4,.1 .3,-7.3 .4,-2.3 .3,-7 .4,-1.9 .3,0 .4,-7.2 .3,-.5 .4,-3.8 .3,-4.8 .4,-.3 .3,-2.8 .4,-4 .3,-.6 .4,-3.9 .3,-9.1 .4,1.7 .3,5.1 .4,-6.5 .3,-1.2 .4,-1.7 .3,-1.5 .4,-5.9 .3,2.4 .4,-5.2 .3,-2 .4,.9 .3,.2 .4,-9.4 .3,2.8 .4,1.9 .3,.4 .4,-3.7 .3,.2 .4,-2.6 .3,-3.5 .4,.2 .3,-5.8 .4,.5 .3,.6 .4,1.2 .3,-1.1 .4,-.9 .3,-7.6 .4,3.7 .3,-.8 .4,5.9 .3,-8.1 .4,1 .3,-2.6 .4,-3.9 .3,-3.3 .4,4.6 .3,-.7 .4,.6 .3,-.6 .4,-2.1 .3,7 .4,-7.5 .3,1.4 .4,-7.2 .3,.1 .4,-.2 .3,2.1 .4,-.5 .3,.3 .4,-.1 .3,-4.3 .4,.1 .3,-7.5 .4,9 .3,-.1 .4,.5 .3,.1 .4,.2 .3,-4.5 .4,3.6 .3,-3.5 .4,3.9 .3,-1.8 .4,-5.1 .3,.8 .4,0 .3,.1 .4,-3.3 .3,3.6 .4,2.4 .3,-6.2 .4,2.9 .3,.9 .4,-.7 .3,-3.9 .4,-2.5 .3,4.9 .4,3 .3,-3.1 .4,-1.3 .3,2.6 .4,.5 .3,-2.3 .4,2.2 .3,-2.2 .4,-.2 .3,-8.9 .4,8.7 .3,-2.9 .4,-1.9 .3,2.2 .4,-3.6 .3,5.5 .4,-2.8 .3,2.2 .4,-1.4 .3,-1.2 .4,-1.5 .3,3.5 .4,-2.9 .3,.7 .4,-.8 .3,.5 .4,0 .3,-3.8 .4,1.5 .3,-2.9 .4,5.5 .3,-2.9 .4,-.3 .3,4.2 .4,-1.9 .3,-3.1 .4,3.4 .3,-.5 .4,-4.8 .3,3.3 .4,-.6 .3,1.9 .4,1 .3,-2.4 .4,6 .3,-4.6 .4,2 .3,2.7 .4,-.6 .3,-6.8 .4,5.3 .3,-5.2 .4,7.4 .3,-6.3 .4,1.6 .3,-1.8 .4,-1.6 .3,7.6 .4,-5.2 .3,-.3 .4,-1 .3,2.5 .4,-1.9 .3,2.6 .4,-1.9 .3,-1.6 .4,-1.9 .3,3.6 .4,1.3 .3,-3.3 .4,-3 .3,3.2 .4,3.2 .3,-2.8 .4,1.7 .3,3.1 .4,-2.8 .3,.6 .4,1.1 .3,-1.9 .4,2.2 .3,-.9 .4,-.8 .3,-1.1 .4,-3.4 .3,5.7 .4,-1.1 .3,1 .4,-1.3 .3,-4.9 .4,6.3 .3,-2.4 .4,-.7 .3,-4.4 .4,7 .3,1.1 .4,1.2 .3,-2.3 .4,1.8 .3,-1.4 .4,-4.1 .3,-1.2 .4,-3.8 .3,7.4 .4,.1 .3,-2.4 .4,6.7 .3,-7.7 .4,5.8 .3,-.5 .4,-5.9 .3,3.6 .4,0 .3,-1.1 .4,3.3 .3,-3.5 .4,2.8 .3,5.1 .4,-3.1 .3,-1.4 .4,2.7 .3,-1.1 .4,-3 .3,1.5 .4,-6.7 .3,4.1 .4,-2.1 .3,2.7 .4,1.9 .3,-1 .4,3.9 .3,-7.3 .4,-3.4 .3,7 .4,-2 .3,-2.3 .4,1.3 .3,5.1 .4,-.5 .3,-3.7 .4,1 .3,5.6 .4,-8.1 .3,2.7 .4,1.4 .3,-2.6 .4,3.1 .3,2.8 .4,1.4 .3,-5.1 .4,2.4 .3,-3.7 .4,.4 .3,3.9 .4,0 .3,1 .4,-3 .3,-5.1 .4,4.5 .3,-3.5 .4,3.4 .3,1.7 .4,-4.6 .3,3.5 .4,-4.8 .3,-1.9 .4,9.8 .3,-5 .4,0 .3,4.4 .4,.6 .3,-1.5 .4,-1.6 .3,-3.8 .4,-.3 .3,3.6 .4,-2.9 .3,1.1 .4,-1.9 .3,7.1 .4,-.1 .3,.5 .4,-.9 .3,-3.4 .4,2.8 .3,-1.9 .4,-.9 .3,.5 .4,-.6 .3,2 .4,-3.7 .3,-.5 .4,1.4 .3,2.3 .4,.8 .3,-5.7 .4,3.7 .3,-4.5 .4,4.7 .3,1.6 .4,-2.3 .3,-5.9 .4,2.4 .3,1.2 .4,5.7 .3,-4.7 .4,-3.5 .3,-.4 .4,-1.2 .3,.7 .4,1.5 .3,3.7 .4,-.7 .3,0 .4,-5.6 .3,4.2 .4,-2.3 .3,2 .4,-1 .3,1.4 .4,0 .3,-2.5 .4,-1.8 .3,3.7 .4,1.2 .3,-1.8 .4,0 .3,2.3 .4,-3.8 .3,1.2 .4,-1 .3,2.6 .4,3.1 .3,-5.6 .4,-.7 .3,4.8 .4,-2 .3,-.3 .4,-3.3 .3,.6 .4,1.2 .3,3.6 .4,1 .3,-8 .4,7.8 .3,.8 .4,-3.2 .3,-4.7 .4,5.8 .3,-.4 .4,-3.3 .3,-2.6 .4,-.3 .3,6.6 .4,-.4 .3,3.2 .4,-7.8 .3,4.2 .4,2.5 .3,-5.4 .4,2.2 .3,.9 .4,2.2 .3,-3.8 .4,-4.2 .3,1.4 .4,.9 .3,-1 .4,1.5 .3,-2.3 .4,1.9 .3,4.2 .4,-4.6 .3,3.7 .4,-1 .3,-1.9 .4,.9 .3,1.7 .4,3.9 .3,-.7 .4,-3.6 .3,1.4 .4,-4 .3,7.5 .4,-8.7 .3,8.2 .4,-1 .3,-1.7 .4,-3.6 .3,-1.3 .4,2 .3,3.3 .4,-1.5 .3,2.1 .4,-.8 .3,-1.8 .4,2.4 .3,-.4 .4,-3.8 .3,4.6 .4,-2.4 .3,2.2 .4,-2.4 .3,-.1 .4,-.3 .3,2.1 .4,.7 .3,-1.4 .4,-3.6 .3,1.1 .4,-1 .3,.9 .4,2 .3,.1 .4,-1.6 .3,-.8 .4,0 .3,-3 .4,6.6 .3,-2.7 .4,3.5 .3,-1.4 .4,-4.6 .3,3.7 .4,1 .3,.9 .4,-6.8 .3,5.1 .4,.7 .3,1.7 .4,1.5 .3,-5.4 .4,3.2 .3,-1.7 .4,-1.2 .3,5.1 .4,-3.5 .3,-.8 .4,.9 .3,1.6 .4,-.3 .3,-2.7 .4,-3 .3,-1.5 .4,-.5 .3,3.8 .4,2.5 .3,-2.6 .4,4.9 .3,.5 .4,-2.9 .3,-2.4 .4,.7 .3,.8 .4,0 .3,.1 .4,-5.4 .3,4.9 .4,3 .3,-.7 .4,1.4 .3,.6 .4,-6.1 .3,.3 .4,2.1 .3,-2.8 .4,8.5 .3,-1.3 .4,-10 .3,8.9 .4,-.2 .3,-1.7 .4,1.1 .3,-1 .4,3 .3,-5.3 .4,-1.9 .3,-1.1 .4,8.2 .3,-3 .4,-.3 .3,1.5 .4,.7 .3,-2.5 .4,.6 .3,-2.6 .4,-1 .3,4.5 .4,.4 .3,-2.4 .4,-.8 .3,-2.6 .4,.5 .3,2.2 .4,2.7 .3,-4.3 .4,2.8 .3,-1.3 .4,1.5 .3,-1.6 .4,-.4 .3,-2.7 .4,3.9 .3,-5.5 .4,1 .3,4.7 .4,-4.6 .3,1.4 .4,0 .3,1.5 .4,-4 .3,6.4 .4,-.7 .3,-2.3 .4,-2.5 .3,4.7 .4,-.7 .3,-4.8 .4,4.2 .3,-1.2 .4,2.2 .3,-1.8 .4,4 .3,-5.5 .4,1.3 .3,-1.6 .4,.2 .3,.5 .4,4.3 .3,-1.7 .4,-2.3 .3,-5.9 .4,5.5 .3,-5.7 .4,8.3 .3,-5.2 .4,1.3 .3,3 .4,-.7 .3,.2 .4,-1 .3,6.4 .4,-6.3 .3,1.7 .4,4.3 .3,-7.3 .4,1.1 .3,1.7 .4,.8 .3,-.6 .4,-.2 .3,.9 .4,-4 .3,.1 .4,4.9 .3,-6.8 .4,.8 .3,-1.2 .4,3.8 .3,-1.4 .4,3.7 .3,-1.3 .4,-1.4 .3,2 .4,2.2 .3,-2.1 .4,-1.9 .3,-.8 .4,2.1 .3,-2.4 .4,1.9 .3,-1.8 .4,1.1 .3,3.9 .4,-3.8 .3,1.5 .4,-1.9 .3,.7 .4,3.3 .3,-2.7 .4,.7 .3,-.1 .4,-.3 .3,-1.2 .4,2.5 .3,1.6 .4,-4.5 .3,4.1 .4,-2.5 .3,-1.1 .4,3.8 .3,-.7 .4,-2.7 .3,5.1 .4,-2.7 .3,-3.1 .4,5.5 .3,0 .4,-4.4 .3,2.2 .4,-3 .3,5.1 .4,-3.9 .3,.1 .4,4.5 .3,-1.9 .4,.1 .3,-2.5 .4,3 .3,-1.4 .4,-1.2 .3,-1.3 .4,2 .3,-.2 .4,2.1 .3,-4.8 .4,0 .3,-.5 .4,4.3 .3,.2" fill="none" stroke-width="1.8" stroke-linejoin="round"/>
<path d="M458.2,754.9l.4,1.1 .3,-4 .4,-2.6 .3,1.1 .4,5 .3,.2 .4,-1.7 .3,-.9 .4,2.6 .3,-.7 .4,1.5 .3,.1 .4,-3.3 .3,3.6 .4,-3 .3,-.6 .4,-1 .3,.2 .4,1.6 .3,-.9 .4,-.5 .3,3 .4,1 .3,-2.6 .4,-1.9 .3,4.8 .4,-.7 .3,-1.2 .4,2.4 .3,-2.8 .4,.3 .3,-2.3 .4,-1.5 .3,.4 .4,-2.4 .3,10.9 .4,-5.4 .3,4.6 .4,-6.3 .3,2.2 .4,-.5 .3,-.4 .4,1.6 .3,-2.8 .4,1.3 .3,-2.1 .4,-.1 .3,-.6 .4,3.9 .3,1.7 .4,1.2 .3,2.3 .4,-2.5 .3,-.6 .4,-3.6 .3,5.5 .4,-3.7 .3,-.4 .4,1 .3,-4.3 .4,-1.4 .3,.4 .4,8.8 .3,-7.1 .4,5.2 .3,.7 .4,-1.2 .3,-2.8 .4,.5 .3,1.7 .4,3.5 .3,-8 .4,3.3 .3,-3 .4,2.1 .3,4.2 .4,-6.2 .3,5.5 .4,-2.9 .3,.8 .4,-1.6 .3,1.3 .4,3.1 .3,-6.5 .4,4.7 .3,-1.9 .4,.7 .3,2.4 .4,.1 .3,-6.3 .4,2.7 .3,3.4 .4,-3.9 .3,1.3 .4,-1.4 .3,-.9 .4,3 .3,.5 .4,-2.5 .3,-1.1 .4,5.9 .3,-.7 .4,-1.9 .3,1 .4,-.2 .3,-6.4 .4,13.1 .3,10.1 .4,12.1 .3,8.1 .4,5.4 .3,14.1 .4,.3 .3,8.9 .4,-6.7 .3,-.6 .4,4.7 .3,-2.4 .4,-3.6 .3,-1.2 .4,-2.2 .3,-1.2 .4,-2.7 .3,2.8 .4,0 .3,1.1 .4,-7.8 .3,-5.2 .4,1.6 .3,-.3 .4,-.5 .3,-2.4 .4,-3.7 .3,3.5 .4,2.6 .3,-12 .4,-1.1 .3,5.5 .4,1.2 .3,-5 .4,-.6 .3,-.2 .4,-.4 .3,-4.6 .4,2.1 .3,-1.4 .4,-2.5 .3,1 .4,1.8 .3,-4.8 .4,3.8 .3,-.4 .4,-.4 .3,-6.6 .4,3 .3,3.7 .4,-7.9 .3,8.4 .4,-8 .3,2.7 .4,-1.6 .3,.8 .4,-4.9 .3,-.5 .4,.5 .3,.5 .4,3.2 .3,-3.2 .4,-.2 .3,-.8 .4,-3.4 .3,2.7 .4,3.1 .3,-4 .4,-.8 .3,1.5 .4,7.9 .3,-13.2 .4,7.5 .3,-4.5 .4,6.5 .3,-6.8 .4,.3 .3,1.5 .4,-1 .3,.4 .4,-4.3 .3,3.1 .4,-3.9 .3,-.1 .4,-.7 .3,-.7 .4,-1.5 .3,5.3 .4,1.2 .3,1.6 .4,-8.7 .3,5 .4,-2.7 .3,2.5 .4,-3.4 .3,-.3 .4,.4 .3,.5 .4,.7 .3,1.7 .4,-2.5 .3,1 .4,-2.1 .3,3.8 .4,-3.1 .3,-4.4 .4,5 .3,0 .4,-.9 .3,1.1 .4,-4.3 .3,6.2 .4,-8.2 .3,6.3 .4,-1.3 .3,.9 .4,.1 .3,3.8 .4,-3.9 .3,-.2 .4,-.7 .3,-4.7 .4,4.9 .3,1.9 .4,-3.5 .3,.3 .4,2.5 .3,-4.3 .4,5 .3,-2.7 .4,-3.5 .3,5 .4,-.9 .3,-1.5 .4,.7 .3,-5.7 .4,3.4 .3,4 .4,-.6 .3,-.5 .4,-3.6 .3,3.3 .4,-2.4 .3,3.9 .4,.4 .3,1 .4,-4.5 .3,-1 .4,2.2 .3,2.5 .4,-3 .3,-1.4 .4,2.6 .3,1.3 .4,1.1 .3,-.3 .4,-1.4 .3,.8 .4,2 .3,-1.9 .4,.6 .3,-2.5 .4,6.7 .3,-4.8 .4,.2 .3,-8.5 .4,7 .3,-.2 .4,-2.5 .3,1.2 .4,1 .3,-.5 .4,-1.4 .3,-4.2 .4,2.9 .3,-5.4 .4,4.5 .3,3.5 .4,.3 .3,-.3 .4,-1.4 .3,-.3 .4,.5 .3,.5 .4,-2.6 .3,5.2 .4,-3 .3,-6.8 .4,8.5 .3,-6.8 .4,1.1 .3,3.7 .4,.8 .3,-4.1 .4,3.7 .3,-2 .4,5.4 .3,-4.7 .4,1.8 .3,-3.7 .4,3.3 .3,.4 .4,.7 .3,-2.6 .4,1.3 .3,-1 .4,-1.5 .3,.9 .4,2.4 .3,-4.3 .4,7.1 .3,.5 .4,-4.8 .3,4.6 .4,-5.3 .3,3.6 .4,-3.6 .3,1 .4,-.4 .3,-.2 .4,2.1 .3,-2.7 .4,-3 .3,2.6 .4,4 .3,-5.7 .4,-.1 .3,1.7 .4,5.6 .3,-6.3 .4,2.8 .3,-1 .4,-2.4 .3,1 .4,.4 .3,-3.7 .4,4.7 .3,.2 .4,-.7 .3,-3.6 .4,-1 .3,8.6 .4,-7.8 .3,7 .4,-12.4 .3,6.7 .4,.2 .3,5.6 .4,-5.7 .3,4.6 .4,-3.7 .3,-1.9 .4,2.4 .3,-2.9 .4,1 .3,1 .4,2 .3,-6.3 .4,5.5 .3,-1 .4,3 .3,-2.6 .4,-1.2 .3,5.5 .4,-6.3 .3,3.5 .4,2.4 .3,-4.4 .4,2.2 .3,1.6 .4,-1.9 .3,2.8 .4,1.3 .3,-3.7 .4,-5.5 .3,2.5 .4,4.3 .3,-.6 .4,-.4 .3,1.5 .4,-.3 .3,-.7 .4,-2.5 .3,2.6 .4,-6.7 .3,1.7 .4,3.5 .3,-1.1 .4,-3.1 .3,5.5 .4,-1.2 .3,.8 .4,-.5 .3,-2.6 .4,2.7 .3,2.4 .4,-1.4 .3,-.1 .4,.4 .3,-.1 .4,.4 .3,-3.8 .4,-1.3 .3,1.8 .4,-1 .3,-2.7 .4,4 .3,.8 .4,-4.6 .3,-2.5 .4,5.8 .3,.6 .4,-.4 .3,1.2 .4,-5.3 .3,6.1 .4,.4 .3,2.6 .4,-4.6 .3,-.3 .4,5.7 .3,-7.5 .4,5.1 .3,-4.4 .4,-2.4 .3,2.2 .4,-1.9 .3,3.1 .4,-1.3 .3,3.3 .4,.7 .3,-1.3 .4,-2.1 .3,-1.3 .4,2.5 .3,.1 .4,1.8 .3,-3.1 .4,-2.3 .3,3.7 .4,-3.5 .3,4.9 .4,-1.7 .3,-2.8 .4,-3.1 .3,1.2 .4,1.9 .3,-2.5 .4,6 .3,-2.8 .4,4.5 .3,-.3 .4,.4 .3,1.8 .4,-4.7 .3,-.7 .4,.6 .3,-5.5 .4,6 .3,-.1 .4,.6 .3,-3.1 .4,2.8 .3,.3 .4,-2.9 .3,.8 .4,-2 .3,2.5 .4,4.4 .3,-5.1 .4,.5 .3,1.3 .4,-.4 .3,-.2 .4,1.4 .3,-3.2 .4,.9 .3,3.5 .4,-1.7 .3,1.2 .4,-3.3 .3,.6 .4,-1.8 .3,3.9 .4,-3.6 .3,2.4 .4,2.8 .3,-2.1 .4,-4.2 .3,1.8 .4,-3.6 .3,2.2 .4,1.3 .3,3.9 .4,1.6 .3,-1.5 .4,2.6 .3,-5.7 .4,4.7 .3,-3.5 .4,-3 .3,6.4 .4,-2.5 .3,1.6 .4,-5.4 .3,1 .4,18.1 .3,31.3 .4,27.3 .3,16.6 .4,15.6 .3,6.6 .4,12.1 .3,7.9 .4,-8.2 .3,4.7 .4,-.4 .3,-2.9 .4,4.8 .3,-10.3 .4,-3.8 .3,-.3 .4,-.5 .3,-6.5 .4,-5.7 .3,-1.5 .4,-.9 .3,-4.6 .4,-2.7 .3,-2.3 .4,-1.7 .3,1.3 .4,-4.1 .3,-3.7 .4,-2.3 .3,-2.6 .4,-4 .3,2.4 .4,-9.4 .3,1.5 .4,-3.7 .3,-4.1 .4,3.6 .3,-3.5 .4,-5.5 .3,-.6 .4,2.1 .3,-6 .4,2.3 .3,.2 .4,-4.1 .3,1.7 .4,-5.8 .3,-4.2 .4,3.4 .3,-7.6 .4,4.9 .3,2.8 .4,-5.2 .3,-5.3 .4,3.3 .3,-2.2 .4,-.9 .3,-5 .4,2.1 .3,-.6 .4,-1.9 .3,4.8 .4,-6.1 .3,3 .4,-2.5 .3,-5.6 .4,-1.5 .3,2.2 .4,3.5 .3,-7.6 .4,6.7 .3,-7.7 .4,4.2 .3,-4.1 .4,-2.4 .3,6.7 .4,-6.9 .3,1.8 .4,.9 .3,1.2 .4,-4.2 .3,2.5 .4,-2.2 .3,-4.8 .4,4.7 .3,-2.2 .4,-.9 .3,-1.1 .4,-2.5 .3,-.8 .4,-1.4 .3,2.7 .4,4.9 .3,-.2 .4,-1.9 .3,-.8 .4,-6.3 .3,1.3 .4,4.3 .3,-5.8 .4,3.1 .3,1 .4,-.9 .3,.1 .4,-2.5 .3,2.6 .4,-5.8 .3,3.9 .4,-2.4 .3,4.2 .4,-2.4 .3,-2.2 .4,2.7 .3,4.2 .4,-6.4 .3,-1.8 .4,2.7 .3,.4 .4,-.4 .3,-5.8 .4,3.9 .3,-3.2 .4,4.2 .3,-.6 .4,.4 .3,-1.5 .4,.2 .3,-4.3 .4,3.1 .3,.3 .4,-1.1 .3,-2.4 .4,2.1 .3,-2.9 .4,5.3 .3,-2.8 .4,1 .3,1.8 .4,-4.1 .3,.1 .4,4.7 .3,-2.7 .4,.2 .3,1.4 .4,-2.3 .3,-1 .4,2.4 .3,-3.1 .4,-2.5 .3,2.6 .4,-1.2 .3,3.8 .4,1.7 .3,-2.9 .4,.5 .3,-.2 .4,-.2 .3,-.4 .4,.5 .3,2.2 .4,-1.8 .3,2.3 .4,-6.1 .3,0 .4,3.5 .3,2.7 .4,-5.2 .3,-2.5 .4,-2.2 .3,-.5 .4,6 .3,-3.4 .4,-2.3 .3,5.3 .4,-4 .3,3.8 .4,1.9 .3,-4.4 .4,-.6 .3,6.2 .4,-.1 .3,1.9 .4,-4 .3,-1.5 .4,4 .3,-3.4 .4,3.8 .3,-3.7 .4,1.2 .3,2.1 .4,-3.4 .3,2.3 .4,-4.3 .3,.2 .4,2 .3,-1.6 .4,3.3 .3,-.4 .4,1.2 .3,-2.5 .4,3.4 .3,-4.7 .4,-1.7 .3,4.6 .4,.2 .3,-4.1 .4,3.6 .3,-3.5 .4,4 .3,.1 .4,2.7 .3,-3.7 .4,.3 .3,.4 .4,-5.3 .3,5.5 .4,-2.4 .3,2.2 .4,-1.6 .3,-1.5 .4,6.7 .3,-6.3 .4,.3 .3,.6 .4,-4 .3,4.7 .4,2.2 .3,-5.6 .4,4.4 .3,-1.6 .4,-.4 .3,1 .4,-2.4 .3,-.6 .4,6.5 .3,-3.5 .4,2.2 .3,-2.7 .4,4.3 .3,-3.7 .4,-3.1 .3,.7 .4,-1.2 .3,5.3 .4,-1.1 .3,-.1 .4,2.7 .3,-5.3 .4,.5 .3,-2.6 .4,3.8 .3,-2.8 .4,-.7 .3,3.5 .4,3.2 .3,-3.4 .4,-1.8 .3,3.9 .4,-1 .3,.2 .4,-1.7 .3,-5.1 .4,6.7 .3,.8 .4,1.8 .3,-2.3 .4,-1.8 .3,1.6 .4,-1.3 .3,1 .4,-.3 .3,2.5 .4,1.1 .3,-3.3 .4,.8 .3,0 .4,1.8 .3,.6 .4,-5.4 .3,1.5 .4,2.9 .3,-4 .4,2.1 .3,3.2 .4,-2 .3,1.3 .4,-1.7 .3,-7.7 .4,4.1 .3,3.8 .4,1.4 .3,-1 .4,-2 .3,4.3 .4,-3.2 .3,-2.7 .4,3 .3,-2.2 .4,2.5 .3,-1 .4,-3.1 .3,-1.5 .4,.7 .3,6.7 .4,-3 .3,-4.6 .4,3.3 .3,1.1 .4,-.1 .3,.2 .4,0 .3,3.2 .4,-4.4 .3,.5 .4,6.5 .3,-6.5 .4,-4.1 .3,3.5 .4,1.5 .3,-.5 .4,-3.2 .3,3.6 .4,4.2 .3,-3.4 .4,-.3 .3,-1.6 .4,.8 .3,1 .4,-1.3 .3,.4 .4,-2 .3,2.8 .4,3.2 .3,-3.4 .4,3.7 .3,-4.2 .4,1.6 .3,-2.5 .4,3.2 .3,-1.8 .4,.7 .3,1.6 .4,-.2 .3,-6.8 .4,8.5 .3,-5.8 .4,2.1 .3,1.3 .4,-1.5 .3,-2.4 .4,6.8 .3,-1.1 .4,-1.6 .3,-1.3 .4,.6 .3,-1.3 .4,1.8 .3,0 .4,-2.1 .3,-1.5 .4,.9 .3,5.2 .4,-5.4 .3,1 .4,2.3 .3,.2 .4,-1.6 .3,-3.1 .4,5.4 .3,-2.9 .4,4.4 .3,-.5 .4,1.8 .3,-1.2 .4,-1.3 .3,-1 .4,-4.6 .3,3.4 .4,4.7 .3,-2.8 .4,-4.7 .3,-.2 .4,-1.6 .3,5.4 .4,.7 .3,-2.5 .4,-.2 .3,2.3 .4,3.8 .3,-2.9 .4,.6 .3,1.2 .4,.2 .3,-6.7 .4,3.7 .3,1.9 .4,-.3 .3,-.8 .4,.5 .3,-5 .4,4 .3,-6.5 .4,5 .3,-.2 .4,3.7 .3,-.6 .4,-5.5 .3,4.1 .4,2.5 .3,-6 .4,8.3 .3,-7.7 .4,0 .3,1.9 .4,-.1 .3,.7 .4,1.5 .3,.7 .4,-4.1 .3,1.7 .4,3.2 .3,-2.1 .4,1.1 .3,1.1 .4,-5.2 .3,.6 .4,1.1 .3,-.2 .4,-2.7 .3,.9 .4,4.5 .3,-.7 .4,-2.4 .3,-1.3 .4,.7 .3,5.9 .4,-1.6 .3,2.3 .4,-5.4 .3,-1.6 .4,-3.3 .3,3.1 .4,1.1 .3,-1.8 .4,3.4 .3,-5.4 .4,5.9 .3,-5.4 .4,2.8 .3,1.7 .4,-5.8 .3,-.1 .4,.5 .3,3 .4,-.6 .3,2.8 .4,-2.2 .3,2.4 .4,-1 .3,-.3 .4,1.2 .3,-1.2 .4,1 .3,3.2 .4,-12.2 .3,8.6 .4,.8 .3,1.4 .4,.9 .3,-3.3 .4,-1.7 .3,2.3 .4,4.3 .3,-3.6 .4,-.4 .3,-3.8 .4,2.9 .3,-2.2 .4,-2 .3,4.4 .4,-2.6 .3,.3 .4,-.1 .3,2.6 .4,-3.9 .3,.6 .4,-.8 .3,1.8 .4,-5.3 .3,6.9 .4,-2 .3,-1.6 .4,-.9 .3,-.9 .4,.2 .3,5.9 .4,-2.5 .3,1.5 .4,-3.7 .3,1.3 .4,2.4 .3,-2.2 .4,4.7 .3,2.1 .4,-7.4 .3,-1.4 .4,4.4 .3,-9.2 .4,8.3 .3,-4.5 .4,2.2 .3,1.8 .4,1.3 .3,-4.4 .4,-1.3 .3,5.9 .4,1.2 .3,2.4 .4,-5.8 .3,1.9 .4,-2.6 .3,-3 .4,1.4 .3,4.4 .4,-4.3 .3,-1 .4,5.4 .3,-.6 .4,-2.4 .3,.4 .4,.2 .3,-2.4" fill="none" stroke-width="1.8" stroke-linejoin="round"/>
<path d="M458.2,752.1l.4,4.2 .3,-1.9 .4,5 .3,-3.9 .4,-1.4 .3,2.1 .4,-1.3 .3,.2 .4,-4.5 .3,2.9 .4,-1.1 .3,6.3 .4,-1.7 .3,4.2 .4,.5 .3,-5.5 .4,2.6 .3,-3.2 .4,2 .3,-1 .4,-.3 .3,2.3 .4,-.2 .3,-3.7 .4,2.9 .3,.7 .4,-.4 .3,-8.4 .4,1.1 .3,.5 .4,4.6 .3,-1 .4,-.4 .3,1.5 .4,-1.4 .3,3.6 .4,-1.2 .3,.6 .4,1.1 .3,-1.3 .4,-3.1 .3,3.1 .4,-1.3 .3,-2 .4,-1.4 .3,1 .4,.1 .3,5.7 .4,-10.8 .3,2.5 .4,5.4 .3,1.1 .4,-2.1 .3,-1.2 .4,-1.6 .3,2.3 .4,-3.8 .3,3.7 .4,-3.7 .3,2.7 .4,2 .3,-3.1 .4,.3 .3,-1.3 .4,6.7 .3,-6.9 .4,1.8 .3,4.8 .4,-6.2 .3,-.2 .4,-2.1 .3,5.7 .4,-1.5 .3,-4.1 .4,.5 .3,7.5 .4,-4.6 .3,1.5 .4,.1 .3,1.3 .4,2.2 .3,-4.1 .4,-3.9 .3,5.6 .4,-3 .3,-2.3 .4,2.6 .3,4 .4,-4.9 .3,-2.3 .4,.6 .3,.9 .4,.6 .3,.9 .4,1.3 .3,-1.5 .4,2.6 .3,4.2 .4,-4.3 .3,1.1 .4,-1.2 .3,.2 .4,.9 .3,-2 .4,.4 .3,-3.1 .4,12.8 .3,23.9 .4,17.7 .3,21.4 .4,14.1 .3,6 .4,5.8 .3,5.1 .4,-3.2 .3,3.8 .4,2.9 .3,1.3 .4,-8.9 .3,0 .4,1.5 .3,-4.6 .4,-4.5 .3,-.6 .4,-1.8 .3,-2.3 .4,1.4 .3,-4.9 .4,-2.1 .3,-.6 .4,-3.7 .3,-1.9 .4,-7.3 .3,-2.8 .4,3.4 .3,-.6 .4,-2.1 .3,-5.2 .4,-4.4 .3,-.5 .4,1.4 .3,-5.1 .4,-3.8 .3,1.6 .4,5.1 .3,-4.1 .4,-2 .3,-2.6 .4,-2.2 .3,-4.1 .4,6.7 .3,-4.7 .4,1.7 .3,-4.1 .4,-2.9 .3,.8 .4,-1.5 .3,-1.1 .4,-1.7 .3,-2.1 .4,-3.1 .3,2.8 .4,-3.6 .3,.8 .4,-.2 .3,2.3 .4,-.8 .3,-2.6 .4,2.6 .3,-4.5 .4,2.1 .3,-1.6 .4,-4.4 .3,1.3 .4,-1.8 .3,.2 .4,1 .3,2.2 .4,3.8 .3,-5.4 .4,-2.6 .3,.8 .4,-4.7 .3,2.6 .4,2.9 .3,-3.9 .4,-1.9 .3,2.5 .4,.8 .3,-1 .4,-1.5 .3,.3 .4,-2.4 .3,.6 .4,-2 .3,-.7 .4,3.7 .3,-2.8 .4,.6 .3,-.2 .4,-2 .3,4.7 .4,-4.4 .3,-1 .4,4.1 .3,-7.1 .4,3.7 .3,-2.1 .4,4.4 .3,-7.2 .4,8.4 .3,-4.5 .4,4.6 .3,-6.5 .4,1.2 .3,-4.2 .4,4.6 .3,-1.4 .4,2.7 .3,-3.4 .4,2 .3,1 .4,-7.6 .3,1.6 .4,-1.9 .3,9.6 .4,-3.7 .3,.4 .4,3.6 .3,-.8 .4,-8.2 .3,1.7 .4,4.8 .3,-2.8 .4,-.1 .3,-1.7 .4,0 .3,-1.8 .4,1.8 .3,1.5 .4,-.8 .3,-2 .4,-1.8 .3,-1.7 .4,5.7 .3,1.5 .4,-4.3 .3,1.5 .4,-.9 .3,-1.8 .4,-1.2 .3,-.1 .4,-2.3 .3,-2.1 .4,5.7 .3,4 .4,-3.2 .3,-.3 .4,3.2 .3,3.4 .4,-3.8 .3,-1 .4,.1 .3,-2.9 .4,-2.9 .3,5.3 .4,-1.9 .3,2.6 .4,-1.3 .3,.8 .4,-.8 .3,-4.1 .4,2.2 .3,1.1 .4,-1.1 .3,.7 .4,3 .3,-2.9 .4,3.4 .3,-4.7 .4,1.8 .3,-1.9 .4,1.1 .3,-.4 .4,-1.5 .3,-.2 .4,.3 .3,2.1 .4,-3.5 .3,-.3 .4,6 .3,-3 .4,.3 .3,1.7 .4,-2.3 .3,-4 .4,4.5 .3,2.5 .4,-5.3 .3,-3.2 .4,1.5 .3,5.9 .4,-3.5 .3,3.7 .4,-1.2 .3,-2.8 .4,-.2 .3,1.6 .4,-5.5 .3,5.2 .4,2.6 .3,-.5 .4,1.8 .3,-1.4 .4,-1.1 .3,-1.1 .4,-8.5 .3,4.8 .4,2.4 .3,2.3 .4,1.2 .3,-7.5 .4,5.3 .3,1.9 .4,-.5 .3,-.9 .4,-1.4 .3,2.6 .4,-4.9 .3,1.9 .4,.4 .3,-1.4 .4,2.9 .3,.3 .4,-1.4 .3,-1.6 .4,.5 .3,-5.3 .4,5.2 .3,-.9 .4,2.1 .3,-2.4 .4,2 .3,-.4 .4,-3.3 .3,5.4 .4,-.5 .3,-2.4 .4,4.2 .3,-2.2 .4,2.1 .3,.4 .4,-.9 .3,-2.1 .4,-5.7 .3,5.4 .4,.9 .3,3.2 .4,-2.4 .3,.5 .4,-.7 .3,-2.1 .4,1.7 .3,1.1 .4,.4 .3,-1.3 .4,-.8 .3,-3.2 .4,1.3 .3,.9 .4,1.5 .3,-8 .4,1.5 .3,1.4 .4,-1.2 .3,8.5 .4,-1.4 .3,-1 .4,0 .3,.7 .4,-5.3 .3,2 .4,1.5 .3,2.8 .4,-3.4 .3,3.1 .4,-1 .3,-1.4 .4,1.8 .3,-3.3 .4,-1 .3,6.4 .4,-3.3 .3,.3 .4,-.8 .3,-.9 .4,1.2 .3,-1 .4,-2.9 .3,1.5 .4,.6 .3,-.1 .4,1.3 .3,-3.4 .4,3.3 .3,-1.9 .4,.7 .3,-.5 .4,2.9 .3,-2.6 .4,.8 .3,.9 .4,-2.9 .3,-3.4 .4,3.7 .3,-1.6 .4,-.5 .3,-.8 .4,.2 .3,2.9 .4,-1 .3,5.7 .4,1.8 .3,-4.8 .4,-3.9 .3,2.6 .4,5.6 .3,-3 .4,-3.2 .3,2.2 .4,-.9 .3,-3.7 .4,-.9 .3,7.1 .4,-4.4 .3,.5 .4,3.7 .3,-4.8 .4,2.2 .3,-.3 .4,-.3 .3,-3 .4,2.3 .3,5.9 .4,-7.4 .3,4.9 .4,-2.8 .3,3.2 .4,-7.3 .3,3 .4,3 .3,.5 .4,-4.3 .3,-2 .4,5.8 .3,-1.3 .4,.9 .3,-6.6 .4,7.7 .3,-1.3 .4,-5.4 .3,3.9 .4,-.7 .3,3.5 .4,-3.9 .3,-3.6 .4,5 .3,2.6 .4,4 .3,-7.5 .4,-1.4 .3,4.8 .4,.1 .3,-2.6 .4,1.2 .3,-.9 .4,-1 .3,2.7 .4,-8 .3,5.6 .4,3.7 .3,-.6 .4,-6.3 .3,7.5 .4,-7.9 .3,5.3 .4,-4.5 .3,5.1 .4,-.3 .3,1.4 .4,.5 .3,-2 .4,-.2 .3,-4.7 .4,6.9 .3,-2.9 .4,2.2 .3,-1.6 .4,3.1 .3,-4 .4,-4.1 .3,6.2 .4,-3.5 .3,2.8 .4,2.5 .3,-2.9 .4,-1.1 .3,-3.3 .4,4.2 .3,1.9 .4,1 .3,-6.6 .4,3.6 .3,3.1 .4,-6.7 .3,4.4 .4,2.2 .3,-.9 .4,2.9 .3,-9.4 .4,1.6 .3,-1 .4,4.8 .3,-5.1 .4,6.7 .3,-2 .4,-.9 .3,1.7 .4,3 .3,-4.7 .4,-1.3 .3,1.1 .4,-4.6 .3,6.5 .4,.3 .3,-2.1 .4,2 .3,-.2 .4,-5.1 .3,4.4 .4,2.3 .3,-.8 .4,2.6 .3,.3 .4,-8 .3,5.3 .4,-.7 .3,1.1 .4,-2 .3,2.7 .4,-2.1 .3,.6 .4,1.8 .3,-4.2 .4,2.4 .3,.9 .4,-3.4 .3,-1.9 .4,.9 .3,-.7 .4,-.3 .3,4.2 .4,5.8 .3,-5.7 .4,-2.7 .3,1 .4,6.5 .3,-4.4 .4,.1 .3,-1.9 .4,1.6 .3,-2.6 .4,3.7 .3,-3.9 .4,-2.6 .3,-.2 .4,.1 .3,.4 .4,6.7 .3,3.2 .4,-5 .3,-.5 .4,.9 .3,-3.6 .4,4.1 .3,-5.7 .4,3.2 .3,0 .4,1.2 .3,-1 .4,2.9 .3,-.4 .4,.4 .3,-1.8 .4,3.5 .3,-5.3 .4,-.5 .3,-.7 .4,6 .3,-4.7 .4,6.3 .3,-4.9 .4,-6.2 .3,4.4 .4,4.6 .3,-3 .4,5.8 .3,-7.4 .4,3.5 .3,-5.2 .4,1.1 .3,1.2 .4,-.8 .3,14.6 .4,25.1 .3,22 .4,18.7 .3,19.6 .4,8.5 .3,10.4 .4,6.8 .3,1.2 .4,1.7 .3,.2 .4,-.3 .3,-4.7 .4,.1 .3,-1.3 .4,-8.3 .3,-1.7 .4,-8.5 .3,1 .4,-4.9 .3,2.2 .4,-2 .3,-5.8 .4,1.4 .3,-4.8 .4,-5.2 .3,-1.6 .4,.7 .3,-8.1 .4,-.6 .3,-3 .4,-1.4 .3,-4.4 .4,-1.4 .3,2.4 .4,-2.2 .3,1.1 .4,-5.6 .3,-.8 .4,.3 .3,-9.1 .4,2.5 .3,-1.5 .4,-2.1 .3,-2.6 .4,-3.6 .3,2.5 .4,-4.1 .3,-3.4 .4,-.3 .3,-2 .4,-.3 .3,4.7 .4,-2.1 .3,-2.2 .4,1 .3,-2.1 .4,-6.9 .3,4.8 .4,-10.2 .3,7.8 .4,-3.8 .3,-3 .4,2.3 .3,.4 .4,.5 .3,-4.5 .4,2.2 .3,-2.8 .4,-1.7 .3,.3 .4,.1 .3,1.9 .4,-4.8 .3,3.5 .4,-3.2 .3,.1 .4,-.3 .3,-2.7 .4,.6 .3,-.2 .4,.3 .3,2.8 .4,-7.1 .3,3.9 .4,-6.7 .3,3.9 .4,4.7 .3,-3.8 .4,-2.8 .3,3.3 .4,1.7 .3,.4 .4,-4.9 .3,.4 .4,1.1 .3,-3.6 .4,-.1 .3,-.4 .4,-2.2 .3,1.3 .4,6.7 .3,-11.8 .4,7.7 .3,-4.1 .4,4.2 .3,-1.4 .4,-3.7 .3,4.1 .4,-3.7 .3,.1 .4,2.8 .3,1.2 .4,-1.6 .3,.2 .4,-1.6 .3,1.8 .4,-2.1 .3,-1 .4,-6.5 .3,4.9 .4,-4.3 .3,3.8 .4,0 .3,.3 .4,1.8 .3,5.8 .4,-1.8 .3,-4.5 .4,3.9 .3,-2.1 .4,-2.6 .3,.1 .4,-2.7 .3,-3.9 .4,5.3 .3,1.1 .4,-2.3 .3,3.4 .4,-.7 .3,-6.3 .4,8.1 .3,-.7 .4,-2.4 .3,-.1 .4,1.5 .3,-2.1 .4,1.1 .3,-1 .4,-.2 .3,1.2 .4,-2.2 .3,.1 .4,2.9 .3,-1.6 .4,.4 .3,3.2 .4,-3.2 .3,-2.9 .4,5.3 .3,-2.8 .4,-.7 .3,-2 .4,.8 .3,2.5 .4,-2.2 .3,-4.6 .4,5 .3,-1.4 .4,-2.4 .3,7.6 .4,-6.6 .3,.2 .4,1.7 .3,.6 .4,-2.5 .3,3.3 .4,2.3 .3,1.8 .4,-5.5 .3,.4 .4,-1.6 .3,1 .4,5.6 .3,-1.2 .4,1.1 .3,3 .4,-.7 .3,-4.8 .4,-7.5 .3,6.1 .4,-5.1 .3,3.6 .4,.8 .3,2 .4,-.3 .3,6 .4,-7.5 .3,2.8 .4,1.1 .3,-.9 .4,-.5 .3,.2 .4,-4.2 .3,2.4 .4,4.4 .3,-5.8 .4,5.8 .3,-6.3 .4,3.2 .3,2.9 .4,-3.4 .3,-.7 .4,-2.4 .3,1.9 .4,-4.2 .3,-.2 .4,9.1 .3,-6.1 .4,4.3 .3,-1 .4,.8 .3,-3.2 .4,-3.1 .3,3.1 .4,-.6 .3,-4.6 .4,3.3 .3,3.9 .4,-4.8 .3,.3 .4,1.9 .3,2.3 .4,-6.3 .3,2.5 .4,1 .3,3.4 .4,-2.1 .3,2.4 .4,-2.1 .3,4.9 .4,-5.6 .3,2.1 .4,-.3 .3,3.3 .4,-2.2 .3,1.6 .4,-1.1 .3,-.1 .4,-1.6 .3,-4.3 .4,.8 .3,1.6 .4,1.1 .3,-3.3 .4,8.1 .3,-6 .4,-6.6 .3,5.7 .4,-1.3 .3,-1.1 .4,3.8 .3,4.4 .4,-1.3 .3,-5 .4,2.2 .3,1.5 .4,-6.1 .3,2 .4,5.9 .3,-3.2 .4,.9 .3,-2.8 .4,-2.3 .3,5 .4,5.6 .3,-11.7 .4,7 .3,0 .4,.1 .3,-.9 .4,.4 .3,-2.4 .4,-4.3 .3,6.2 .4,-.2 .3,-4 .4,1.3 .3,-.3 .4,.3 .3,-4.5 .4,4.4 .3,.8 .4,-1.3 .3,1.2 .4,-6.2 .3,5.4 .4,-1.1 .3,-3.4 .4,4.2 .3,-3.8 .4,1.4 .3,.1 .4,1.1 .3,5.4 .4,-.2 .3,-5.8 .4,1.6 .3,-2.2 .4,-1.4 .3,5.1 .4,-.1 .3,1.1 .4,-.5 .3,1.9 .4,-7.2 .3,3.5 .4,6.1 .3,-4.6 .4,-2.8 .3,2 .4,2.8 .3,-1.3 .4,-1.3 .3,-1.2 .4,-6 .3,7.1 .4,-6.1 .3,4.3 .4,.3 .3,1.6 .4,-1.8 .3,.9 .4,-.2 .3,-1.4 .4,3.6 .3,-5.1 .4,5.6 .3,-.3 .4,-2.9 .3,-1 .4,3.3 .3,-1.5 .4,.1 .3,1.4 .4,-2.2 .3,3.6 .4,-2.7 .3,-.8 .4,-.9 .3,1.8 .4,-5.1 .3,3.9 .4,3.7 .3,-.9 .4,1.1 .3,-1.1 .4,-3.5 .3,-4.7 .4,2.5 .3,3.2 .4,.4 .3,.6 .4,-2.9 .3,3.7 .4,-1 .3,-.8 .4,2.3 .3,-5.1 .4,4.7 .3,-3.3 .4,-2.3 .3,1.2 .4,.3 .3,5.3 .4,.5 .3,-5.6 .4,1.8 .3,-2.1 .4,4.4 .3,-6.1 .4,4.3 .3,-1.8 .4,5 .3,-1.8 .4,-2.8 .3,.9 .4,3.8 .3,-4.1 .4,-1.5 .3,5.5 .4,-1.5 .3,-3.8 .4,.7 .3,0 .4,1.7 .3,.7 .4,.6 .3,2.7 .4,-7 .3,4.7 .4,-6.4 .3,4.7 .4,-2 .3,.9 .4,.6 .3,-4.5 .4,5.1 .3,-2.4 .4,3.8 .3,-4.9 .4,1.8 .3,1.2 .4,1.2 .3,-1.1 .4,5.8 .3,-4.2 .4,-1.6 .3,.7 .4,-1.6 .3,1.7 .4,-5.1 .3,2.6 .4,2.3 .3,-1.1 .4,4 .3,-.9 .4,-2.6 .3,2 .4,-2.6 .3,2" fill="none" stroke-width="1.8" stroke-linejoin="round"/>
<path d="M458.2,748.7l.4,-1.7 .3,-.7 .4,6.4 .3,-3.1 .4,3.8 .3,-3.4 .4,.7 .3,-3 .4,1.9 .3,3.4 .4,-4.8 .3,-.3 .4,5.8 .3,-6.3 .4,-.7 .3,.9 .4,3.5 .3,-4.1 .4,2.4 .3,1.1 .4,2.3 .3,.5 .4,1.2 .3,-5.5 .4,-4.1 .3,8.8 .4,-4 .3,.3 .4,4.7 .3,-4.1 .4,1.2 .3,3.3 .4,-7.4 .3,6.4 .4,-8.6 .3,6.2 .4,-.5 .3,-.3 .4,1.5 .3,1.1 .4,-2.2 .3,2.9 .4,-1 .3,-1.1 .4,-1.9 .3,-2.3 .4,2.7 .3,-4.9 .4,3.9 .3,.1 .4,4.6 .3,-4.6 .4,4.9 .3,-4.9 .4,5 .3,-4.9 .4,1.5 .3,0 .4,-1.5 .3,1.4 .4,-1.2 .3,2.2 .4,-6.4 .3,5.8 .4,-.5 .3,1.1 .4,-3.7 .3,.5 .4,.1 .3,7 .4,-.8 .3,-1.8 .4,2 .3,-2.4 .4,-3.1 .3,3.5 .4,-.5 .3,2.5 .4,-2.2 .3,-3.9 .4,6.5 .3,-2.2 .4,-.5 .3,-4.2 .4,2.3 .3,-1.4 .4,-1.6 .3,-.4 .4,-1.2 .3,1.4 .4,1.1 .3,1.6 .4,0 .3,5.5 .4,-4.7 .3,-1.9 .4,3 .3,-1.8 .4,3.7 .3,-2.7 .4,.7 .3,-5 .4,3.6 .3,-1.6 .4,1 .3,-2.9 .4,8.2 .3,19.6 .4,12.9 .3,14.6 .4,13.2 .3,10.1 .4,3.6 .3,-5.2 .4,3.8 .3,-3.9 .4,-1.6 .3,-1.9 .4,2.8 .3,-2.1 .4,-.9 .3,1.7 .4,-3.2 .3,-4.3 .4,-1.5 .3,1 .4,-1.5 .3,1.3 .4,-2.8 .3,-4.6 .4,-3.2 .3,-1 .4,2.2 .3,-2.6 .4,-2 .3,-.7 .4,-.5 .3,-6.3 .4,-.2 .3,3.3 .4,-4.6 .3,-2.9 .4,-1.7 .3,3.9 .4,-6.4 .3,-1.2 .4,1.3 .3,-1.3 .4,.6 .3,-.3 .4,.4 .3,-2.6 .4,-2.1 .3,-2.8 .4,1.3 .3,-2.6 .4,.3 .3,1.1 .4,-3.5 .3,4.6 .4,-5.2 .3,-1.1 .4,2.7 .3,.4 .4,-1.2 .3,-5.7 .4,6 .3,-6.5 .4,1.5 .3,-7.3 .4,5 .3,.6 .4,-6.5 .3,6 .4,.7 .3,-1.4 .4,-.5 .3,-.5 .4,2 .3,-7.8 .4,7.1 .3,-2.9 .4,-2.1 .3,.4 .4,-.6 .3,3.7 .4,.1 .3,-2.2 .4,3.2 .3,-5.1 .4,3.1 .3,-6.2 .4,6.4 .3,-5.3 .4,.8 .3,-2.8 .4,.8 .3,3.6 .4,-3.2 .3,2.4 .4,-2.2 .3,.6 .4,-1.7 .3,1.1 .4,-1.6 .3,1.3 .4,2.5 .3,.6 .4,.7 .3,-2.9 .4,.3 .3,-1.5 .4,1.2 .3,4.2 .4,-6 .3,-.4 .4,1.3 .3,-1.9 .4,1.9 .3,-.8 .4,-5.2 .3,3.9 .4,1.4 .3,-3.2 .4,2.4 .3,2.1 .4,-5.4 .3,5.3 .4,-7.5 .3,5 .4,.7 .3,1.8 .4,-1.4 .3,1.4 .4,-1 .3,-4 .4,.4 .3,3.1 .4,-.6 .3,-4.5 .4,6.4 .3,-7.8 .4,7.5 .3,-1.6 .4,1 .3,-3.6 .4,.5 .3,2.2 .4,-1.5 .3,-3.1 .4,-2 .3,3.5 .4,-1.9 .3,-1.5 .4,1.4 .3,3.8 .4,-1.6 .3,-2.8 .4,2.1 .3,-2.7 .4,2.2 .3,.7 .4,3.7 .3,-4.4 .4,.9 .3,-3.5 .4,-1.5 .3,-.1 .4,2 .3,.3 .4,.9 .3,-1.1 .4,-1.7 .3,3.8 .4,-2.7 .3,-2.3 .4,1.7 .3,-.7 .4,.8 .3,-1 .4,7 .3,1.1 .4,-2.3 .3,-.8 .4,1.1 .3,-4.3 .4,-1.2 .3,1 .4,-1.8 .3,5.6 .4,-2.8 .3,-.4 .4,1.5 .3,-1.7 .4,-.2 .3,.7 .4,2.8 .3,-4.7 .4,3 .3,-3.8 .4,1.2 .3,-.8 .4,.6 .3,.5 .4,3 .3,-2.7 .4,.3 .3,-1.2 .4,3.6 .3,-1.9 .4,1.7 .3,-1.9 .4,-5.8 .3,3.5 .4,2.9 .3,-1.9 .4,2.1 .3,-2.7 .4,6.1 .3,-.1 .4,-2.5 .3,1.5 .4,-.7 .3,-4.5 .4,4.2 .3,-2.5 .4,1.2 .3,-7 .4,3.6 .3,2.7 .4,-1.7 .3,3 .4,4 .3,-6.2 .4,-.5 .3,1.4 .4,.9 .3,-3.6 .4,5.5 .3,-3.1 .4,-1.5 .3,2.5 .4,6.2 .3,-6.5 .4,-4.3 .3,4.6 .4,3 .3,-7.5 .4,5.4 .3,-1.8 .4,1 .3,1.4 .4,-6.1 .3,1.9 .4,2.8 .3,.8 .4,.5 .3,2.5 .4,-3.7 .3,-1.3 .4,2.6 .3,-3 .4,.4 .3,-.2 .4,1.6 .3,-1.8 .4,-1.3 .3,2.7 .4,-.9 .3,1.3 .4,.7 .3,-.4 .4,.9 .3,.5 .4,-5.5 .3,-1.6 .4,7.6 .3,-2.3 .4,4.3 .3,-7.1 .4,1.1 .3,1.1 .4,2.2 .3,-3.4 .4,1.7 .3,2.1 .4,-8.3 .3,8 .4,-7.2 .3,5.8 .4,-4.1 .3,-1.9 .4,4.6 .3,2.1 .4,-1.6 .3,.7 .4,.5 .3,-.4 .4,-2.6 .3,8.1 .4,-3.1 .3,-3.8 .4,-.4 .3,-2 .4,2.4 .3,-1.8 .4,8 .3,-3.8 .4,1.5 .3,-1.9 .4,-.3 .3,.7 .4,-2.4 .3,1.5 .4,-3.8 .3,-1.5 .4,4.2 .3,2.2 .4,5.6 .3,-3.9 .4,1.7 .3,.6 .4,-6.3 .3,2.5 .4,2.2 .3,-7.3 .4,1.1 .3,2.9 .4,-.5 .3,2.9 .4,-2.5 .3,.4 .4,-.5 .3,-.1 .4,-2 .3,7.5 .4,.6 .3,-5 .4,-1.7 .3,-.5 .4,3 .3,.1 .4,1.8 .3,-2.8 .4,1 .3,-.9 .4,-1.5 .3,-2 .4,5.2 .3,-5.2 .4,2.3 .3,-1.5 .4,5.3 .3,-4.1 .4,-2.3 .3,.8 .4,2.2 .3,4.7 .4,-3.3 .3,-.7 .4,-2.5 .3,.4 .4,6.4 .3,-3.6 .4,2 .3,-8.9 .4,6.2 .3,-4.1 .4,2.9 .3,3 .4,1.1 .3,-1.9 .4,.6 .3,-2 .4,1.3 .3,-5.7 .4,5.7 .3,-3.1 .4,1.2 .3,5.2 .4,-2.4 .3,-3 .4,-5.2 .3,7.5 .4,0 .3,-3.1 .4,6.9 .3,-4.4 .4,-.6 .3,1.4 .4,-.7 .3,-.9 .4,4.7 .3,-4.5 .4,-3.9 .3,6.5 .4,-1.3 .3,-.1 .4,4.5 .3,-1.5 .4,-7.9 .3,3.3 .4,1.9 .3,-2.1 .4,2 .3,-2.2 .4,-3.3 .3,.8 .4,3 .3,.4 .4,3.1 .3,.6 .4,-6.1 .3,1.4 .4,3.2 .3,3.9 .4,-1.7 .3,1 .4,.3 .3,-.6 .4,-6.1 .3,2.4 .4,3 .3,-4.4 .4,-.3 .3,-.4 .4,-2.2 .3,2.2 .4,1.3 .3,1.3 .4,1.7 .3,-3.6 .4,2.2 .3,-3.7 .4,.6 .3,3.5 .4,-4.3 .3,6.7 .4,-4 .3,-2.7 .4,4 .3,.3 .4,-2.8 .3,-.2 .4,1.1 .3,-.2 .4,-5.5 .3,1.9 .4,.5 .3,4.7 .4,-1.4 .3,-2.1 .4,2.3 .3,.9 .4,-.6 .3,-1.5 .4,0 .3,2.8 .4,-1.6 .3,-2.8 .4,3.4 .3,-1.6 .4,-3.1 .3,1.8 .4,.3 .3,-1.5 .4,.6 .3,5.1 .4,-6.6 .3,2.1 .4,.4 .3,-.8 .4,.6 .3,-2.5 .4,-.4 .3,-2.8 .4,5.4 .3,.5 .4,-1.8 .3,1.4 .4,-.5 .3,.7 .4,.2 .3,4.3 .4,-1.7 .3,-2.4 .4,-3.9 .3,.5 .4,2.7 .3,-2.1 .4,2.5 .3,-5.5 .4,7.3 .3,-4.9 .4,1 .3,0 .4,0 .3,2 .4,1.9 .3,-6.2 .4,.6 .3,.3 .4,5.9 .3,.4 .4,-5.2 .3,2.9 .4,4.1 .3,-7.2 .4,-1.2 .3,.3 .4,0 .3,-1.1 .4,-.2 .3,1.8 .4,2.7 .3,-4.7 .4,7.7 .3,-3.7 .4,1.8 .3,0 .4,1.7 .3,-2 .4,-2.1 .3,.2 .4,1.9 .3,-.4 .4,.5 .3,.1 .4,-3.8 .3,6.8 .4,-4.3 .3,.8 .4,-1.2 .3,2.2 .4,-2.8 .3,1.3 .4,2 .3,-2.5 .4,-.5 .3,-.5 .4,4.7 .3,-.9 .4,-3 .3,1.3 .4,-4.9 .3,2.1 .4,2 .3,-2 .4,-.5 .3,3.2 .4,-2.9 .3,2.1 .4,-.2 .3,2.4 .4,1.3 .3,-6.7 .4,2.7 .3,2.3 .4,-4.3 .3,4.4 .4,.5 .3,-.6 .4,-.6 .3,-3.6 .4,.1 .3,1.6 .4,2.6 .3,-4.6 .4,2.1 .3,-1.1 .4,.6 .3,2.6 .4,-.5 .3,-1.4 .4,-1.8 .3,.5 .4,-1.2 .3,7 .4,-2.5 .3,-1.4 .4,1.1 .3,-5.9 .4,5.7 .3,-2 .4,-3.2 .3,2.4 .4,2.9 .3,-3 .4,1.9 .3,-3.3 .4,5.6 .3,1.2 .4,-2.3 .3,.7 .4,-4.7 .3,-.8 .4,.6 .3,2.8 .4,-3.8 .3,3.8 .4,-.7 .3,-.1 .4,1.6 .3,-5.5 .4,6.9 .3,-7.5 .4,5.1 .3,-5.9 .4,3.5 .3,5.3 .4,-4.8 .3,1.8 .4,-1.4 .3,.4 .4,3.6 .3,21 .4,23.5 .3,18.5 .4,23.6 .3,16.4 .4,8.6 .3,11.5 .4,2.2 .3,1.9 .4,-4.8 .3,-3.6 .4,1.5 .3,-6.3 .4,-.3 .3,-2.7 .4,-2.4 .3,-.2 .4,-5.5 .3,-6.1 .4,.2 .3,-1.1 .4,-.9 .3,-3.6 .4,1.4 .3,-8.7 .4,-2.9 .3,-3.7 .4,-2.8 .3,-2.6 .4,-2.6 .3,.2 .4,2 .3,-3 .4,-8.7 .3,3.2 .4,-6 .3,2.4 .4,.2 .3,-4.1 .4,-3 .3,-.8 .4,-1.1 .3,1.9 .4,-7.2 .3,.9 .4,-2.5 .3,1.3 .4,-3.1 .3,-.5 .4,-5.3 .3,5 .4,-.4 .3,-7 .4,1.3 .3,5.4 .4,-9.1 .3,-.4 .4,1.4 .3,-.1 .4,-2 .3,-3 .4,.1 .3,-.6 .4,-.6 .3,-1.5 .4,-2.1 .3,.1 .4,2.3 .3,-2.6 .4,5 .3,-3.8 .4,-3.9 .3,-3.7 .4,4.7 .3,-2.8 .4,3.4 .3,-1.4 .4,.5 .3,-2.9 .4,0 .3,2.8 .4,-10.1 .3,7.2 .4,.6 .3,-3.6 .4,1.7 .3,-4.5 .4,.2 .3,1.3 .4,-4.9 .3,.5 .4,1.5 .3,1.9 .4,.2 .3,-3.4 .4,2.8 .3,-3.6 .4,6.1 .3,-3.3 .4,0 .3,-2.8 .4,.7 .3,-1.6 .4,-1.2 .3,9.8 .4,-3.5 .3,-1.6 .4,.1 .3,-1.3 .4,-3 .3,2.4 .4,-1.9 .3,2.8 .4,-.7 .3,-1.6 .4,-2.7 .3,6.9 .4,-.2 .3,-5.4 .4,1.8 .3,-2.1 .4,-1.1 .3,.3 .4,-1.1 .3,3.1 .4,.9 .3,-.8 .4,2.4 .3,-3.3 .4,-2.7 .3,0 .4,2.5 .3,-3.5 .4,3.4 .3,.5 .4,-.7 .3,-1.4 .4,2.2 .3,-2.3 .4,-1.9 .3,1.8 .4,5 .3,-10.6 .4,5.1 .3,-1.9 .4,-1.1 .3,-.3 .4,-1.2 .3,3.1 .4,.1 .3,4.1 .4,-7.3 .3,4.2 .4,-2.2 .3,4.5 .4,-1.7 .3,-4.1 .4,4 .3,.7 .4,.2 .3,-.1 .4,.7 .3,-2.6 .4,0 .3,-3.3 .4,1.5 .3,2.6 .4,-2.4 .3,-1.3 .4,-3.4 .3,6.5 .4,-1.7 .3,-1.5 .4,-1.1 .3,2.1 .4,-.5 .3,3 .4,-3.7 .3,-1.5 .4,1.9 .3,-5 .4,2.6 .3,4.4 .4,-2.8 .3,.1 .4,2.6 .3,.4 .4,-7.3 .3,5.3 .4,1.2 .3,-5.4 .4,4.7 .3,-.6 .4,-1.4 .3,-1 .4,-.8 .3,7.4 .4,-3.3 .3,-2.8 .4,2.6 .3,-3.5 .4,3.3 .3,.2 .4,.8 .3,.1 .4,-2.4 .3,-1.5 .4,.8 .3,-4.8 .4,5 .3,2.7 .4,-3.2 .3,3 .4,-5.8 .3,1.4 .4,1.3 .3,-3.6 .4,7.7 .3,-4.8 .4,3.7 .3,-3.8 .4,-.3 .3,-7.5 .4,6 .3,.9 .4,-4.1 .3,1.7 .4,1.2 .3,2.4 .4,-.4 .3,3.5 .4,1.5 .3,-5.5 .4,2.4 .3,-3.2 .4,-.4 .3,0 .4,5 .3,-6.3 .4,4.9 .3,3.7 .4,-3.8 .3,-1.9 .4,1.6 .3,.8 .4,-2.3 .3,.8 .4,2.4 .3,-.9 .4,-7.7 .3,8.6 .4,-.4 .3,-1 .4,-.1 .3,-.4 .4,-3.5 .3,-1 .4,10.6 .3,-4.2 .4,-1.8 .3,1.6 .4,-1.1 .3,.4 .4,2.5 .3,-3.9 .4,-2.3 .3,.2 .4,3.6 .3,-2.4 .4,.7 .3,1.8 .4,-6.3 .3,7.4 .4,-4.7 .3,3.5 .4,-2.5 .3,3.1 .4,-1.8 .3,2.4 .4,-2.9 .3,.5 .4,2.4 .3,-2 .4,-9.3 .3,6.1 .4,6.6 .3,.2 .4,1.2 .3,-3.4 .4,-6.2 .3,4.5 .4,-4.1 .3,5.6 .4,-1 .3,3.9 .4,-5.1 .3,-.9 .4,1.1 .3,1.1 .4,-1.5 .3,-.7 .4,3.3 .3,-4.5 .4,1.9 .3,-.1 .4,-1.1 .3,1.5 .4,1.5 .3,-3.6 .4,3.6 .3,2 .4,-5.7 .3,.5 .4,3.5 .3,-.8 .4,-.8 .3,.6 .4,-3.4 .3,5.7 .4,-3.6 .3,-3 .4,6 .3,-3 .4,2.4 .3,-5.7 .4,1.8 .3,2.8 .4,1 .3,-1.1" fill="none" stroke-width="1.8" stroke-linejoin="round"/>
<path d="M458.2,747.2l.4,.2 .3,-.4 .4,4.5 .3,-3.8 .4,0 .3,-3.4 .4,-1.9 .3,6.2 .4,-3 .3,-.2 .4,4.3 .3,1.2 .4,-2.2 .3,2.3 .4,-7.2 .3,8.2 .4,-6 .3,1.5 .4,3.7 .3,-1.5 .4,-2.2 .3,-1.5 .4,-3.9 .3,1.5 .4,2.1 .3,-.3 .4,1.1 .3,4.9 .4,-5.4 .3,-3.2 .4,3.1 .3,0 .4,2.7 .3,-4.5 .4,4 .3,.2 .4,-2.8 .3,.8 .4,-2.5 .3,1.1 .4,.1 .3,-.4 .4,3.7 .3,-3.3 .4,4.7 .3,-1.5 .4,3.5 .3,-3.1 .4,-5.7 .3,5.3 .4,-2.4 .3,-.2 .4,2.4 .3,-1.5 .4,3 .3,-2.9 .4,-1.6 .3,-1 .4,-.2 .3,3.4 .4,-1.2 .3,-2.2 .4,-.2 .3,.8 .4,-5.1 .3,4.5 .4,2.6 .3,-2 .4,.9 .3,-2.4 .4,.7 .3,-.3 .4,.3 .3,4 .4,-4.1 .3,1.2 .4,1.7 .3,-2.4 .4,-.7 .3,.8 .4,-3 .3,2.4 .4,-.5 .3,-1.6 .4,3 .3,-1 .4,1.4 .3,-2.3 .4,2.6 .3,-1.7 .4,-1.9 .3,1.8 .4,-1.6 .3,4.5 .4,-.2 .3,6.5 .4,-7.2 .3,5.2 .4,-2.3 .3,-2.6 .4,3.2 .3,-.7 .4,-4.4 .3,3.8 .4,1.7 .3,-3.4 .4,8.8 .3,14.9 .4,25.8 .3,15.3 .4,15 .3,12.9 .4,6 .3,3.1 .4,6.6 .3,-6.2 .4,4 .3,-1.3 .4,1.1 .3,-7.5 .4,-1.2 .3,-2.5 .4,-6 .3,.6 .4,-4.5 .3,-2.6 .4,-3.3 .3,-3.2 .4,4.2 .3,-3.7 .4,-3.5 .3,.9 .4,-6.6 .3,-2.1 .4,1.4 .3,-.4 .4,-6 .3,1.6 .4,.3 .3,-6.4 .4,-.4 .3,-2 .4,-.3 .3,-1.2 .4,-7.2 .3,1.6 .4,2.5 .3,-2.3 .4,-.8 .3,-5.1 .4,4.3 .3,-8 .4,.7 .3,1.8 .4,-2.6 .3,1.1 .4,-5.3 .3,1 .4,-3.6 .3,.2 .4,-1.9 .3,4.4 .4,-4.3 .3,2 .4,-3.5 .3,-.1 .4,1.3 .3,-1.5 .4,2.6 .3,-6.4 .4,.6 .3,.2 .4,-2.1 .3,.1 .4,1.3 .3,-3.3 .4,.6 .3,.9 .4,-1 .3,-3.7 .4,2.2 .3,-5.4 .4,5.9 .3,-3 .4,.2 .3,-.7 .4,-.9 .3,5.1 .4,-3.5 .3,.5 .4,1.3 .3,-5.8 .4,4 .3,-3.2 .4,1.1 .3,-1.8 .4,-1.5 .3,0 .4,4.9 .3,-4.7 .4,-1.6 .3,8.6 .4,-3.1 .3,-3.1 .4,-2.8 .3,1.7 .4,2.1 .3,3.4 .4,-6.1 .3,1.7 .4,3.8 .3,-1.1 .4,-5.6 .3,-1.6 .4,-1.4 .3,.7 .4,2.5 .3,-1.7 .4,1.2 .3,1.8 .4,-3.2 .3,-1.7 .4,-5 .3,7.2 .4,1.7 .3,3.6 .4,3 .3,-9.7 .4,1.3 .3,.2 .4,-2.9 .3,.8 .4,-6.7 .3,4.7 .4,3.6 .3,-4.7 .4,4.6 .3,-.1 .4,-3.6 .3,1.9 .4,1.6 .3,-.6 .4,-3.6 .3,-2.1 .4,4.6 .3,2 .4,-4.8 .3,5.1 .4,-1.7 .3,-4.9 .4,4.5 .3,1.9 .4,3.7 .3,-3.9 .4,1.3 .3,1.8 .4,-3.3 .3,4.4 .4,-5.6 .3,2.2 .4,1.3 .3,-.9 .4,2.6 .3,-5.4 .4,-.1 .3,7.2 .4,-3.9 .3,-3.7 .4,-3.2 .3,3.9 .4,-4.9 .3,5.7 .4,-.1 .3,-1.8 .4,.4 .3,1.4 .4,-4 .3,3.2 .4,.9 .3,-1.8 .4,-5 .3,3.1 .4,-1.1 .3,3.6 .4,.3 .3,1.2 .4,-2.8 .3,3.7 .4,-1.6 .3,-3 .4,-1 .3,3.3 .4,-1.7 .3,3.7 .4,-3.1 .3,3.2 .4,-.6 .3,-.1 .4,-1.1 .3,-2.8 .4,-.8 .3,2.3 .4,-1.4 .3,1.7 .4,-2.4 .3,-3.5 .4,1.5 .3,5.2 .4,-1.1 .3,2.3 .4,-.8 .3,-2.6 .4,4.6 .3,-.9 .4,-1.2 .3,-.5 .4,.9 .3,-3.9 .4,1.3 .3,-1.6 .4,2.8 .3,-5.4 .4,.9 .3,.3 .4,-1.4 .3,5.1 .4,4.3 .3,-7.3 .4,1.4 .3,-1 .4,3 .3,-2.9 .4,-4.9 .3,8.2 .4,-1.7 .3,-.6 .4,.4 .3,.6 .4,.9 .3,-1.4 .4,-2.9 .3,3.3 .4,2.2 .3,-5.4 .4,.6 .3,-.8 .4,4.1 .3,-2.9 .4,3.3 .3,-1.2 .4,-3.7 .3,3.8 .4,1.4 .3,.6 .4,0 .3,-7.7 .4,-.2 .3,2.2 .4,-1.8 .3,7.9 .4,-1.5 .3,-.4 .4,1.5 .3,-4.2 .4,1.7 .3,-1.1 .4,4.2 .3,1.4 .4,-5.9 .3,7.1 .4,-10.2 .3,7.5 .4,-6.1 .3,2 .4,.4 .3,1.2 .4,-.8 .3,-4.8 .4,1.8 .3,1.3 .4,-1 .3,6.2 .4,-.9 .3,-1.3 .4,-1.5 .3,-1.6 .4,-.3 .3,-.5 .4,-1.1 .3,2 .4,1 .3,-1.3 .4,3.5 .3,-1 .4,-5 .3,2.7 .4,2.7 .3,-1.4 .4,.2 .3,.5 .4,-.8 .3,-1.6 .4,.9 .3,1.4 .4,1.3 .3,-2.2 .4,-.8 .3,2.8 .4,-7.8 .3,6.4 .4,0 .3,-.2 .4,-1.9 .3,-3 .4,1.8 .3,-2.6 .4,4.2 .3,3.7 .4,1.7 .3,-2.7 .4,2.5 .3,-2.9 .4,-.2 .3,-3.1 .4,1.4 .3,-.7 .4,2 .3,-2.7 .4,3.4 .3,1.7 .4,-1.5 .3,-1.9 .4,-.3 .3,1.2 .4,3.5 .3,-5.9 .4,3.2 .3,-1 .4,3 .3,-2.2 .4,-1.8 .3,1.2 .4,-3.2 .3,.2 .4,.9 .3,5.7 .4,-1 .3,-3.3 .4,-.1 .3,.5 .4,-2.7 .3,8.3 .4,-5.5 .3,3.2 .4,1 .3,-2.4 .4,-1.7 .3,-1.8 .4,5.4 .3,.4 .4,-3.7 .3,-1.4 .4,1.4 .3,-4.2 .4,5.7 .3,.9 .4,-5.5 .3,.2 .4,5.7 .3,-8.7 .4,3.9 .3,1.1 .4,-.9 .3,0 .4,-1 .3,1.6 .4,.1 .3,3.4 .4,2.2 .3,-1.6 .4,.6 .3,-2.9 .4,2.6 .3,-3.3 .4,2.9 .3,-5.3 .4,2.4 .3,.6 .4,-1.6 .3,.7 .4,.1 .3,-1.6 .4,4.7 .3,-4.3 .4,3.8 .3,2.9 .4,-7.6 .3,6.8 .4,-4.6 .3,.5 .4,2.6 .3,-2.7 .4,.3 .3,.9 .4,-5.1 .3,3.8 .4,.9 .3,-1.1 .4,1.6 .3,-5.2 .4,4.3 .3,-.6 .4,-.8 .3,2.2 .4,-5.3 .3,4.6 .4,-2.8 .3,1 .4,0 .3,1.2 .4,-1.7 .3,4.8 .4,-2.5 .3,-2.7 .4,4 .3,-1.9 .4,-3.8 .3,5.8 .4,-.3 .3,1.2 .4,-5.7 .3,5.7 .4,.9 .3,-2.3 .4,2 .3,-6.4 .4,1.3 .3,1.9 .4,2.3 .3,-5 .4,0 .3,-2.8 .4,6.6 .3,-1.4 .4,-.9 .3,-1.2 .4,-2.2 .3,3.6 .4,2.4 .3,-5.6 .4,5.1 .3,-2.6 .4,5 .3,-4.8 .4,4.3 .3,-.7 .4,-4.1 .3,3.7 .4,.5 .3,-7.1 .4,1.7 .3,4 .4,-.2 .3,-1.6 .4,-3.1 .3,4.7 .4,-.9 .3,4.6 .4,-.8 .3,-1.4 .4,-3.8 .3,5.4 .4,-.9 .3,1 .4,-2 .3,-.2 .4,-2.4 .3,-.9 .4,.6 .3,-3.6 .4,-1.6 .3,5.4 .4,.9 .3,-2.8 .4,1.6 .3,-1.2 .4,.7 .3,-.3 .4,-.8 .3,1.8 .4,.7 .3,-1.2 .4,0 .3,.1 .4,1.3 .3,-3.5 .4,3.9 .3,-2.4 .4,.8 .3,0 .4,3.4 .3,-3.2 .4,.4 .3,-2.2 .4,-2 .3,.7 .4,2.3 .3,.2 .4,2.2 .3,.6 .4,3.4 .3,-1.9 .4,-5.1 .3,5.7 .4,-9.4 .3,4.7 .4,-2.4 .3,1.3 .4,-.9 .3,.4 .4,5.3 .3,-8 .4,6.8 .3,-5.6 .4,2.7 .3,-3.3 .4,4.6 .3,-1.2 .4,-2.5 .3,-1.3 .4,-1 .3,6.3 .4,4.4 .3,-5.5 .4,4.4 .3,-4.7 .4,-.5 .3,-3.4 .4,7.9 .3,-8.8 .4,1.2 .3,3.7 .4,-.1 .3,-1 .4,2.4 .3,-2.9 .4,-3.9 .3,2.6 .4,2.3 .3,-2.4 .4,5 .3,-3.1 .4,-1.1 .3,-2.5 .4,.8 .3,4.2 .4,-1.6 .3,-3.2 .4,1.8 .3,-5.9 .4,3.1 .3,1.8 .4,-1.9 .3,3.8 .4,-1.3 .3,-1.1 .4,3.3 .3,-.6 .4,-3.1 .3,.6 .4,1.3 .3,2.8 .4,-3.2 .3,-2.6 .4,4.7 .3,-1.7 .4,.6 .3,2.4 .4,-5 .3,.6 .4,1.2 .3,-5 .4,3.5 .3,-3 .4,7.6 .3,-6.5 .4,2.1 .3,3.6 .4,1.8 .3,-4.6 .4,3.4 .3,-1.2 .4,3.5 .3,-.1 .4,-3.5 .3,1.6 .4,-4.9 .3,3.9 .4,-.1 .3,2.1 .4,1.7 .3,-3.7 .4,-.9 .3,-.5 .4,.3 .3,.2 .4,-.7 .3,-6.9 .4,2.8 .3,6.2 .4,-1.3 .3,2.3 .4,-5.3 .3,1.7 .4,.6 .3,1 .4,-1.4 .3,-1 .4,2.4 .3,-2 .4,-2.3 .3,5.3 .4,-3.2 .3,3.5 .4,.3 .3,-3.4 .4,7 .3,-.9 .4,2.1 .3,-3 .4,-1.7 .3,.4 .4,4.4 .3,-6.6 .4,2.1 .3,-3.3 .4,2.9 .3,-.1 .4,-.1 .3,.9 .4,3.2 .3,-1.9 .4,-2.4 .3,5.8 .4,-5.1 .3,-.8 .4,2.9 .3,-1.8 .4,.9 .3,-5.4 .4,3.3 .3,-3.8 .4,2.5 .3,3.5 .4,-1.6 .3,2.3 .4,2.7 .3,.1 .4,-5.7 .3,5.9 .4,-3.9 .3,-4.9 .4,.6 .3,3.4 .4,.6 .3,0 .4,-1 .3,-4.4 .4,6.8 .3,1.7 .4,-4.6 .3,2.2 .4,-3.7 .3,4.1 .4,-1 .3,-1.9 .4,5.4 .3,-2.3 .4,-5.9 .3,-3.1 .4,5.2 .3,-.4 .4,-1.3 .3,-1.9 .4,1.3 .3,6.5 .4,-6.2 .3,3.2 .4,3.7 .3,-3.8 .4,2.3 .3,-7 .4,3.7 .3,.6 .4,1.4 .3,.5 .4,-2.6 .3,.9 .4,.6 .3,-.5 .4,-.4 .3,3.3 .4,0 .3,-6.2 .4,11.6 .3,-7.2 .4,-6.1 .3,6 .4,-5.4 .3,-1.9 .4,6.1 .3,1.1 .4,1.4 .3,-1.9 .4,-1.5 .3,.7 .4,11.5 .3,21.6 .4,21.3 .3,26 .4,6.2 .3,12.8 .4,4.2 .3,6 .4,-2.1 .3,3.9 .4,-4.8 .3,.4 .4,.4 .3,2.4 .4,-.3 .3,-7.5 .4,-3.7 .3,.6 .4,-5.7 .3,-.2 .4,-1.6 .3,-5.2 .4,-.9 .3,-2.5 .4,-.3 .3,-1.4 .4,-5.5 .3,-1.4 .4,-3.2 .3,.3 .4,-5.6 .3,3.1 .4,-3.7 .3,-1.4 .4,-2.4 .3,-1.6 .4,-2 .3,-2.4 .4,-.6 .3,-2.3 .4,3.8 .3,-8.3 .4,-3.5 .3,1.6 .4,1.2 .3,-4.4 .4,-2 .3,-2.3 .4,.3 .3,5.2 .4,-5.9 .3,-2.2 .4,1.6 .3,-1.7 .4,1.3 .3,-6.4 .4,.4 .3,1.9 .4,.5 .3,-2.3 .4,-.1 .3,-4.8 .4,.5 .3,-3.1 .4,1.8 .3,1.5 .4,-3 .3,.4 .4,.7 .3,-4.1 .4,1 .3,-1.1 .4,.3 .3,-.3 .4,-6.6 .3,5.7 .4,.2 .3,-4.8 .4,3.1 .3,-3.1 .4,1.9 .3,2 .4,.1 .3,1 .4,-.2 .3,-6.2 .4,-1.7 .3,-3.9 .4,3.9 .3,-4.5 .4,-.2 .3,4.4 .4,-.2 .3,-2.6 .4,-1 .3,6 .4,-3 .3,-.5 .4,.8 .3,-1.6 .4,-3.4 .3,4.9 .4,-3.3 .3,3.1 .4,-.6 .3,1 .4,-1.1 .3,1.7 .4,-7.5 .3,5.4 .4,-.4 .3,1.3 .4,-3.3 .3,2.9 .4,-.5 .3,-8.2 .4,4.8 .3,-3.8 .4,8.1 .3,-5.3 .4,5.3 .3,-6.9 .4,.2 .3,.9 .4,-1.2 .3,5.1 .4,-.4 .3,-.2 .4,-9.9 .3,5.3 .4,2.7 .3,-.2 .4,-1.2 .3,1.1 .4,.3 .3,-3.4 .4,0 .3,7.1 .4,-4.4 .3,-.1 .4,-.5 .3,-3.7 .4,3.8 .3,1.2 .4,-2.2 .3,4.3 .4,-3.9 .3,2.9 .4,-1.1 .3,-1.1 .4,-3 .3,-.7 .4,.2 .3,4.1 .4,-3.1 .3,3 .4,.1 .3,1.7 .4,3.3 .3,-7.8 .4,-.9 .3,-.9 .4,4.2 .3,-3.4 .4,1.6 .3,-4.7 .4,1 .3,2.5 .4,.3 .3,-.5 .4,.8 .3,2.3 .4,-.9 .3,-.7 .4,.6 .3,-1 .4,3.4 .3,-.6 .4,-2 .3,.3 .4,.8 .3,1.3 .4,-2.2 .3,-1.6 .4,-.9 .3,.8 .4,3.2 .3,-4.3 .4,2.3 .3,-1.6 .4,4.8 .3,-4.8 .4,1.6 .3,-2.1 .4,2.1 .3,.9 .4,1.7 .3,-2 .4,-3 .3,7.2 .4,-7.5 .3,.3 .4,.3 .3,1.2 .4,-.8 .3,-.2 .4,.4 .3,-.8 .4,4.7 .3,-5.1 .4,2.7 .3,4.4 .4,-3.1 .3,1.1 .4,-4.2 .3,-.8 .4,4.5 .3,-4.4 .4,-2.4 .3,5.9 .4,-3.4 .3,3 .4,2.5 .3,-3.8 .4,-2.4 .3,5.2 .4,-.6 .3,-6.1" fill="none" stroke-width="1.8" stroke-linejoin="round"/>
<path d="M458.2,754.6l.4,.6 .3,-2.6 .4,6.1 .3,-.7 .4,2.2 .3,-1.8 .4,-3 .3,3.3 .4,1.5 .3,1.5 .4,-7.1 .3,2.6 .4,-3.1 .3,3.6 .4,-1.7 .3,2 .4,-2 .3,3.1 .4,-4.4 .3,-.4 .4,3.4 .3,5 .4,-4.3 .3,2.3 .4,-1.6 .3,-1.1 .4,.8 .3,-3.3 .4,3.3 .3,-1.5 .4,4.4 .3,-.3 .4,-3.7 .3,1.3 .4,-.8 .3,-1.5 .4,1.9 .3,5 .4,-7 .3,-2.8 .4,1.1 .3,6.7 .4,-2 .3,-.9 .4,-3.9 .3,3.9 .4,0 .3,-1.3 .4,-1.4 .3,1.5 .4,.3 .3,-4.4 .4,4.5 .3,.8 .4,0 .3,1.5 .4,-8.1 .3,8.5 .4,-2.8 .3,-3.1 .4,-1 .3,5.8 .4,-2 .3,1.8 .4,.7 .3,-1 .4,-1.6 .3,.6 .4,2.1 .3,-1.5 .4,.3 .3,1.2 .4,-5.8 .3,1.9 .4,-2.7 .3,.8 .4,2.2 .3,-3.3 .4,2.7 .3,2.2 .4,-.6 .3,-1.1 .4,1.6 .3,-.8 .4,1.2 .3,-.4 .4,.5 .3,-.8 .4,4.8 .3,-5.8 .4,1.3 .3,-4.5 .4,-1.7 .3,3.9 .4,3.9 .3,-5 .4,3.6 .3,-.8 .4,-1 .3,-1.8 .4,1.8 .3,.1 .4,5.1 .3,-2.4 .4,-4.1 .3,3 .4,1.3 .3,16.1 .4,16.2 .3,9.3 .4,11.8 .3,4.4 .4,3.8 .3,3.8 .4,-.2 .3,-3 .4,-1.6 .3,5.2 .4,-3 .3,.5 .4,-2.4 .3,-2.4 .4,-5.2 .3,.1 .4,-2.3 .3,-.7 .4,-1.5 .3,-2.8 .4,-.5 .3,1 .4,-3.5 .3,-.5 .4,3.7 .3,-4 .4,-.2 .3,-.7 .4,-5.5 .3,-2 .4,1.3 .3,-2.5 .4,-7.2 .3,2.2 .4,.6 .3,-1.4 .4,-1 .3,1.5 .4,-3.4 .3,.1 .4,-.6 .3,-6.2 .4,2.6 .3,.5 .4,-1.9 .3,5.8 .4,-9.7 .3,2.4 .4,-1.8 .3,-1.5 .4,3.5 .3,-1.3 .4,-3.1 .3,4.7 .4,-.1 .3,-3.3 .4,3.7 .3,-6.4 .4,1.5 .3,-1.1 .4,-.3 .3,-2.6 .4,4.6 .3,-6.1 .4,-2.4 .3,3.2 .4,-4 .3,.8 .4,-2 .3,2.3 .4,2.4 .3,-3.8 .4,6 .3,2.2 .4,-4.6 .3,-1.1 .4,-2.6 .3,3.6 .4,1.6 .3,-4.3 .4,.8 .3,-3.3 .4,5.1 .3,-6.5 .4,5.7 .3,-1.5 .4,-3.8 .3,.2 .4,-1 .3,2.8 .4,1.1 .3,.9 .4,-1.8 .3,1.7 .4,.9 .3,-7 .4,5 .3,-1.2 .4,-2.5 .3,4.5 .4,-4.1 .3,2.6 .4,-2.6 .3,-1.2 .4,1 .3,3.2 .4,-5.1 .3,4.3 .4,3.6 .3,-5.7 .4,.7 .3,-1 .4,-.5 .3,4.6 .4,-4.1 .3,2.2 .4,-4.3 .3,.6 .4,-1.4 .3,4.8 .4,1.6 .3,-2.3 .4,-1.6 .3,.2 .4,-2.9 .3,4.9 .4,1.1 .3,-.4 .4,-2.4 .3,5 .4,1.6 .3,-6.6 .4,-2.5 .3,.6 .4,2.9 .3,-1 .4,-.5 .3,1.4 .4,.3 .3,-.5 .4,0 .3,1 .4,-2.5 .3,6.5 .4,-10.1 .3,6.2 .4,-2.1 .3,.1 .4,-1.7 .3,2 .4,-2.2 .3,3.7 .4,-2.2 .3,-1.1 .4,-.9 .3,2.5 .4,-.4 .3,-.2 .4,-5.3 .3,6.3 .4,-1.1 .3,.3 .4,-.5 .3,5.3 .4,-9.2 .3,4.7 .4,1.6 .3,-1.9 .4,-1.4 .3,-.7 .4,.8 .3,1.9 .4,3.8 .3,-4.1 .4,6.3 .3,-2.4 .4,-5.4 .3,4.3 .4,-.6 .3,.9 .4,.6 .3,-3.9 .4,-3.3 .3,2.7 .4,-1.7 .3,2.5 .4,1 .3,1.3 .4,-.1 .3,-1.6 .4,4.1 .3,-2.6 .4,-6.7 .3,7.6 .4,-6.5 .3,5.4 .4,-3 .3,2.1 .4,3.8 .3,-.7 .4,-1.7 .3,1.4 .4,1.3 .3,-2.3 .4,-2.4 .3,2.7 .4,-7.8 .3,2.9 .4,-.3 .3,6.2 .4,-2.3 .3,-6.5 .4,8.2 .3,-5.7 .4,2.8 .3,1.7 .4,-1 .3,-2.8 .4,.3 .3,1.2 .4,1.7 .3,-.2 .4,-2.4 .3,-2.7 .4,1.9 .3,.9 .4,1.2 .3,-3 .4,1.2 .3,2.4 .4,-1.1 .3,.1 .4,-2.2 .3,4.4 .4,-4.1 .3,1.7 .4,.2 .3,2 .4,-2.3 .3,.5 .4,-1.2 .3,1.9 .4,-1.2 .3,-2.2 .4,3.7 .3,-3.5 .4,6.7 .3,-5.8 .4,1.9 .3,3.5 .4,-5.7 .3,2.8 .4,-5.8 .3,3.4 .4,-.1 .3,-2.3 .4,-4.4 .3,5.7 .4,5.4 .3,-2.6 .4,-5.2 .3,3.2 .4,.4 .3,-1.1 .4,.1 .3,-2 .4,2.2 .3,-3.5 .4,.5 .3,3.3 .4,2.3 .3,.4 .4,-2.7 .3,-1.4 .4,-3.5 .3,4.8 .4,-.7 .3,.8 .4,-1.9 .3,-.5 .4,2.5 .3,-1 .4,.1 .3,1 .4,-.3 .3,-1.1 .4,-1.9 .3,7.3 .4,-2.9 .3,-2.3 .4,-2.8 .3,4.2 .4,-.8 .3,-1.8 .4,-.5 .3,1.3 .4,-5.6 .3,4 .4,3 .3,7 .4,-4.1 .3,1.1 .4,-2.4 .3,1.6 .4,-2.6 .3,-2.9 .4,.8 .3,1.1 .4,-1 .3,4.1 .4,.5 .3,3.7 .4,-4.4 .3,-4.7 .4,.5 .3,4.4 .4,-5.9 .3,7.8 .4,-4.8 .3,-.5 .4,2.1 .3,1.9 .4,-3.2 .3,-2.2 .4,6.9 .3,-4.2 .4,4.6 .3,-4.3 .4,-3.5 .3,2.4 .4,1.2 .3,-2.9 .4,1.8 .3,3.3 .4,-1.1 .3,.4 .4,-2.5 .3,.2 .4,-1.4 .3,-3.2 .4,6.2 .3,-2.4 .4,3.3 .3,-.6 .4,-2.4 .3,2.3 .4,1.8 .3,-4.2 .4,4.5 .3,-3 .4,2.7 .3,-10.6 .4,2.6 .3,3.6 .4,-.1 .3,3 .4,.1 .3,-5.6 .4,5.1 .3,-3.5 .4,-.8 .3,.4 .4,-.6 .3,-1.9 .4,11.7 .3,-3.9 .4,-2.6 .3,-1.3 .4,-.2 .3,-1.7 .4,2.9 .3,1.1 .4,-2.1 .3,3.1 .4,-.7 .3,0 .4,-2.1 .3,1.3 .4,-.1 .3,-1.4 .4,-3 .3,5.4 .4,1.6 .3,.9 .4,2 .3,-8.4 .4,-1.7 .3,1.7 .4,.8 .3,.8 .4,1.4 .3,-4.1 .4,2.2 .3,2.1 .4,-1.6 .3,.3 .4,-1.3 .3,-.6 .4,6.1 .3,-6.6 .4,5.9 .3,-4.5 .4,-3.4 .3,3.8 .4,.7 .3,-3 .4,1.4 .3,2.4 .4,.4 .3,-.2 .4,-2.4 .3,-.3 .4,-.5 .3,2 .4,-.4 .3,-3 .4,2.3 .3,2 .4,-1.6 .3,.8 .4,-3.9 .3,4.7 .4,.1 .3,1.1 .4,-1.5 .3,5.8 .4,-6.5 .3,-.6 .4,.2 .3,-1.9 .4,2 .3,.8 .4,.3 .3,-3.8 .4,.9 .3,-1 .4,3.6 .3,0 .4,-1.9 .3,.2 .4,-6.2 .3,6.2 .4,-1 .3,-3.1 .4,2.7 .3,2.8 .4,3.3 .3,.5 .4,-5.4 .3,-2.8 .4,7.7 .3,-3.2 .4,2.7 .3,-6.7 .4,-.9 .3,.5 .4,3 .3,1.7 .4,-1.7 .3,2.6 .4,-8.7 .3,3.2 .4,-1 .3,.8 .4,.2 .3,1.7 .4,-1.9 .3,-1.6 .4,2.1 .3,2.3 .4,-1.2 .3,-3.7 .4,-.1 .3,5.1 .4,0 .3,-.2 .4,.3 .3,-3 .4,3 .3,-1.7 .4,2.5 .3,-1.1 .4,-4.7 .3,.9 .4,4.9 .3,.5 .4,2.4 .3,-.1 .4,-2.1 .3,-1.7 .4,-.4 .3,.4 .4,-.1 .3,3.4 .4,-8.7 .3,6.6 .4,-3.3 .3,5.8 .4,-1.5 .3,-2.3 .4,1.1 .3,-6.6 .4,-.6 .3,2.9 .4,3.7 .3,-5.1 .4,-.7 .3,-.4 .4,2.4 .3,1.9 .4,3 .3,-5.4 .4,-.4 .3,2 .4,-1.9 .3,2.8 .4,-2 .3,4.6 .4,-4.3 .3,-.8 .4,4.9 .3,2 .4,-2.2 .3,-6.2 .4,.4 .3,3.1 .4,3.2 .3,-1.5 .4,-1.8 .3,3.8 .4,-1.9 .3,-2.9 .4,4.4 .3,-3.5 .4,.1 .3,0 .4,3.5 .3,-1.1 .4,-2.2 .3,.3 .4,1.7 .3,.8 .4,-6.6 .3,.3 .4,4.4 .3,0 .4,-1 .3,1.1 .4,3.6 .3,-5.4 .4,3 .3,-1.2 .4,1 .3,1.2 .4,1.2 .3,-2.2 .4,-2.5 .3,1.9 .4,1.7 .3,.4 .4,.8 .3,.9 .4,-3.9 .3,-1.9 .4,1.3 .3,2.8 .4,-2.1 .3,.9 .4,1.5 .3,-.8 .4,-3.4 .3,5.5 .4,-5.3 .3,8.2 .4,-8.4 .3,.9 .4,1.3 .3,.7 .4,-1.7 .3,3.4 .4,-1.2 .3,-3.6 .4,-1.8 .3,5.3 .4,-6.2 .3,2.1 .4,4.9 .3,-6.3 .4,6.2 .3,-2 .4,2.1 .3,-1.2 .4,-2.1 .3,1.5 .4,-.9 .3,-.5 .4,-3.4 .3,3.1 .4,-4 .3,4.5 .4,-1.6 .3,-1.6 .4,3.7 .3,-.3 .4,1 .3,-.1 .4,7.2 .3,-7.2 .4,2.7 .3,-5.2 .4,2 .3,-3.6 .4,1.7 .3,1 .4,1 .3,-2.2 .4,1.6 .3,.1 .4,3.4 .3,-3.4 .4,2.6 .3,-2.8 .4,1 .3,4.4 .4,-5 .3,-1.5 .4,2 .3,-3.2 .4,1.8 .3,-1.5 .4,5.8 .3,-4.8 .4,2.2 .3,-3 .4,6.4 .3,-4.4 .4,-.6 .3,1.7 .4,-5.1 .3,7 .4,-5.5 .3,1.2 .4,2.1 .3,-.4 .4,-1.2 .3,1.8 .4,.9 .3,-1.5 .4,-.8 .3,-.9 .4,6.1 .3,.6 .4,-6 .3,-1.9 .4,3.4 .3,-.4 .4,.2 .3,3.8 .4,.4 .3,-3.1 .4,-1 .3,-.1 .4,1.7 .3,-.6 .4,-2.8 .3,-1.8 .4,1.2 .3,2.3 .4,1.9 .3,-1.3 .4,-.3 .3,-3.4 .4,1.1 .3,1.7 .4,4.5 .3,-3.1 .4,1.7 .3,-.3 .4,.3 .3,-3.9 .4,-.9 .3,-.4 .4,-2.3 .3,9 .4,2.1 .3,-9 .4,2.5 .3,4.1 .4,-1.7 .3,-2.6 .4,-1.5 .3,2.1 .4,-.5 .3,-.8 .4,3.9 .3,-7.1 .4,1 .3,1.5 .4,1 .3,.4 .4,3.3 .3,-1.9 .4,0 .3,-1.4 .4,.6 .3,2.7 .4,-4.3 .3,.6 .4,-1.7 .3,.2 .4,3.8 .3,1.5 .4,-6.3 .3,2.9 .4,-.1 .3,.4 .4,.9 .3,-.7 .4,-.5 .3,-1.8 .4,1 .3,4.5 .4,3.7 .3,-5.8 .4,1.5 .3,-2.8 .4,2.4 .3,-.6 .4,-.4 .3,.5 .4,2.4 .3,-5 .4,-1 .3,-2.3 .4,-1.3 .3,3.4 .4,0 .3,1.2 .4,2.9 .3,-6.9 .4,5.7 .3,-1.4 .4,4.1 .3,-5.2 .4,4.7 .3,1.5 .4,-3.1 .3,1.1 .4,-1.9 .3,-5.9 .4,4.9 .3,-.1 .4,2.4 .3,-3.5 .4,.2 .3,-1.1 .4,2.1 .3,.8 .4,2.2 .3,-1.3 .4,-1.7 .3,3 .4,-6.3 .3,1.5 .4,2.4 .3,-1.3 .4,-1.1 .3,6.5 .4,-10.4 .3,6.2 .4,-1 .3,1.2 .4,-4.2 .3,7.9 .4,-8.6 .3,3.5 .4,-.6 .3,1.2 .4,-5.1 .3,5.9 .4,2.3 .3,-1.4 .4,-2.7 .3,3 .4,-1 .3,-2.6 .4,-1.5 .3,5 .4,-4.3 .3,-.8 .4,-1.3 .3,-.4 .4,1.7 .3,.1 .4,1.6 .3,-.9 .4,-.6 .3,1.3 .4,1.9 .3,-1.2 .4,-.4 .3,4.6 .4,-12.4 .3,7.8 .4,-.5 .3,-.4 .4,-.9 .3,3.4 .4,3.1 .3,-2.8 .4,23.5 .3,20.5 .4,24.5 .3,14.6 .4,14.6 .3,10.9 .4,1.9 .3,5.6 .4,1.5 .3,-3.5 .4,-3.2 .3,1 .4,1.2 .3,-3.4 .4,-1.6 .3,-4.8 .4,2.4 .3,-4.5 .4,-6 .3,-1.9 .4,-6.2 .3,-.6 .4,-3.1 .3,-5.4 .4,.7 .3,3.8 .4,-3.4 .3,-5.9 .4,-.4 .3,-6.3 .4,4.6 .3,-9.1 .4,-.4 .3,-2.8 .4,-.1 .3,-1.3 .4,-.6 .3,4.1 .4,-8.2 .3,-1.3 .4,-2.7 .3,-3.1 .4,-2.8 .3,-1.2 .4,-.8 .3,3.3 .4,-3.4 .3,-1.8 .4,2.3 .3,-6.1 .4,3.3 .3,-8.9 .4,-1.5 .3,5.2 .4,-6.8 .3,6.4 .4,-1.5 .3,.6 .4,-3.3 .3,-4.6 .4,.3 .3,1 .4,-1.4 .3,-.5 .4,-.5 .3,4 .4,-1.6 .3,2.1 .4,-5.8 .3,-1.3 .4,-2.8 .3,-3.2 .4,4.8 .3,-2.3 .4,-.7 .3,2 .4,-2.9 .3,2.5 .4,3.6 .3,-5.2 .4,-1.7 .3,2.2 .4,-.8 .3,-1.4 .4,-.7 .3,2.3 .4,-1.8 .3,-5.7 .4,3.9 .3,.4 .4,.4 .3,-.6 .4,-1.3 .3,1.6 .4,-3.5 .3,-1.2 .4,-2.2 .3,3.5 .4,-.5 .3,-4.5 .4,.6 .3,5.8 .4,-1.8 .3,1.5 .4,-3.1 .3,-3.1 .4,3.6 .3,-.2 .4,-.2 .3,.4 .4,.5 .3,-1.5 .4,-3.2 .3,2.7 .4,-3.6 .3,.8 .4,5.8 .3,-3 .4,-1.4 .3,.5 .4,-1.5 .3,1.7 .4,-2.3 .3,4.5 .4,-1.6 .3,-3.8" fill="none" stroke-width="1.8" stroke-linejoin="round"/>
</svg></body></html>
